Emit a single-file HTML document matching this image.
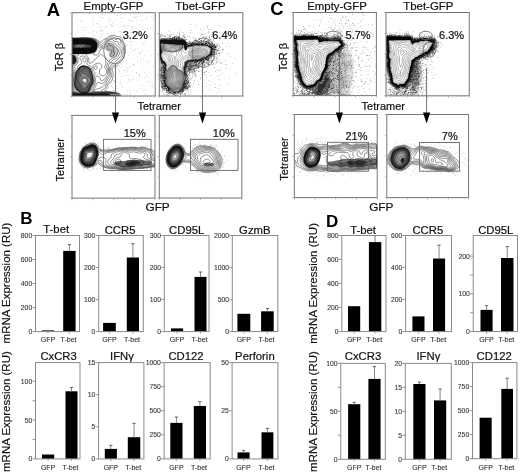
<!DOCTYPE html>
<html><head><meta charset="utf-8"><style>
html,body{margin:0;padding:0;background:#fff;width:520px;height:474px;overflow:hidden}
svg{display:block;will-change:transform}
text{font-family:"Liberation Sans", sans-serif}
</style></head><body>
<svg width="520" height="474" viewBox="0 0 520 474">
<rect width="520" height="474" fill="#fff"/>
<line x1="32.50" y1="331.60" x2="35.50" y2="331.60" stroke="#8a8a8a" stroke-width="0.9"/>
<text x="32.20" y="334.00" font-size="6.8" text-anchor="end" font-weight="normal" fill="#3a3a3a" stroke="#3a3a3a" stroke-width="0.12">0</text>
<line x1="32.50" y1="307.58" x2="35.50" y2="307.58" stroke="#8a8a8a" stroke-width="0.9"/>
<text x="32.20" y="309.98" font-size="6.8" text-anchor="end" font-weight="normal" fill="#3a3a3a" stroke="#3a3a3a" stroke-width="0.12">200</text>
<line x1="32.50" y1="283.55" x2="35.50" y2="283.55" stroke="#8a8a8a" stroke-width="0.9"/>
<text x="32.20" y="285.95" font-size="6.8" text-anchor="end" font-weight="normal" fill="#3a3a3a" stroke="#3a3a3a" stroke-width="0.12">400</text>
<line x1="32.50" y1="259.52" x2="35.50" y2="259.52" stroke="#8a8a8a" stroke-width="0.9"/>
<text x="32.20" y="261.92" font-size="6.8" text-anchor="end" font-weight="normal" fill="#3a3a3a" stroke="#3a3a3a" stroke-width="0.12">600</text>
<line x1="32.50" y1="235.50" x2="35.50" y2="235.50" stroke="#8a8a8a" stroke-width="0.9"/>
<text x="32.20" y="237.90" font-size="6.8" text-anchor="end" font-weight="normal" fill="#3a3a3a" stroke="#3a3a3a" stroke-width="0.12">800</text>
<rect x="41.80" y="330.40" width="12.30" height="1.20" fill="#000"/>
<line x1="47.95" y1="331.60" x2="47.95" y2="333.60" stroke="#8a8a8a" stroke-width="0.8"/>
<text x="47.95" y="341.60" font-size="7.0" text-anchor="middle" font-weight="normal" fill="#333" stroke="#333" stroke-width="0.12">GFP</text>
<rect x="63.20" y="250.90" width="12.40" height="80.70" fill="#000"/>
<line x1="69.40" y1="244.60" x2="69.40" y2="250.90" stroke="#777" stroke-width="0.9"/>
<line x1="67.80" y1="244.60" x2="71.00" y2="244.60" stroke="#555" stroke-width="0.9"/>
<line x1="69.40" y1="331.60" x2="69.40" y2="333.60" stroke="#8a8a8a" stroke-width="0.8"/>
<text x="68.50" y="341.60" font-size="7.0" text-anchor="middle" font-weight="normal" fill="#333" stroke="#333" stroke-width="0.12">T-bet</text>
<rect x="35.50" y="235.50" width="44.00" height="96.10" fill="none" stroke="#8a8a8a" stroke-width="1"/>
<text x="56.20" y="233.30" font-size="11.3" text-anchor="middle" font-weight="normal" fill="#111" stroke="#111" stroke-width="0.2">T-bet</text>
<line x1="95.70" y1="331.60" x2="98.70" y2="331.60" stroke="#8a8a8a" stroke-width="0.9"/>
<text x="95.40" y="334.00" font-size="6.8" text-anchor="end" font-weight="normal" fill="#3a3a3a" stroke="#3a3a3a" stroke-width="0.12">0</text>
<line x1="95.70" y1="299.57" x2="98.70" y2="299.57" stroke="#8a8a8a" stroke-width="0.9"/>
<text x="95.40" y="301.97" font-size="6.8" text-anchor="end" font-weight="normal" fill="#3a3a3a" stroke="#3a3a3a" stroke-width="0.12">100</text>
<line x1="95.70" y1="267.53" x2="98.70" y2="267.53" stroke="#8a8a8a" stroke-width="0.9"/>
<text x="95.40" y="269.93" font-size="6.8" text-anchor="end" font-weight="normal" fill="#3a3a3a" stroke="#3a3a3a" stroke-width="0.12">200</text>
<line x1="95.70" y1="235.50" x2="98.70" y2="235.50" stroke="#8a8a8a" stroke-width="0.9"/>
<text x="95.40" y="237.90" font-size="6.8" text-anchor="end" font-weight="normal" fill="#3a3a3a" stroke="#3a3a3a" stroke-width="0.12">300</text>
<rect x="103.10" y="322.90" width="12.70" height="8.70" fill="#000"/>
<line x1="109.45" y1="331.60" x2="109.45" y2="333.60" stroke="#8a8a8a" stroke-width="0.8"/>
<text x="109.45" y="341.60" font-size="7.0" text-anchor="middle" font-weight="normal" fill="#333" stroke="#333" stroke-width="0.12">GFP</text>
<rect x="126.80" y="257.50" width="12.20" height="74.10" fill="#000"/>
<line x1="132.90" y1="243.70" x2="132.90" y2="257.50" stroke="#777" stroke-width="0.9"/>
<line x1="131.30" y1="243.70" x2="134.50" y2="243.70" stroke="#555" stroke-width="0.9"/>
<line x1="132.90" y1="331.60" x2="132.90" y2="333.60" stroke="#8a8a8a" stroke-width="0.8"/>
<text x="132.00" y="341.60" font-size="7.0" text-anchor="middle" font-weight="normal" fill="#333" stroke="#333" stroke-width="0.12">T-bet</text>
<rect x="98.70" y="235.50" width="44.60" height="96.10" fill="none" stroke="#8a8a8a" stroke-width="1"/>
<text x="120.10" y="233.80" font-size="11.3" text-anchor="middle" font-weight="normal" fill="#111" stroke="#111" stroke-width="0.2">CCR5</text>
<line x1="161.30" y1="331.60" x2="164.30" y2="331.60" stroke="#8a8a8a" stroke-width="0.9"/>
<text x="161.00" y="334.00" font-size="6.8" text-anchor="end" font-weight="normal" fill="#3a3a3a" stroke="#3a3a3a" stroke-width="0.12">0</text>
<line x1="161.30" y1="299.57" x2="164.30" y2="299.57" stroke="#8a8a8a" stroke-width="0.9"/>
<text x="161.00" y="301.97" font-size="6.8" text-anchor="end" font-weight="normal" fill="#3a3a3a" stroke="#3a3a3a" stroke-width="0.12">100</text>
<line x1="161.30" y1="267.53" x2="164.30" y2="267.53" stroke="#8a8a8a" stroke-width="0.9"/>
<text x="161.00" y="269.93" font-size="6.8" text-anchor="end" font-weight="normal" fill="#3a3a3a" stroke="#3a3a3a" stroke-width="0.12">200</text>
<line x1="161.30" y1="235.50" x2="164.30" y2="235.50" stroke="#8a8a8a" stroke-width="0.9"/>
<text x="161.00" y="237.90" font-size="6.8" text-anchor="end" font-weight="normal" fill="#3a3a3a" stroke="#3a3a3a" stroke-width="0.12">300</text>
<rect x="171.00" y="328.40" width="12.10" height="3.20" fill="#000"/>
<line x1="177.05" y1="331.60" x2="177.05" y2="333.60" stroke="#8a8a8a" stroke-width="0.8"/>
<text x="177.05" y="341.60" font-size="7.0" text-anchor="middle" font-weight="normal" fill="#333" stroke="#333" stroke-width="0.12">GFP</text>
<rect x="194.50" y="276.90" width="12.00" height="54.70" fill="#000"/>
<line x1="200.50" y1="272.00" x2="200.50" y2="276.90" stroke="#777" stroke-width="0.9"/>
<line x1="198.90" y1="272.00" x2="202.10" y2="272.00" stroke="#555" stroke-width="0.9"/>
<line x1="200.50" y1="331.60" x2="200.50" y2="333.60" stroke="#8a8a8a" stroke-width="0.8"/>
<text x="199.60" y="341.60" font-size="7.0" text-anchor="middle" font-weight="normal" fill="#333" stroke="#333" stroke-width="0.12">T-bet</text>
<rect x="164.30" y="235.50" width="44.70" height="96.10" fill="none" stroke="#8a8a8a" stroke-width="1"/>
<text x="186.70" y="233.80" font-size="11.3" text-anchor="middle" font-weight="normal" fill="#111" stroke="#111" stroke-width="0.2">CD95L</text>
<line x1="229.30" y1="331.60" x2="232.30" y2="331.60" stroke="#8a8a8a" stroke-width="0.9"/>
<text x="229.00" y="334.00" font-size="6.8" text-anchor="end" font-weight="normal" fill="#3a3a3a" stroke="#3a3a3a" stroke-width="0.12">0</text>
<line x1="229.30" y1="299.80" x2="232.30" y2="299.80" stroke="#8a8a8a" stroke-width="0.9"/>
<text x="229.00" y="302.20" font-size="6.8" text-anchor="end" font-weight="normal" fill="#3a3a3a" stroke="#3a3a3a" stroke-width="0.12">500</text>
<line x1="229.30" y1="267.60" x2="232.30" y2="267.60" stroke="#8a8a8a" stroke-width="0.9"/>
<text x="229.00" y="270.00" font-size="6.8" text-anchor="end" font-weight="normal" fill="#3a3a3a" stroke="#3a3a3a" stroke-width="0.12">1000</text>
<line x1="229.30" y1="235.50" x2="232.30" y2="235.50" stroke="#8a8a8a" stroke-width="0.9"/>
<text x="229.00" y="237.90" font-size="6.8" text-anchor="end" font-weight="normal" fill="#3a3a3a" stroke="#3a3a3a" stroke-width="0.12">2000</text>
<rect x="237.40" y="313.80" width="12.90" height="17.80" fill="#000"/>
<line x1="243.85" y1="331.60" x2="243.85" y2="333.60" stroke="#8a8a8a" stroke-width="0.8"/>
<text x="243.85" y="341.60" font-size="7.0" text-anchor="middle" font-weight="normal" fill="#333" stroke="#333" stroke-width="0.12">GFP</text>
<rect x="261.10" y="311.30" width="12.60" height="20.30" fill="#000"/>
<line x1="267.40" y1="308.50" x2="267.40" y2="311.30" stroke="#777" stroke-width="0.9"/>
<line x1="265.80" y1="308.50" x2="269.00" y2="308.50" stroke="#555" stroke-width="0.9"/>
<line x1="267.40" y1="331.60" x2="267.40" y2="333.60" stroke="#8a8a8a" stroke-width="0.8"/>
<text x="266.50" y="341.60" font-size="7.0" text-anchor="middle" font-weight="normal" fill="#333" stroke="#333" stroke-width="0.12">T-bet</text>
<rect x="232.30" y="235.50" width="45.50" height="96.10" fill="none" stroke="#8a8a8a" stroke-width="1"/>
<text x="254.80" y="233.80" font-size="11.3" text-anchor="middle" font-weight="normal" fill="#111" stroke="#111" stroke-width="0.2">GzmB</text>
<line x1="32.50" y1="458.70" x2="35.50" y2="458.70" stroke="#8a8a8a" stroke-width="0.9"/>
<text x="32.20" y="461.10" font-size="6.8" text-anchor="end" font-weight="normal" fill="#3a3a3a" stroke="#3a3a3a" stroke-width="0.12">0</text>
<line x1="32.50" y1="439.40" x2="35.50" y2="439.40" stroke="#8a8a8a" stroke-width="0.9"/>
<line x1="32.50" y1="420.10" x2="35.50" y2="420.10" stroke="#8a8a8a" stroke-width="0.9"/>
<text x="32.20" y="422.50" font-size="6.8" text-anchor="end" font-weight="normal" fill="#3a3a3a" stroke="#3a3a3a" stroke-width="0.12">50</text>
<line x1="32.50" y1="400.80" x2="35.50" y2="400.80" stroke="#8a8a8a" stroke-width="0.9"/>
<line x1="32.50" y1="381.20" x2="35.50" y2="381.20" stroke="#8a8a8a" stroke-width="0.9"/>
<text x="32.20" y="383.60" font-size="6.8" text-anchor="end" font-weight="normal" fill="#3a3a3a" stroke="#3a3a3a" stroke-width="0.12">100</text>
<rect x="42.00" y="454.50" width="12.20" height="4.40" fill="#000"/>
<line x1="48.10" y1="458.90" x2="48.10" y2="460.90" stroke="#8a8a8a" stroke-width="0.8"/>
<text x="48.10" y="469.50" font-size="7.0" text-anchor="middle" font-weight="normal" fill="#333" stroke="#333" stroke-width="0.12">GFP</text>
<rect x="65.50" y="391.30" width="12.00" height="67.60" fill="#000"/>
<line x1="71.50" y1="387.50" x2="71.50" y2="391.30" stroke="#777" stroke-width="0.9"/>
<line x1="69.90" y1="387.50" x2="73.10" y2="387.50" stroke="#555" stroke-width="0.9"/>
<line x1="71.50" y1="458.90" x2="71.50" y2="460.90" stroke="#8a8a8a" stroke-width="0.8"/>
<text x="70.60" y="469.50" font-size="7.0" text-anchor="middle" font-weight="normal" fill="#333" stroke="#333" stroke-width="0.12">T-bet</text>
<rect x="35.50" y="362.60" width="44.50" height="96.30" fill="none" stroke="#8a8a8a" stroke-width="1"/>
<text x="58.60" y="359.70" font-size="11.3" text-anchor="middle" font-weight="normal" fill="#111" stroke="#111" stroke-width="0.2">CxCR3</text>
<line x1="95.60" y1="458.90" x2="98.60" y2="458.90" stroke="#8a8a8a" stroke-width="0.9"/>
<text x="95.30" y="461.30" font-size="6.8" text-anchor="end" font-weight="normal" fill="#3a3a3a" stroke="#3a3a3a" stroke-width="0.12">0</text>
<line x1="95.60" y1="426.80" x2="98.60" y2="426.80" stroke="#8a8a8a" stroke-width="0.9"/>
<text x="95.30" y="429.20" font-size="6.8" text-anchor="end" font-weight="normal" fill="#3a3a3a" stroke="#3a3a3a" stroke-width="0.12">5</text>
<line x1="95.60" y1="394.70" x2="98.60" y2="394.70" stroke="#8a8a8a" stroke-width="0.9"/>
<text x="95.30" y="397.10" font-size="6.8" text-anchor="end" font-weight="normal" fill="#3a3a3a" stroke="#3a3a3a" stroke-width="0.12">10</text>
<line x1="95.60" y1="362.60" x2="98.60" y2="362.60" stroke="#8a8a8a" stroke-width="0.9"/>
<text x="95.30" y="365.00" font-size="6.8" text-anchor="end" font-weight="normal" fill="#3a3a3a" stroke="#3a3a3a" stroke-width="0.12">15</text>
<rect x="104.80" y="448.90" width="12.10" height="10.00" fill="#000"/>
<line x1="110.85" y1="445.30" x2="110.85" y2="448.90" stroke="#777" stroke-width="0.9"/>
<line x1="109.25" y1="445.30" x2="112.45" y2="445.30" stroke="#555" stroke-width="0.9"/>
<line x1="110.85" y1="458.90" x2="110.85" y2="460.90" stroke="#8a8a8a" stroke-width="0.8"/>
<text x="110.85" y="469.50" font-size="7.0" text-anchor="middle" font-weight="normal" fill="#333" stroke="#333" stroke-width="0.12">GFP</text>
<rect x="127.80" y="437.20" width="12.50" height="21.70" fill="#000"/>
<line x1="134.05" y1="423.40" x2="134.05" y2="437.20" stroke="#777" stroke-width="0.9"/>
<line x1="132.45" y1="423.40" x2="135.65" y2="423.40" stroke="#555" stroke-width="0.9"/>
<line x1="134.05" y1="458.90" x2="134.05" y2="460.90" stroke="#8a8a8a" stroke-width="0.8"/>
<text x="133.15" y="469.50" font-size="7.0" text-anchor="middle" font-weight="normal" fill="#333" stroke="#333" stroke-width="0.12">T-bet</text>
<rect x="98.60" y="362.60" width="45.30" height="96.30" fill="none" stroke="#8a8a8a" stroke-width="1"/>
<text x="122.00" y="359.80" font-size="11.3" text-anchor="middle" font-weight="normal" fill="#111" stroke="#111" stroke-width="0.2">IFN&#947;</text>
<line x1="161.10" y1="458.90" x2="164.10" y2="458.90" stroke="#8a8a8a" stroke-width="0.9"/>
<text x="160.80" y="461.30" font-size="6.8" text-anchor="end" font-weight="normal" fill="#3a3a3a" stroke="#3a3a3a" stroke-width="0.12">0</text>
<line x1="161.10" y1="434.82" x2="164.10" y2="434.82" stroke="#8a8a8a" stroke-width="0.9"/>
<text x="160.80" y="437.22" font-size="6.8" text-anchor="end" font-weight="normal" fill="#3a3a3a" stroke="#3a3a3a" stroke-width="0.12">250</text>
<line x1="161.10" y1="410.75" x2="164.10" y2="410.75" stroke="#8a8a8a" stroke-width="0.9"/>
<text x="160.80" y="413.15" font-size="6.8" text-anchor="end" font-weight="normal" fill="#3a3a3a" stroke="#3a3a3a" stroke-width="0.12">500</text>
<line x1="161.10" y1="386.68" x2="164.10" y2="386.68" stroke="#8a8a8a" stroke-width="0.9"/>
<text x="160.80" y="389.07" font-size="6.8" text-anchor="end" font-weight="normal" fill="#3a3a3a" stroke="#3a3a3a" stroke-width="0.12">750</text>
<line x1="161.10" y1="362.60" x2="164.10" y2="362.60" stroke="#8a8a8a" stroke-width="0.9"/>
<text x="160.80" y="365.00" font-size="6.8" text-anchor="end" font-weight="normal" fill="#3a3a3a" stroke="#3a3a3a" stroke-width="0.12">1000</text>
<rect x="170.30" y="422.90" width="12.20" height="36.00" fill="#000"/>
<line x1="176.40" y1="417.00" x2="176.40" y2="422.90" stroke="#777" stroke-width="0.9"/>
<line x1="174.80" y1="417.00" x2="178.00" y2="417.00" stroke="#555" stroke-width="0.9"/>
<line x1="176.40" y1="458.90" x2="176.40" y2="460.90" stroke="#8a8a8a" stroke-width="0.8"/>
<text x="176.40" y="469.50" font-size="7.0" text-anchor="middle" font-weight="normal" fill="#333" stroke="#333" stroke-width="0.12">GFP</text>
<rect x="193.80" y="406.00" width="12.20" height="52.90" fill="#000"/>
<line x1="199.90" y1="401.70" x2="199.90" y2="406.00" stroke="#777" stroke-width="0.9"/>
<line x1="198.30" y1="401.70" x2="201.50" y2="401.70" stroke="#555" stroke-width="0.9"/>
<line x1="199.90" y1="458.90" x2="199.90" y2="460.90" stroke="#8a8a8a" stroke-width="0.8"/>
<text x="199.00" y="469.50" font-size="7.0" text-anchor="middle" font-weight="normal" fill="#333" stroke="#333" stroke-width="0.12">T-bet</text>
<rect x="164.10" y="362.60" width="46.10" height="96.30" fill="none" stroke="#8a8a8a" stroke-width="1"/>
<text x="186.00" y="359.80" font-size="11.3" text-anchor="middle" font-weight="normal" fill="#111" stroke="#111" stroke-width="0.2">CD122</text>
<line x1="229.10" y1="458.90" x2="232.10" y2="458.90" stroke="#8a8a8a" stroke-width="0.9"/>
<text x="228.80" y="461.30" font-size="6.8" text-anchor="end" font-weight="normal" fill="#3a3a3a" stroke="#3a3a3a" stroke-width="0.12">0</text>
<line x1="229.10" y1="410.75" x2="232.10" y2="410.75" stroke="#8a8a8a" stroke-width="0.9"/>
<text x="228.80" y="413.15" font-size="6.8" text-anchor="end" font-weight="normal" fill="#3a3a3a" stroke="#3a3a3a" stroke-width="0.12">25</text>
<line x1="229.10" y1="362.60" x2="232.10" y2="362.60" stroke="#8a8a8a" stroke-width="0.9"/>
<text x="228.80" y="365.00" font-size="6.8" text-anchor="end" font-weight="normal" fill="#3a3a3a" stroke="#3a3a3a" stroke-width="0.12">50</text>
<rect x="237.50" y="452.40" width="12.10" height="6.50" fill="#000"/>
<line x1="243.55" y1="450.40" x2="243.55" y2="452.40" stroke="#777" stroke-width="0.9"/>
<line x1="241.95" y1="450.40" x2="245.15" y2="450.40" stroke="#555" stroke-width="0.9"/>
<line x1="243.55" y1="458.90" x2="243.55" y2="460.90" stroke="#8a8a8a" stroke-width="0.8"/>
<text x="243.55" y="469.50" font-size="7.0" text-anchor="middle" font-weight="normal" fill="#333" stroke="#333" stroke-width="0.12">GFP</text>
<rect x="261.50" y="432.30" width="11.90" height="26.60" fill="#000"/>
<line x1="267.45" y1="428.30" x2="267.45" y2="432.30" stroke="#777" stroke-width="0.9"/>
<line x1="265.85" y1="428.30" x2="269.05" y2="428.30" stroke="#555" stroke-width="0.9"/>
<line x1="267.45" y1="458.90" x2="267.45" y2="460.90" stroke="#8a8a8a" stroke-width="0.8"/>
<text x="266.55" y="469.50" font-size="7.0" text-anchor="middle" font-weight="normal" fill="#333" stroke="#333" stroke-width="0.12">T-bet</text>
<rect x="232.10" y="362.60" width="45.80" height="96.30" fill="none" stroke="#8a8a8a" stroke-width="1"/>
<text x="254.90" y="359.80" font-size="11.3" text-anchor="middle" font-weight="normal" fill="#111" stroke="#111" stroke-width="0.2">Perforin</text>
<line x1="338.80" y1="331.60" x2="341.80" y2="331.60" stroke="#8a8a8a" stroke-width="0.9"/>
<text x="338.50" y="334.00" font-size="6.8" text-anchor="end" font-weight="normal" fill="#3a3a3a" stroke="#3a3a3a" stroke-width="0.12">0</text>
<line x1="338.80" y1="307.58" x2="341.80" y2="307.58" stroke="#8a8a8a" stroke-width="0.9"/>
<text x="338.50" y="309.98" font-size="6.8" text-anchor="end" font-weight="normal" fill="#3a3a3a" stroke="#3a3a3a" stroke-width="0.12">200</text>
<line x1="338.80" y1="283.55" x2="341.80" y2="283.55" stroke="#8a8a8a" stroke-width="0.9"/>
<text x="338.50" y="285.95" font-size="6.8" text-anchor="end" font-weight="normal" fill="#3a3a3a" stroke="#3a3a3a" stroke-width="0.12">400</text>
<line x1="338.80" y1="259.52" x2="341.80" y2="259.52" stroke="#8a8a8a" stroke-width="0.9"/>
<text x="338.50" y="261.92" font-size="6.8" text-anchor="end" font-weight="normal" fill="#3a3a3a" stroke="#3a3a3a" stroke-width="0.12">600</text>
<line x1="338.80" y1="235.50" x2="341.80" y2="235.50" stroke="#8a8a8a" stroke-width="0.9"/>
<text x="338.50" y="237.90" font-size="6.8" text-anchor="end" font-weight="normal" fill="#3a3a3a" stroke="#3a3a3a" stroke-width="0.12">800</text>
<rect x="348.00" y="306.20" width="12.20" height="25.40" fill="#000"/>
<line x1="354.10" y1="331.60" x2="354.10" y2="333.60" stroke="#8a8a8a" stroke-width="0.8"/>
<text x="354.10" y="341.80" font-size="7.0" text-anchor="middle" font-weight="normal" fill="#333" stroke="#333" stroke-width="0.12">GFP</text>
<rect x="368.90" y="242.10" width="12.40" height="89.50" fill="#000"/>
<line x1="375.10" y1="235.70" x2="375.10" y2="242.10" stroke="#777" stroke-width="0.9"/>
<line x1="373.50" y1="235.70" x2="376.70" y2="235.70" stroke="#555" stroke-width="0.9"/>
<line x1="375.10" y1="331.60" x2="375.10" y2="333.60" stroke="#8a8a8a" stroke-width="0.8"/>
<text x="374.20" y="341.80" font-size="7.0" text-anchor="middle" font-weight="normal" fill="#333" stroke="#333" stroke-width="0.12">T-bet</text>
<rect x="341.80" y="235.50" width="44.20" height="96.10" fill="none" stroke="#8a8a8a" stroke-width="1"/>
<text x="363.00" y="233.80" font-size="11.3" text-anchor="middle" font-weight="normal" fill="#111" stroke="#111" stroke-width="0.2">T-bet</text>
<line x1="402.60" y1="331.60" x2="405.60" y2="331.60" stroke="#8a8a8a" stroke-width="0.9"/>
<text x="402.30" y="334.00" font-size="6.8" text-anchor="end" font-weight="normal" fill="#3a3a3a" stroke="#3a3a3a" stroke-width="0.12">0</text>
<line x1="402.60" y1="299.57" x2="405.60" y2="299.57" stroke="#8a8a8a" stroke-width="0.9"/>
<text x="402.30" y="301.97" font-size="6.8" text-anchor="end" font-weight="normal" fill="#3a3a3a" stroke="#3a3a3a" stroke-width="0.12">200</text>
<line x1="402.60" y1="267.53" x2="405.60" y2="267.53" stroke="#8a8a8a" stroke-width="0.9"/>
<text x="402.30" y="269.93" font-size="6.8" text-anchor="end" font-weight="normal" fill="#3a3a3a" stroke="#3a3a3a" stroke-width="0.12">400</text>
<line x1="402.60" y1="235.50" x2="405.60" y2="235.50" stroke="#8a8a8a" stroke-width="0.9"/>
<text x="402.30" y="237.90" font-size="6.8" text-anchor="end" font-weight="normal" fill="#3a3a3a" stroke="#3a3a3a" stroke-width="0.12">600</text>
<rect x="412.40" y="316.40" width="12.10" height="15.20" fill="#000"/>
<line x1="418.45" y1="331.60" x2="418.45" y2="333.60" stroke="#8a8a8a" stroke-width="0.8"/>
<text x="418.45" y="341.80" font-size="7.0" text-anchor="middle" font-weight="normal" fill="#333" stroke="#333" stroke-width="0.12">GFP</text>
<rect x="433.00" y="258.50" width="12.10" height="73.10" fill="#000"/>
<line x1="439.05" y1="245.20" x2="439.05" y2="258.50" stroke="#777" stroke-width="0.9"/>
<line x1="437.45" y1="245.20" x2="440.65" y2="245.20" stroke="#555" stroke-width="0.9"/>
<line x1="439.05" y1="331.60" x2="439.05" y2="333.60" stroke="#8a8a8a" stroke-width="0.8"/>
<text x="438.15" y="341.80" font-size="7.0" text-anchor="middle" font-weight="normal" fill="#333" stroke="#333" stroke-width="0.12">T-bet</text>
<rect x="405.60" y="235.50" width="45.90" height="96.10" fill="none" stroke="#8a8a8a" stroke-width="1"/>
<text x="427.80" y="233.60" font-size="11.3" text-anchor="middle" font-weight="normal" fill="#111" stroke="#111" stroke-width="0.2">CCR5</text>
<line x1="470.20" y1="331.50" x2="473.20" y2="331.50" stroke="#8a8a8a" stroke-width="0.9"/>
<text x="469.90" y="333.90" font-size="6.8" text-anchor="end" font-weight="normal" fill="#3a3a3a" stroke="#3a3a3a" stroke-width="0.12">0</text>
<line x1="470.20" y1="312.65" x2="473.20" y2="312.65" stroke="#8a8a8a" stroke-width="0.9"/>
<line x1="470.20" y1="293.80" x2="473.20" y2="293.80" stroke="#8a8a8a" stroke-width="0.9"/>
<text x="469.90" y="296.20" font-size="6.8" text-anchor="end" font-weight="normal" fill="#3a3a3a" stroke="#3a3a3a" stroke-width="0.12">100</text>
<line x1="470.20" y1="274.95" x2="473.20" y2="274.95" stroke="#8a8a8a" stroke-width="0.9"/>
<line x1="470.20" y1="256.10" x2="473.20" y2="256.10" stroke="#8a8a8a" stroke-width="0.9"/>
<text x="469.90" y="258.50" font-size="6.8" text-anchor="end" font-weight="normal" fill="#3a3a3a" stroke="#3a3a3a" stroke-width="0.12">200</text>
<rect x="480.50" y="309.90" width="12.10" height="21.70" fill="#000"/>
<line x1="486.55" y1="305.70" x2="486.55" y2="309.90" stroke="#777" stroke-width="0.9"/>
<line x1="484.95" y1="305.70" x2="488.15" y2="305.70" stroke="#555" stroke-width="0.9"/>
<line x1="486.55" y1="331.60" x2="486.55" y2="333.60" stroke="#8a8a8a" stroke-width="0.8"/>
<text x="486.55" y="341.80" font-size="7.0" text-anchor="middle" font-weight="normal" fill="#333" stroke="#333" stroke-width="0.12">GFP</text>
<rect x="501.00" y="258.00" width="12.50" height="73.60" fill="#000"/>
<line x1="507.25" y1="246.60" x2="507.25" y2="258.00" stroke="#777" stroke-width="0.9"/>
<line x1="505.65" y1="246.60" x2="508.85" y2="246.60" stroke="#555" stroke-width="0.9"/>
<line x1="507.25" y1="331.60" x2="507.25" y2="333.60" stroke="#8a8a8a" stroke-width="0.8"/>
<text x="506.35" y="341.80" font-size="7.0" text-anchor="middle" font-weight="normal" fill="#333" stroke="#333" stroke-width="0.12">T-bet</text>
<rect x="473.20" y="235.50" width="44.30" height="96.10" fill="none" stroke="#8a8a8a" stroke-width="1"/>
<text x="495.80" y="233.60" font-size="11.3" text-anchor="middle" font-weight="normal" fill="#111" stroke="#111" stroke-width="0.2">CD95L</text>
<line x1="337.80" y1="459.30" x2="340.80" y2="459.30" stroke="#8a8a8a" stroke-width="0.9"/>
<text x="337.50" y="461.70" font-size="6.8" text-anchor="end" font-weight="normal" fill="#3a3a3a" stroke="#3a3a3a" stroke-width="0.12">0</text>
<line x1="337.80" y1="435.32" x2="340.80" y2="435.32" stroke="#8a8a8a" stroke-width="0.9"/>
<line x1="337.80" y1="411.35" x2="340.80" y2="411.35" stroke="#8a8a8a" stroke-width="0.9"/>
<text x="337.50" y="413.75" font-size="6.8" text-anchor="end" font-weight="normal" fill="#3a3a3a" stroke="#3a3a3a" stroke-width="0.12">50</text>
<line x1="337.80" y1="387.38" x2="340.80" y2="387.38" stroke="#8a8a8a" stroke-width="0.9"/>
<line x1="337.80" y1="363.40" x2="340.80" y2="363.40" stroke="#8a8a8a" stroke-width="0.9"/>
<text x="337.50" y="365.80" font-size="6.8" text-anchor="end" font-weight="normal" fill="#3a3a3a" stroke="#3a3a3a" stroke-width="0.12">100</text>
<rect x="348.10" y="404.20" width="12.20" height="55.10" fill="#000"/>
<line x1="354.20" y1="402.30" x2="354.20" y2="404.20" stroke="#777" stroke-width="0.9"/>
<line x1="352.60" y1="402.30" x2="355.80" y2="402.30" stroke="#555" stroke-width="0.9"/>
<line x1="354.20" y1="459.30" x2="354.20" y2="461.30" stroke="#8a8a8a" stroke-width="0.8"/>
<text x="354.20" y="469.60" font-size="7.0" text-anchor="middle" font-weight="normal" fill="#333" stroke="#333" stroke-width="0.12">GFP</text>
<rect x="368.40" y="378.90" width="12.20" height="80.40" fill="#000"/>
<line x1="374.50" y1="366.60" x2="374.50" y2="378.90" stroke="#777" stroke-width="0.9"/>
<line x1="372.90" y1="366.60" x2="376.10" y2="366.60" stroke="#555" stroke-width="0.9"/>
<line x1="374.50" y1="459.30" x2="374.50" y2="461.30" stroke="#8a8a8a" stroke-width="0.8"/>
<text x="373.60" y="469.60" font-size="7.0" text-anchor="middle" font-weight="normal" fill="#333" stroke="#333" stroke-width="0.12">T-bet</text>
<rect x="340.80" y="363.40" width="44.50" height="95.90" fill="none" stroke="#8a8a8a" stroke-width="1"/>
<text x="363.00" y="359.80" font-size="11.3" text-anchor="middle" font-weight="normal" fill="#111" stroke="#111" stroke-width="0.2">CxCR3</text>
<line x1="402.30" y1="459.30" x2="405.30" y2="459.30" stroke="#8a8a8a" stroke-width="0.9"/>
<text x="402.00" y="461.70" font-size="6.8" text-anchor="end" font-weight="normal" fill="#3a3a3a" stroke="#3a3a3a" stroke-width="0.12">0</text>
<line x1="402.30" y1="435.32" x2="405.30" y2="435.32" stroke="#8a8a8a" stroke-width="0.9"/>
<text x="402.00" y="437.72" font-size="6.8" text-anchor="end" font-weight="normal" fill="#3a3a3a" stroke="#3a3a3a" stroke-width="0.12">5</text>
<line x1="402.30" y1="411.35" x2="405.30" y2="411.35" stroke="#8a8a8a" stroke-width="0.9"/>
<text x="402.00" y="413.75" font-size="6.8" text-anchor="end" font-weight="normal" fill="#3a3a3a" stroke="#3a3a3a" stroke-width="0.12">10</text>
<line x1="402.30" y1="387.38" x2="405.30" y2="387.38" stroke="#8a8a8a" stroke-width="0.9"/>
<text x="402.00" y="389.77" font-size="6.8" text-anchor="end" font-weight="normal" fill="#3a3a3a" stroke="#3a3a3a" stroke-width="0.12">15</text>
<line x1="402.30" y1="363.40" x2="405.30" y2="363.40" stroke="#8a8a8a" stroke-width="0.9"/>
<text x="402.00" y="365.80" font-size="6.8" text-anchor="end" font-weight="normal" fill="#3a3a3a" stroke="#3a3a3a" stroke-width="0.12">20</text>
<rect x="413.30" y="384.00" width="12.20" height="75.30" fill="#000"/>
<line x1="419.40" y1="382.10" x2="419.40" y2="384.00" stroke="#777" stroke-width="0.9"/>
<line x1="417.80" y1="382.10" x2="421.00" y2="382.10" stroke="#555" stroke-width="0.9"/>
<line x1="419.40" y1="459.30" x2="419.40" y2="461.30" stroke="#8a8a8a" stroke-width="0.8"/>
<text x="419.40" y="469.60" font-size="7.0" text-anchor="middle" font-weight="normal" fill="#333" stroke="#333" stroke-width="0.12">GFP</text>
<rect x="434.00" y="400.40" width="12.20" height="58.90" fill="#000"/>
<line x1="440.10" y1="389.00" x2="440.10" y2="400.40" stroke="#777" stroke-width="0.9"/>
<line x1="438.50" y1="389.00" x2="441.70" y2="389.00" stroke="#555" stroke-width="0.9"/>
<line x1="440.10" y1="459.30" x2="440.10" y2="461.30" stroke="#8a8a8a" stroke-width="0.8"/>
<text x="439.20" y="469.60" font-size="7.0" text-anchor="middle" font-weight="normal" fill="#333" stroke="#333" stroke-width="0.12">T-bet</text>
<rect x="405.30" y="363.40" width="46.00" height="95.90" fill="none" stroke="#8a8a8a" stroke-width="1"/>
<text x="428.40" y="360.00" font-size="11.3" text-anchor="middle" font-weight="normal" fill="#111" stroke="#111" stroke-width="0.2">IFN&#947;</text>
<line x1="469.50" y1="458.70" x2="472.50" y2="458.70" stroke="#8a8a8a" stroke-width="0.9"/>
<text x="469.20" y="461.10" font-size="6.8" text-anchor="end" font-weight="normal" fill="#3a3a3a" stroke="#3a3a3a" stroke-width="0.12">0</text>
<line x1="469.50" y1="434.67" x2="472.50" y2="434.67" stroke="#8a8a8a" stroke-width="0.9"/>
<text x="469.20" y="437.07" font-size="6.8" text-anchor="end" font-weight="normal" fill="#3a3a3a" stroke="#3a3a3a" stroke-width="0.12">250</text>
<line x1="469.50" y1="410.65" x2="472.50" y2="410.65" stroke="#8a8a8a" stroke-width="0.9"/>
<text x="469.20" y="413.05" font-size="6.8" text-anchor="end" font-weight="normal" fill="#3a3a3a" stroke="#3a3a3a" stroke-width="0.12">500</text>
<line x1="469.50" y1="386.62" x2="472.50" y2="386.62" stroke="#8a8a8a" stroke-width="0.9"/>
<text x="469.20" y="389.02" font-size="6.8" text-anchor="end" font-weight="normal" fill="#3a3a3a" stroke="#3a3a3a" stroke-width="0.12">750</text>
<line x1="469.50" y1="362.60" x2="472.50" y2="362.60" stroke="#8a8a8a" stroke-width="0.9"/>
<text x="469.20" y="365.00" font-size="6.8" text-anchor="end" font-weight="normal" fill="#3a3a3a" stroke="#3a3a3a" stroke-width="0.12">1000</text>
<rect x="479.60" y="417.70" width="12.10" height="41.00" fill="#000"/>
<line x1="485.65" y1="458.70" x2="485.65" y2="460.70" stroke="#8a8a8a" stroke-width="0.8"/>
<text x="485.65" y="469.60" font-size="7.0" text-anchor="middle" font-weight="normal" fill="#333" stroke="#333" stroke-width="0.12">GFP</text>
<rect x="501.30" y="388.90" width="11.70" height="69.80" fill="#000"/>
<line x1="507.15" y1="378.20" x2="507.15" y2="388.90" stroke="#777" stroke-width="0.9"/>
<line x1="505.55" y1="378.20" x2="508.75" y2="378.20" stroke="#555" stroke-width="0.9"/>
<line x1="507.15" y1="458.70" x2="507.15" y2="460.70" stroke="#8a8a8a" stroke-width="0.8"/>
<text x="506.25" y="469.60" font-size="7.0" text-anchor="middle" font-weight="normal" fill="#333" stroke="#333" stroke-width="0.12">T-bet</text>
<rect x="472.50" y="362.60" width="44.40" height="96.10" fill="none" stroke="#8a8a8a" stroke-width="1"/>
<text x="494.20" y="360.40" font-size="11.3" text-anchor="middle" font-weight="normal" fill="#111" stroke="#111" stroke-width="0.2">CD122</text>
<text x="9.60" y="283.00" font-size="11.5" text-anchor="middle" font-weight="normal" fill="#111" stroke="#111" stroke-width="0.15" transform="rotate(-90 9.6 283.0)">mRNA Expression (RU)</text>
<text x="9.60" y="411.60" font-size="11.5" text-anchor="middle" font-weight="normal" fill="#111" stroke="#111" stroke-width="0.15" transform="rotate(-90 9.6 411.6)">mRNA Expression (RU)</text>
<text x="316.90" y="283.40" font-size="11.5" text-anchor="middle" font-weight="normal" fill="#111" stroke="#111" stroke-width="0.15" transform="rotate(-90 316.9 283.4)">mRNA Expression (RU)</text>
<text x="316.90" y="411.50" font-size="11.5" text-anchor="middle" font-weight="normal" fill="#111" stroke="#111" stroke-width="0.15" transform="rotate(-90 316.9 411.5)">mRNA Expression (RU)</text>
<text x="53.40" y="16.20" font-size="18.4" text-anchor="middle" font-weight="bold" fill="#000">A</text>
<text x="26.30" y="224.20" font-size="17" text-anchor="middle" font-weight="bold" fill="#000">B</text>
<text x="276.90" y="15.20" font-size="18.4" text-anchor="middle" font-weight="bold" fill="#000">C</text>
<text x="332.20" y="227.20" font-size="17" text-anchor="middle" font-weight="bold" fill="#000">D</text>
<clipPath id="ca1"><rect x="72" y="12.7" width="83.20" height="83.30"/></clipPath>
<g clip-path="url(#ca1)">
<path d="M78.2 19.8h0.6v0.6h-0.6zM111.9 69.1h0.6v0.6h-0.6zM139.9 53.8h0.6v0.6h-0.6zM121.2 21.3h0.6v0.6h-0.6zM114.0 80.9h0.6v0.6h-0.6zM114.4 75.8h0.6v0.6h-0.6zM121.6 30.8h0.6v0.6h-0.6zM138.0 39.4h0.6v0.6h-0.6zM129.5 91.5h0.6v0.6h-0.6zM141.1 69.2h0.6v0.6h-0.6zM121.8 86.4h0.6v0.6h-0.6zM140.5 16.6h0.6v0.6h-0.6zM120.9 63.2h0.6v0.6h-0.6zM82.4 27.3h0.6v0.6h-0.6zM133.0 21.5h0.6v0.6h-0.6zM122.3 66.1h0.6v0.6h-0.6zM120.8 85.6h0.6v0.6h-0.6zM117.9 69.1h0.6v0.6h-0.6zM122.2 34.3h0.6v0.6h-0.6zM81.4 34.0h0.6v0.6h-0.6zM80.7 37.1h0.6v0.6h-0.6zM144.1 42.7h0.6v0.6h-0.6zM127.0 44.4h0.6v0.6h-0.6zM116.5 68.0h0.6v0.6h-0.6zM113.5 87.7h0.6v0.6h-0.6zM102.9 37.9h0.6v0.6h-0.6zM110.5 20.7h0.6v0.6h-0.6zM128.7 78.4h0.6v0.6h-0.6zM150.3 55.7h0.6v0.6h-0.6zM101.9 40.7h0.6v0.6h-0.6zM111.0 82.0h0.6v0.6h-0.6zM135.5 49.6h0.6v0.6h-0.6zM154.7 35.7h0.6v0.6h-0.6zM92.4 18.7h0.6v0.6h-0.6zM110.2 84.0h0.6v0.6h-0.6zM93.3 22.1h0.6v0.6h-0.6zM112.3 25.1h0.6v0.6h-0.6zM152.8 65.9h0.6v0.6h-0.6zM133.9 17.0h0.6v0.6h-0.6zM111.0 86.0h0.6v0.6h-0.6zM119.8 81.1h0.6v0.6h-0.6zM115.8 91.7h0.6v0.6h-0.6zM118.8 31.5h0.6v0.6h-0.6zM99.6 35.8h0.6v0.6h-0.6zM125.1 48.9h0.6v0.6h-0.6zM150.0 27.6h0.6v0.6h-0.6zM139.5 39.5h0.6v0.6h-0.6zM84.0 29.9h0.6v0.6h-0.6zM96.4 32.7h0.6v0.6h-0.6zM129.0 88.9h0.6v0.6h-0.6zM81.1 32.2h0.6v0.6h-0.6zM106.1 90.1h0.6v0.6h-0.6zM133.7 64.4h0.6v0.6h-0.6zM115.7 88.8h0.6v0.6h-0.6zM132.4 75.0h0.6v0.6h-0.6zM106.7 37.8h0.6v0.6h-0.6zM143.2 60.0h0.6v0.6h-0.6zM138.7 88.4h0.6v0.6h-0.6zM112.8 90.8h0.6v0.6h-0.6zM120.7 13.7h0.6v0.6h-0.6zM124.6 53.1h0.6v0.6h-0.6zM136.4 16.5h0.6v0.6h-0.6zM153.2 20.4h0.6v0.6h-0.6zM155.0 46.5h0.6v0.6h-0.6zM119.6 84.4h0.6v0.6h-0.6zM123.8 25.9h0.6v0.6h-0.6zM109.5 33.9h0.6v0.6h-0.6zM145.5 31.2h0.6v0.6h-0.6zM89.0 37.0h0.6v0.6h-0.6zM120.7 64.0h0.6v0.6h-0.6zM120.9 72.9h0.6v0.6h-0.6zM104.2 14.0h0.6v0.6h-0.6zM109.9 19.5h0.6v0.6h-0.6zM139.2 53.3h0.6v0.6h-0.6zM114.9 19.9h0.6v0.6h-0.6zM125.5 60.3h0.6v0.6h-0.6zM152.0 86.6h0.6v0.6h-0.6zM127.0 52.2h0.6v0.6h-0.6zM109.6 19.0h0.6v0.6h-0.6zM126.2 70.8h0.6v0.6h-0.6zM130.4 13.8h0.6v0.6h-0.6zM92.7 31.5h0.6v0.6h-0.6zM146.6 61.1h0.6v0.6h-0.6zM151.1 16.2h0.6v0.6h-0.6zM127.0 94.8h0.6v0.6h-0.6zM109.8 91.6h0.6v0.6h-0.6zM142.6 37.5h0.6v0.6h-0.6zM144.3 70.7h0.6v0.6h-0.6zM99.1 24.2h0.6v0.6h-0.6zM118.2 82.0h0.6v0.6h-0.6zM113.4 90.5h0.6v0.6h-0.6zM137.1 60.4h0.6v0.6h-0.6zM119.5 65.7h0.6v0.6h-0.6zM145.4 88.8h0.6v0.6h-0.6zM106.7 91.7h0.6v0.6h-0.6zM127.5 68.9h0.6v0.6h-0.6zM80.4 20.9h0.6v0.6h-0.6zM114.5 82.4h0.6v0.6h-0.6zM102.1 33.8h0.6v0.6h-0.6zM129.9 66.1h0.6v0.6h-0.6zM98.1 39.7h0.6v0.6h-0.6zM86.2 26.9h0.6v0.6h-0.6zM151.0 55.2h0.6v0.6h-0.6zM143.4 43.6h0.6v0.6h-0.6zM151.9 43.8h0.6v0.6h-0.6zM151.6 38.4h0.6v0.6h-0.6zM119.8 36.4h0.6v0.6h-0.6zM116.9 14.7h0.6v0.6h-0.6zM112.3 21.9h0.6v0.6h-0.6zM91.2 15.6h0.6v0.6h-0.6zM142.2 43.2h0.6v0.6h-0.6zM102.7 17.7h0.6v0.6h-0.6zM122.8 15.9h0.6v0.6h-0.6zM149.4 60.1h0.6v0.6h-0.6zM104.9 37.1h0.6v0.6h-0.6zM122.0 31.9h0.6v0.6h-0.6zM120.4 35.3h0.6v0.6h-0.6zM152.2 25.3h0.6v0.6h-0.6zM99.1 27.3h0.6v0.6h-0.6zM116.3 36.1h0.6v0.6h-0.6zM124.9 25.3h0.6v0.6h-0.6zM148.1 36.7h0.6v0.6h-0.6zM80.6 30.5h0.6v0.6h-0.6zM120.0 67.3h0.6v0.6h-0.6zM128.9 19.2h0.6v0.6h-0.6zM141.9 90.1h0.6v0.6h-0.6zM131.3 20.0h0.6v0.6h-0.6zM144.2 54.6h0.6v0.6h-0.6zM131.9 59.0h0.6v0.6h-0.6zM146.8 61.9h0.6v0.6h-0.6zM100.3 31.5h0.6v0.6h-0.6zM149.2 83.2h0.6v0.6h-0.6zM89.6 32.3h0.6v0.6h-0.6zM114.8 90.1h0.6v0.6h-0.6zM100.3 30.5h0.6v0.6h-0.6zM108.2 87.4h0.6v0.6h-0.6zM100.0 38.3h0.6v0.6h-0.6zM131.3 79.2h0.6v0.6h-0.6zM128.7 20.5h0.6v0.6h-0.6zM92.0 32.9h0.6v0.6h-0.6zM118.7 26.6h0.6v0.6h-0.6zM131.3 81.2h0.6v0.6h-0.6zM108.1 36.4h0.6v0.6h-0.6zM99.5 41.7h0.6v0.6h-0.6zM122.2 66.0h0.6v0.6h-0.6zM118.1 81.7h0.6v0.6h-0.6zM130.8 32.6h0.6v0.6h-0.6zM124.1 14.0h0.6v0.6h-0.6zM131.5 43.5h0.6v0.6h-0.6zM134.6 35.5h0.6v0.6h-0.6zM105.0 12.6h0.6v0.6h-0.6zM155.0 17.3h0.6v0.6h-0.6zM114.1 91.5h0.6v0.6h-0.6zM128.0 25.8h0.6v0.6h-0.6zM153.7 65.7h0.6v0.6h-0.6zM142.2 26.2h0.6v0.6h-0.6zM93.6 23.8h0.6v0.6h-0.6zM143.2 58.4h0.6v0.6h-0.6zM117.7 66.6h0.6v0.6h-0.6zM73.6 37.6h0.6v0.6h-0.6zM133.0 14.0h0.6v0.6h-0.6zM96.5 23.3h0.6v0.6h-0.6zM107.5 18.0h0.6v0.6h-0.6zM102.0 30.1h0.6v0.6h-0.6zM131.4 41.3h0.6v0.6h-0.6zM144.6 89.7h0.6v0.6h-0.6zM142.4 51.1h0.6v0.6h-0.6zM136.8 43.4h0.6v0.6h-0.6zM137.1 16.0h0.6v0.6h-0.6zM121.2 82.8h0.6v0.6h-0.6zM101.2 31.4h0.6v0.6h-0.6zM115.8 24.2h0.6v0.6h-0.6zM99.8 15.8h0.6v0.6h-0.6zM100.5 41.8h0.6v0.6h-0.6zM106.9 26.5h0.6v0.6h-0.6zM153.8 16.9h0.6v0.6h-0.6zM120.3 14.2h0.6v0.6h-0.6zM131.5 21.3h0.6v0.6h-0.6zM121.5 26.4h0.6v0.6h-0.6zM152.0 82.9h0.6v0.6h-0.6zM137.6 20.2h0.6v0.6h-0.6zM144.9 40.2h0.6v0.6h-0.6zM119.2 93.4h0.6v0.6h-0.6zM110.0 82.5h0.6v0.6h-0.6zM114.1 90.6h0.6v0.6h-0.6zM131.7 53.8h0.6v0.6h-0.6zM130.5 48.1h0.6v0.6h-0.6zM97.2 35.9h0.6v0.6h-0.6zM114.1 68.8h0.6v0.6h-0.6zM88.0 33.2h0.6v0.6h-0.6zM146.4 75.0h0.6v0.6h-0.6zM96.7 23.1h0.6v0.6h-0.6zM101.6 14.3h0.6v0.6h-0.6zM140.5 85.6h0.6v0.6h-0.6zM115.3 35.3h0.6v0.6h-0.6zM108.7 91.5h0.6v0.6h-0.6zM139.1 75.8h0.6v0.6h-0.6zM128.4 55.3h0.6v0.6h-0.6zM125.2 71.9h0.6v0.6h-0.6zM107.8 85.4h0.6v0.6h-0.6zM138.4 14.0h0.6v0.6h-0.6zM132.2 63.8h0.6v0.6h-0.6zM128.1 79.3h0.6v0.6h-0.6zM130.0 94.1h0.6v0.6h-0.6zM144.7 94.3h0.6v0.6h-0.6zM120.2 17.4h0.6v0.6h-0.6zM99.0 20.4h0.6v0.6h-0.6zM108.0 36.0h0.6v0.6h-0.6zM135.3 16.8h0.6v0.6h-0.6zM139.4 74.3h0.6v0.6h-0.6zM116.8 15.3h0.6v0.6h-0.6zM127.9 74.8h0.6v0.6h-0.6zM125.4 36.2h0.6v0.6h-0.6zM99.8 17.4h0.6v0.6h-0.6zM97.0 38.0h0.6v0.6h-0.6zM131.7 50.6h0.6v0.6h-0.6zM132.9 20.0h0.6v0.6h-0.6zM134.5 28.5h0.6v0.6h-0.6zM105.6 38.8h0.6v0.6h-0.6zM146.9 76.1h0.6v0.6h-0.6zM154.9 85.4h0.6v0.6h-0.6zM100.8 40.2h0.6v0.6h-0.6zM129.0 58.6h0.6v0.6h-0.6zM81.3 36.8h0.6v0.6h-0.6zM140.0 59.1h0.6v0.6h-0.6zM152.4 18.1h0.6v0.6h-0.6zM109.4 91.6h0.6v0.6h-0.6zM93.6 31.6h0.6v0.6h-0.6zM128.2 80.3h0.6v0.6h-0.6zM139.1 24.2h0.6v0.6h-0.6zM142.3 88.2h0.6v0.6h-0.6zM135.6 18.4h0.6v0.6h-0.6zM133.5 65.3h0.6v0.6h-0.6zM136.1 19.4h0.6v0.6h-0.6zM105.0 27.1h0.6v0.6h-0.6zM101.4 29.4h0.6v0.6h-0.6zM143.6 15.2h0.6v0.6h-0.6zM146.7 51.6h0.6v0.6h-0.6zM144.1 77.6h0.6v0.6h-0.6zM132.5 71.2h0.6v0.6h-0.6zM138.6 74.6h0.6v0.6h-0.6zM74.0 13.4h0.6v0.6h-0.6zM84.2 34.7h0.6v0.6h-0.6zM97.0 31.8h0.6v0.6h-0.6zM129.2 65.9h0.6v0.6h-0.6zM130.2 92.7h0.6v0.6h-0.6zM135.2 29.5h0.6v0.6h-0.6zM150.7 81.6h0.6v0.6h-0.6zM119.8 31.1h0.6v0.6h-0.6zM101.9 36.0h0.6v0.6h-0.6zM127.5 82.6h0.6v0.6h-0.6zM139.9 52.9h0.6v0.6h-0.6zM154.1 15.5h0.6v0.6h-0.6zM140.8 27.4h0.6v0.6h-0.6zM110.7 24.3h0.6v0.6h-0.6zM131.4 45.4h0.6v0.6h-0.6zM132.4 27.4h0.6v0.6h-0.6zM135.1 34.7h0.6v0.6h-0.6zM124.0 39.1h0.6v0.6h-0.6zM71.8 23.6h0.6v0.6h-0.6zM133.7 63.9h0.6v0.6h-0.6zM125.8 67.1h0.6v0.6h-0.6zM125.3 46.3h0.6v0.6h-0.6zM106.0 25.9h0.6v0.6h-0.6zM133.0 49.9h0.6v0.6h-0.6zM93.8 30.4h0.6v0.6h-0.6zM108.4 35.8h0.6v0.6h-0.6zM96.7 30.7h0.6v0.6h-0.6zM127.3 70.4h0.6v0.6h-0.6zM122.2 17.6h0.6v0.6h-0.6zM135.2 49.2h0.6v0.6h-0.6zM91.8 26.4h0.6v0.6h-0.6zM131.4 36.7h0.6v0.6h-0.6zM114.0 80.5h0.6v0.6h-0.6zM124.5 70.6h0.6v0.6h-0.6zM116.2 35.7h0.6v0.6h-0.6zM140.8 42.3h0.6v0.6h-0.6zM136.3 72.1h0.6v0.6h-0.6zM100.9 35.5h0.6v0.6h-0.6zM115.9 76.9h0.6v0.6h-0.6zM148.3 82.3h0.6v0.6h-0.6zM115.6 78.2h0.6v0.6h-0.6zM138.3 80.2h0.6v0.6h-0.6zM127.5 25.2h0.6v0.6h-0.6zM119.0 71.6h0.6v0.6h-0.6zM76.4 36.0h0.6v0.6h-0.6zM81.2 20.5h0.6v0.6h-0.6zM111.1 32.7h0.6v0.6h-0.6zM124.9 49.0h0.6v0.6h-0.6zM94.1 36.5h0.6v0.6h-0.6zM136.4 72.7h0.6v0.6h-0.6zM132.6 28.6h0.6v0.6h-0.6zM99.3 33.4h0.6v0.6h-0.6zM102.1 17.9h0.6v0.6h-0.6zM137.6 48.6h0.6v0.6h-0.6zM130.9 44.7h0.6v0.6h-0.6zM138.7 88.7h0.6v0.6h-0.6zM144.4 72.4h0.6v0.6h-0.6zM142.0 68.2h0.6v0.6h-0.6zM133.5 18.2h0.6v0.6h-0.6zM129.5 20.3h0.6v0.6h-0.6zM152.7 30.0h0.6v0.6h-0.6zM133.3 16.2h0.6v0.6h-0.6zM106.6 33.6h0.6v0.6h-0.6zM153.2 95.6h0.6v0.6h-0.6zM152.8 26.7h0.6v0.6h-0.6zM123.1 24.7h0.6v0.6h-0.6zM115.3 86.3h0.6v0.6h-0.6zM130.8 40.9h0.6v0.6h-0.6zM117.5 88.2h0.6v0.6h-0.6zM128.0 68.6h0.6v0.6h-0.6zM137.6 61.6h0.6v0.6h-0.6zM123.2 69.8h0.6v0.6h-0.6zM140.1 38.5h0.6v0.6h-0.6zM112.7 23.5h0.6v0.6h-0.6zM125.2 52.8h0.6v0.6h-0.6zM149.0 72.6h0.6v0.6h-0.6zM94.3 36.2h0.6v0.6h-0.6zM112.1 68.5h0.6v0.6h-0.6zM112.0 87.1h0.6v0.6h-0.6zM143.4 86.0h0.6v0.6h-0.6zM112.8 79.7h0.6v0.6h-0.6zM115.4 83.1h0.6v0.6h-0.6zM133.3 79.3h0.6v0.6h-0.6zM133.0 48.9h0.6v0.6h-0.6zM106.1 38.7h0.6v0.6h-0.6zM116.9 75.0h0.6v0.6h-0.6zM129.1 52.6h0.6v0.6h-0.6zM139.2 30.2h0.6v0.6h-0.6zM121.8 76.3h0.6v0.6h-0.6zM111.6 82.9h0.6v0.6h-0.6zM154.1 33.6h0.6v0.6h-0.6zM111.9 84.0h0.6v0.6h-0.6zM120.2 35.5h0.6v0.6h-0.6zM123.1 94.2h0.6v0.6h-0.6zM133.9 52.5h0.6v0.6h-0.6zM123.7 40.7h0.6v0.6h-0.6zM99.9 42.3h0.6v0.6h-0.6zM89.0 12.8h0.6v0.6h-0.6zM112.8 26.4h0.6v0.6h-0.6zM123.2 41.8h0.6v0.6h-0.6zM131.1 30.3h0.6v0.6h-0.6zM91.9 35.4h0.6v0.6h-0.6zM155.0 19.5h0.6v0.6h-0.6zM114.2 13.7h0.6v0.6h-0.6zM106.7 38.3h0.6v0.6h-0.6zM89.9 13.3h0.6v0.6h-0.6zM127.3 68.3h0.6v0.6h-0.6zM133.6 90.4h0.6v0.6h-0.6zM148.3 80.7h0.6v0.6h-0.6zM115.8 92.0h0.6v0.6h-0.6zM137.2 56.6h0.6v0.6h-0.6zM136.8 90.6h0.6v0.6h-0.6zM122.7 61.8h0.6v0.6h-0.6zM111.1 25.8h0.6v0.6h-0.6zM142.1 20.3h0.6v0.6h-0.6zM106.7 33.9h0.6v0.6h-0.6zM116.2 81.1h0.6v0.6h-0.6zM136.3 91.0h0.6v0.6h-0.6zM112.7 82.5h0.6v0.6h-0.6zM122.3 36.7h0.6v0.6h-0.6zM114.0 80.0h0.6v0.6h-0.6zM141.1 20.7h0.6v0.6h-0.6zM125.2 31.3h0.6v0.6h-0.6zM116.3 85.6h0.6v0.6h-0.6zM135.7 13.8h0.6v0.6h-0.6zM129.4 41.2h0.6v0.6h-0.6zM131.6 26.6h0.6v0.6h-0.6zM102.2 14.0h0.6v0.6h-0.6zM127.4 90.6h0.6v0.6h-0.6zM142.6 34.3h0.6v0.6h-0.6zM120.4 63.6h0.6v0.6h-0.6zM145.8 18.4h0.6v0.6h-0.6zM105.0 37.9h0.6v0.6h-0.6zM100.3 30.1h0.6v0.6h-0.6zM147.3 17.2h0.6v0.6h-0.6zM140.7 51.6h0.6v0.6h-0.6zM127.5 44.7h0.6v0.6h-0.6zM108.8 23.4h0.6v0.6h-0.6zM77.3 30.1h0.6v0.6h-0.6zM110.9 85.3h0.6v0.6h-0.6zM120.9 63.0h0.6v0.6h-0.6zM124.5 26.7h0.6v0.6h-0.6zM94.0 17.5h0.6v0.6h-0.6zM150.8 85.4h0.6v0.6h-0.6zM140.3 62.1h0.6v0.6h-0.6zM135.6 26.4h0.6v0.6h-0.6zM125.9 37.2h0.6v0.6h-0.6zM119.0 65.3h0.6v0.6h-0.6zM77.0 24.2h0.6v0.6h-0.6zM131.2 28.3h0.6v0.6h-0.6zM113.1 80.7h0.6v0.6h-0.6zM108.8 20.6h0.6v0.6h-0.6zM83.6 34.8h0.6v0.6h-0.6zM151.9 87.2h0.6v0.6h-0.6zM121.5 31.7h0.6v0.6h-0.6zM118.9 70.6h0.6v0.6h-0.6zM115.0 76.0h0.6v0.6h-0.6zM83.9 28.5h0.6v0.6h-0.6zM100.8 38.5h0.6v0.6h-0.6zM147.3 28.8h0.6v0.6h-0.6zM125.1 75.5h0.6v0.6h-0.6zM122.4 87.2h0.6v0.6h-0.6zM143.0 29.8h0.6v0.6h-0.6zM133.1 77.5h0.6v0.6h-0.6zM101.4 26.1h0.6v0.6h-0.6zM127.1 75.0h0.6v0.6h-0.6zM155.2 70.2h0.6v0.6h-0.6zM94.5 35.4h0.6v0.6h-0.6zM137.1 56.7h0.6v0.6h-0.6zM115.2 67.3h0.6v0.6h-0.6zM109.7 83.5h0.6v0.6h-0.6zM114.3 31.9h0.6v0.6h-0.6zM114.4 71.0h0.6v0.6h-0.6zM110.2 24.2h0.6v0.6h-0.6zM125.0 52.2h0.6v0.6h-0.6zM80.8 20.7h0.6v0.6h-0.6zM114.6 19.9h0.6v0.6h-0.6zM148.3 62.4h0.6v0.6h-0.6zM155.2 47.6h0.6v0.6h-0.6z" fill="#aaa"/>
<path d="M89.0 53.8 85.0 54.1 75.0 53.9 72.0 54.1 71.7 53.2 71.6 52.2 71.5 45.7 71.6 39.7 72.0 38.4 74.5 38.6 83.0 38.4 88.5 38.6 91.0 38.9 93.0 39.4 94.5 40.2 95.9 41.2 96.9 42.7 97.4 44.7 97.2 47.7 96.4 50.2 95.3 51.7 94.0 52.6 92.0 53.3 89.0 53.8Z" fill="#0a0a0a" fill-rule="evenodd"/>
<path d="M89.5 47.7 85.5 47.7 81.0 48.1 76.5 47.9 72.0 47.5 71.8 45.2 72.0 44.4 75.0 44.5 79.5 44.0 82.0 44.1 89.0 44.8 90.5 45.2 91.3 45.7 91.6 46.2 91.4 46.7 90.9 47.2 89.5 47.7Z" fill="#4a4a4a" fill-rule="evenodd"/>
<path d="M82.0 47.2 80.0 47.2 76.5 46.8 74.9 46.2 78.2 45.2 80.5 45.0 83.0 45.3 84.4 45.7 84.9 46.2 84.2 46.7 82.0 47.2ZM88.0 46.3 87.8 46.2 88.3 46.2 88.0 46.3Z" fill="#888" fill-rule="evenodd"/>
<path d="M73.5 64.3 72.5 64.2 72.0 63.9 71.8 61.7 71.8 57.7 72.0 55.4 73.0 54.9 74.0 55.1 75.0 56.0 75.8 57.7 76.2 59.7 76.1 61.2 75.5 62.7 74.5 63.8 73.5 64.3Z" fill="#222" fill-rule="evenodd"/>
<path d="M85.0 94.8 84.0 94.8 82.0 94.1 77.0 90.6 76.0 89.5 75.0 87.7 74.4 86.2 74.1 84.7 74.5 78.2 75.3 73.2 75.6 72.2 77.5 69.6 78.6 67.7 79.5 66.8 81.5 65.8 83.5 65.2 85.0 65.4 88.0 66.4 89.4 67.2 90.3 68.2 91.3 70.2 92.7 74.2 93.5 80.7 93.4 82.2 93.0 83.7 90.8 88.2 90.0 90.8 89.3 91.7 85.0 94.8Z" fill="#333" fill-rule="evenodd"/>
<path d="M84.5 92.3 83.0 92.2 82.0 91.8 79.3 89.7 77.0 87.2 76.0 85.7 75.7 84.7 75.5 81.7 75.6 78.2 76.5 75.2 76.8 73.2 77.2 72.2 80.1 68.7 81.0 67.9 82.5 67.4 85.0 67.2 86.5 67.3 88.0 67.8 89.0 68.5 89.8 69.7 91.8 75.2 92.7 81.2 92.0 83.5 89.5 87.3 88.3 90.2 87.0 91.3 84.5 92.3Z" fill="#666" fill-rule="evenodd"/>
<path d="M85.5 88.3 85.0 88.5 84.0 88.5 82.5 87.6 81.7 86.2 80.9 83.7 79.0 81.5 78.4 80.2 78.3 79.2 78.5 78.5 80.1 76.2 80.2 73.7 80.5 73.1 81.5 72.6 84.0 72.8 86.0 72.5 87.0 75.2 89.5 77.3 90.5 79.4 90.6 80.7 90.3 81.7 85.5 88.3Z" fill="#888" fill-rule="evenodd"/>
<path d="M86.0 83.5 85.5 83.6 85.0 83.4 82.0 81.1 81.4 80.2 81.4 79.7 81.8 79.2 83.0 78.4 84.5 78.0 85.5 78.2 86.5 78.9 87.1 79.7 87.2 81.2 86.7 82.7 86.0 83.5Z" fill="#aaa" fill-rule="evenodd"/>
<path d="M85.5 81.8 84.5 81.7 83.5 81.0 83.0 80.2 83.1 79.7 83.7 79.2 84.5 79.0 85.5 79.3 86.0 79.9 86.1 80.7 86.0 81.3 85.5 81.8Z" fill="#eee" fill-rule="evenodd"/>
<path d="M113.0 57.8 111.0 58.0 110.0 57.6 109.5 56.9 109.2 56.2 108.7 52.2 108.0 51.4 106.0 50.6 105.2 49.7 105.2 48.7 106.5 45.2 107.5 43.7 108.5 43.3 111.0 43.2 112.0 43.4 113.0 43.9 116.0 46.2 118.4 48.7 118.8 49.7 119.0 50.7 118.7 52.2 117.0 55.7 116.5 56.3 115.5 57.0 113.0 57.8Z" fill="#c8c8c8" fill-rule="evenodd"/>
<path d="M113.5 55.9 112.5 56.1 111.4 55.7 111.1 55.2 110.9 54.2 111.4 52.2 111.2 51.2 110.1 50.2 108.0 49.1 107.2 48.2 107.1 47.2 107.4 46.2 108.0 45.3 108.5 45.0 109.5 44.8 110.5 44.9 112.5 45.8 113.9 47.2 115.6 50.7 115.8 51.7 115.2 54.2 114.6 55.2 113.5 55.9Z" fill="#b0b0b0" fill-rule="evenodd"/>
<path d="M111.5 95.7 106.5 96.0 85.5 96.1 72.0 96.1 71.6 95.7 71.7 94.2 72.0 93.4 83.5 93.2 92.0 93.3 96.5 93.7 100.5 93.5 107.0 93.8 109.3 94.2 111.0 94.7 111.6 95.2 111.6 95.7 111.5 95.7Z" fill="#111" fill-rule="evenodd"/>
<path d="M120.5 95.8 118.5 96.1 115.5 96.2 72.0 96.2 71.5 95.7 71.6 92.7 71.9 91.2 71.7 87.2 71.8 71.7 71.5 63.7 71.5 40.7 71.6 38.7 72.0 37.8 74.5 38.0 84.0 37.7 92.0 38.0 94.0 38.4 96.5 39.5 98.3 40.7 100.0 42.4 100.5 42.6 101.0 42.5 101.5 42.2 102.5 40.7 103.5 39.8 106.5 38.6 107.5 38.0 109.5 36.3 112.0 35.3 113.5 35.1 114.5 35.3 117.0 36.6 120.0 37.0 121.1 37.7 121.8 38.7 123.2 42.2 124.7 44.2 125.0 45.2 125.0 48.2 124.5 51.2 124.4 54.7 123.9 58.2 123.3 59.2 120.3 61.7 116.0 66.7 115.5 66.9 113.5 67.1 112.5 67.7 112.2 68.2 111.9 68.7 111.9 69.7 112.9 72.2 113.2 74.2 113.1 75.7 112.4 79.7 111.9 80.7 109.5 82.7 108.0 84.5 107.2 86.2 106.8 88.7 106.1 89.7 104.9 90.7 104.7 91.2 106.5 91.7 112.0 92.0 118.0 93.0 119.5 93.6 120.3 94.2 120.9 95.2 121.0 95.7 120.5 95.8Z" fill="none" stroke="#111" stroke-width="0.45" stroke-opacity="1.0"/>
<path d="M120.0 95.7 118.0 96.0 115.5 96.1 72.5 96.2 72.0 96.2 71.5 95.7 71.6 92.7 72.0 91.6 72.5 91.2 72.0 90.0 71.9 88.2 71.9 71.7 71.5 63.7 71.5 40.2 71.7 38.7 72.0 38.0 74.5 38.3 83.0 37.9 86.5 37.9 92.5 38.5 95.0 39.4 97.2 40.7 98.1 41.7 99.5 44.1 100.5 44.8 101.5 44.7 102.0 44.4 103.0 43.5 105.0 40.9 108.0 39.4 110.5 37.4 111.5 36.9 112.5 36.7 113.5 36.9 114.0 37.4 115.0 39.2 115.5 39.5 116.5 39.4 118.0 38.7 119.0 38.5 119.8 38.7 120.4 39.2 120.9 40.7 120.7 42.7 120.9 43.7 123.0 45.9 123.6 47.7 123.6 49.2 123.1 51.7 123.1 54.7 122.7 56.2 121.6 58.2 118.4 61.2 116.3 63.7 115.5 64.4 112.5 65.9 111.1 67.2 110.7 68.2 110.5 69.7 110.7 71.2 111.7 74.7 111.6 75.7 111.2 77.2 109.2 80.7 106.1 85.2 105.0 88.2 104.0 89.1 102.0 89.9 101.2 90.7 101.5 91.2 103.3 91.7 112.5 92.3 117.5 93.2 118.5 93.6 119.4 94.2 119.8 94.7 120.0 95.7Z" fill="none" stroke="#111" stroke-width="0.45" stroke-opacity="1.0"/>
<path d="M119.0 95.8 116.5 96.1 108.5 96.2 72.0 96.2 71.5 95.7 71.6 93.2 71.8 92.2 72.0 91.9 73.0 91.7 73.5 91.2 72.2 88.7 72.0 86.7 72.0 83.8 72.3 80.7 72.0 77.1 72.3 73.7 71.6 64.7 71.5 45.2 71.6 39.7 72.0 38.2 74.5 38.5 83.0 38.2 87.0 38.2 90.0 38.5 92.5 38.9 95.0 39.9 96.8 41.2 97.9 42.7 99.2 45.7 99.7 46.2 100.5 46.5 102.0 46.2 103.0 45.6 104.0 44.6 105.6 42.2 106.5 41.5 111.0 39.4 112.0 39.2 112.5 39.5 114.0 40.9 115.0 41.6 116.0 41.8 117.5 41.7 118.0 42.0 118.7 44.2 119.5 45.2 121.5 46.9 122.2 48.2 122.2 49.2 121.7 51.7 121.5 54.2 121.2 55.2 120.6 56.2 117.9 59.2 114.0 62.7 111.0 64.9 110.0 66.2 109.6 67.7 109.5 69.7 109.6 71.2 110.4 74.7 110.3 75.7 109.7 76.7 108.0 78.7 106.3 82.2 105.1 84.2 103.5 86.0 102.0 87.2 99.0 88.6 96.0 89.1 95.0 90.0 94.4 91.2 95.0 91.7 96.0 91.8 100.5 91.8 104.8 92.2 111.5 92.5 116.5 93.3 117.8 93.7 118.7 94.2 119.3 95.2 119.4 95.7 119.0 95.8Z" fill="none" stroke="#111" stroke-width="0.45" stroke-opacity="1.0"/>
<path d="M118.5 95.8 116.0 96.0 107.5 96.2 72.0 96.2 71.5 95.7 71.6 93.2 72.0 92.2 74.2 91.7 74.4 91.2 73.1 88.7 72.5 85.7 72.9 80.7 72.7 77.7 73.0 75.1 73.1 71.2 72.8 69.7 72.0 68.6 71.6 64.7 71.5 41.2 71.7 39.2 72.0 38.4 74.5 38.7 83.0 38.4 87.0 38.5 91.0 38.9 93.0 39.4 95.3 40.7 96.9 42.2 97.8 44.2 98.5 47.3 99.0 48.0 99.5 48.1 102.0 47.6 103.8 46.7 104.8 45.7 106.3 43.2 107.5 42.3 108.5 42.0 111.5 41.6 112.5 42.0 116.0 44.6 120.0 48.2 120.3 49.7 119.8 52.7 119.3 54.2 117.9 56.7 116.5 58.2 113.6 59.7 111.5 61.2 109.5 63.3 108.5 64.8 108.2 66.2 109.1 74.2 108.8 75.7 107.0 77.7 104.5 82.0 103.5 83.2 103.0 83.5 102.0 83.6 99.7 82.7 98.5 82.5 97.5 82.7 97.0 83.0 96.3 84.2 95.6 86.7 94.0 89.2 93.2 91.2 93.5 91.7 95.5 92.2 100.5 92.2 113.0 92.9 117.5 94.0 118.4 94.7 118.7 95.7 118.5 95.8Z" fill="none" stroke="#111" stroke-width="0.45" stroke-opacity="1.0"/>
<path d="M118.0 95.7 116.0 96.0 108.0 96.1 85.0 96.2 72.0 96.2 71.5 95.7 71.7 93.2 72.0 92.4 73.8 92.2 75.5 91.7 75.6 91.2 74.5 89.7 73.8 88.2 73.1 85.2 73.5 80.7 73.5 77.7 74.1 69.7 73.5 68.7 72.0 67.6 71.7 65.2 71.5 42.2 71.6 39.7 72.0 38.7 74.5 39.0 83.5 38.7 88.0 38.8 92.0 39.5 94.4 40.7 95.6 41.7 96.4 42.7 97.0 44.2 97.3 45.7 97.2 48.2 96.6 50.2 95.0 52.5 93.1 54.2 93.9 54.7 95.5 55.2 96.5 55.3 97.7 54.7 98.8 53.2 99.7 50.7 100.4 49.7 101.2 49.2 103.5 48.4 104.5 47.9 105.5 46.8 107.0 44.3 108.0 43.6 109.0 43.5 110.5 43.6 111.5 43.9 112.5 44.4 114.7 46.2 117.5 49.2 118.1 50.2 118.1 51.7 116.4 55.7 115.5 56.7 111.8 58.7 109.7 60.2 108.5 61.5 107.5 63.3 106.7 66.2 106.8 67.2 107.5 69.2 107.8 70.7 107.8 73.7 107.5 75.2 103.5 80.0 103.0 80.4 102.0 80.7 101.5 80.7 100.6 80.2 100.0 77.7 99.0 76.6 97.5 76.0 96.5 76.1 96.0 76.4 95.4 77.2 95.2 78.2 95.7 80.7 95.6 81.7 94.1 86.2 92.9 88.7 92.0 91.2 92.1 91.7 93.0 92.0 95.5 92.4 101.0 92.4 112.0 93.1 116.7 94.2 117.5 94.7 118.0 95.7ZM96.5 69.2 97.2 67.7 97.2 66.7 96.9 66.2 96.5 66.0 96.0 65.8 95.0 66.0 94.5 66.4 94.1 67.2 94.1 67.7 94.5 68.7 95.5 69.5 96.0 69.6 96.5 69.2Z" fill="none" stroke="#111" stroke-width="0.45" stroke-opacity="1.0"/>
<path d="M117.0 95.7 107.5 96.1 85.0 96.2 72.0 96.1 71.6 95.7 71.6 93.7 72.0 92.6 76.2 92.2 77.5 91.7 77.3 91.2 75.8 89.7 75.0 88.4 74.3 86.7 73.9 84.7 74.2 78.2 74.7 75.2 74.7 72.7 75.7 69.7 75.8 68.7 75.6 68.2 75.2 67.7 73.0 67.1 72.0 66.7 71.8 65.2 71.6 61.2 71.8 54.2 71.6 50.7 71.5 42.7 71.6 40.2 72.0 38.9 74.5 39.3 77.5 39.0 84.5 38.9 89.5 39.4 91.5 39.8 93.0 40.5 94.6 41.7 95.6 42.7 96.3 44.2 96.5 46.2 95.8 49.2 94.8 51.2 93.8 52.2 92.5 52.9 88.5 53.7 86.8 54.2 85.9 54.7 86.1 55.2 87.9 57.2 88.5 58.2 88.8 59.2 88.9 62.2 89.0 62.7 89.5 63.1 90.0 63.2 91.0 63.0 93.2 61.7 94.2 60.7 95.5 58.8 97.5 57.6 99.5 55.2 100.5 54.3 101.5 54.3 102.5 54.9 103.7 56.2 105.4 58.7 105.6 59.7 105.9 63.2 105.6 64.7 104.6 67.2 104.8 67.7 106.4 69.7 106.7 70.7 106.7 71.7 106.5 72.9 106.0 74.1 105.5 74.7 104.5 75.4 103.0 75.9 102.0 75.7 100.1 74.7 99.3 73.7 99.5 69.7 100.0 69.0 101.8 67.7 102.0 67.2 101.9 66.2 101.5 65.2 100.5 63.7 100.0 63.3 99.0 63.0 95.5 63.9 94.0 64.6 93.0 65.7 92.7 67.2 92.9 68.7 95.2 73.7 94.1 77.2 94.1 78.2 94.5 80.7 94.4 82.2 93.3 85.2 91.5 88.7 90.6 91.2 90.7 91.7 91.7 92.2 95.0 92.7 101.5 92.7 112.0 93.4 116.3 94.7 117.0 95.2 117.2 95.7 117.0 95.7ZM112.5 56.3 111.0 56.5 110.5 56.2 110.2 55.2 110.4 54.2 112.0 51.7 112.0 51.2 110.5 50.2 107.4 49.2 106.8 48.7 106.8 47.7 107.1 46.7 107.7 45.7 108.5 45.1 110.0 45.1 111.5 45.7 112.7 46.7 113.3 47.7 113.6 49.2 113.3 51.2 114.4 52.7 114.6 54.2 114.0 55.3 112.5 56.3ZM78.6 55.2 78.9 54.7 78.0 54.6 77.5 54.7 78.0 55.3 78.6 55.2Z" fill="none" stroke="#111" stroke-width="0.45" stroke-opacity="1.0"/>
<path d="M75.0 65.8 73.5 66.1 72.5 66.0 72.0 65.7 71.8 64.7 71.6 59.2 71.9 54.2 71.6 51.2 71.6 44.2 71.6 40.7 72.0 39.2 74.5 39.6 78.0 39.3 87.0 39.3 90.5 40.0 92.5 40.8 94.5 42.7 95.2 43.7 95.6 44.7 95.6 46.2 95.3 47.7 94.8 49.2 94.1 50.7 93.1 51.7 92.0 52.2 86.5 53.5 84.5 53.7 75.7 53.7 75.3 54.2 77.8 58.2 78.2 59.2 78.3 60.2 77.9 62.2 77.3 63.7 76.6 64.7 75.0 65.8ZM115.5 95.7 107.0 96.1 85.0 96.2 72.0 96.1 71.6 95.7 71.7 93.7 72.0 92.9 78.0 92.4 79.2 92.2 79.9 91.7 79.6 91.2 77.3 89.2 75.8 87.2 75.0 85.2 74.8 83.2 75.1 78.2 75.7 75.2 75.8 72.7 76.2 71.7 77.6 69.2 77.8 66.2 78.5 65.3 80.6 64.2 81.1 63.7 81.6 62.7 81.7 61.7 81.5 61.0 79.9 58.7 79.8 58.2 80.0 57.2 80.3 56.7 81.0 56.2 82.0 55.9 84.0 56.0 85.3 56.7 86.8 58.2 87.4 59.2 87.6 60.2 87.0 63.2 87.0 64.2 87.3 64.7 88.0 65.2 90.0 65.7 90.8 66.2 93.2 73.7 93.3 74.7 93.2 77.7 93.7 80.7 93.5 82.2 92.5 84.6 90.3 87.7 89.5 90.2 88.5 91.7 89.3 92.2 95.5 93.0 101.0 93.0 111.5 93.7 114.4 94.7 116.0 95.7 115.5 95.7Z" fill="none" stroke="#111" stroke-width="0.45" stroke-opacity="1.0"/>
<path d="M73.5 53.2 72.0 53.4 71.7 51.7 71.6 42.2 71.7 40.7 72.0 39.6 74.5 40.0 77.5 39.6 83.5 39.5 88.5 39.9 90.5 40.5 91.9 41.2 93.4 42.7 94.3 44.2 94.6 45.2 94.7 46.2 94.1 48.7 93.0 50.7 91.5 51.6 88.0 52.6 85.5 53.0 79.0 53.1 75.5 52.9 73.5 53.2ZM74.5 64.8 73.0 65.1 72.0 64.7 71.9 64.2 71.7 60.2 71.8 56.2 72.0 55.0 73.0 54.5 74.5 55.0 75.3 55.7 76.2 57.2 77.0 59.7 77.0 61.2 76.5 62.7 75.5 64.1 74.5 64.8ZM85.0 61.9 84.5 61.9 84.0 61.6 83.1 60.2 82.6 58.7 82.7 58.2 83.0 57.9 83.5 57.8 84.5 58.0 85.5 58.8 86.0 59.6 86.1 60.2 86.0 60.9 85.5 61.6 85.0 61.9ZM85.5 91.4 84.5 91.6 83.5 91.3 81.5 90.1 80.0 88.7 77.0 84.5 76.4 83.2 76.1 81.7 76.1 78.2 77.0 75.2 77.3 72.7 79.3 69.7 80.0 67.7 80.3 67.2 81.5 66.5 83.0 66.1 84.0 66.1 88.0 67.0 89.0 67.4 89.8 68.2 90.5 69.7 92.0 74.7 92.8 80.2 92.8 81.7 92.0 83.5 89.1 87.2 87.6 90.2 86.5 91.0 85.5 91.4ZM113.0 95.7 107.0 96.0 85.0 96.1 72.0 96.1 71.6 95.7 71.7 94.2 72.0 93.2 79.0 92.8 84.5 91.8 85.5 92.2 88.5 92.7 95.5 93.3 100.5 93.2 108.5 93.8 111.0 94.1 112.0 94.5 113.0 95.2 113.2 95.7 113.0 95.7Z" fill="none" stroke="#111" stroke-width="0.45" stroke-opacity="1.0"/>
<path d="M86.5 52.3 84.5 52.5 79.0 52.6 74.5 52.3 72.0 52.7 71.7 50.7 71.6 45.7 71.7 41.7 72.0 39.9 74.5 40.4 78.0 40.0 86.0 40.0 89.0 40.6 90.5 41.2 91.3 41.7 92.5 43.2 93.5 45.2 93.7 46.7 93.2 48.7 92.5 50.0 91.5 50.8 90.0 51.4 86.5 52.3ZM74.5 63.8 73.5 64.2 73.0 64.1 72.0 63.5 71.8 59.7 72.0 56.2 73.0 55.6 74.0 55.8 75.0 56.7 75.8 58.2 76.2 59.7 76.2 61.2 75.9 62.2 75.2 63.2 74.5 63.8ZM85.5 89.7 84.5 89.8 83.5 89.5 82.3 88.7 81.3 87.7 80.6 86.7 79.7 84.2 77.5 81.2 77.2 79.2 77.5 77.8 78.5 75.7 78.7 73.2 79.2 72.2 80.5 71.0 83.0 69.2 85.0 68.3 86.5 68.1 87.5 68.3 88.2 68.7 88.7 69.2 89.2 70.2 89.9 73.2 91.1 76.2 92.0 80.7 91.8 81.7 91.3 82.7 88.0 86.6 86.5 89.0 85.5 89.7ZM110.5 95.7 106.5 96.0 85.5 96.1 72.0 96.0 71.7 95.7 72.0 93.5 74.5 93.3 78.5 93.3 83.5 92.8 92.0 93.3 96.0 93.8 100.5 93.6 107.0 94.0 109.9 94.7 110.6 95.2 110.7 95.7 110.5 95.7Z" fill="none" stroke="#111" stroke-width="0.45" stroke-opacity="1.0"/>
<path d="M85.5 51.8 78.5 52.0 74.5 51.6 72.0 52.1 71.7 50.2 71.6 45.7 71.7 42.2 72.0 40.4 74.5 41.0 78.0 40.4 85.5 40.5 88.5 41.1 90.5 42.2 91.6 43.7 92.5 45.7 92.7 47.2 92.3 48.7 91.6 49.7 90.5 50.5 85.5 51.8ZM74.0 62.9 73.0 62.9 72.5 62.5 72.0 61.6 72.0 58.0 72.5 57.1 73.0 56.8 73.5 56.8 74.0 57.0 74.5 57.5 75.4 59.7 75.5 60.7 75.2 61.7 74.5 62.6 74.0 62.9ZM86.5 71.3 86.5 71.1 86.5 71.3ZM85.5 87.8 85.0 88.1 84.0 88.1 82.7 87.2 82.2 86.2 82.0 84.7 81.6 83.7 79.5 81.5 78.8 80.2 78.9 78.7 80.7 76.7 80.9 76.2 80.6 74.2 80.6 73.7 81.0 73.2 81.5 73.0 82.5 73.0 85.5 73.7 86.8 75.7 89.5 77.3 90.5 79.2 90.7 80.2 90.5 81.3 85.5 87.8ZM108.5 95.8 85.0 96.1 72.0 96.0 71.7 95.7 72.0 93.9 74.5 93.7 78.5 93.8 82.0 93.3 84.0 93.2 92.0 93.7 96.0 94.3 100.0 93.9 103.5 94.3 106.5 94.4 107.9 94.7 108.5 95.0 109.0 95.7 108.5 95.8Z" fill="none" stroke="#111" stroke-width="0.45" stroke-opacity="1.0"/>
<path d="M80.0 51.2 77.5 51.3 74.5 50.7 72.0 51.3 71.7 45.7 72.0 41.0 73.5 41.6 74.5 41.8 78.0 41.0 83.5 41.0 85.7 41.2 87.3 41.7 89.2 42.7 90.0 43.5 91.1 45.2 91.7 46.7 91.7 47.7 91.3 48.7 90.2 49.7 89.0 50.2 84.5 51.1 80.0 51.2ZM74.0 61.3 73.5 61.4 73.2 61.2 72.8 60.2 73.0 59.0 73.5 58.7 74.0 59.0 74.5 60.2 74.4 60.7 74.0 61.3ZM86.0 84.0 85.5 84.2 85.0 84.0 83.7 82.7 81.7 81.2 81.0 80.2 81.0 79.7 81.4 79.2 83.0 78.1 84.5 77.7 85.5 77.8 86.9 78.7 87.5 79.7 87.7 81.2 87.0 82.9 86.0 84.0ZM107.0 95.7 85.0 96.0 78.5 95.8 72.0 95.9 71.8 95.7 72.0 94.5 72.5 94.4 74.5 94.2 78.0 94.5 82.0 93.8 84.0 93.7 92.0 94.3 95.5 95.1 99.0 94.5 100.5 94.5 103.5 95.5 105.5 95.1 106.5 95.1 107.5 95.7 107.0 95.7Z" fill="none" stroke="#111" stroke-width="0.45" stroke-opacity="1.0"/>
<path d="M80.0 50.2 77.5 50.3 74.0 49.6 72.0 50.1 71.8 45.7 72.0 42.0 74.0 43.1 75.0 43.3 77.1 42.2 78.0 42.0 84.0 42.1 85.0 42.7 86.0 43.9 86.7 44.2 88.5 44.5 89.5 45.0 90.1 45.7 90.6 46.7 90.7 47.7 90.5 48.2 90.0 48.8 89.0 49.3 86.0 49.4 83.0 50.2 80.0 50.2ZM90.5 95.7 85.5 95.9 80.6 95.7 80.8 95.2 81.6 94.7 83.0 94.4 84.5 94.2 87.0 94.5 90.9 95.7 90.5 95.7ZM75.0 95.7 72.0 95.7 72.0 95.5 74.0 95.2 75.2 95.7 75.0 95.7ZM100.5 95.7 98.2 95.7 99.5 95.4 100.6 95.7 100.5 95.7Z" fill="none" stroke="#111" stroke-width="0.45" stroke-opacity="1.0"/>
<path d="M72.0 47.8 72.0 43.8 73.1 45.2 73.8 46.7 73.4 47.2 72.0 47.8ZM82.5 48.3 81.0 48.5 79.4 48.2 78.6 47.7 78.8 47.2 80.0 46.0 80.5 45.7 81.5 45.7 82.5 46.1 83.1 46.7 83.3 47.2 83.2 47.7 82.5 48.3ZM88.5 47.8 87.8 47.7 87.5 47.3 87.5 47.1 88.0 46.7 88.5 46.7 89.0 47.2 88.8 47.7 88.5 47.8ZM86.5 95.7 83.7 95.7 84.5 95.2 85.0 95.2 86.0 95.3 86.9 95.7 86.5 95.7Z" fill="none" stroke="#111" stroke-width="0.45" stroke-opacity="1.0"/>
</g>
<ellipse cx="114.5" cy="50.8" rx="10.8" ry="12.9" transform="rotate(0 114.5 50.8)" fill="none" stroke="#666" stroke-width="0.8"/>
<clipPath id="ca2"><rect x="159.3" y="12.7" width="83.50" height="83.30"/></clipPath>
<g clip-path="url(#ca2)">
<path d="M190.8 71.7 188.8 71.4 187.3 71.0 185.3 70.0 184.3 69.3 183.3 68.2 182.4 66.7 182.0 65.7 182.0 64.7 182.4 63.7 183.3 62.2 184.3 61.1 185.3 60.4 187.3 59.6 190.3 59.0 192.3 58.2 193.8 58.1 194.8 58.5 196.9 60.2 199.8 61.9 200.5 63.2 200.5 64.2 199.8 66.2 198.8 67.7 197.8 68.3 195.3 69.1 192.8 71.2 191.8 71.6 190.8 71.7Z" fill="#aaa" fill-rule="evenodd"/>
<path d="M190.3 69.4 189.3 69.4 188.3 69.1 186.3 68.0 185.2 67.2 184.5 66.2 184.2 65.2 184.3 64.2 184.8 63.2 185.8 62.1 187.3 61.5 188.3 61.5 190.8 62.3 193.3 61.3 193.8 61.3 194.8 61.7 195.9 62.7 196.7 63.7 197.0 64.7 196.9 65.2 196.3 65.9 195.3 66.3 192.8 66.5 192.0 66.7 191.6 67.2 191.1 68.7 190.3 69.4Z" fill="#707070" fill-rule="evenodd"/>
<path d="M163.8 89.7 163.3 90.1 162.8 89.9 161.8 88.8 161.2 87.7 160.8 86.2 160.6 82.2 159.8 78.2 160.0 73.7 159.5 69.7 159.7 67.7 160.0 66.7 160.6 65.7 161.3 65.1 162.3 64.9 163.3 65.2 164.7 67.2 165.8 70.0 166.3 72.7 166.0 76.7 166.4 80.7 166.3 83.2 165.8 85.2 163.8 89.7Z" fill="#aaa" fill-rule="evenodd"/>
<path d="M175.3 94.3 174.3 94.6 173.3 94.5 171.3 93.5 167.8 93.0 166.8 92.6 166.1 91.7 165.5 89.2 164.8 88.3 162.8 86.3 162.0 84.7 161.6 82.2 161.8 80.2 161.4 77.2 161.8 73.7 161.5 70.7 161.0 68.7 161.4 65.7 159.3 61.0 159.3 39.2 160.8 38.3 162.3 37.8 163.3 37.8 166.3 38.2 169.8 38.2 172.8 37.5 174.8 36.5 176.3 36.4 177.8 36.6 182.3 38.0 183.8 38.6 184.8 39.5 186.1 41.7 187.3 43.1 187.8 43.4 190.8 42.6 192.3 41.7 194.8 40.9 195.8 40.9 199.3 41.6 202.8 41.6 204.8 41.4 206.8 40.7 207.8 41.1 210.3 43.2 212.8 43.9 214.8 45.2 215.8 46.3 216.3 47.2 216.5 48.2 216.3 49.4 215.1 51.2 215.1 52.2 214.9 53.2 214.0 55.2 213.3 56.1 211.3 57.7 210.3 58.2 208.3 60.4 207.3 60.7 205.8 60.8 204.3 61.8 201.8 62.1 197.3 63.7 195.8 64.5 194.8 64.6 192.3 64.4 191.3 64.7 189.3 64.3 188.5 64.7 188.6 66.7 188.2 71.2 187.3 74.2 187.4 75.2 188.0 77.7 187.8 80.2 188.2 85.2 187.8 87.2 187.3 88.0 185.3 89.3 183.6 91.7 182.3 92.6 180.8 93.0 178.3 93.3 175.3 94.3Z" fill="#b4b4b4" fill-rule="evenodd"/>
<path d="M175.3 92.8 173.8 92.8 172.3 91.7 169.3 90.8 168.3 90.9 167.8 90.6 165.8 87.7 163.7 85.7 163.2 84.7 163.2 81.7 163.4 79.7 162.9 76.7 163.0 74.2 162.6 69.7 162.9 65.2 161.2 62.7 159.3 57.7 159.3 40.6 160.8 39.7 162.8 39.3 164.3 39.3 167.8 40.1 169.3 40.1 171.8 39.7 174.8 39.4 175.6 39.2 176.8 38.4 177.8 38.3 181.3 39.0 183.3 39.8 184.6 41.2 185.1 42.2 186.4 43.7 187.3 44.4 190.8 43.6 192.8 42.8 195.3 42.5 198.8 43.3 201.3 42.8 203.3 43.0 205.8 43.7 207.8 43.9 209.3 44.6 211.3 44.8 212.8 45.4 214.0 46.7 214.5 48.2 214.0 49.7 213.5 50.7 213.6 52.7 213.0 54.2 212.3 55.2 210.3 56.6 209.3 57.1 207.3 59.2 206.3 59.5 205.3 59.5 203.3 59.9 202.3 60.6 201.3 60.8 200.3 61.5 198.3 62.1 196.8 62.3 195.3 63.0 194.3 63.0 191.8 62.5 190.8 62.8 188.8 62.7 187.8 63.3 187.3 63.9 187.1 64.2 187.1 66.2 186.7 69.2 186.6 71.7 186.1 74.2 186.7 77.7 186.0 80.2 186.0 82.2 186.4 83.7 186.3 85.2 185.6 86.2 185.3 87.2 183.0 90.2 181.8 91.3 179.3 92.2 175.3 92.8Z" fill="#606060" fill-rule="evenodd"/>
<path d="M178.3 91.2 174.3 91.1 173.8 91.0 173.3 90.6 170.8 89.9 169.8 89.3 168.8 89.3 168.0 88.7 167.7 88.2 165.7 86.2 165.0 85.2 164.5 84.2 164.4 83.7 164.6 79.2 164.1 76.2 163.8 72.2 164.4 68.7 164.0 67.7 164.0 66.7 164.5 65.2 163.7 63.7 162.3 62.4 161.8 61.7 161.2 60.2 161.0 59.2 159.8 56.2 159.6 54.2 160.0 51.7 159.4 50.7 160.0 49.2 159.4 46.7 159.4 43.2 159.5 42.2 160.0 41.2 160.8 40.7 163.3 40.3 164.3 40.4 167.2 41.2 168.8 41.4 170.3 41.4 173.3 40.9 175.8 41.1 176.8 40.9 178.8 39.9 180.3 39.9 182.3 40.4 183.3 41.1 184.3 42.8 186.0 44.7 186.3 45.8 187.3 45.4 188.3 45.4 189.8 44.8 191.3 44.7 192.8 44.2 194.3 44.1 195.3 43.9 197.8 44.6 198.8 44.6 201.3 44.0 203.3 44.1 205.5 44.7 207.8 45.0 208.8 45.7 211.8 47.1 212.6 48.2 212.7 48.7 212.5 49.7 212.1 50.2 212.3 52.2 211.8 53.7 209.6 55.7 208.8 56.1 206.3 58.4 205.8 58.5 204.8 58.3 202.8 58.5 200.3 60.2 198.3 60.9 196.3 60.9 194.8 61.4 191.8 60.9 191.3 60.9 190.3 61.4 188.3 61.5 187.3 62.2 186.2 63.2 185.9 63.7 186.1 65.7 185.0 69.2 185.3 71.7 184.9 74.2 185.4 77.2 184.9 79.7 184.6 81.7 184.7 82.7 184.5 83.2 184.4 84.7 183.9 85.2 183.6 86.7 182.3 88.8 180.8 90.2 178.3 91.2Z" fill="#111" fill-rule="evenodd"/>
<path d="M186.7 68.0h0.6v0.6h-0.6zM159.6 41.4h0.6v0.6h-0.6zM186.9 71.7h0.6v0.6h-0.6zM207.1 44.8h0.6v0.6h-0.6zM186.9 82.1h0.6v0.6h-0.6zM159.4 47.2h0.6v0.6h-0.6zM186.5 80.5h0.6v0.6h-0.6zM162.2 38.7h0.6v0.6h-0.6zM213.9 52.4h0.6v0.6h-0.6zM178.7 37.7h0.6v0.6h-0.6zM194.0 62.0h0.6v0.6h-0.6zM185.3 79.7h0.6v0.6h-0.6zM187.3 62.7h0.6v0.6h-0.6zM195.2 39.7h0.6v0.6h-0.6zM163.7 88.3h0.6v0.6h-0.6zM159.4 52.5h0.6v0.6h-0.6zM193.7 62.7h0.6v0.6h-0.6zM187.3 44.8h0.6v0.6h-0.6zM163.8 38.3h0.6v0.6h-0.6zM163.6 73.5h0.6v0.6h-0.6zM198.1 44.2h0.6v0.6h-0.6zM159.3 57.4h0.6v0.6h-0.6zM184.6 86.6h0.6v0.6h-0.6zM194.3 70.0h0.6v0.6h-0.6zM202.4 59.0h0.6v0.6h-0.6zM187.6 68.1h0.6v0.6h-0.6zM198.4 62.9h0.6v0.6h-0.6zM185.6 71.0h0.6v0.6h-0.6zM201.9 60.2h0.6v0.6h-0.6zM209.6 57.9h0.6v0.6h-0.6zM162.7 72.8h0.6v0.6h-0.6zM163.8 64.8h0.6v0.6h-0.6zM185.4 75.9h0.6v0.6h-0.6zM161.3 74.0h0.6v0.6h-0.6zM185.5 69.1h0.6v0.6h-0.6zM204.2 60.6h0.6v0.6h-0.6zM161.1 76.8h0.6v0.6h-0.6zM165.2 40.0h0.6v0.6h-0.6zM184.6 86.0h0.6v0.6h-0.6zM196.5 43.3h0.6v0.6h-0.6zM186.4 67.0h0.6v0.6h-0.6zM187.5 70.7h0.6v0.6h-0.6zM195.4 41.9h0.6v0.6h-0.6zM199.7 42.0h0.6v0.6h-0.6zM172.5 93.8h0.6v0.6h-0.6zM163.6 74.3h0.6v0.6h-0.6zM193.6 43.2h0.6v0.6h-0.6zM177.4 92.4h0.6v0.6h-0.6zM179.2 91.0h0.6v0.6h-0.6zM186.0 84.8h0.6v0.6h-0.6zM185.3 85.9h0.6v0.6h-0.6zM208.5 44.6h0.6v0.6h-0.6zM183.9 87.0h0.6v0.6h-0.6zM177.1 39.1h0.6v0.6h-0.6zM196.6 68.6h0.6v0.6h-0.6zM164.7 90.0h0.6v0.6h-0.6zM193.2 65.1h0.6v0.6h-0.6zM188.5 66.6h0.6v0.6h-0.6zM190.7 70.5h0.6v0.6h-0.6zM202.1 62.1h0.6v0.6h-0.6zM211.1 56.4h0.6v0.6h-0.6zM172.7 93.3h0.6v0.6h-0.6zM190.2 42.5h0.6v0.6h-0.6zM169.3 93.1h0.6v0.6h-0.6zM162.4 38.5h0.6v0.6h-0.6zM185.2 88.3h0.6v0.6h-0.6zM185.5 78.6h0.6v0.6h-0.6zM163.5 88.1h0.6v0.6h-0.6zM212.6 45.0h0.6v0.6h-0.6zM171.9 40.2h0.6v0.6h-0.6zM173.4 92.8h0.6v0.6h-0.6zM178.6 39.8h0.6v0.6h-0.6zM212.3 53.5h0.6v0.6h-0.6zM205.5 43.0h0.6v0.6h-0.6zM159.2 51.1h0.6v0.6h-0.6zM205.3 41.6h0.6v0.6h-0.6zM201.6 41.4h0.6v0.6h-0.6zM188.9 61.5h0.6v0.6h-0.6zM188.4 85.6h0.6v0.6h-0.6zM201.2 40.3h0.6v0.6h-0.6zM211.9 60.5h0.6v0.6h-0.6zM201.0 63.3h0.6v0.6h-0.6zM207.9 44.6h0.6v0.6h-0.6zM162.7 72.5h0.6v0.6h-0.6zM175.8 36.7h0.6v0.6h-0.6zM161.7 73.8h0.6v0.6h-0.6zM173.1 38.2h0.6v0.6h-0.6zM198.1 64.2h0.6v0.6h-0.6zM186.3 64.1h0.6v0.6h-0.6zM164.1 86.3h0.6v0.6h-0.6zM189.2 86.0h0.6v0.6h-0.6zM186.9 83.0h0.6v0.6h-0.6zM170.8 39.7h0.6v0.6h-0.6zM186.7 45.3h0.6v0.6h-0.6zM183.1 89.1h0.6v0.6h-0.6zM203.8 65.1h0.6v0.6h-0.6zM178.1 92.4h0.6v0.6h-0.6zM214.4 53.4h0.6v0.6h-0.6zM201.7 61.5h0.6v0.6h-0.6zM191.4 67.4h0.6v0.6h-0.6zM209.8 58.7h0.6v0.6h-0.6zM179.1 37.6h0.6v0.6h-0.6zM208.5 60.2h0.6v0.6h-0.6zM197.2 61.2h0.6v0.6h-0.6zM162.9 85.8h0.6v0.6h-0.6zM207.7 43.1h0.6v0.6h-0.6zM207.8 41.9h0.6v0.6h-0.6zM164.3 80.2h0.6v0.6h-0.6zM204.4 44.0h0.6v0.6h-0.6zM165.8 39.9h0.6v0.6h-0.6zM216.2 53.2h0.6v0.6h-0.6zM166.0 86.5h0.6v0.6h-0.6zM163.0 80.2h0.6v0.6h-0.6zM188.7 44.7h0.6v0.6h-0.6zM178.6 36.0h0.6v0.6h-0.6zM188.5 68.6h0.6v0.6h-0.6zM211.3 41.0h0.6v0.6h-0.6zM206.4 59.6h0.6v0.6h-0.6zM201.1 59.9h0.6v0.6h-0.6zM184.9 88.5h0.6v0.6h-0.6zM162.7 75.3h0.6v0.6h-0.6zM185.2 40.0h0.6v0.6h-0.6zM204.3 43.2h0.6v0.6h-0.6zM175.9 39.8h0.6v0.6h-0.6zM199.2 44.4h0.6v0.6h-0.6zM212.5 46.5h0.6v0.6h-0.6zM164.0 40.3h0.6v0.6h-0.6zM214.7 46.5h0.6v0.6h-0.6zM202.6 59.9h0.6v0.6h-0.6zM177.6 40.3h0.6v0.6h-0.6zM183.5 88.1h0.6v0.6h-0.6zM199.1 43.7h0.6v0.6h-0.6zM208.6 41.7h0.6v0.6h-0.6zM173.4 39.6h0.6v0.6h-0.6zM200.4 42.4h0.6v0.6h-0.6zM214.6 52.1h0.6v0.6h-0.6zM159.4 46.9h0.6v0.6h-0.6zM203.3 61.3h0.6v0.6h-0.6zM183.2 91.5h0.6v0.6h-0.6zM175.9 95.4h0.6v0.6h-0.6zM163.6 66.5h0.6v0.6h-0.6zM180.4 93.3h0.6v0.6h-0.6zM189.3 65.8h0.6v0.6h-0.6zM182.6 89.8h0.6v0.6h-0.6zM208.5 62.0h0.6v0.6h-0.6zM205.1 38.8h0.6v0.6h-0.6zM206.2 58.8h0.6v0.6h-0.6zM209.5 60.8h0.6v0.6h-0.6zM208.6 57.9h0.6v0.6h-0.6zM206.5 41.3h0.6v0.6h-0.6zM167.7 39.6h0.6v0.6h-0.6zM171.0 38.6h0.6v0.6h-0.6zM171.3 91.5h0.6v0.6h-0.6zM159.5 53.4h0.6v0.6h-0.6zM212.0 54.2h0.6v0.6h-0.6zM183.1 91.1h0.6v0.6h-0.6zM160.0 40.7h0.6v0.6h-0.6zM209.2 42.8h0.6v0.6h-0.6zM215.6 46.4h0.6v0.6h-0.6zM208.1 60.4h0.6v0.6h-0.6zM212.8 47.1h0.6v0.6h-0.6zM207.3 58.2h0.6v0.6h-0.6zM187.2 62.6h0.6v0.6h-0.6zM194.2 70.8h0.6v0.6h-0.6zM163.9 39.0h0.6v0.6h-0.6zM186.4 69.2h0.6v0.6h-0.6zM206.4 58.9h0.6v0.6h-0.6zM200.3 42.4h0.6v0.6h-0.6zM167.8 90.2h0.6v0.6h-0.6zM183.3 39.7h0.6v0.6h-0.6zM181.9 90.9h0.6v0.6h-0.6zM194.4 62.3h0.6v0.6h-0.6zM213.0 51.4h0.6v0.6h-0.6zM203.4 42.9h0.6v0.6h-0.6zM198.1 44.4h0.6v0.6h-0.6zM174.3 93.8h0.6v0.6h-0.6zM210.0 60.7h0.6v0.6h-0.6zM161.3 71.4h0.6v0.6h-0.6zM198.7 41.8h0.6v0.6h-0.6zM177.7 39.9h0.6v0.6h-0.6zM179.8 38.0h0.6v0.6h-0.6zM186.5 81.7h0.6v0.6h-0.6zM177.6 39.4h0.6v0.6h-0.6zM161.7 74.4h0.6v0.6h-0.6zM190.3 44.9h0.6v0.6h-0.6zM186.5 63.9h0.6v0.6h-0.6zM192.4 42.1h0.6v0.6h-0.6zM180.3 94.1h0.6v0.6h-0.6zM200.0 60.9h0.6v0.6h-0.6zM183.0 89.1h0.6v0.6h-0.6zM163.8 65.6h0.6v0.6h-0.6zM216.8 49.9h0.6v0.6h-0.6zM167.0 90.5h0.6v0.6h-0.6zM182.8 90.1h0.6v0.6h-0.6zM203.5 62.0h0.6v0.6h-0.6zM208.8 61.7h0.6v0.6h-0.6zM172.7 90.9h0.6v0.6h-0.6zM159.4 46.1h0.6v0.6h-0.6zM167.7 89.2h0.6v0.6h-0.6zM192.4 42.8h0.6v0.6h-0.6zM196.6 42.3h0.6v0.6h-0.6zM211.4 61.6h0.6v0.6h-0.6zM174.1 38.5h0.6v0.6h-0.6zM179.2 92.7h0.6v0.6h-0.6zM203.9 43.2h0.6v0.6h-0.6zM187.7 86.5h0.6v0.6h-0.6zM166.3 38.7h0.6v0.6h-0.6zM173.0 91.2h0.6v0.6h-0.6zM168.1 38.5h0.6v0.6h-0.6zM171.7 90.3h0.6v0.6h-0.6zM184.5 42.9h0.6v0.6h-0.6zM187.4 62.8h0.6v0.6h-0.6zM185.9 68.9h0.6v0.6h-0.6zM193.2 61.9h0.6v0.6h-0.6zM159.1 51.9h0.6v0.6h-0.6zM189.6 44.3h0.6v0.6h-0.6zM162.6 65.9h0.6v0.6h-0.6zM209.3 39.6h0.6v0.6h-0.6zM172.2 91.6h0.6v0.6h-0.6zM188.6 78.7h0.6v0.6h-0.6zM161.9 40.2h0.6v0.6h-0.6zM174.5 92.1h0.6v0.6h-0.6zM180.2 38.7h0.6v0.6h-0.6zM206.8 41.8h0.6v0.6h-0.6zM178.7 36.7h0.6v0.6h-0.6zM163.8 84.3h0.6v0.6h-0.6zM160.7 80.6h0.6v0.6h-0.6zM165.9 89.8h0.6v0.6h-0.6zM164.9 85.6h0.6v0.6h-0.6zM209.2 44.1h0.6v0.6h-0.6zM188.9 82.8h0.6v0.6h-0.6zM198.5 61.6h0.6v0.6h-0.6zM187.3 86.9h0.6v0.6h-0.6zM173.9 93.2h0.6v0.6h-0.6zM179.2 37.0h0.6v0.6h-0.6zM177.2 91.0h0.6v0.6h-0.6zM186.3 68.8h0.6v0.6h-0.6zM159.3 47.8h0.6v0.6h-0.6zM168.9 90.8h0.6v0.6h-0.6zM177.6 91.1h0.6v0.6h-0.6zM162.9 86.4h0.6v0.6h-0.6zM193.0 42.7h0.6v0.6h-0.6zM200.4 43.7h0.6v0.6h-0.6zM168.5 90.7h0.6v0.6h-0.6zM189.2 70.8h0.6v0.6h-0.6zM198.1 44.3h0.6v0.6h-0.6zM211.0 45.7h0.6v0.6h-0.6zM209.0 61.6h0.6v0.6h-0.6zM191.3 61.8h0.6v0.6h-0.6zM207.5 58.8h0.6v0.6h-0.6zM215.3 46.3h0.6v0.6h-0.6zM178.4 39.7h0.6v0.6h-0.6zM185.9 76.0h0.6v0.6h-0.6zM160.2 40.1h0.6v0.6h-0.6zM183.8 88.3h0.6v0.6h-0.6zM203.0 61.3h0.6v0.6h-0.6zM175.3 91.2h0.6v0.6h-0.6zM178.8 91.3h0.6v0.6h-0.6zM161.7 39.2h0.6v0.6h-0.6zM164.4 81.5h0.6v0.6h-0.6zM188.8 83.8h0.6v0.6h-0.6zM166.2 90.6h0.6v0.6h-0.6zM159.9 51.5h0.6v0.6h-0.6zM178.5 91.7h0.6v0.6h-0.6zM175.2 93.1h0.6v0.6h-0.6zM188.9 86.4h0.6v0.6h-0.6zM183.3 90.2h0.6v0.6h-0.6zM181.3 90.1h0.6v0.6h-0.6zM187.8 77.2h0.6v0.6h-0.6zM216.4 51.9h0.6v0.6h-0.6zM192.5 42.8h0.6v0.6h-0.6zM170.5 92.8h0.6v0.6h-0.6zM170.5 41.3h0.6v0.6h-0.6zM172.1 38.9h0.6v0.6h-0.6zM213.6 52.6h0.6v0.6h-0.6zM208.1 63.2h0.6v0.6h-0.6zM161.1 61.8h0.6v0.6h-0.6zM189.2 44.7h0.6v0.6h-0.6zM164.0 39.6h0.6v0.6h-0.6zM203.7 60.3h0.6v0.6h-0.6zM203.6 60.0h0.6v0.6h-0.6zM214.4 46.3h0.6v0.6h-0.6zM166.8 93.8h0.6v0.6h-0.6zM213.8 58.4h0.6v0.6h-0.6zM162.0 78.5h0.6v0.6h-0.6zM207.9 40.7h0.6v0.6h-0.6zM175.4 40.1h0.6v0.6h-0.6zM214.4 47.2h0.6v0.6h-0.6zM183.5 87.6h0.6v0.6h-0.6zM162.9 72.1h0.6v0.6h-0.6zM215.5 49.1h0.6v0.6h-0.6zM174.0 93.0h0.6v0.6h-0.6zM163.7 82.7h0.6v0.6h-0.6zM201.9 60.2h0.6v0.6h-0.6zM184.5 41.0h0.6v0.6h-0.6zM193.6 40.9h0.6v0.6h-0.6zM177.3 38.1h0.6v0.6h-0.6zM183.8 41.5h0.6v0.6h-0.6zM208.7 41.4h0.6v0.6h-0.6zM161.1 81.8h0.6v0.6h-0.6zM188.5 71.6h0.6v0.6h-0.6zM199.9 40.4h0.6v0.6h-0.6zM165.4 85.9h0.6v0.6h-0.6zM161.8 77.7h0.6v0.6h-0.6zM159.4 46.2h0.6v0.6h-0.6zM179.2 38.1h0.6v0.6h-0.6zM159.5 44.1h0.6v0.6h-0.6zM187.3 75.1h0.6v0.6h-0.6zM186.4 65.6h0.6v0.6h-0.6zM215.2 46.9h0.6v0.6h-0.6zM190.5 62.9h0.6v0.6h-0.6zM162.3 63.1h0.6v0.6h-0.6zM174.0 36.5h0.6v0.6h-0.6zM182.5 38.8h0.6v0.6h-0.6zM163.2 73.0h0.6v0.6h-0.6zM209.5 44.4h0.6v0.6h-0.6zM166.7 88.6h0.6v0.6h-0.6zM165.1 40.4h0.6v0.6h-0.6zM185.3 41.4h0.6v0.6h-0.6zM184.0 88.3h0.6v0.6h-0.6zM169.3 38.6h0.6v0.6h-0.6zM184.7 37.6h0.6v0.6h-0.6zM191.6 69.2h0.6v0.6h-0.6zM186.3 44.8h0.6v0.6h-0.6zM203.6 40.3h0.6v0.6h-0.6zM170.2 92.3h0.6v0.6h-0.6zM162.5 69.8h0.6v0.6h-0.6zM166.0 92.2h0.6v0.6h-0.6zM197.1 66.2h0.6v0.6h-0.6zM160.7 76.1h0.6v0.6h-0.6zM207.8 62.0h0.6v0.6h-0.6zM188.0 81.4h0.6v0.6h-0.6zM186.1 43.3h0.6v0.6h-0.6zM165.6 91.9h0.6v0.6h-0.6zM159.3 49.7h0.6v0.6h-0.6zM173.4 90.6h0.6v0.6h-0.6zM163.7 65.3h0.6v0.6h-0.6zM166.3 38.2h0.6v0.6h-0.6zM174.2 40.5h0.6v0.6h-0.6zM168.6 91.8h0.6v0.6h-0.6zM192.8 43.7h0.6v0.6h-0.6zM170.2 40.1h0.6v0.6h-0.6zM178.0 39.2h0.6v0.6h-0.6zM204.6 62.7h0.6v0.6h-0.6zM184.6 36.6h0.6v0.6h-0.6zM186.3 84.9h0.6v0.6h-0.6zM178.7 36.8h0.6v0.6h-0.6zM213.7 52.9h0.6v0.6h-0.6zM211.5 57.7h0.6v0.6h-0.6zM159.4 56.9h0.6v0.6h-0.6zM213.8 46.5h0.6v0.6h-0.6zM180.7 90.7h0.6v0.6h-0.6zM159.5 46.0h0.6v0.6h-0.6zM205.3 44.2h0.6v0.6h-0.6zM169.7 41.3h0.6v0.6h-0.6zM188.7 78.4h0.6v0.6h-0.6zM184.3 42.6h0.6v0.6h-0.6zM190.3 44.9h0.6v0.6h-0.6zM159.2 39.0h0.6v0.6h-0.6zM164.9 86.6h0.6v0.6h-0.6zM183.1 91.2h0.6v0.6h-0.6zM200.7 60.5h0.6v0.6h-0.6zM160.6 61.3h0.6v0.6h-0.6zM209.7 43.1h0.6v0.6h-0.6zM172.3 36.8h0.6v0.6h-0.6zM163.0 69.8h0.6v0.6h-0.6zM207.4 41.9h0.6v0.6h-0.6zM187.4 63.1h0.6v0.6h-0.6zM212.7 44.5h0.6v0.6h-0.6zM163.0 74.6h0.6v0.6h-0.6zM188.2 76.8h0.6v0.6h-0.6zM164.4 40.3h0.6v0.6h-0.6zM213.7 50.8h0.6v0.6h-0.6zM163.5 38.3h0.6v0.6h-0.6zM173.5 92.5h0.6v0.6h-0.6zM205.6 40.7h0.6v0.6h-0.6zM207.6 60.7h0.6v0.6h-0.6zM163.2 68.7h0.6v0.6h-0.6zM186.2 73.1h0.6v0.6h-0.6zM215.1 54.5h0.6v0.6h-0.6zM176.7 94.2h0.6v0.6h-0.6zM165.3 88.1h0.6v0.6h-0.6zM187.0 75.7h0.6v0.6h-0.6zM163.6 88.5h0.6v0.6h-0.6zM200.6 66.0h0.6v0.6h-0.6zM168.8 92.0h0.6v0.6h-0.6zM163.4 83.2h0.6v0.6h-0.6zM171.7 38.8h0.6v0.6h-0.6zM195.6 68.5h0.6v0.6h-0.6zM206.7 42.9h0.6v0.6h-0.6zM162.4 77.7h0.6v0.6h-0.6zM168.1 39.8h0.6v0.6h-0.6zM214.5 49.9h0.6v0.6h-0.6zM189.4 43.3h0.6v0.6h-0.6zM193.5 63.3h0.6v0.6h-0.6zM183.8 39.6h0.6v0.6h-0.6zM183.7 41.8h0.6v0.6h-0.6zM169.3 94.2h0.6v0.6h-0.6zM163.1 73.0h0.6v0.6h-0.6zM162.0 75.8h0.6v0.6h-0.6zM189.6 68.9h0.6v0.6h-0.6zM202.1 59.1h0.6v0.6h-0.6zM207.2 58.7h0.6v0.6h-0.6zM159.7 48.9h0.6v0.6h-0.6zM173.8 37.2h0.6v0.6h-0.6zM205.6 40.8h0.6v0.6h-0.6zM207.7 64.2h0.6v0.6h-0.6zM159.5 45.0h0.6v0.6h-0.6zM164.5 80.7h0.6v0.6h-0.6zM204.8 62.1h0.6v0.6h-0.6zM164.2 83.6h0.6v0.6h-0.6zM159.5 39.1h0.6v0.6h-0.6zM188.1 83.4h0.6v0.6h-0.6zM205.2 43.1h0.6v0.6h-0.6zM162.8 68.9h0.6v0.6h-0.6zM174.2 92.2h0.6v0.6h-0.6zM186.0 83.8h0.6v0.6h-0.6zM204.9 43.7h0.6v0.6h-0.6zM211.4 55.7h0.6v0.6h-0.6zM192.2 61.4h0.6v0.6h-0.6zM184.4 86.2h0.6v0.6h-0.6zM163.5 40.0h0.6v0.6h-0.6zM181.9 91.7h0.6v0.6h-0.6zM171.5 40.8h0.6v0.6h-0.6zM183.9 39.6h0.6v0.6h-0.6zM173.0 37.7h0.6v0.6h-0.6zM205.8 44.0h0.6v0.6h-0.6zM194.1 62.3h0.6v0.6h-0.6zM187.4 66.1h0.6v0.6h-0.6zM174.5 40.3h0.6v0.6h-0.6zM211.0 57.6h0.6v0.6h-0.6zM201.4 65.0h0.6v0.6h-0.6zM200.4 43.5h0.6v0.6h-0.6zM194.6 43.5h0.6v0.6h-0.6zM201.7 62.9h0.6v0.6h-0.6zM177.0 36.9h0.6v0.6h-0.6zM189.9 69.0h0.6v0.6h-0.6zM185.5 74.2h0.6v0.6h-0.6zM161.7 67.5h0.6v0.6h-0.6zM159.9 49.2h0.6v0.6h-0.6zM188.9 62.6h0.6v0.6h-0.6zM187.0 64.0h0.6v0.6h-0.6zM184.1 42.0h0.6v0.6h-0.6zM194.0 43.5h0.6v0.6h-0.6zM198.7 42.7h0.6v0.6h-0.6zM212.0 41.8h0.6v0.6h-0.6zM167.5 40.6h0.6v0.6h-0.6zM185.8 74.6h0.6v0.6h-0.6zM169.5 40.6h0.6v0.6h-0.6zM163.4 73.2h0.6v0.6h-0.6zM191.3 66.2h0.6v0.6h-0.6zM174.7 36.3h0.6v0.6h-0.6zM213.1 50.8h0.6v0.6h-0.6zM171.2 90.4h0.6v0.6h-0.6zM187.7 87.3h0.6v0.6h-0.6zM212.2 54.6h0.6v0.6h-0.6zM182.4 40.0h0.6v0.6h-0.6zM163.4 74.6h0.6v0.6h-0.6zM214.4 46.3h0.6v0.6h-0.6zM167.3 37.4h0.6v0.6h-0.6zM184.7 87.1h0.6v0.6h-0.6zM185.9 80.2h0.6v0.6h-0.6zM163.1 71.5h0.6v0.6h-0.6zM180.0 91.8h0.6v0.6h-0.6zM201.7 43.9h0.6v0.6h-0.6zM187.2 71.0h0.6v0.6h-0.6zM163.4 39.1h0.6v0.6h-0.6zM185.9 81.3h0.6v0.6h-0.6zM196.4 62.8h0.6v0.6h-0.6zM176.9 40.1h0.6v0.6h-0.6zM160.9 81.0h0.6v0.6h-0.6zM162.7 81.5h0.6v0.6h-0.6zM185.7 86.3h0.6v0.6h-0.6zM212.1 54.1h0.6v0.6h-0.6zM196.8 43.0h0.6v0.6h-0.6zM171.3 40.7h0.6v0.6h-0.6zM188.4 68.0h0.6v0.6h-0.6zM159.4 44.4h0.6v0.6h-0.6zM175.0 40.1h0.6v0.6h-0.6zM210.1 55.6h0.6v0.6h-0.6zM184.5 85.8h0.6v0.6h-0.6zM191.1 61.8h0.6v0.6h-0.6zM212.6 45.8h0.6v0.6h-0.6zM213.2 49.2h0.6v0.6h-0.6zM159.2 52.9h0.6v0.6h-0.6zM183.4 90.8h0.6v0.6h-0.6zM185.2 39.5h0.6v0.6h-0.6zM193.8 40.9h0.6v0.6h-0.6zM171.1 90.2h0.6v0.6h-0.6zM185.9 88.6h0.6v0.6h-0.6zM181.3 91.1h0.6v0.6h-0.6zM202.0 62.8h0.6v0.6h-0.6zM187.9 62.0h0.6v0.6h-0.6zM189.6 42.2h0.6v0.6h-0.6zM184.7 88.2h0.6v0.6h-0.6zM164.6 87.0h0.6v0.6h-0.6zM174.1 37.7h0.6v0.6h-0.6zM160.7 39.9h0.6v0.6h-0.6zM187.2 78.1h0.6v0.6h-0.6zM159.3 52.3h0.6v0.6h-0.6zM162.9 68.6h0.6v0.6h-0.6zM190.4 62.6h0.6v0.6h-0.6zM210.1 43.5h0.6v0.6h-0.6zM187.6 67.3h0.6v0.6h-0.6zM175.5 95.3h0.6v0.6h-0.6zM211.5 59.8h0.6v0.6h-0.6zM185.4 84.7h0.6v0.6h-0.6zM209.7 45.9h0.6v0.6h-0.6zM162.8 72.6h0.6v0.6h-0.6zM164.3 82.8h0.6v0.6h-0.6zM168.5 40.3h0.6v0.6h-0.6zM189.6 62.6h0.6v0.6h-0.6zM214.7 44.5h0.6v0.6h-0.6zM217.9 49.7h0.6v0.6h-0.6zM206.5 59.2h0.6v0.6h-0.6zM163.3 75.2h0.6v0.6h-0.6zM186.8 73.7h0.6v0.6h-0.6zM203.3 42.9h0.6v0.6h-0.6zM210.4 45.4h0.6v0.6h-0.6zM186.9 88.0h0.6v0.6h-0.6zM186.3 42.7h0.6v0.6h-0.6zM176.5 37.5h0.6v0.6h-0.6zM189.9 42.7h0.6v0.6h-0.6zM199.6 62.6h0.6v0.6h-0.6zM213.1 50.1h0.6v0.6h-0.6zM163.7 84.7h0.6v0.6h-0.6zM172.8 39.1h0.6v0.6h-0.6zM167.3 40.0h0.6v0.6h-0.6zM190.3 72.2h0.6v0.6h-0.6zM159.3 48.2h0.6v0.6h-0.6zM188.0 81.9h0.6v0.6h-0.6zM198.9 62.8h0.6v0.6h-0.6zM160.9 62.6h0.6v0.6h-0.6zM189.2 43.6h0.6v0.6h-0.6zM160.9 63.2h0.6v0.6h-0.6zM163.8 80.5h0.6v0.6h-0.6zM173.9 38.3h0.6v0.6h-0.6zM193.2 63.7h0.6v0.6h-0.6zM185.7 85.0h0.6v0.6h-0.6zM211.4 43.2h0.6v0.6h-0.6zM186.8 88.3h0.6v0.6h-0.6zM216.3 46.5h0.6v0.6h-0.6zM186.8 68.9h0.6v0.6h-0.6zM195.6 65.2h0.6v0.6h-0.6zM210.5 55.9h0.6v0.6h-0.6zM175.5 39.6h0.6v0.6h-0.6zM163.0 83.3h0.6v0.6h-0.6zM184.1 85.1h0.6v0.6h-0.6zM187.5 77.9h0.6v0.6h-0.6zM188.5 67.4h0.6v0.6h-0.6zM163.3 79.1h0.6v0.6h-0.6zM213.9 49.5h0.6v0.6h-0.6zM176.2 39.0h0.6v0.6h-0.6zM209.3 57.4h0.6v0.6h-0.6zM186.2 74.5h0.6v0.6h-0.6zM213.3 56.4h0.6v0.6h-0.6zM214.6 50.9h0.6v0.6h-0.6zM183.1 39.7h0.6v0.6h-0.6zM160.9 59.7h0.6v0.6h-0.6zM208.1 59.7h0.6v0.6h-0.6zM188.4 68.9h0.6v0.6h-0.6zM164.5 83.0h0.6v0.6h-0.6zM206.4 59.3h0.6v0.6h-0.6zM207.8 43.4h0.6v0.6h-0.6zM187.7 77.3h0.6v0.6h-0.6zM161.0 75.4h0.6v0.6h-0.6zM186.2 43.6h0.6v0.6h-0.6zM200.2 60.7h0.6v0.6h-0.6zM161.5 82.6h0.6v0.6h-0.6zM205.2 43.6h0.6v0.6h-0.6zM170.6 90.6h0.6v0.6h-0.6zM186.4 65.6h0.6v0.6h-0.6zM175.0 93.3h0.6v0.6h-0.6zM175.1 93.0h0.6v0.6h-0.6zM215.2 47.6h0.6v0.6h-0.6zM177.9 40.1h0.6v0.6h-0.6zM183.9 41.6h0.6v0.6h-0.6zM212.8 54.1h0.6v0.6h-0.6zM196.2 43.0h0.6v0.6h-0.6zM199.8 65.8h0.6v0.6h-0.6zM159.2 46.0h0.6v0.6h-0.6zM187.8 85.1h0.6v0.6h-0.6zM187.0 81.6h0.6v0.6h-0.6zM208.2 58.3h0.6v0.6h-0.6zM167.0 89.3h0.6v0.6h-0.6zM177.1 37.6h0.6v0.6h-0.6zM189.3 63.1h0.6v0.6h-0.6zM185.1 89.1h0.6v0.6h-0.6zM161.0 61.1h0.6v0.6h-0.6zM163.9 69.9h0.6v0.6h-0.6zM186.5 68.0h0.6v0.6h-0.6zM186.4 66.0h0.6v0.6h-0.6zM200.4 64.5h0.6v0.6h-0.6zM212.6 43.5h0.6v0.6h-0.6zM171.7 90.3h0.6v0.6h-0.6zM177.8 92.2h0.6v0.6h-0.6zM209.5 57.3h0.6v0.6h-0.6zM168.7 89.5h0.6v0.6h-0.6zM183.7 39.6h0.6v0.6h-0.6zM216.4 46.6h0.6v0.6h-0.6zM193.3 43.3h0.6v0.6h-0.6zM182.0 90.9h0.6v0.6h-0.6zM178.7 39.1h0.6v0.6h-0.6zM178.2 39.2h0.6v0.6h-0.6zM168.1 39.9h0.6v0.6h-0.6zM181.1 91.0h0.6v0.6h-0.6zM202.5 61.9h0.6v0.6h-0.6zM173.3 39.3h0.6v0.6h-0.6zM197.1 43.5h0.6v0.6h-0.6zM159.4 45.6h0.6v0.6h-0.6zM198.5 42.2h0.6v0.6h-0.6zM176.9 37.9h0.6v0.6h-0.6zM184.8 40.1h0.6v0.6h-0.6zM179.2 91.1h0.6v0.6h-0.6zM161.5 69.2h0.6v0.6h-0.6zM174.9 95.2h0.6v0.6h-0.6zM162.2 86.9h0.6v0.6h-0.6zM206.0 40.8h0.6v0.6h-0.6zM160.7 60.8h0.6v0.6h-0.6zM164.1 83.3h0.6v0.6h-0.6zM201.2 60.9h0.6v0.6h-0.6zM205.8 43.6h0.6v0.6h-0.6zM207.6 57.9h0.6v0.6h-0.6zM178.0 40.0h0.6v0.6h-0.6zM161.5 69.0h0.6v0.6h-0.6zM192.3 62.8h0.6v0.6h-0.6zM186.9 45.2h0.6v0.6h-0.6zM192.8 71.7h0.6v0.6h-0.6zM204.1 62.7h0.6v0.6h-0.6zM207.4 39.8h0.6v0.6h-0.6zM197.7 66.7h0.6v0.6h-0.6zM188.9 43.9h0.6v0.6h-0.6zM202.1 59.4h0.6v0.6h-0.6zM188.9 61.9h0.6v0.6h-0.6zM192.1 72.8h0.6v0.6h-0.6zM172.3 38.6h0.6v0.6h-0.6zM213.0 46.7h0.6v0.6h-0.6zM185.9 75.4h0.6v0.6h-0.6zM207.2 58.5h0.6v0.6h-0.6zM177.3 38.0h0.6v0.6h-0.6zM159.4 61.8h0.6v0.6h-0.6zM172.5 92.8h0.6v0.6h-0.6zM192.8 62.0h0.6v0.6h-0.6zM202.2 43.0h0.6v0.6h-0.6zM167.3 38.6h0.6v0.6h-0.6zM210.4 56.6h0.6v0.6h-0.6zM172.2 39.8h0.6v0.6h-0.6zM200.7 41.7h0.6v0.6h-0.6zM167.8 89.3h0.6v0.6h-0.6zM186.8 44.6h0.6v0.6h-0.6zM207.2 44.4h0.6v0.6h-0.6zM204.6 58.7h0.6v0.6h-0.6zM213.9 46.8h0.6v0.6h-0.6zM164.0 72.4h0.6v0.6h-0.6zM176.2 35.5h0.6v0.6h-0.6zM185.7 71.1h0.6v0.6h-0.6zM191.1 62.0h0.6v0.6h-0.6zM159.3 60.6h0.6v0.6h-0.6zM186.9 83.5h0.6v0.6h-0.6zM186.2 69.4h0.6v0.6h-0.6zM188.2 82.0h0.6v0.6h-0.6zM162.9 83.8h0.6v0.6h-0.6zM164.4 86.0h0.6v0.6h-0.6zM163.5 77.1h0.6v0.6h-0.6zM208.3 41.9h0.6v0.6h-0.6zM206.7 61.8h0.6v0.6h-0.6zM165.1 87.8h0.6v0.6h-0.6zM159.3 67.9h0.6v0.6h-0.6zM203.3 59.1h0.6v0.6h-0.6zM211.1 55.2h0.6v0.6h-0.6zM212.8 45.6h0.6v0.6h-0.6zM185.5 75.6h0.6v0.6h-0.6zM196.2 40.8h0.6v0.6h-0.6zM199.3 42.8h0.6v0.6h-0.6zM161.9 85.7h0.6v0.6h-0.6zM201.1 41.1h0.6v0.6h-0.6zM198.4 67.9h0.6v0.6h-0.6zM203.1 63.5h0.6v0.6h-0.6zM212.4 43.8h0.6v0.6h-0.6zM202.5 63.1h0.6v0.6h-0.6zM184.8 87.3h0.6v0.6h-0.6zM215.5 46.2h0.6v0.6h-0.6zM211.2 54.5h0.6v0.6h-0.6zM207.3 60.3h0.6v0.6h-0.6zM177.1 92.2h0.6v0.6h-0.6zM201.5 42.4h0.6v0.6h-0.6zM186.6 72.2h0.6v0.6h-0.6zM163.6 81.2h0.6v0.6h-0.6zM164.3 86.4h0.6v0.6h-0.6zM175.6 38.3h0.6v0.6h-0.6zM183.7 41.2h0.6v0.6h-0.6zM164.1 81.0h0.6v0.6h-0.6zM188.5 43.1h0.6v0.6h-0.6zM187.0 75.9h0.6v0.6h-0.6zM210.7 44.8h0.6v0.6h-0.6zM186.9 63.5h0.6v0.6h-0.6zM194.8 42.7h0.6v0.6h-0.6zM162.0 76.9h0.6v0.6h-0.6zM208.3 40.2h0.6v0.6h-0.6zM205.7 42.4h0.6v0.6h-0.6zM186.0 75.3h0.6v0.6h-0.6zM178.4 38.0h0.6v0.6h-0.6zM163.8 69.8h0.6v0.6h-0.6zM207.6 58.0h0.6v0.6h-0.6zM185.3 81.1h0.6v0.6h-0.6zM183.3 36.4h0.6v0.6h-0.6zM172.4 38.7h0.6v0.6h-0.6zM187.4 44.5h0.6v0.6h-0.6zM204.5 64.8h0.6v0.6h-0.6zM195.8 64.8h0.6v0.6h-0.6zM163.8 75.7h0.6v0.6h-0.6zM162.2 84.1h0.6v0.6h-0.6zM186.7 64.5h0.6v0.6h-0.6zM186.3 63.5h0.6v0.6h-0.6zM198.0 63.5h0.6v0.6h-0.6zM159.3 50.8h0.6v0.6h-0.6zM188.8 68.0h0.6v0.6h-0.6zM161.0 60.5h0.6v0.6h-0.6zM215.4 47.3h0.6v0.6h-0.6zM187.4 69.5h0.6v0.6h-0.6zM159.8 49.9h0.6v0.6h-0.6zM164.0 80.8h0.6v0.6h-0.6zM196.9 40.7h0.6v0.6h-0.6zM163.9 71.1h0.6v0.6h-0.6zM186.8 82.3h0.6v0.6h-0.6zM159.3 44.3h0.6v0.6h-0.6zM196.9 62.5h0.6v0.6h-0.6zM201.9 43.2h0.6v0.6h-0.6zM159.8 49.3h0.6v0.6h-0.6zM190.4 44.2h0.6v0.6h-0.6zM209.3 45.8h0.6v0.6h-0.6zM215.5 52.7h0.6v0.6h-0.6zM164.2 85.4h0.6v0.6h-0.6zM191.4 62.1h0.6v0.6h-0.6zM187.4 42.5h0.6v0.6h-0.6zM190.6 44.2h0.6v0.6h-0.6zM204.8 59.0h0.6v0.6h-0.6zM188.2 64.3h0.6v0.6h-0.6zM173.4 94.1h0.6v0.6h-0.6zM215.9 50.9h0.6v0.6h-0.6zM189.1 75.0h0.6v0.6h-0.6zM187.6 45.4h0.6v0.6h-0.6zM211.8 43.8h0.6v0.6h-0.6zM186.0 39.1h0.6v0.6h-0.6zM173.3 90.7h0.6v0.6h-0.6zM183.9 40.7h0.6v0.6h-0.6zM175.8 38.8h0.6v0.6h-0.6zM186.7 64.5h0.6v0.6h-0.6zM196.6 44.4h0.6v0.6h-0.6zM193.6 69.3h0.6v0.6h-0.6zM204.1 38.8h0.6v0.6h-0.6zM181.9 38.8h0.6v0.6h-0.6zM185.9 67.9h0.6v0.6h-0.6zM162.2 64.4h0.6v0.6h-0.6zM185.0 85.1h0.6v0.6h-0.6zM197.4 44.4h0.6v0.6h-0.6zM205.2 58.6h0.6v0.6h-0.6zM192.8 65.8h0.6v0.6h-0.6zM195.6 39.2h0.6v0.6h-0.6zM160.7 75.3h0.6v0.6h-0.6zM202.0 63.1h0.6v0.6h-0.6zM208.3 60.5h0.6v0.6h-0.6zM191.8 71.6h0.6v0.6h-0.6zM187.0 65.2h0.6v0.6h-0.6zM185.5 89.9h0.6v0.6h-0.6zM213.1 49.0h0.6v0.6h-0.6zM174.7 91.9h0.6v0.6h-0.6zM187.5 42.1h0.6v0.6h-0.6zM166.1 87.3h0.6v0.6h-0.6zM214.1 43.8h0.6v0.6h-0.6zM186.6 44.1h0.6v0.6h-0.6zM172.0 39.3h0.6v0.6h-0.6zM162.3 84.4h0.6v0.6h-0.6zM188.7 70.2h0.6v0.6h-0.6zM160.7 36.6h0.6v0.6h-0.6zM211.6 56.6h0.6v0.6h-0.6zM202.9 59.6h0.6v0.6h-0.6zM164.8 36.5h0.6v0.6h-0.6zM166.5 87.3h0.6v0.6h-0.6zM165.8 92.0h0.6v0.6h-0.6zM194.3 68.5h0.6v0.6h-0.6zM188.0 79.7h0.6v0.6h-0.6zM212.2 43.0h0.6v0.6h-0.6zM190.4 44.2h0.6v0.6h-0.6zM176.5 93.3h0.6v0.6h-0.6zM161.1 60.8h0.6v0.6h-0.6zM184.5 36.8h0.6v0.6h-0.6zM166.0 87.7h0.6v0.6h-0.6zM192.5 61.4h0.6v0.6h-0.6zM160.2 66.7h0.6v0.6h-0.6zM214.6 49.1h0.6v0.6h-0.6zM176.3 91.3h0.6v0.6h-0.6zM208.4 41.4h0.6v0.6h-0.6zM202.1 64.0h0.6v0.6h-0.6zM189.5 69.6h0.6v0.6h-0.6zM161.4 40.3h0.6v0.6h-0.6zM177.3 91.4h0.6v0.6h-0.6zM188.5 80.5h0.6v0.6h-0.6zM162.4 86.1h0.6v0.6h-0.6zM185.1 41.8h0.6v0.6h-0.6zM194.2 40.1h0.6v0.6h-0.6zM162.9 72.6h0.6v0.6h-0.6zM214.0 45.5h0.6v0.6h-0.6zM161.2 68.5h0.6v0.6h-0.6zM186.6 66.1h0.6v0.6h-0.6zM188.6 66.3h0.6v0.6h-0.6zM217.7 50.1h0.6v0.6h-0.6zM195.7 64.3h0.6v0.6h-0.6zM204.5 59.2h0.6v0.6h-0.6zM185.7 68.2h0.6v0.6h-0.6zM168.0 41.0h0.6v0.6h-0.6zM201.9 40.8h0.6v0.6h-0.6zM210.0 44.2h0.6v0.6h-0.6zM161.0 62.7h0.6v0.6h-0.6zM174.2 39.3h0.6v0.6h-0.6zM207.9 58.5h0.6v0.6h-0.6zM199.9 61.0h0.6v0.6h-0.6zM169.5 41.4h0.6v0.6h-0.6zM171.8 37.8h0.6v0.6h-0.6zM214.2 53.0h0.6v0.6h-0.6zM196.4 66.0h0.6v0.6h-0.6zM188.5 42.7h0.6v0.6h-0.6zM188.7 69.3h0.6v0.6h-0.6zM186.7 76.1h0.6v0.6h-0.6zM164.2 36.5h0.6v0.6h-0.6zM200.5 60.6h0.6v0.6h-0.6zM162.6 75.2h0.6v0.6h-0.6zM213.0 47.7h0.6v0.6h-0.6zM213.8 48.3h0.6v0.6h-0.6zM208.1 44.7h0.6v0.6h-0.6zM212.7 50.8h0.6v0.6h-0.6zM211.3 55.0h0.6v0.6h-0.6zM163.1 66.2h0.6v0.6h-0.6zM160.5 60.5h0.6v0.6h-0.6zM192.5 61.2h0.6v0.6h-0.6zM176.7 40.2h0.6v0.6h-0.6zM183.6 41.7h0.6v0.6h-0.6zM205.4 59.8h0.6v0.6h-0.6zM210.0 44.5h0.6v0.6h-0.6zM162.6 87.5h0.6v0.6h-0.6zM186.5 74.9h0.6v0.6h-0.6zM167.8 90.7h0.6v0.6h-0.6zM189.0 72.3h0.6v0.6h-0.6zM179.2 92.3h0.6v0.6h-0.6zM186.2 63.8h0.6v0.6h-0.6zM163.2 73.7h0.6v0.6h-0.6zM195.9 62.2h0.6v0.6h-0.6zM167.4 92.2h0.6v0.6h-0.6zM194.7 42.9h0.6v0.6h-0.6zM184.5 41.3h0.6v0.6h-0.6zM207.0 60.2h0.6v0.6h-0.6zM204.9 43.1h0.6v0.6h-0.6zM163.3 69.2h0.6v0.6h-0.6zM186.7 80.7h0.6v0.6h-0.6zM175.1 91.5h0.6v0.6h-0.6zM192.4 43.2h0.6v0.6h-0.6zM185.1 39.9h0.6v0.6h-0.6zM212.8 48.0h0.6v0.6h-0.6zM212.4 54.8h0.6v0.6h-0.6zM173.6 40.2h0.6v0.6h-0.6zM216.8 50.5h0.6v0.6h-0.6zM201.6 60.7h0.6v0.6h-0.6zM170.2 38.7h0.6v0.6h-0.6zM180.9 37.9h0.6v0.6h-0.6zM163.0 73.4h0.6v0.6h-0.6zM161.7 72.3h0.6v0.6h-0.6zM213.4 49.4h0.6v0.6h-0.6zM186.6 45.0h0.6v0.6h-0.6zM185.8 74.0h0.6v0.6h-0.6zM182.5 89.3h0.6v0.6h-0.6zM199.6 61.6h0.6v0.6h-0.6zM188.2 87.5h0.6v0.6h-0.6zM194.7 64.0h0.6v0.6h-0.6zM168.4 89.0h0.6v0.6h-0.6zM171.4 39.4h0.6v0.6h-0.6zM209.8 43.0h0.6v0.6h-0.6zM192.7 43.4h0.6v0.6h-0.6zM211.6 46.8h0.6v0.6h-0.6zM181.6 93.6h0.6v0.6h-0.6zM212.2 46.0h0.6v0.6h-0.6zM187.8 84.9h0.6v0.6h-0.6zM163.3 66.1h0.6v0.6h-0.6zM159.1 46.4h0.6v0.6h-0.6zM172.9 38.1h0.6v0.6h-0.6zM185.1 72.8h0.6v0.6h-0.6zM170.4 39.5h0.6v0.6h-0.6zM201.9 42.8h0.6v0.6h-0.6zM188.7 62.9h0.6v0.6h-0.6zM182.0 92.6h0.6v0.6h-0.6zM179.6 93.5h0.6v0.6h-0.6zM169.6 92.0h0.6v0.6h-0.6zM206.8 62.6h0.6v0.6h-0.6zM198.2 66.7h0.6v0.6h-0.6zM188.7 80.8h0.6v0.6h-0.6zM171.1 91.3h0.6v0.6h-0.6zM212.4 42.9h0.6v0.6h-0.6zM174.2 37.9h0.6v0.6h-0.6zM188.6 64.5h0.6v0.6h-0.6zM213.9 44.5h0.6v0.6h-0.6zM204.0 61.2h0.6v0.6h-0.6zM174.6 39.4h0.6v0.6h-0.6zM159.9 70.2h0.6v0.6h-0.6zM204.8 64.6h0.6v0.6h-0.6zM203.2 41.1h0.6v0.6h-0.6zM159.5 45.5h0.6v0.6h-0.6zM159.7 56.9h0.6v0.6h-0.6zM169.2 90.1h0.6v0.6h-0.6zM199.5 43.6h0.6v0.6h-0.6zM167.8 39.5h0.6v0.6h-0.6zM163.4 85.5h0.6v0.6h-0.6zM175.5 39.4h0.6v0.6h-0.6zM182.6 40.1h0.6v0.6h-0.6zM168.9 41.2h0.6v0.6h-0.6zM203.8 60.7h0.6v0.6h-0.6zM165.9 89.6h0.6v0.6h-0.6zM163.2 66.1h0.6v0.6h-0.6zM195.3 40.3h0.6v0.6h-0.6zM188.6 66.8h0.6v0.6h-0.6zM186.6 45.3h0.6v0.6h-0.6zM163.3 39.0h0.6v0.6h-0.6zM175.0 40.5h0.6v0.6h-0.6zM164.8 86.7h0.6v0.6h-0.6zM170.4 92.6h0.6v0.6h-0.6zM163.2 85.7h0.6v0.6h-0.6zM172.9 94.2h0.6v0.6h-0.6zM184.4 87.2h0.6v0.6h-0.6zM193.9 62.3h0.6v0.6h-0.6zM185.9 86.8h0.6v0.6h-0.6zM194.0 64.7h0.6v0.6h-0.6zM203.4 43.6h0.6v0.6h-0.6zM191.4 44.7h0.6v0.6h-0.6zM181.9 38.7h0.6v0.6h-0.6zM202.1 61.7h0.6v0.6h-0.6zM213.9 48.9h0.6v0.6h-0.6zM212.1 50.6h0.6v0.6h-0.6zM164.0 85.8h0.6v0.6h-0.6zM183.9 93.0h0.6v0.6h-0.6zM204.6 44.4h0.6v0.6h-0.6zM175.6 39.2h0.6v0.6h-0.6zM186.1 84.8h0.6v0.6h-0.6zM203.6 42.9h0.6v0.6h-0.6zM183.5 90.5h0.6v0.6h-0.6zM210.5 56.3h0.6v0.6h-0.6zM214.2 48.3h0.6v0.6h-0.6zM195.0 62.3h0.6v0.6h-0.6zM188.3 63.1h0.6v0.6h-0.6zM211.7 46.5h0.6v0.6h-0.6zM170.9 38.6h0.6v0.6h-0.6zM205.7 43.2h0.6v0.6h-0.6zM189.4 62.7h0.6v0.6h-0.6zM203.8 64.7h0.6v0.6h-0.6zM171.1 91.6h0.6v0.6h-0.6zM205.1 58.9h0.6v0.6h-0.6zM186.2 86.0h0.6v0.6h-0.6zM179.0 39.6h0.6v0.6h-0.6zM197.7 66.9h0.6v0.6h-0.6zM194.0 42.2h0.6v0.6h-0.6zM211.5 46.1h0.6v0.6h-0.6zM201.3 62.4h0.6v0.6h-0.6zM202.7 58.9h0.6v0.6h-0.6zM160.1 36.6h0.6v0.6h-0.6zM177.8 91.8h0.6v0.6h-0.6zM212.8 43.8h0.6v0.6h-0.6zM164.1 88.1h0.6v0.6h-0.6zM201.2 60.1h0.6v0.6h-0.6zM191.2 72.5h0.6v0.6h-0.6zM209.6 56.6h0.6v0.6h-0.6zM216.0 54.5h0.6v0.6h-0.6zM211.6 46.0h0.6v0.6h-0.6zM187.5 70.1h0.6v0.6h-0.6zM161.2 73.0h0.6v0.6h-0.6zM189.0 72.8h0.6v0.6h-0.6zM212.6 49.6h0.6v0.6h-0.6zM181.3 39.7h0.6v0.6h-0.6zM200.6 43.6h0.6v0.6h-0.6zM213.2 49.9h0.6v0.6h-0.6zM212.9 52.9h0.6v0.6h-0.6zM171.5 91.6h0.6v0.6h-0.6zM185.0 87.3h0.6v0.6h-0.6zM208.3 42.8h0.6v0.6h-0.6zM187.5 70.6h0.6v0.6h-0.6zM186.5 42.5h0.6v0.6h-0.6zM198.4 61.0h0.6v0.6h-0.6zM198.7 66.8h0.6v0.6h-0.6zM208.3 57.6h0.6v0.6h-0.6zM170.8 91.2h0.6v0.6h-0.6zM192.9 43.7h0.6v0.6h-0.6zM191.8 42.7h0.6v0.6h-0.6zM178.6 37.5h0.6v0.6h-0.6zM187.0 43.6h0.6v0.6h-0.6zM177.9 38.1h0.6v0.6h-0.6zM186.8 86.9h0.6v0.6h-0.6zM160.8 74.4h0.6v0.6h-0.6zM164.9 85.1h0.6v0.6h-0.6zM214.5 57.1h0.6v0.6h-0.6zM207.9 62.9h0.6v0.6h-0.6zM161.0 67.8h0.6v0.6h-0.6zM159.7 59.3h0.6v0.6h-0.6zM165.9 86.8h0.6v0.6h-0.6zM211.7 54.0h0.6v0.6h-0.6zM191.5 66.6h0.6v0.6h-0.6zM215.0 47.8h0.6v0.6h-0.6zM172.8 91.5h0.6v0.6h-0.6zM209.1 58.5h0.6v0.6h-0.6zM201.0 43.0h0.6v0.6h-0.6zM160.6 77.2h0.6v0.6h-0.6zM162.2 68.3h0.6v0.6h-0.6zM163.6 78.4h0.6v0.6h-0.6zM161.7 68.7h0.6v0.6h-0.6zM188.0 74.1h0.6v0.6h-0.6zM207.3 63.7h0.6v0.6h-0.6zM189.6 42.4h0.6v0.6h-0.6zM208.5 42.4h0.6v0.6h-0.6zM175.2 92.4h0.6v0.6h-0.6zM161.9 74.5h0.6v0.6h-0.6zM167.0 39.6h0.6v0.6h-0.6zM200.5 61.1h0.6v0.6h-0.6zM195.7 43.8h0.6v0.6h-0.6zM163.0 66.5h0.6v0.6h-0.6zM186.7 84.5h0.6v0.6h-0.6zM162.4 81.6h0.6v0.6h-0.6zM169.5 39.9h0.6v0.6h-0.6zM162.6 80.3h0.6v0.6h-0.6zM179.5 91.4h0.6v0.6h-0.6zM185.9 80.3h0.6v0.6h-0.6zM195.9 61.7h0.6v0.6h-0.6zM170.6 92.6h0.6v0.6h-0.6zM198.2 44.4h0.6v0.6h-0.6zM207.8 57.8h0.6v0.6h-0.6zM161.8 82.9h0.6v0.6h-0.6zM205.8 44.2h0.6v0.6h-0.6zM163.1 72.2h0.6v0.6h-0.6zM188.7 68.8h0.6v0.6h-0.6zM166.5 88.6h0.6v0.6h-0.6zM168.6 90.1h0.6v0.6h-0.6zM168.2 40.9h0.6v0.6h-0.6zM209.5 44.6h0.6v0.6h-0.6zM212.4 54.7h0.6v0.6h-0.6zM203.4 61.1h0.6v0.6h-0.6zM193.9 62.4h0.6v0.6h-0.6zM189.0 69.2h0.6v0.6h-0.6zM210.6 57.2h0.6v0.6h-0.6zM208.3 58.8h0.6v0.6h-0.6zM177.3 40.0h0.6v0.6h-0.6zM164.7 86.4h0.6v0.6h-0.6zM201.5 62.2h0.6v0.6h-0.6zM195.7 63.8h0.6v0.6h-0.6zM163.1 75.9h0.6v0.6h-0.6zM164.2 77.5h0.6v0.6h-0.6zM208.0 43.8h0.6v0.6h-0.6zM173.6 39.2h0.6v0.6h-0.6zM161.6 74.6h0.6v0.6h-0.6zM166.3 87.3h0.6v0.6h-0.6zM172.6 93.3h0.6v0.6h-0.6zM203.5 61.3h0.6v0.6h-0.6zM165.6 39.2h0.6v0.6h-0.6zM162.4 67.9h0.6v0.6h-0.6zM208.3 43.9h0.6v0.6h-0.6zM162.0 62.1h0.6v0.6h-0.6zM175.9 92.1h0.6v0.6h-0.6zM176.0 39.0h0.6v0.6h-0.6zM161.0 62.2h0.6v0.6h-0.6zM164.7 87.0h0.6v0.6h-0.6zM176.8 93.9h0.6v0.6h-0.6zM196.7 40.4h0.6v0.6h-0.6zM164.7 39.9h0.6v0.6h-0.6zM169.0 37.8h0.6v0.6h-0.6zM189.3 85.0h0.6v0.6h-0.6zM213.5 48.7h0.6v0.6h-0.6zM165.6 40.5h0.6v0.6h-0.6zM176.0 38.1h0.6v0.6h-0.6zM198.4 67.3h0.6v0.6h-0.6zM214.0 51.2h0.6v0.6h-0.6zM162.5 76.9h0.6v0.6h-0.6zM161.4 68.6h0.6v0.6h-0.6zM163.7 66.9h0.6v0.6h-0.6zM163.4 81.2h0.6v0.6h-0.6zM214.1 48.5h0.6v0.6h-0.6zM211.5 55.4h0.6v0.6h-0.6zM190.7 69.2h0.6v0.6h-0.6zM210.3 44.6h0.6v0.6h-0.6zM212.3 47.4h0.6v0.6h-0.6zM162.5 85.6h0.6v0.6h-0.6zM170.2 40.5h0.6v0.6h-0.6zM208.9 41.8h0.6v0.6h-0.6zM184.8 84.1h0.6v0.6h-0.6zM160.7 65.3h0.6v0.6h-0.6zM163.9 71.6h0.6v0.6h-0.6zM178.0 38.5h0.6v0.6h-0.6zM199.1 43.1h0.6v0.6h-0.6zM170.0 36.6h0.6v0.6h-0.6zM200.7 41.8h0.6v0.6h-0.6zM188.0 68.0h0.6v0.6h-0.6zM166.6 88.0h0.6v0.6h-0.6zM185.3 73.1h0.6v0.6h-0.6zM164.5 78.7h0.6v0.6h-0.6zM197.0 61.8h0.6v0.6h-0.6zM167.5 89.0h0.6v0.6h-0.6zM197.4 61.4h0.6v0.6h-0.6zM171.6 90.3h0.6v0.6h-0.6zM192.1 66.8h0.6v0.6h-0.6zM193.7 71.0h0.6v0.6h-0.6zM188.6 86.6h0.6v0.6h-0.6zM184.7 83.0h0.6v0.6h-0.6zM211.7 45.7h0.6v0.6h-0.6zM188.6 68.6h0.6v0.6h-0.6zM170.1 37.9h0.6v0.6h-0.6zM198.5 41.4h0.6v0.6h-0.6zM168.3 90.6h0.6v0.6h-0.6zM217.1 45.6h0.6v0.6h-0.6zM198.6 41.0h0.6v0.6h-0.6zM164.6 39.5h0.6v0.6h-0.6zM167.1 89.2h0.6v0.6h-0.6zM170.5 90.5h0.6v0.6h-0.6zM174.3 37.2h0.6v0.6h-0.6zM162.4 76.2h0.6v0.6h-0.6zM206.9 59.0h0.6v0.6h-0.6zM213.4 45.8h0.6v0.6h-0.6zM215.4 45.9h0.6v0.6h-0.6zM216.3 49.6h0.6v0.6h-0.6zM163.4 84.7h0.6v0.6h-0.6zM166.3 87.4h0.6v0.6h-0.6zM160.9 80.2h0.6v0.6h-0.6zM179.0 35.6h0.6v0.6h-0.6zM188.1 81.0h0.6v0.6h-0.6zM162.6 71.7h0.6v0.6h-0.6zM187.3 68.5h0.6v0.6h-0.6zM214.8 54.2h0.6v0.6h-0.6zM177.8 36.6h0.6v0.6h-0.6zM202.8 58.5h0.6v0.6h-0.6zM213.7 59.7h0.6v0.6h-0.6zM163.6 79.9h0.6v0.6h-0.6zM184.4 90.2h0.6v0.6h-0.6zM193.3 69.1h0.6v0.6h-0.6zM182.0 90.3h0.6v0.6h-0.6zM188.4 82.7h0.6v0.6h-0.6zM182.1 37.2h0.6v0.6h-0.6zM192.5 41.9h0.6v0.6h-0.6zM173.9 91.8h0.6v0.6h-0.6zM164.3 82.6h0.6v0.6h-0.6zM182.8 89.3h0.6v0.6h-0.6zM203.1 63.4h0.6v0.6h-0.6zM200.4 42.5h0.6v0.6h-0.6zM180.0 94.0h0.6v0.6h-0.6zM189.7 69.5h0.6v0.6h-0.6zM160.1 77.8h0.6v0.6h-0.6zM190.0 64.6h0.6v0.6h-0.6zM159.3 52.1h0.6v0.6h-0.6zM203.2 39.7h0.6v0.6h-0.6zM178.0 93.3h0.6v0.6h-0.6zM212.3 45.7h0.6v0.6h-0.6zM186.9 68.1h0.6v0.6h-0.6zM198.8 61.1h0.6v0.6h-0.6zM159.7 40.0h0.6v0.6h-0.6zM164.4 83.6h0.6v0.6h-0.6zM163.4 79.8h0.6v0.6h-0.6zM212.5 54.3h0.6v0.6h-0.6zM199.2 61.9h0.6v0.6h-0.6zM191.1 63.0h0.6v0.6h-0.6zM208.9 45.1h0.6v0.6h-0.6zM165.4 38.1h0.6v0.6h-0.6zM169.1 39.7h0.6v0.6h-0.6zM163.5 83.1h0.6v0.6h-0.6zM167.1 41.4h0.6v0.6h-0.6zM206.3 43.1h0.6v0.6h-0.6zM163.3 75.1h0.6v0.6h-0.6zM162.5 66.7h0.6v0.6h-0.6zM204.8 58.6h0.6v0.6h-0.6zM186.2 73.2h0.6v0.6h-0.6zM186.3 82.5h0.6v0.6h-0.6zM194.8 63.5h0.6v0.6h-0.6zM160.9 59.1h0.6v0.6h-0.6zM187.1 72.0h0.6v0.6h-0.6zM187.7 80.7h0.6v0.6h-0.6zM213.3 55.1h0.6v0.6h-0.6zM214.0 49.4h0.6v0.6h-0.6zM164.1 89.8h0.6v0.6h-0.6zM180.7 93.0h0.6v0.6h-0.6zM216.1 52.9h0.6v0.6h-0.6zM163.6 71.5h0.6v0.6h-0.6zM206.2 62.7h0.6v0.6h-0.6zM190.4 63.2h0.6v0.6h-0.6zM191.2 43.1h0.6v0.6h-0.6zM177.1 40.1h0.6v0.6h-0.6zM214.2 48.2h0.6v0.6h-0.6zM161.9 76.1h0.6v0.6h-0.6zM159.8 48.4h0.6v0.6h-0.6zM187.8 65.8h0.6v0.6h-0.6zM206.8 42.9h0.6v0.6h-0.6zM163.6 78.1h0.6v0.6h-0.6zM162.3 78.9h0.6v0.6h-0.6zM201.9 41.6h0.6v0.6h-0.6zM164.0 86.1h0.6v0.6h-0.6zM171.5 40.4h0.6v0.6h-0.6zM161.9 63.3h0.6v0.6h-0.6zM203.7 41.7h0.6v0.6h-0.6zM159.6 57.3h0.6v0.6h-0.6zM208.2 64.3h0.6v0.6h-0.6zM163.9 69.3h0.6v0.6h-0.6zM159.4 40.2h0.6v0.6h-0.6zM205.3 59.0h0.6v0.6h-0.6zM174.2 94.6h0.6v0.6h-0.6zM215.2 49.7h0.6v0.6h-0.6zM159.1 49.5h0.6v0.6h-0.6zM185.4 78.3h0.6v0.6h-0.6zM189.7 67.6h0.6v0.6h-0.6zM173.9 91.7h0.6v0.6h-0.6zM189.2 86.3h0.6v0.6h-0.6zM159.4 43.1h0.6v0.6h-0.6zM174.5 40.0h0.6v0.6h-0.6zM163.3 72.4h0.6v0.6h-0.6zM200.6 40.0h0.6v0.6h-0.6zM194.2 61.7h0.6v0.6h-0.6zM196.0 39.9h0.6v0.6h-0.6zM182.4 89.0h0.6v0.6h-0.6zM168.2 92.8h0.6v0.6h-0.6zM212.2 61.2h0.6v0.6h-0.6zM159.2 45.0h0.6v0.6h-0.6zM168.8 40.7h0.6v0.6h-0.6zM161.2 70.3h0.6v0.6h-0.6zM175.2 93.4h0.6v0.6h-0.6zM167.0 87.3h0.6v0.6h-0.6zM212.7 47.0h0.6v0.6h-0.6zM162.4 67.8h0.6v0.6h-0.6zM210.7 55.3h0.6v0.6h-0.6zM181.9 91.5h0.6v0.6h-0.6zM194.5 43.1h0.6v0.6h-0.6zM186.4 82.2h0.6v0.6h-0.6zM211.4 41.9h0.6v0.6h-0.6zM160.5 69.7h0.6v0.6h-0.6zM176.6 36.9h0.6v0.6h-0.6zM201.4 59.8h0.6v0.6h-0.6zM176.6 36.7h0.6v0.6h-0.6zM212.7 47.2h0.6v0.6h-0.6zM186.3 71.9h0.6v0.6h-0.6zM162.6 79.4h0.6v0.6h-0.6zM184.6 82.9h0.6v0.6h-0.6zM206.4 63.0h0.6v0.6h-0.6zM160.3 63.8h0.6v0.6h-0.6zM185.3 86.3h0.6v0.6h-0.6zM202.9 62.3h0.6v0.6h-0.6zM162.9 79.7h0.6v0.6h-0.6zM180.8 38.3h0.6v0.6h-0.6zM201.4 60.7h0.6v0.6h-0.6zM206.0 44.0h0.6v0.6h-0.6zM186.4 77.3h0.6v0.6h-0.6zM200.0 61.0h0.6v0.6h-0.6zM159.5 51.6h0.6v0.6h-0.6zM160.5 61.7h0.6v0.6h-0.6zM171.1 39.5h0.6v0.6h-0.6zM187.4 89.0h0.6v0.6h-0.6zM187.4 88.4h0.6v0.6h-0.6zM216.2 44.3h0.6v0.6h-0.6zM195.5 62.0h0.6v0.6h-0.6zM202.7 42.7h0.6v0.6h-0.6zM206.3 42.0h0.6v0.6h-0.6zM163.3 74.4h0.6v0.6h-0.6zM197.5 41.9h0.6v0.6h-0.6zM180.0 91.9h0.6v0.6h-0.6zM202.8 64.1h0.6v0.6h-0.6zM185.4 82.5h0.6v0.6h-0.6zM212.7 46.3h0.6v0.6h-0.6zM201.1 42.2h0.6v0.6h-0.6zM191.2 44.3h0.6v0.6h-0.6zM194.3 64.6h0.6v0.6h-0.6zM186.2 83.4h0.6v0.6h-0.6zM172.5 40.1h0.6v0.6h-0.6zM161.1 39.6h0.6v0.6h-0.6zM212.1 55.8h0.6v0.6h-0.6zM170.7 91.7h0.6v0.6h-0.6zM188.7 64.0h0.6v0.6h-0.6zM159.8 58.4h0.6v0.6h-0.6zM207.4 59.0h0.6v0.6h-0.6zM190.1 43.0h0.6v0.6h-0.6zM176.1 38.7h0.6v0.6h-0.6zM201.1 43.4h0.6v0.6h-0.6zM188.7 69.3h0.6v0.6h-0.6zM211.5 45.4h0.6v0.6h-0.6zM186.8 68.2h0.6v0.6h-0.6zM187.1 84.2h0.6v0.6h-0.6zM187.4 78.8h0.6v0.6h-0.6zM186.8 65.8h0.6v0.6h-0.6zM163.5 69.2h0.6v0.6h-0.6zM161.7 75.3h0.6v0.6h-0.6zM214.0 50.7h0.6v0.6h-0.6zM164.5 85.0h0.6v0.6h-0.6zM199.5 41.0h0.6v0.6h-0.6zM210.1 56.3h0.6v0.6h-0.6zM169.4 37.9h0.6v0.6h-0.6zM172.1 40.7h0.6v0.6h-0.6zM171.4 93.3h0.6v0.6h-0.6zM213.3 53.9h0.6v0.6h-0.6zM173.5 91.6h0.6v0.6h-0.6zM162.5 39.7h0.6v0.6h-0.6zM186.9 77.6h0.6v0.6h-0.6zM173.8 40.5h0.6v0.6h-0.6zM169.1 92.3h0.6v0.6h-0.6zM162.6 83.3h0.6v0.6h-0.6zM164.0 68.7h0.6v0.6h-0.6zM163.7 79.9h0.6v0.6h-0.6zM164.0 82.0h0.6v0.6h-0.6zM160.5 57.9h0.6v0.6h-0.6zM195.8 65.4h0.6v0.6h-0.6zM160.4 40.5h0.6v0.6h-0.6zM171.0 39.6h0.6v0.6h-0.6zM187.6 44.8h0.6v0.6h-0.6zM212.5 47.0h0.6v0.6h-0.6zM212.3 45.1h0.6v0.6h-0.6zM196.7 61.8h0.6v0.6h-0.6zM198.4 61.1h0.6v0.6h-0.6zM168.8 37.6h0.6v0.6h-0.6zM185.7 81.1h0.6v0.6h-0.6zM185.9 88.1h0.6v0.6h-0.6zM177.1 92.9h0.6v0.6h-0.6zM180.4 38.1h0.6v0.6h-0.6zM211.5 45.7h0.6v0.6h-0.6zM199.2 61.4h0.6v0.6h-0.6zM185.3 81.9h0.6v0.6h-0.6zM188.4 43.6h0.6v0.6h-0.6zM182.2 90.8h0.6v0.6h-0.6zM195.9 63.0h0.6v0.6h-0.6zM185.7 41.8h0.6v0.6h-0.6zM204.9 41.9h0.6v0.6h-0.6zM206.7 58.6h0.6v0.6h-0.6zM200.9 63.9h0.6v0.6h-0.6zM204.0 40.2h0.6v0.6h-0.6zM174.1 36.8h0.6v0.6h-0.6zM184.5 40.9h0.6v0.6h-0.6zM217.5 50.7h0.6v0.6h-0.6zM167.3 41.1h0.6v0.6h-0.6zM163.9 70.6h0.6v0.6h-0.6zM181.8 39.8h0.6v0.6h-0.6zM176.2 38.2h0.6v0.6h-0.6zM209.4 59.4h0.6v0.6h-0.6zM184.4 88.4h0.6v0.6h-0.6zM163.8 70.8h0.6v0.6h-0.6zM180.0 39.9h0.6v0.6h-0.6zM209.4 43.9h0.6v0.6h-0.6zM213.1 52.3h0.6v0.6h-0.6zM188.3 67.1h0.6v0.6h-0.6zM210.7 55.9h0.6v0.6h-0.6zM185.1 82.1h0.6v0.6h-0.6zM186.6 86.7h0.6v0.6h-0.6zM190.8 64.2h0.6v0.6h-0.6zM188.7 64.5h0.6v0.6h-0.6zM217.2 45.2h0.6v0.6h-0.6zM173.5 94.2h0.6v0.6h-0.6zM161.3 38.6h0.6v0.6h-0.6zM205.6 59.0h0.6v0.6h-0.6zM203.5 40.8h0.6v0.6h-0.6zM214.9 45.2h0.6v0.6h-0.6zM210.3 56.3h0.6v0.6h-0.6zM173.0 37.0h0.6v0.6h-0.6zM203.7 59.9h0.6v0.6h-0.6zM214.7 56.5h0.6v0.6h-0.6zM194.5 43.7h0.6v0.6h-0.6zM193.4 61.7h0.6v0.6h-0.6zM186.0 68.9h0.6v0.6h-0.6zM190.0 44.3h0.6v0.6h-0.6zM168.5 41.2h0.6v0.6h-0.6zM191.9 72.9h0.6v0.6h-0.6zM174.3 91.5h0.6v0.6h-0.6zM164.4 79.1h0.6v0.6h-0.6zM214.2 47.3h0.6v0.6h-0.6zM198.0 41.9h0.6v0.6h-0.6zM211.7 42.7h0.6v0.6h-0.6zM201.4 42.7h0.6v0.6h-0.6zM184.6 37.8h0.6v0.6h-0.6zM215.0 47.7h0.6v0.6h-0.6zM199.6 65.6h0.6v0.6h-0.6zM176.3 40.1h0.6v0.6h-0.6zM187.0 44.2h0.6v0.6h-0.6zM208.2 43.9h0.6v0.6h-0.6zM213.2 46.0h0.6v0.6h-0.6zM164.8 40.0h0.6v0.6h-0.6zM197.3 44.1h0.6v0.6h-0.6zM206.5 43.2h0.6v0.6h-0.6zM180.1 91.2h0.6v0.6h-0.6zM174.2 91.4h0.6v0.6h-0.6zM209.0 44.6h0.6v0.6h-0.6zM162.7 63.4h0.6v0.6h-0.6zM194.0 71.4h0.6v0.6h-0.6zM169.0 41.2h0.6v0.6h-0.6zM170.5 38.5h0.6v0.6h-0.6zM163.7 38.5h0.6v0.6h-0.6zM213.6 54.5h0.6v0.6h-0.6zM163.7 81.4h0.6v0.6h-0.6zM204.6 59.5h0.6v0.6h-0.6zM162.3 63.2h0.6v0.6h-0.6zM184.0 41.8h0.6v0.6h-0.6zM199.6 42.8h0.6v0.6h-0.6zM188.7 74.0h0.6v0.6h-0.6zM210.1 55.6h0.6v0.6h-0.6zM213.7 45.3h0.6v0.6h-0.6zM184.9 83.3h0.6v0.6h-0.6zM187.0 78.8h0.6v0.6h-0.6zM194.2 43.8h0.6v0.6h-0.6zM186.4 71.7h0.6v0.6h-0.6zM216.3 46.8h0.6v0.6h-0.6zM207.5 59.7h0.6v0.6h-0.6z" fill="#111"/>
<path d="M192.3 76.6h0.6v0.6h-0.6zM201.8 72.3h0.6v0.6h-0.6zM172.0 33.7h0.6v0.6h-0.6zM191.0 30.5h0.6v0.6h-0.6zM216.4 63.0h0.6v0.6h-0.6zM187.2 89.9h0.6v0.6h-0.6zM216.1 58.0h0.6v0.6h-0.6zM205.5 71.4h0.6v0.6h-0.6zM226.3 46.3h0.6v0.6h-0.6zM219.4 53.1h0.6v0.6h-0.6zM206.3 36.8h0.6v0.6h-0.6zM193.2 84.1h0.6v0.6h-0.6zM179.0 34.3h0.6v0.6h-0.6zM165.3 35.8h0.6v0.6h-0.6zM220.1 63.3h0.6v0.6h-0.6zM197.9 70.6h0.6v0.6h-0.6zM217.6 61.6h0.6v0.6h-0.6zM208.4 31.6h0.6v0.6h-0.6zM160.3 90.4h0.6v0.6h-0.6zM201.9 69.2h0.6v0.6h-0.6zM212.9 63.8h0.6v0.6h-0.6zM214.1 37.9h0.6v0.6h-0.6zM225.8 68.0h0.6v0.6h-0.6zM195.4 77.0h0.6v0.6h-0.6zM208.8 35.8h0.6v0.6h-0.6zM159.3 76.5h0.6v0.6h-0.6zM194.2 74.8h0.6v0.6h-0.6zM223.8 38.1h0.6v0.6h-0.6zM167.1 34.0h0.6v0.6h-0.6zM200.1 77.6h0.6v0.6h-0.6zM184.0 33.9h0.6v0.6h-0.6zM225.1 64.4h0.6v0.6h-0.6zM229.8 56.0h0.6v0.6h-0.6zM204.3 71.8h0.6v0.6h-0.6zM219.8 91.6h0.6v0.6h-0.6zM195.5 71.6h0.6v0.6h-0.6zM208.8 80.6h0.6v0.6h-0.6zM221.0 68.0h0.6v0.6h-0.6zM210.6 39.6h0.6v0.6h-0.6zM212.7 39.3h0.6v0.6h-0.6zM222.3 43.1h0.6v0.6h-0.6zM161.7 33.9h0.6v0.6h-0.6zM187.9 94.5h0.6v0.6h-0.6zM159.1 84.5h0.6v0.6h-0.6zM204.2 72.4h0.6v0.6h-0.6zM208.2 29.1h0.6v0.6h-0.6zM204.2 33.7h0.6v0.6h-0.6zM163.9 89.1h0.6v0.6h-0.6zM217.0 54.7h0.6v0.6h-0.6zM201.9 36.8h0.6v0.6h-0.6zM184.6 94.1h0.6v0.6h-0.6zM190.0 32.1h0.6v0.6h-0.6zM209.6 64.7h0.6v0.6h-0.6zM163.8 35.1h0.6v0.6h-0.6zM178.2 95.2h0.6v0.6h-0.6zM189.9 87.1h0.6v0.6h-0.6zM159.3 75.1h0.6v0.6h-0.6zM167.6 34.7h0.6v0.6h-0.6zM207.9 37.4h0.6v0.6h-0.6zM190.1 82.1h0.6v0.6h-0.6zM186.1 92.4h0.6v0.6h-0.6zM205.5 86.6h0.6v0.6h-0.6zM218.8 52.4h0.6v0.6h-0.6zM177.1 95.6h0.6v0.6h-0.6zM217.1 60.5h0.6v0.6h-0.6zM198.6 38.1h0.6v0.6h-0.6zM202.3 71.7h0.6v0.6h-0.6zM217.6 53.6h0.6v0.6h-0.6zM185.6 95.3h0.6v0.6h-0.6zM159.3 86.4h0.6v0.6h-0.6zM194.6 72.0h0.6v0.6h-0.6zM162.7 90.2h0.6v0.6h-0.6zM161.4 91.7h0.6v0.6h-0.6zM203.4 37.7h0.6v0.6h-0.6zM201.4 67.4h0.6v0.6h-0.6zM169.8 35.6h0.6v0.6h-0.6zM199.1 38.0h0.6v0.6h-0.6zM179.5 34.4h0.6v0.6h-0.6zM194.1 80.3h0.6v0.6h-0.6zM218.1 52.7h0.6v0.6h-0.6zM205.6 36.5h0.6v0.6h-0.6zM201.0 67.3h0.6v0.6h-0.6zM190.2 75.4h0.6v0.6h-0.6zM227.2 53.6h0.6v0.6h-0.6zM200.0 78.5h0.6v0.6h-0.6zM210.8 63.8h0.6v0.6h-0.6zM201.1 33.6h0.6v0.6h-0.6zM219.0 70.4h0.6v0.6h-0.6zM211.1 36.1h0.6v0.6h-0.6zM187.7 36.3h0.6v0.6h-0.6zM219.7 66.4h0.6v0.6h-0.6zM192.7 38.4h0.6v0.6h-0.6zM184.9 93.3h0.6v0.6h-0.6zM159.4 64.4h0.6v0.6h-0.6zM203.2 68.6h0.6v0.6h-0.6zM190.3 86.7h0.6v0.6h-0.6zM217.7 75.4h0.6v0.6h-0.6zM166.8 94.6h0.6v0.6h-0.6zM221.4 62.6h0.6v0.6h-0.6zM200.1 35.0h0.6v0.6h-0.6zM169.0 35.9h0.6v0.6h-0.6zM168.0 95.1h0.6v0.6h-0.6zM210.3 39.1h0.6v0.6h-0.6zM194.8 38.7h0.6v0.6h-0.6zM206.3 71.5h0.6v0.6h-0.6zM195.4 74.8h0.6v0.6h-0.6zM159.1 76.8h0.6v0.6h-0.6zM222.2 51.8h0.6v0.6h-0.6zM199.9 70.0h0.6v0.6h-0.6zM216.2 61.3h0.6v0.6h-0.6zM205.5 74.8h0.6v0.6h-0.6zM198.7 81.0h0.6v0.6h-0.6zM219.2 45.2h0.6v0.6h-0.6zM195.5 70.5h0.6v0.6h-0.6zM195.5 73.0h0.6v0.6h-0.6zM160.1 33.9h0.6v0.6h-0.6zM162.1 89.9h0.6v0.6h-0.6zM170.3 95.9h0.6v0.6h-0.6zM223.4 49.2h0.6v0.6h-0.6zM207.4 26.3h0.6v0.6h-0.6zM221.4 37.4h0.6v0.6h-0.6zM204.9 37.6h0.6v0.6h-0.6zM164.7 33.5h0.6v0.6h-0.6zM201.6 70.9h0.6v0.6h-0.6zM217.3 44.8h0.6v0.6h-0.6zM219.8 61.6h0.6v0.6h-0.6zM162.8 35.5h0.6v0.6h-0.6zM192.0 74.9h0.6v0.6h-0.6zM214.6 59.5h0.6v0.6h-0.6zM160.4 35.4h0.6v0.6h-0.6zM211.7 36.4h0.6v0.6h-0.6zM169.4 34.8h0.6v0.6h-0.6zM217.6 55.8h0.6v0.6h-0.6zM198.1 71.1h0.6v0.6h-0.6zM198.1 84.1h0.6v0.6h-0.6zM199.4 39.3h0.6v0.6h-0.6zM159.4 82.0h0.6v0.6h-0.6zM222.2 49.2h0.6v0.6h-0.6zM188.3 91.2h0.6v0.6h-0.6zM200.8 74.4h0.6v0.6h-0.6zM214.9 71.1h0.6v0.6h-0.6zM164.0 94.4h0.6v0.6h-0.6zM182.9 32.3h0.6v0.6h-0.6zM209.4 37.8h0.6v0.6h-0.6zM211.7 32.6h0.6v0.6h-0.6zM209.9 84.9h0.6v0.6h-0.6zM191.9 86.7h0.6v0.6h-0.6zM219.6 47.1h0.6v0.6h-0.6zM188.3 89.1h0.6v0.6h-0.6zM212.4 64.5h0.6v0.6h-0.6zM216.7 58.6h0.6v0.6h-0.6zM219.5 54.8h0.6v0.6h-0.6zM161.9 34.4h0.6v0.6h-0.6zM163.5 93.6h0.6v0.6h-0.6zM234.9 58.5h0.6v0.6h-0.6zM168.3 36.0h0.6v0.6h-0.6zM210.3 68.4h0.6v0.6h-0.6zM203.5 65.7h0.6v0.6h-0.6zM214.7 83.2h0.6v0.6h-0.6zM193.4 82.5h0.6v0.6h-0.6zM210.7 75.1h0.6v0.6h-0.6zM208.5 72.4h0.6v0.6h-0.6zM189.7 93.0h0.6v0.6h-0.6zM195.3 76.7h0.6v0.6h-0.6zM173.8 33.8h0.6v0.6h-0.6zM159.1 88.0h0.6v0.6h-0.6zM212.5 64.0h0.6v0.6h-0.6zM218.9 79.0h0.6v0.6h-0.6zM204.3 28.5h0.6v0.6h-0.6zM206.2 76.9h0.6v0.6h-0.6zM193.6 37.3h0.6v0.6h-0.6zM209.5 84.2h0.6v0.6h-0.6zM218.5 48.3h0.6v0.6h-0.6zM216.3 56.8h0.6v0.6h-0.6zM183.6 35.6h0.6v0.6h-0.6zM203.5 66.8h0.6v0.6h-0.6zM203.1 36.8h0.6v0.6h-0.6zM189.2 41.2h0.6v0.6h-0.6zM229.5 46.2h0.6v0.6h-0.6zM219.6 70.2h0.6v0.6h-0.6zM194.9 75.2h0.6v0.6h-0.6zM218.3 43.0h0.6v0.6h-0.6zM213.0 63.1h0.6v0.6h-0.6zM219.6 52.3h0.6v0.6h-0.6zM235.0 72.7h0.6v0.6h-0.6zM162.2 91.5h0.6v0.6h-0.6zM189.5 40.0h0.6v0.6h-0.6zM211.4 63.4h0.6v0.6h-0.6zM190.0 89.0h0.6v0.6h-0.6zM167.8 95.2h0.6v0.6h-0.6zM185.5 94.7h0.6v0.6h-0.6zM206.3 71.1h0.6v0.6h-0.6zM171.2 34.1h0.6v0.6h-0.6zM225.2 60.3h0.6v0.6h-0.6zM195.8 38.2h0.6v0.6h-0.6zM222.3 49.1h0.6v0.6h-0.6zM190.2 85.0h0.6v0.6h-0.6zM201.6 69.8h0.6v0.6h-0.6zM207.2 26.0h0.6v0.6h-0.6zM189.7 24.4h0.6v0.6h-0.6zM207.0 28.4h0.6v0.6h-0.6zM198.9 39.3h0.6v0.6h-0.6zM218.3 88.4h0.6v0.6h-0.6zM183.7 93.9h0.6v0.6h-0.6zM188.6 41.1h0.6v0.6h-0.6zM212.2 32.6h0.6v0.6h-0.6zM208.0 32.0h0.6v0.6h-0.6zM173.7 32.0h0.6v0.6h-0.6zM229.2 78.2h0.6v0.6h-0.6zM214.0 67.2h0.6v0.6h-0.6zM182.8 35.4h0.6v0.6h-0.6zM203.1 36.4h0.6v0.6h-0.6zM217.6 45.8h0.6v0.6h-0.6zM218.4 58.9h0.6v0.6h-0.6zM215.9 62.0h0.6v0.6h-0.6zM196.6 75.6h0.6v0.6h-0.6zM228.4 43.5h0.6v0.6h-0.6zM207.1 68.0h0.6v0.6h-0.6zM219.4 50.3h0.6v0.6h-0.6zM190.3 79.1h0.6v0.6h-0.6zM210.5 29.1h0.6v0.6h-0.6zM226.5 64.4h0.6v0.6h-0.6zM218.8 53.4h0.6v0.6h-0.6zM219.1 75.2h0.6v0.6h-0.6zM177.5 32.7h0.6v0.6h-0.6zM189.9 80.5h0.6v0.6h-0.6zM217.0 69.6h0.6v0.6h-0.6zM219.6 45.8h0.6v0.6h-0.6zM220.2 84.8h0.6v0.6h-0.6zM204.1 66.9h0.6v0.6h-0.6zM170.0 34.7h0.6v0.6h-0.6zM194.2 72.6h0.6v0.6h-0.6zM209.6 36.8h0.6v0.6h-0.6zM221.8 32.7h0.6v0.6h-0.6zM189.0 41.8h0.6v0.6h-0.6zM202.3 76.4h0.6v0.6h-0.6zM222.7 49.8h0.6v0.6h-0.6zM209.2 37.3h0.6v0.6h-0.6zM216.2 58.7h0.6v0.6h-0.6zM168.7 31.5h0.6v0.6h-0.6zM162.1 35.3h0.6v0.6h-0.6zM202.4 34.3h0.6v0.6h-0.6zM211.8 40.5h0.6v0.6h-0.6zM179.3 32.6h0.6v0.6h-0.6zM200.8 33.4h0.6v0.6h-0.6zM205.9 83.0h0.6v0.6h-0.6zM165.6 95.5h0.6v0.6h-0.6zM190.9 23.7h0.6v0.6h-0.6zM190.1 41.4h0.6v0.6h-0.6zM203.9 80.2h0.6v0.6h-0.6zM193.8 73.9h0.6v0.6h-0.6zM219.6 32.8h0.6v0.6h-0.6zM199.7 38.2h0.6v0.6h-0.6zM195.2 24.9h0.6v0.6h-0.6zM206.1 37.0h0.6v0.6h-0.6zM213.4 40.5h0.6v0.6h-0.6zM213.9 41.0h0.6v0.6h-0.6zM203.8 73.8h0.6v0.6h-0.6zM161.7 87.4h0.6v0.6h-0.6zM180.0 30.0h0.6v0.6h-0.6zM190.0 41.5h0.6v0.6h-0.6zM161.1 34.8h0.6v0.6h-0.6zM183.5 34.6h0.6v0.6h-0.6zM232.3 63.4h0.6v0.6h-0.6zM221.7 73.5h0.6v0.6h-0.6zM191.3 91.7h0.6v0.6h-0.6zM191.0 78.4h0.6v0.6h-0.6zM206.3 71.6h0.6v0.6h-0.6zM202.8 72.0h0.6v0.6h-0.6zM161.0 87.4h0.6v0.6h-0.6zM161.0 86.1h0.6v0.6h-0.6zM213.5 36.9h0.6v0.6h-0.6zM162.8 89.3h0.6v0.6h-0.6zM217.1 92.7h0.6v0.6h-0.6zM200.1 28.8h0.6v0.6h-0.6zM196.0 70.2h0.6v0.6h-0.6zM214.5 60.0h0.6v0.6h-0.6zM219.0 53.4h0.6v0.6h-0.6zM159.5 33.8h0.6v0.6h-0.6zM214.4 66.8h0.6v0.6h-0.6zM189.5 36.1h0.6v0.6h-0.6zM218.9 26.6h0.6v0.6h-0.6zM169.2 35.7h0.6v0.6h-0.6zM224.0 38.5h0.6v0.6h-0.6zM190.0 79.0h0.6v0.6h-0.6zM214.9 87.3h0.6v0.6h-0.6zM229.9 68.7h0.6v0.6h-0.6zM202.0 30.2h0.6v0.6h-0.6zM198.7 70.8h0.6v0.6h-0.6zM202.0 34.2h0.6v0.6h-0.6zM192.8 73.3h0.6v0.6h-0.6zM191.7 78.2h0.6v0.6h-0.6zM211.0 81.2h0.6v0.6h-0.6zM227.3 83.5h0.6v0.6h-0.6zM208.5 66.2h0.6v0.6h-0.6zM212.2 62.1h0.6v0.6h-0.6zM215.2 63.7h0.6v0.6h-0.6zM209.1 88.9h0.6v0.6h-0.6zM209.9 64.1h0.6v0.6h-0.6zM161.5 87.8h0.6v0.6h-0.6z" fill="#666"/>
<path d="M186.7 77.6h0.6v0.6h-0.6zM171.6 92.1h0.6v0.6h-0.6zM195.0 42.1h0.6v0.6h-0.6zM163.7 65.7h0.6v0.6h-0.6zM197.3 63.9h0.6v0.6h-0.6zM168.3 40.5h0.6v0.6h-0.6zM186.8 68.3h0.6v0.6h-0.6zM168.8 40.2h0.6v0.6h-0.6zM198.8 61.5h0.6v0.6h-0.6zM188.9 66.9h0.6v0.6h-0.6zM178.8 92.0h0.6v0.6h-0.6zM212.4 45.5h0.6v0.6h-0.6zM212.7 50.8h0.6v0.6h-0.6zM187.1 85.6h0.6v0.6h-0.6zM207.2 43.5h0.6v0.6h-0.6zM168.0 40.6h0.6v0.6h-0.6zM209.1 57.6h0.6v0.6h-0.6zM173.6 93.9h0.6v0.6h-0.6zM201.5 42.2h0.6v0.6h-0.6zM166.9 88.9h0.6v0.6h-0.6zM210.0 56.3h0.6v0.6h-0.6zM192.9 63.0h0.6v0.6h-0.6zM180.0 38.1h0.6v0.6h-0.6zM162.8 84.5h0.6v0.6h-0.6zM187.4 77.4h0.6v0.6h-0.6zM163.8 83.6h0.6v0.6h-0.6zM182.1 39.0h0.6v0.6h-0.6zM184.9 41.7h0.6v0.6h-0.6zM170.5 40.8h0.6v0.6h-0.6zM162.5 39.8h0.6v0.6h-0.6zM168.5 40.3h0.6v0.6h-0.6zM196.4 42.2h0.6v0.6h-0.6zM207.6 43.2h0.6v0.6h-0.6zM185.8 77.8h0.6v0.6h-0.6zM193.1 62.5h0.6v0.6h-0.6zM185.9 75.7h0.6v0.6h-0.6zM172.1 90.9h0.6v0.6h-0.6zM211.9 56.3h0.6v0.6h-0.6zM205.4 42.0h0.6v0.6h-0.6zM162.7 63.5h0.6v0.6h-0.6zM187.7 62.8h0.6v0.6h-0.6zM185.9 70.7h0.6v0.6h-0.6zM167.1 39.8h0.6v0.6h-0.6zM171.8 40.6h0.6v0.6h-0.6zM170.6 39.1h0.6v0.6h-0.6zM187.4 69.3h0.6v0.6h-0.6zM179.8 39.4h0.6v0.6h-0.6zM160.4 61.3h0.6v0.6h-0.6zM163.8 78.9h0.6v0.6h-0.6zM210.7 45.1h0.6v0.6h-0.6zM187.2 70.7h0.6v0.6h-0.6zM214.0 48.1h0.6v0.6h-0.6zM183.2 40.1h0.6v0.6h-0.6zM179.5 92.4h0.6v0.6h-0.6zM203.9 59.1h0.6v0.6h-0.6zM195.4 63.1h0.6v0.6h-0.6zM197.2 62.8h0.6v0.6h-0.6zM203.8 43.8h0.6v0.6h-0.6zM163.7 85.7h0.6v0.6h-0.6zM177.1 39.4h0.6v0.6h-0.6zM207.2 58.4h0.6v0.6h-0.6zM189.5 62.1h0.6v0.6h-0.6zM161.9 39.5h0.6v0.6h-0.6zM162.4 77.7h0.6v0.6h-0.6zM159.3 56.8h0.6v0.6h-0.6zM179.3 39.0h0.6v0.6h-0.6zM176.3 92.8h0.6v0.6h-0.6zM177.4 37.5h0.6v0.6h-0.6zM159.4 58.5h0.6v0.6h-0.6zM169.2 39.1h0.6v0.6h-0.6zM189.2 63.4h0.6v0.6h-0.6zM171.8 91.7h0.6v0.6h-0.6zM163.5 72.8h0.6v0.6h-0.6zM202.2 41.6h0.6v0.6h-0.6zM198.2 61.8h0.6v0.6h-0.6zM163.9 76.5h0.6v0.6h-0.6zM171.6 90.8h0.6v0.6h-0.6zM175.4 40.5h0.6v0.6h-0.6zM193.0 63.9h0.6v0.6h-0.6zM210.1 57.4h0.6v0.6h-0.6zM184.5 88.4h0.6v0.6h-0.6zM213.0 50.0h0.6v0.6h-0.6zM185.7 69.3h0.6v0.6h-0.6zM202.5 61.2h0.6v0.6h-0.6zM186.0 71.7h0.6v0.6h-0.6zM212.6 47.1h0.6v0.6h-0.6zM180.0 92.9h0.6v0.6h-0.6zM208.0 44.1h0.6v0.6h-0.6zM196.3 42.6h0.6v0.6h-0.6zM174.6 93.8h0.6v0.6h-0.6zM186.0 68.5h0.6v0.6h-0.6zM163.4 39.4h0.6v0.6h-0.6zM187.8 72.1h0.6v0.6h-0.6zM199.7 42.1h0.6v0.6h-0.6zM182.5 39.5h0.6v0.6h-0.6zM191.0 62.2h0.6v0.6h-0.6zM198.9 61.2h0.6v0.6h-0.6zM187.3 65.7h0.6v0.6h-0.6zM159.2 58.3h0.6v0.6h-0.6zM164.0 69.3h0.6v0.6h-0.6zM208.9 59.0h0.6v0.6h-0.6zM177.5 39.3h0.6v0.6h-0.6zM170.6 90.5h0.6v0.6h-0.6zM182.2 39.8h0.6v0.6h-0.6zM195.9 42.6h0.6v0.6h-0.6zM185.4 81.0h0.6v0.6h-0.6zM207.0 58.5h0.6v0.6h-0.6zM186.7 45.1h0.6v0.6h-0.6zM181.7 89.9h0.6v0.6h-0.6zM183.0 40.2h0.6v0.6h-0.6zM180.7 39.9h0.6v0.6h-0.6zM193.9 42.0h0.6v0.6h-0.6zM212.9 53.7h0.6v0.6h-0.6zM186.7 84.5h0.6v0.6h-0.6zM208.7 44.2h0.6v0.6h-0.6zM177.3 92.9h0.6v0.6h-0.6zM179.8 38.7h0.6v0.6h-0.6zM172.7 93.3h0.6v0.6h-0.6zM185.5 42.7h0.6v0.6h-0.6zM164.0 66.2h0.6v0.6h-0.6zM192.4 61.9h0.6v0.6h-0.6zM162.9 71.2h0.6v0.6h-0.6zM176.4 37.2h0.6v0.6h-0.6zM185.5 85.1h0.6v0.6h-0.6zM162.4 68.5h0.6v0.6h-0.6zM202.5 61.5h0.6v0.6h-0.6zM189.3 43.8h0.6v0.6h-0.6zM163.4 64.0h0.6v0.6h-0.6zM213.5 47.2h0.6v0.6h-0.6zM213.5 50.6h0.6v0.6h-0.6zM193.2 43.7h0.6v0.6h-0.6zM162.1 39.6h0.6v0.6h-0.6zM162.7 69.1h0.6v0.6h-0.6zM206.0 44.3h0.6v0.6h-0.6zM212.9 55.8h0.6v0.6h-0.6zM204.4 59.4h0.6v0.6h-0.6zM170.4 90.2h0.6v0.6h-0.6zM159.5 40.9h0.6v0.6h-0.6zM185.8 81.7h0.6v0.6h-0.6zM170.6 39.0h0.6v0.6h-0.6zM188.8 44.1h0.6v0.6h-0.6zM177.1 38.2h0.6v0.6h-0.6zM163.6 85.3h0.6v0.6h-0.6zM187.8 64.2h0.6v0.6h-0.6zM185.5 42.3h0.6v0.6h-0.6zM193.2 62.0h0.6v0.6h-0.6zM166.5 87.2h0.6v0.6h-0.6zM202.3 42.5h0.6v0.6h-0.6zM176.5 92.4h0.6v0.6h-0.6zM177.8 38.6h0.6v0.6h-0.6zM186.8 69.3h0.6v0.6h-0.6zM206.0 44.0h0.6v0.6h-0.6zM163.2 79.0h0.6v0.6h-0.6zM199.7 43.6h0.6v0.6h-0.6zM187.8 66.9h0.6v0.6h-0.6zM194.3 64.1h0.6v0.6h-0.6zM187.5 78.4h0.6v0.6h-0.6zM173.4 38.6h0.6v0.6h-0.6zM166.6 40.1h0.6v0.6h-0.6zM165.7 87.5h0.6v0.6h-0.6zM162.3 73.7h0.6v0.6h-0.6zM172.1 90.8h0.6v0.6h-0.6zM184.5 41.5h0.6v0.6h-0.6zM202.2 41.9h0.6v0.6h-0.6zM163.4 74.5h0.6v0.6h-0.6zM205.0 60.2h0.6v0.6h-0.6zM200.6 43.2h0.6v0.6h-0.6zM184.9 88.8h0.6v0.6h-0.6zM208.6 45.3h0.6v0.6h-0.6zM167.3 88.2h0.6v0.6h-0.6zM166.2 40.8h0.6v0.6h-0.6zM208.5 57.7h0.6v0.6h-0.6zM195.9 63.0h0.6v0.6h-0.6zM212.6 52.8h0.6v0.6h-0.6zM162.6 80.8h0.6v0.6h-0.6zM211.5 55.4h0.6v0.6h-0.6zM188.1 67.8h0.6v0.6h-0.6zM165.9 86.8h0.6v0.6h-0.6zM163.0 81.9h0.6v0.6h-0.6zM167.5 88.7h0.6v0.6h-0.6zM212.0 55.2h0.6v0.6h-0.6zM208.9 59.2h0.6v0.6h-0.6zM211.4 57.0h0.6v0.6h-0.6zM203.8 43.1h0.6v0.6h-0.6zM188.1 64.3h0.6v0.6h-0.6zM212.8 53.4h0.6v0.6h-0.6zM197.0 62.0h0.6v0.6h-0.6zM215.1 48.0h0.6v0.6h-0.6zM206.7 60.4h0.6v0.6h-0.6zM183.3 90.8h0.6v0.6h-0.6zM185.9 71.8h0.6v0.6h-0.6zM185.1 82.5h0.6v0.6h-0.6zM184.2 42.1h0.6v0.6h-0.6zM163.8 84.1h0.6v0.6h-0.6zM163.6 74.2h0.6v0.6h-0.6zM162.6 73.6h0.6v0.6h-0.6zM167.5 91.9h0.6v0.6h-0.6zM185.9 43.1h0.6v0.6h-0.6zM168.9 92.0h0.6v0.6h-0.6zM211.0 56.8h0.6v0.6h-0.6z" fill="#fff"/>
<path d="M175.8 89.3 174.3 89.5 173.8 89.2 172.8 89.2 171.3 88.6 170.8 88.0 169.8 87.8 169.3 87.0 167.2 85.2 167.2 84.7 166.7 84.2 166.7 83.7 166.2 83.2 166.2 80.2 166.3 78.7 165.6 75.2 165.4 73.2 165.8 71.2 166.6 70.2 166.6 69.7 166.1 68.2 165.9 66.7 166.5 66.2 166.6 64.7 166.1 64.2 166.2 63.7 165.7 63.2 165.8 62.7 165.2 62.2 165.1 61.7 163.2 60.7 162.4 59.2 162.3 58.6 161.2 56.2 161.8 53.3 162.4 52.2 162.5 51.2 162.3 50.2 161.9 49.7 161.5 47.2 161.0 42.2 161.3 41.9 162.8 42.0 169.8 42.4 173.3 42.2 176.3 42.5 179.8 41.8 182.3 42.0 183.0 42.7 183.0 43.2 184.0 44.2 184.0 44.7 184.6 45.2 184.5 47.7 185.0 48.2 184.9 49.2 185.3 49.5 187.8 47.0 189.3 47.1 189.8 46.6 192.3 46.6 192.8 46.0 195.3 45.8 195.8 45.5 198.3 45.7 200.8 45.4 201.3 45.8 203.3 45.7 207.3 46.0 208.3 47.1 208.8 47.1 209.3 47.7 209.8 47.9 210.8 48.7 210.4 51.2 210.1 51.7 210.0 52.7 209.7 53.2 208.8 54.5 208.2 54.7 207.3 55.8 206.8 55.7 205.3 57.2 204.3 56.9 203.8 57.0 202.3 57.5 201.4 58.2 200.3 58.4 199.8 58.9 198.3 58.9 197.8 59.4 195.3 59.0 194.3 59.4 192.8 59.3 191.3 59.5 189.8 60.2 187.8 60.0 186.7 60.7 185.8 61.8 185.3 61.9 184.6 62.7 184.6 65.2 184.1 65.7 183.8 67.1 183.3 68.2 183.8 71.2 183.3 74.7 183.8 77.0 183.7 80.7 183.4 81.2 183.4 82.2 182.8 82.7 182.6 83.7 182.1 84.2 181.9 84.7 182.1 86.2 181.8 86.5 181.7 87.2 181.3 87.7 180.8 87.7 180.3 88.3 179.3 88.2 178.8 88.8 177.8 88.5 177.3 88.7 176.8 88.6 176.3 88.7 175.8 89.3Z" fill="#fff" fill-rule="evenodd"/>
<path d="M173.8 52.2 171.3 52.2 166.3 51.6 164.8 51.2 163.3 50.4 162.4 49.2 162.1 48.2 162.3 45.7 162.9 44.2 163.8 43.4 164.8 42.8 165.8 42.5 167.3 42.4 176.3 43.7 180.3 43.4 181.8 43.8 183.0 44.7 183.5 45.7 183.4 46.7 182.7 48.2 181.3 49.8 180.3 50.5 178.8 51.1 175.8 52.0 173.8 52.2Z" fill="#444" fill-rule="evenodd"/>
<path d="M174.3 51.7 171.8 51.7 167.3 51.2 165.8 50.9 164.3 50.2 163.4 49.2 163.2 48.2 163.1 45.7 163.4 44.7 164.8 43.4 165.8 43.0 166.8 42.9 168.3 43.0 176.3 44.4 180.3 44.1 181.6 44.7 182.2 45.7 182.1 46.7 181.2 48.7 180.3 49.7 179.3 50.3 177.8 50.9 175.8 51.5 174.3 51.7Z" fill="#999" fill-rule="evenodd"/>
<path d="M174.3 50.7 172.8 50.8 170.8 50.5 167.8 49.7 166.6 49.2 165.8 48.5 165.3 47.6 164.8 46.2 164.9 45.2 165.8 44.3 167.3 44.0 174.8 45.8 177.8 46.2 178.9 46.7 179.2 47.2 179.2 48.2 178.4 49.2 176.5 50.2 174.3 50.7Z" fill="#bbb" fill-rule="evenodd"/>
<path d="M177.8 91.9 176.3 92.1 173.8 91.9 172.8 91.7 171.9 91.2 171.0 90.2 169.3 87.7 166.3 85.0 165.4 83.2 165.3 80.7 165.9 77.2 165.7 73.7 166.1 72.2 169.2 67.2 170.3 66.1 171.8 65.2 173.3 65.1 175.3 65.7 176.4 66.7 178.3 69.2 179.3 69.8 181.3 70.6 182.3 71.1 183.6 72.7 185.2 76.2 185.4 77.7 185.2 79.2 183.3 83.2 182.7 86.7 182.1 87.7 179.6 90.7 178.8 91.4 177.8 91.9Z" fill="#555" fill-rule="evenodd"/>
<path d="M177.3 91.3 176.3 91.3 174.3 90.9 172.3 90.0 169.4 86.7 166.9 84.7 166.3 83.7 166.0 82.7 165.8 80.7 166.5 76.7 166.4 74.2 166.6 72.7 168.3 70.5 169.2 68.2 169.9 67.2 171.1 66.2 172.3 65.8 173.8 65.8 174.8 66.2 176.0 67.2 177.3 69.2 178.2 70.2 181.8 71.9 182.6 72.7 184.3 75.5 184.9 77.2 184.9 78.2 184.5 79.7 182.5 83.2 182.3 85.7 182.0 86.7 179.3 90.2 178.3 91.0 177.3 91.3Z" fill="#9a9a9a" fill-rule="evenodd"/>
<path d="M177.8 87.5 176.8 87.5 169.8 84.1 168.3 82.7 167.7 81.2 167.7 80.2 167.9 79.2 169.6 76.7 170.1 74.7 171.2 72.2 171.8 68.7 172.2 68.2 172.8 67.9 173.8 68.0 174.3 68.3 177.3 72.4 179.7 74.2 182.3 76.8 182.8 77.7 182.7 78.7 182.3 79.3 179.3 81.2 178.3 82.2 178.0 82.7 177.9 83.7 178.6 86.2 178.3 87.1 177.8 87.5Z" fill="#aaa" fill-rule="evenodd"/>
<path d="M174.8 83.5 172.8 83.5 170.8 82.8 169.6 81.7 169.3 80.7 169.4 80.2 169.8 79.5 172.7 76.7 172.6 74.2 173.3 72.4 173.8 71.7 174.3 71.7 174.8 72.2 175.3 73.7 175.0 74.7 173.9 76.2 173.8 76.7 174.3 77.2 175.3 77.5 177.8 77.3 178.3 77.4 178.7 77.7 178.9 78.2 178.7 78.7 176.8 80.9 175.3 83.2 174.8 83.5Z" fill="#bbb" fill-rule="evenodd"/>
<path d="M201.8 57.8 194.3 58.1 192.3 57.7 190.3 56.5 188.6 54.7 188.2 53.7 188.5 52.2 189.3 51.2 190.3 50.6 197.8 48.0 199.8 47.9 202.3 48.5 204.8 48.7 206.3 49.2 207.5 50.2 208.1 51.2 208.2 52.7 207.8 54.2 207.1 55.2 205.8 56.1 203.3 57.3 201.8 57.8Z" fill="#ccc" fill-rule="evenodd"/>
<path d="M174.8 89.7 174.3 89.8 173.8 89.4 172.8 89.4 171.3 88.9 170.7 88.2 169.8 88.0 168.3 86.4 167.7 86.2 167.6 85.7 167.0 85.2 167.0 84.7 166.5 84.2 166.5 83.7 166.0 83.2 165.9 80.2 166.1 78.7 165.7 78.2 165.8 77.2 165.4 75.2 165.3 73.2 165.5 71.7 165.8 70.7 166.3 70.2 166.4 69.7 166.0 68.2 165.9 66.7 166.4 66.2 166.6 64.7 166.1 64.2 166.2 63.7 165.7 63.2 165.8 62.6 165.3 62.2 165.2 61.7 164.4 61.2 164.3 60.7 163.7 60.7 162.8 59.4 162.5 58.2 161.9 57.2 161.9 56.7 161.4 56.2 161.6 54.2 162.3 52.2 162.3 51.2 162.3 50.7 161.6 49.7 161.3 47.2 161.0 42.2 161.3 41.9 164.3 41.9 169.8 42.3 173.3 42.0 176.3 42.4 179.3 41.8 182.3 41.9 183.1 42.7 183.1 43.2 184.1 44.2 184.2 44.7 184.7 45.2 184.7 47.7 185.1 48.2 185.1 49.2 185.3 49.4 187.8 47.0 189.3 47.1 189.8 46.6 192.3 46.6 192.8 46.1 195.3 45.9 195.8 45.5 198.3 45.7 200.8 45.4 201.3 45.8 203.3 45.7 207.3 46.0 208.3 47.0 208.8 47.1 209.3 47.6 209.8 47.7 210.2 48.2 210.8 48.4 211.0 48.7 211.0 49.2 210.7 49.7 210.6 51.2 210.1 52.2 210.2 53.2 208.8 54.8 208.3 54.8 207.3 55.9 206.8 55.9 205.3 57.4 204.3 57.1 203.9 57.2 203.3 57.5 202.3 57.7 201.8 58.2 200.3 58.5 199.8 59.0 198.3 59.0 197.8 59.5 195.3 59.1 194.3 59.5 192.3 59.4 190.8 59.6 189.8 60.1 187.8 60.0 186.5 60.7 185.8 61.8 185.3 61.9 184.6 62.7 184.7 65.2 184.1 65.7 184.0 66.7 183.5 68.2 184.0 71.2 183.6 74.7 184.1 77.2 184.0 80.7 183.6 81.2 183.6 82.2 183.0 82.7 182.7 84.2 182.3 84.4 182.2 84.7 182.4 86.2 181.9 86.7 182.0 87.2 181.3 87.9 180.8 87.9 180.3 88.5 179.3 88.5 178.8 89.0 178.3 88.9 177.8 89.4 176.8 89.0 176.3 89.1 175.8 89.6 174.8 89.7Z" fill="none" stroke="#666" stroke-width="0.45" stroke-opacity="1.0"/>
<path d="M175.8 89.3 174.3 89.5 173.8 89.2 172.8 89.1 171.3 88.6 170.8 88.0 169.8 87.7 169.6 87.2 168.6 86.2 167.2 85.2 167.2 84.7 166.6 84.2 166.6 83.7 166.2 83.2 166.1 80.2 166.3 78.7 165.6 75.2 165.4 73.2 165.8 71.4 166.7 70.2 166.7 69.7 166.2 68.2 166.1 67.2 166.2 66.7 166.7 66.2 167.1 64.7 166.9 63.7 167.1 61.7 166.7 60.7 166.3 60.4 165.8 60.0 164.9 59.7 164.6 59.2 163.8 58.7 163.6 57.7 162.9 56.7 162.8 55.7 163.0 54.2 162.9 52.7 162.6 50.7 162.0 49.7 161.6 47.2 161.4 42.7 161.8 42.2 164.3 42.1 169.8 42.4 173.3 42.3 176.3 42.7 179.8 41.9 182.3 42.1 182.8 42.7 182.9 43.2 184.0 44.2 184.0 44.7 184.6 45.2 184.5 47.7 184.9 48.2 184.8 49.2 185.3 49.6 187.3 47.7 187.8 47.4 189.3 47.6 190.3 47.4 191.8 47.3 192.8 47.1 193.4 46.7 196.3 46.1 198.8 46.1 200.8 45.8 201.3 46.1 203.8 46.0 206.8 46.4 207.3 46.6 207.8 47.2 210.0 48.7 210.3 49.2 210.1 51.2 209.7 51.7 209.7 52.7 209.4 53.2 208.6 54.2 207.8 54.7 207.3 55.3 206.5 55.7 205.5 56.7 204.8 56.9 204.3 56.8 202.3 57.5 201.3 58.1 200.3 58.3 199.8 58.8 198.3 58.8 197.8 59.1 195.3 58.7 194.3 59.0 191.3 59.0 189.3 59.3 187.3 58.9 186.8 58.9 185.8 59.4 184.2 62.2 184.4 65.2 183.8 65.7 183.1 68.2 183.7 71.2 183.3 74.7 183.9 77.2 183.7 80.7 183.4 81.2 183.3 82.2 182.8 82.7 182.5 83.7 182.1 84.2 181.9 84.7 182.1 85.7 181.6 87.2 181.3 87.6 180.8 87.7 180.3 88.3 179.3 88.3 178.8 88.8 178.3 88.6 177.3 88.8 176.8 88.6 176.3 88.8 175.8 89.3Z" fill="none" stroke="#666" stroke-width="0.45" stroke-opacity="1.0"/>
<path d="M174.8 89.2 172.3 88.7 171.3 88.2 170.8 87.6 170.3 87.5 167.0 84.2 166.8 83.5 166.5 83.2 166.3 80.7 166.5 78.2 166.3 76.7 165.7 74.7 165.6 72.7 165.8 72.1 167.1 70.2 166.7 68.7 166.7 67.7 168.5 64.7 168.8 63.7 168.9 62.2 168.7 61.2 167.3 57.8 165.0 55.7 164.4 53.7 163.3 52.0 162.8 50.2 162.3 49.4 161.9 46.7 162.2 43.2 162.9 42.7 164.8 42.3 170.3 42.6 172.8 42.5 176.3 43.0 177.3 43.0 179.7 42.2 181.3 42.3 182.3 42.7 184.4 45.2 184.3 47.7 184.5 48.7 184.4 49.7 184.8 50.2 185.3 50.3 185.8 50.1 187.3 48.7 188.3 48.6 189.8 48.7 192.3 48.4 193.8 47.8 196.3 47.1 199.8 46.7 204.3 47.0 206.3 47.3 209.0 49.2 209.4 49.7 209.4 50.7 208.9 52.7 208.4 53.7 207.8 54.1 206.8 55.1 206.3 55.2 205.3 56.2 204.8 56.5 203.8 56.6 201.3 57.9 199.3 58.4 195.3 58.3 193.8 58.5 189.3 58.2 186.8 57.2 185.3 57.6 184.5 58.2 182.3 61.7 182.1 62.2 182.7 64.2 182.5 68.2 183.4 71.2 183.1 74.7 183.7 77.7 183.5 80.2 183.1 81.7 182.4 82.7 182.1 83.7 181.7 84.2 181.8 85.7 181.1 87.2 179.8 88.1 176.8 88.4 176.3 88.5 175.8 89.0 174.8 89.2Z" fill="none" stroke="#666" stroke-width="0.45" stroke-opacity="1.0"/>
<path d="M175.3 88.8 173.3 88.6 172.0 88.2 167.8 84.6 166.7 82.7 166.5 80.2 166.9 78.2 166.6 76.2 166.0 74.2 166.0 73.2 166.3 72.2 167.7 70.2 168.1 67.7 169.8 65.2 170.2 64.2 170.3 63.2 170.1 61.7 168.5 56.7 167.5 55.7 166.2 54.7 165.4 53.2 163.5 50.7 162.8 49.4 162.5 47.7 162.5 46.2 162.9 44.2 163.3 43.7 164.7 42.7 166.3 42.5 172.8 42.9 176.3 43.7 177.3 43.7 179.8 43.1 181.3 43.2 182.8 44.3 183.8 45.7 183.8 46.9 182.9 49.7 183.0 51.2 183.8 52.3 184.8 53.0 185.3 53.1 186.3 52.5 187.8 51.0 188.9 50.2 192.3 49.6 194.3 48.7 197.3 47.9 199.8 47.6 202.3 48.2 204.8 48.3 205.8 48.6 207.4 49.7 208.0 50.2 207.9 51.7 207.5 52.7 206.6 54.2 204.8 55.7 201.3 57.3 193.8 57.8 189.8 56.9 188.8 56.6 187.3 55.8 186.3 55.7 184.8 56.1 183.8 56.7 182.3 59.2 180.4 61.2 180.1 62.2 180.5 63.7 180.8 67.7 182.4 70.7 182.8 72.0 182.7 74.7 183.4 77.7 183.3 80.2 182.8 81.7 182.0 82.7 181.3 84.2 181.4 85.7 180.8 86.9 179.8 87.7 178.8 87.7 176.3 88.2 175.3 88.8Z" fill="none" stroke="#666" stroke-width="0.45" stroke-opacity="1.0"/>
<path d="M178.3 87.2 176.8 87.6 175.3 87.6 172.8 87.1 168.8 84.1 168.0 83.2 167.4 82.2 167.1 80.2 167.8 76.2 167.5 73.7 167.6 73.2 169.2 71.2 169.4 68.2 171.4 65.2 171.8 63.7 171.5 62.2 169.6 56.2 168.8 55.1 167.3 53.8 165.1 51.2 163.8 48.7 163.5 46.7 163.7 44.7 164.7 43.7 165.8 43.1 167.8 42.9 176.3 44.6 177.8 44.6 179.8 44.1 180.8 44.2 181.8 45.0 182.2 45.7 182.3 46.2 181.6 48.7 181.2 51.7 181.7 54.2 182.7 55.7 181.2 58.2 179.3 60.0 178.8 60.8 178.5 62.2 178.5 66.7 179.0 68.2 180.8 70.6 181.3 71.7 181.8 74.7 182.8 76.7 182.9 78.7 182.7 79.7 180.9 81.7 180.3 82.7 180.0 83.7 180.0 85.2 179.8 85.9 179.3 86.5 178.3 87.2ZM196.8 56.7 193.3 56.9 190.3 55.9 187.8 54.7 188.2 53.2 188.8 52.2 189.8 51.5 192.8 50.7 194.3 49.9 197.3 48.9 198.3 48.7 199.3 48.7 199.8 48.9 201.9 50.2 202.8 50.3 204.3 50.0 205.3 50.0 206.4 50.7 206.5 51.2 205.8 52.8 204.3 54.4 202.6 55.7 200.8 56.5 196.8 56.7Z" fill="none" stroke="#666" stroke-width="0.45" stroke-opacity="1.0"/>
<path d="M175.8 85.8 175.3 85.8 174.3 85.6 172.3 85.0 169.3 82.7 168.6 81.7 168.3 80.7 168.3 79.7 169.4 77.2 169.7 74.7 170.6 71.7 170.7 68.7 171.2 67.7 172.7 65.7 173.0 64.7 173.1 63.2 172.1 57.7 169.8 54.2 166.7 51.2 165.0 48.7 164.6 47.2 164.5 45.7 165.0 44.7 166.3 43.9 167.3 43.7 168.3 43.8 175.8 45.6 179.8 45.6 180.3 45.8 180.5 46.2 180.5 47.2 180.0 49.7 178.4 53.2 178.5 53.7 178.9 54.2 180.8 55.7 178.3 57.9 177.8 58.8 177.2 61.7 177.1 66.7 177.2 67.7 177.6 68.7 179.9 72.7 180.4 75.2 181.2 77.2 181.4 78.2 180.9 79.2 179.9 80.2 178.9 81.7 177.8 84.4 176.8 85.5 175.8 85.8ZM196.3 55.8 194.3 55.9 192.8 55.7 189.5 54.2 189.5 53.7 190.3 52.7 192.8 51.9 194.8 51.0 197.8 50.1 198.8 50.2 199.3 50.4 201.9 52.2 202.2 53.7 201.5 54.7 200.9 55.2 200.3 55.4 197.8 55.5 196.3 55.8Z" fill="none" stroke="#666" stroke-width="0.45" stroke-opacity="1.0"/>
<path d="M175.3 56.8 174.3 57.1 173.8 56.8 173.6 56.2 170.6 53.2 167.1 49.2 166.4 48.2 165.8 46.7 166.1 45.7 166.6 45.2 167.3 44.9 168.3 45.0 174.3 46.4 177.8 47.0 178.8 47.4 179.0 47.7 178.9 48.2 178.5 49.7 176.8 52.2 176.3 53.2 176.3 53.7 177.1 55.7 175.3 56.8ZM195.8 54.2 194.3 53.9 193.4 53.2 194.8 52.4 197.8 51.7 198.8 51.9 199.2 52.2 198.8 53.2 198.3 53.5 195.8 54.2ZM175.8 83.7 174.8 83.9 172.8 83.6 170.8 82.2 170.3 81.7 169.9 80.7 169.9 79.7 171.3 77.2 172.1 69.2 172.3 68.6 173.8 66.8 174.1 65.7 174.7 62.2 174.2 59.7 174.3 57.8 175.8 57.9 175.9 58.2 175.9 61.7 176.1 64.7 176.0 67.7 176.3 68.8 178.4 74.2 179.2 77.2 179.1 78.2 178.7 79.2 176.8 82.8 175.8 83.7Z" fill="none" stroke="#666" stroke-width="0.45" stroke-opacity="1.0"/>
<path d="M173.8 52.3 172.8 52.5 171.8 52.5 170.3 50.7 169.7 48.2 169.8 47.7 170.3 47.2 171.8 47.2 173.6 47.7 175.3 48.3 176.1 48.7 176.3 49.0 176.4 49.7 176.1 50.2 173.8 52.3ZM174.3 82.3 173.8 82.3 172.8 81.7 172.2 81.2 172.1 80.7 172.1 80.2 173.0 78.7 173.3 77.7 173.0 74.2 173.1 72.2 173.8 70.5 174.8 69.5 175.3 70.0 175.9 71.7 176.8 78.2 176.4 79.7 175.7 81.7 175.3 82.1 174.3 82.3Z" fill="none" stroke="#666" stroke-width="0.45" stroke-opacity="1.0"/>
</g>
<path d="M159.3 39.6 L183.5 39.4 L186.5 42 L187 49.5 L185.2 50.5 L183.6 45 L160 43.6 Z" fill="#111"/>
<ellipse cx="203.5" cy="52.6" rx="11.2" ry="14.7" transform="rotate(0 203.5 52.6)" fill="none" stroke="#666" stroke-width="0.8"/>
<clipPath id="cc1"><rect x="293.2" y="12.5" width="83.20" height="83.10"/></clipPath>
<g clip-path="url(#cc1)">
<path d="M349.2 95.5 340.7 95.8 333.2 95.6 327.7 95.7 324.3 95.5 323.4 90.5 322.2 87.9 321.6 83.0 320.8 79.5 320.7 78.5 320.8 77.5 322.1 73.5 322.7 69.5 322.6 68.5 321.9 66.0 321.8 63.5 321.5 61.0 322.0 53.5 323.0 51.0 323.6 48.5 324.2 47.3 326.5 44.0 329.5 42.0 330.2 41.3 331.0 40.0 332.1 36.5 332.6 35.5 333.7 34.5 334.7 34.1 336.7 34.0 337.9 34.5 340.4 36.5 341.2 37.5 341.4 38.5 341.2 40.0 341.4 40.5 342.3 41.0 345.7 41.8 346.7 42.4 347.2 43.0 347.6 44.0 347.6 47.0 348.0 48.5 348.7 50.0 351.2 53.0 351.9 55.0 352.0 56.5 351.6 59.0 351.9 60.0 353.3 62.0 353.9 64.0 353.7 65.5 352.6 67.5 352.4 68.5 352.7 69.5 353.8 71.5 353.8 75.0 353.6 76.5 352.5 79.5 352.0 85.0 350.7 89.0 349.5 95.0 349.2 95.5Z" fill="#dcdcdc" fill-rule="evenodd"/>
<path d="M343.7 95.5 337.8 95.5 335.2 92.3 334.2 91.6 332.7 91.2 331.7 91.3 329.7 91.8 329.2 91.8 328.8 91.5 328.6 91.0 327.3 86.0 326.5 81.5 325.2 78.0 325.3 76.5 326.1 73.0 328.0 69.5 328.4 68.5 328.5 67.5 327.7 64.0 328.0 63.0 328.9 61.0 329.6 57.0 333.2 51.0 334.2 50.1 336.5 48.5 337.7 46.4 338.2 45.9 338.7 45.8 339.3 46.0 339.8 46.5 339.6 49.0 340.3 51.0 341.2 52.2 344.2 54.4 344.8 55.5 344.9 56.5 344.4 60.0 344.6 61.0 345.0 62.0 346.2 63.3 348.2 64.1 348.7 64.5 348.8 65.0 347.3 69.0 346.6 72.0 347.2 75.5 346.6 77.5 346.5 78.5 346.7 79.3 347.8 81.5 347.6 83.0 346.6 86.5 346.1 87.5 345.2 88.4 342.7 89.4 342.5 90.0 342.7 92.7 343.7 95.5Z" fill="#c4c4c4" fill-rule="evenodd"/>
<path d="M321.7 95.5 315.7 95.5 312.9 92.0 310.7 88.3 310.1 86.5 309.9 80.5 310.8 77.0 311.3 74.0 312.2 72.5 314.7 69.7 315.4 69.0 316.2 68.6 317.7 68.7 321.2 70.3 324.7 71.1 327.1 72.5 328.4 74.0 330.3 79.5 330.4 82.0 329.8 86.5 329.2 88.0 327.7 91.0 326.7 92.5 325.7 93.5 323.2 95.1 321.7 95.5Z" fill="#777" fill-rule="evenodd"/>
<path d="M320.2 92.6 318.7 92.6 317.9 92.0 317.7 91.0 318.1 88.0 318.0 86.5 317.3 85.5 315.7 84.3 314.9 83.5 313.2 79.5 313.1 77.0 313.6 75.0 314.4 74.0 315.7 73.3 317.2 73.3 320.7 74.8 324.2 75.2 325.1 75.5 326.2 76.6 327.2 79.0 327.3 80.0 327.2 81.0 325.5 82.5 325.3 83.0 325.2 85.0 324.8 86.5 321.7 91.5 321.2 92.0 320.2 92.6Z" fill="#333" fill-rule="evenodd"/>
<path d="M311.2 90.1 308.7 89.9 306.2 89.4 304.2 88.7 300.9 86.5 299.0 84.0 298.3 82.5 298.0 81.0 297.2 79.2 295.5 77.0 295.2 76.0 295.7 74.0 294.3 72.0 293.8 70.5 294.2 68.0 293.7 66.0 293.6 62.5 294.1 60.0 293.8 57.5 293.2 55.6 293.2 48.5 293.5 47.5 293.6 46.5 293.2 45.5 293.2 34.9 293.9 34.5 294.7 34.4 298.2 35.1 302.7 34.3 305.2 34.2 307.7 34.6 310.2 34.0 311.2 33.9 312.2 34.2 313.7 35.2 314.2 35.3 321.2 35.0 323.2 35.4 325.7 36.4 327.2 36.3 330.7 37.0 331.7 37.0 333.7 36.6 336.2 36.7 338.7 36.3 340.2 36.7 341.1 37.5 342.2 38.9 344.2 42.6 344.7 45.0 344.6 46.0 344.2 47.3 343.7 48.0 342.5 49.0 340.3 52.0 339.3 53.0 337.2 54.4 335.7 54.4 335.2 54.7 334.2 55.4 331.7 57.7 331.2 60.0 329.6 63.0 329.3 67.0 327.9 70.0 327.4 71.5 326.2 73.0 325.5 75.0 325.0 77.0 325.0 79.5 324.3 81.0 322.7 82.9 321.7 83.7 321.2 83.9 319.6 84.0 318.2 85.9 317.2 86.5 315.2 88.4 314.2 89.0 311.2 90.1Z" fill="#aaa" fill-rule="evenodd"/>
<path d="M311.2 88.1 309.7 88.0 308.2 88.3 307.2 88.3 304.7 87.5 303.7 86.8 302.2 85.4 297.4 77.0 297.3 76.5 297.9 73.5 297.2 72.5 296.2 70.0 295.7 67.5 294.9 65.5 295.2 63.5 295.2 62.0 295.7 59.5 295.0 55.0 295.4 53.0 294.7 52.0 294.4 50.5 294.9 46.0 294.1 43.0 293.2 41.4 293.2 38.2 294.1 36.5 294.6 36.0 295.2 35.8 297.2 36.4 298.2 36.4 301.2 36.0 302.7 35.5 304.2 35.5 305.7 35.6 307.2 36.3 308.2 36.4 311.2 35.6 312.2 35.8 313.7 36.5 316.7 36.6 318.7 36.9 320.7 37.5 321.2 38.0 322.2 37.1 322.7 37.1 324.7 38.0 326.2 38.2 327.7 38.1 331.2 38.4 334.2 37.8 338.2 37.8 339.3 38.0 341.2 39.9 343.1 43.0 343.5 45.0 343.2 46.5 339.9 49.5 338.2 51.5 336.7 51.7 334.7 52.8 332.7 55.0 330.7 56.5 329.7 57.7 328.9 59.5 328.8 60.5 328.1 62.5 328.4 66.0 328.3 67.0 326.0 71.0 324.7 72.5 323.9 75.0 323.3 78.5 321.8 81.5 321.2 82.0 320.7 82.1 319.2 81.8 318.3 82.0 317.7 82.8 316.9 84.5 314.7 86.7 313.7 87.3 312.2 87.7 311.2 88.1Z" fill="#333" fill-rule="evenodd"/>
<path d="M307.7 87.5 305.2 86.9 303.2 85.2 302.7 84.5 301.3 81.5 299.9 79.5 299.7 78.5 299.1 77.5 298.9 76.0 299.1 75.0 298.8 73.0 298.2 72.2 297.7 70.5 297.1 69.5 296.6 67.0 296.0 66.0 295.9 65.0 296.3 63.0 296.1 62.0 296.5 59.5 296.2 58.0 296.2 56.5 296.7 54.0 296.8 52.5 296.1 51.5 295.6 49.0 295.5 47.5 295.8 45.5 295.6 45.0 295.5 43.5 294.3 41.0 294.0 40.0 294.1 39.0 294.7 37.8 295.2 37.3 295.7 37.2 297.7 37.4 301.7 36.9 302.7 36.4 304.7 36.3 308.2 37.4 311.7 37.0 313.2 37.4 315.2 37.2 317.7 37.4 318.7 37.7 319.7 38.4 320.4 39.5 320.7 39.6 322.7 38.5 324.6 39.0 326.7 39.2 327.7 39.1 332.2 39.3 335.2 38.7 338.2 38.9 339.2 39.2 341.2 41.3 342.5 43.5 342.8 45.0 342.6 46.0 342.2 46.5 340.7 47.5 337.7 50.1 337.2 50.4 336.2 50.6 334.2 52.1 331.2 55.0 329.4 56.0 329.2 56.5 328.2 57.5 327.7 59.0 327.7 60.0 327.2 62.5 327.5 64.0 327.7 66.5 326.7 68.5 323.8 72.5 323.1 74.5 322.4 78.0 321.2 80.0 320.2 81.0 318.7 81.0 317.8 81.5 317.2 82.1 316.2 84.0 314.0 86.0 313.2 86.3 312.2 86.3 311.2 86.7 309.2 86.9 307.7 87.5Z" fill="#000" fill-rule="evenodd"/>
<path d="M329.4 67.8h0.6v0.6h-0.6zM295.3 75.2h0.6v0.6h-0.6zM325.0 79.6h0.6v0.6h-0.6zM316.8 83.3h0.6v0.6h-0.6zM306.1 90.3h0.6v0.6h-0.6zM325.8 37.7h0.6v0.6h-0.6zM329.9 75.2h0.6v0.6h-0.6zM308.4 88.6h0.6v0.6h-0.6zM333.9 82.5h0.6v0.6h-0.6zM329.8 84.4h0.6v0.6h-0.6zM330.4 78.7h0.6v0.6h-0.6zM321.9 90.2h0.6v0.6h-0.6zM330.0 70.9h0.6v0.6h-0.6zM294.6 38.1h0.6v0.6h-0.6zM321.4 39.6h0.6v0.6h-0.6zM302.6 94.1h0.6v0.6h-0.6zM301.3 90.8h0.6v0.6h-0.6zM320.0 85.7h0.6v0.6h-0.6zM294.1 65.2h0.6v0.6h-0.6zM301.8 85.2h0.6v0.6h-0.6zM326.6 91.6h0.6v0.6h-0.6zM338.9 81.0h0.6v0.6h-0.6zM328.6 61.1h0.6v0.6h-0.6zM327.4 89.1h0.6v0.6h-0.6zM323.1 90.9h0.6v0.6h-0.6zM333.2 62.3h0.6v0.6h-0.6zM327.4 69.7h0.6v0.6h-0.6zM328.9 61.3h0.6v0.6h-0.6zM334.4 84.0h0.6v0.6h-0.6zM339.8 78.0h0.6v0.6h-0.6zM301.3 82.7h0.6v0.6h-0.6zM299.4 95.2h0.6v0.6h-0.6zM338.9 90.7h0.6v0.6h-0.6zM294.9 73.7h0.6v0.6h-0.6zM329.6 82.3h0.6v0.6h-0.6zM329.2 76.1h0.6v0.6h-0.6zM329.9 57.8h0.6v0.6h-0.6zM326.1 37.4h0.6v0.6h-0.6zM300.6 80.5h0.6v0.6h-0.6zM294.2 64.0h0.6v0.6h-0.6zM338.7 52.8h0.6v0.6h-0.6zM299.3 75.5h0.6v0.6h-0.6zM337.8 62.9h0.6v0.6h-0.6zM294.0 41.1h0.6v0.6h-0.6zM326.8 68.8h0.6v0.6h-0.6zM316.9 86.1h0.6v0.6h-0.6zM330.4 64.5h0.6v0.6h-0.6zM336.4 69.1h0.6v0.6h-0.6zM343.6 43.8h0.6v0.6h-0.6zM329.2 83.2h0.6v0.6h-0.6zM342.8 81.8h0.6v0.6h-0.6zM322.3 87.2h0.6v0.6h-0.6zM298.6 81.6h0.6v0.6h-0.6zM303.7 92.6h0.6v0.6h-0.6zM341.3 80.3h0.6v0.6h-0.6zM339.9 49.0h0.6v0.6h-0.6zM309.2 90.4h0.6v0.6h-0.6zM296.5 53.1h0.6v0.6h-0.6zM293.3 54.9h0.6v0.6h-0.6zM325.7 38.9h0.6v0.6h-0.6zM322.2 89.5h0.6v0.6h-0.6zM307.0 88.0h0.6v0.6h-0.6zM335.1 64.7h0.6v0.6h-0.6zM303.1 85.1h0.6v0.6h-0.6zM318.0 85.0h0.6v0.6h-0.6zM323.8 78.7h0.6v0.6h-0.6zM324.7 38.6h0.6v0.6h-0.6zM330.1 60.1h0.6v0.6h-0.6zM327.0 39.1h0.6v0.6h-0.6zM333.6 76.8h0.6v0.6h-0.6zM295.2 66.2h0.6v0.6h-0.6zM301.7 91.2h0.6v0.6h-0.6zM313.5 34.4h0.6v0.6h-0.6zM340.7 71.2h0.6v0.6h-0.6zM294.8 59.2h0.6v0.6h-0.6zM324.7 78.4h0.6v0.6h-0.6zM295.1 60.1h0.6v0.6h-0.6zM337.8 76.5h0.6v0.6h-0.6zM327.0 74.9h0.6v0.6h-0.6zM296.5 54.6h0.6v0.6h-0.6zM318.8 91.3h0.6v0.6h-0.6zM305.5 36.0h0.6v0.6h-0.6zM323.5 80.7h0.6v0.6h-0.6zM299.4 94.8h0.6v0.6h-0.6zM333.4 63.3h0.6v0.6h-0.6zM301.7 82.4h0.6v0.6h-0.6zM323.4 81.2h0.6v0.6h-0.6zM341.5 78.2h0.6v0.6h-0.6zM339.1 56.4h0.6v0.6h-0.6zM295.8 66.4h0.6v0.6h-0.6zM329.7 66.1h0.6v0.6h-0.6zM329.9 57.9h0.6v0.6h-0.6zM333.2 61.2h0.6v0.6h-0.6zM340.3 67.0h0.6v0.6h-0.6zM332.6 57.5h0.6v0.6h-0.6zM313.0 37.0h0.6v0.6h-0.6zM296.8 34.4h0.6v0.6h-0.6zM319.4 37.3h0.6v0.6h-0.6zM343.0 79.7h0.6v0.6h-0.6zM336.4 81.9h0.6v0.6h-0.6zM297.5 78.0h0.6v0.6h-0.6zM310.8 86.9h0.6v0.6h-0.6zM342.2 95.1h0.6v0.6h-0.6zM325.4 35.4h0.6v0.6h-0.6zM342.9 43.1h0.6v0.6h-0.6zM313.8 86.7h0.6v0.6h-0.6zM308.9 36.4h0.6v0.6h-0.6zM341.3 52.4h0.6v0.6h-0.6zM340.0 39.8h0.6v0.6h-0.6zM304.8 35.9h0.6v0.6h-0.6zM317.9 94.0h0.6v0.6h-0.6zM294.1 41.1h0.6v0.6h-0.6zM314.0 92.2h0.6v0.6h-0.6zM331.6 67.8h0.6v0.6h-0.6zM312.3 35.8h0.6v0.6h-0.6zM321.6 94.7h0.6v0.6h-0.6zM341.5 95.0h0.6v0.6h-0.6zM296.2 71.7h0.6v0.6h-0.6zM320.0 84.6h0.6v0.6h-0.6zM295.3 61.0h0.6v0.6h-0.6zM296.1 66.8h0.6v0.6h-0.6zM294.4 50.4h0.6v0.6h-0.6zM320.8 91.4h0.6v0.6h-0.6zM329.6 60.2h0.6v0.6h-0.6zM329.5 85.1h0.6v0.6h-0.6zM321.6 94.9h0.6v0.6h-0.6zM340.8 50.8h0.6v0.6h-0.6zM324.6 72.7h0.6v0.6h-0.6zM326.1 77.2h0.6v0.6h-0.6zM308.1 88.1h0.6v0.6h-0.6zM303.0 85.7h0.6v0.6h-0.6zM325.8 88.0h0.6v0.6h-0.6zM317.5 94.6h0.6v0.6h-0.6zM299.1 84.6h0.6v0.6h-0.6zM332.0 86.0h0.6v0.6h-0.6zM315.6 92.8h0.6v0.6h-0.6zM328.4 93.5h0.6v0.6h-0.6zM335.9 53.0h0.6v0.6h-0.6zM339.2 38.0h0.6v0.6h-0.6zM342.0 42.8h0.6v0.6h-0.6zM306.1 94.1h0.6v0.6h-0.6zM297.6 37.6h0.6v0.6h-0.6zM313.6 91.9h0.6v0.6h-0.6zM339.8 49.4h0.6v0.6h-0.6zM310.8 87.0h0.6v0.6h-0.6zM309.3 88.8h0.6v0.6h-0.6zM339.9 72.7h0.6v0.6h-0.6zM333.9 74.0h0.6v0.6h-0.6zM329.3 61.5h0.6v0.6h-0.6zM328.9 85.4h0.6v0.6h-0.6zM307.3 92.9h0.6v0.6h-0.6zM316.0 85.1h0.6v0.6h-0.6zM331.2 61.5h0.6v0.6h-0.6zM330.6 59.5h0.6v0.6h-0.6zM331.4 93.9h0.6v0.6h-0.6zM328.9 94.4h0.6v0.6h-0.6zM312.1 36.3h0.6v0.6h-0.6zM336.0 63.2h0.6v0.6h-0.6zM320.1 84.6h0.6v0.6h-0.6zM323.8 87.9h0.6v0.6h-0.6zM293.4 65.7h0.6v0.6h-0.6zM294.6 57.2h0.6v0.6h-0.6zM295.9 64.5h0.6v0.6h-0.6zM295.5 45.7h0.6v0.6h-0.6zM329.2 72.1h0.6v0.6h-0.6zM296.5 55.0h0.6v0.6h-0.6zM308.3 94.6h0.6v0.6h-0.6zM303.8 85.8h0.6v0.6h-0.6zM309.3 90.9h0.6v0.6h-0.6zM340.6 71.9h0.6v0.6h-0.6zM301.5 35.7h0.6v0.6h-0.6zM303.1 35.8h0.6v0.6h-0.6zM327.9 59.1h0.6v0.6h-0.6zM299.3 77.2h0.6v0.6h-0.6zM303.6 85.7h0.6v0.6h-0.6zM332.3 85.5h0.6v0.6h-0.6zM295.6 45.6h0.6v0.6h-0.6zM319.3 91.5h0.6v0.6h-0.6zM297.2 37.2h0.6v0.6h-0.6zM325.7 75.6h0.6v0.6h-0.6zM320.0 90.9h0.6v0.6h-0.6zM293.6 50.3h0.6v0.6h-0.6zM296.8 72.4h0.6v0.6h-0.6zM328.6 59.5h0.6v0.6h-0.6zM323.7 74.7h0.6v0.6h-0.6zM327.7 70.0h0.6v0.6h-0.6zM324.2 77.9h0.6v0.6h-0.6zM301.5 84.3h0.6v0.6h-0.6zM297.6 74.7h0.6v0.6h-0.6zM327.4 86.3h0.6v0.6h-0.6zM336.0 51.7h0.6v0.6h-0.6zM328.7 81.5h0.6v0.6h-0.6zM338.5 71.5h0.6v0.6h-0.6zM326.0 81.8h0.6v0.6h-0.6zM332.3 36.4h0.6v0.6h-0.6zM328.6 84.8h0.6v0.6h-0.6zM333.2 86.6h0.6v0.6h-0.6zM294.7 54.2h0.6v0.6h-0.6zM321.7 82.0h0.6v0.6h-0.6zM342.4 42.4h0.6v0.6h-0.6zM340.4 48.2h0.6v0.6h-0.6zM311.3 87.7h0.6v0.6h-0.6zM341.4 50.4h0.6v0.6h-0.6zM300.0 91.5h0.6v0.6h-0.6zM331.7 57.9h0.6v0.6h-0.6zM298.5 81.3h0.6v0.6h-0.6zM326.3 86.3h0.6v0.6h-0.6zM320.4 39.6h0.6v0.6h-0.6zM298.4 74.9h0.6v0.6h-0.6zM328.3 65.1h0.6v0.6h-0.6zM296.9 68.0h0.6v0.6h-0.6zM294.5 36.3h0.6v0.6h-0.6zM338.3 89.5h0.6v0.6h-0.6zM295.7 53.0h0.6v0.6h-0.6zM318.0 86.5h0.6v0.6h-0.6zM334.1 52.9h0.6v0.6h-0.6zM338.0 63.6h0.6v0.6h-0.6zM299.8 79.2h0.6v0.6h-0.6zM305.8 87.0h0.6v0.6h-0.6zM327.6 61.8h0.6v0.6h-0.6zM309.8 87.5h0.6v0.6h-0.6zM298.1 78.0h0.6v0.6h-0.6zM307.9 35.8h0.6v0.6h-0.6zM315.4 90.6h0.6v0.6h-0.6zM294.5 44.6h0.6v0.6h-0.6zM326.1 79.5h0.6v0.6h-0.6zM327.4 80.4h0.6v0.6h-0.6zM330.7 92.0h0.6v0.6h-0.6zM319.1 37.5h0.6v0.6h-0.6zM330.5 74.2h0.6v0.6h-0.6zM303.8 93.0h0.6v0.6h-0.6zM341.0 48.5h0.6v0.6h-0.6zM339.9 38.6h0.6v0.6h-0.6zM308.9 92.5h0.6v0.6h-0.6zM334.8 91.6h0.6v0.6h-0.6zM334.2 86.9h0.6v0.6h-0.6zM312.0 87.9h0.6v0.6h-0.6zM296.1 36.9h0.6v0.6h-0.6zM317.9 95.1h0.6v0.6h-0.6zM324.2 82.3h0.6v0.6h-0.6zM309.9 94.7h0.6v0.6h-0.6zM325.0 72.8h0.6v0.6h-0.6zM330.3 79.2h0.6v0.6h-0.6zM319.7 38.5h0.6v0.6h-0.6zM336.7 54.5h0.6v0.6h-0.6zM331.9 79.6h0.6v0.6h-0.6zM335.5 78.1h0.6v0.6h-0.6zM296.7 35.8h0.6v0.6h-0.6zM295.0 43.8h0.6v0.6h-0.6zM310.1 37.4h0.6v0.6h-0.6zM333.0 64.4h0.6v0.6h-0.6zM308.4 93.4h0.6v0.6h-0.6zM296.7 70.0h0.6v0.6h-0.6zM293.6 36.1h0.6v0.6h-0.6zM321.6 39.1h0.6v0.6h-0.6zM302.4 91.4h0.6v0.6h-0.6zM333.7 72.9h0.6v0.6h-0.6zM305.1 36.5h0.6v0.6h-0.6zM325.0 38.6h0.6v0.6h-0.6zM295.0 64.7h0.6v0.6h-0.6zM298.3 95.4h0.6v0.6h-0.6zM313.8 37.1h0.6v0.6h-0.6zM332.8 65.3h0.6v0.6h-0.6zM325.3 72.0h0.6v0.6h-0.6zM319.4 90.4h0.6v0.6h-0.6zM324.6 77.8h0.6v0.6h-0.6zM315.6 88.6h0.6v0.6h-0.6zM293.9 53.5h0.6v0.6h-0.6zM307.0 95.5h0.6v0.6h-0.6zM319.5 36.4h0.6v0.6h-0.6zM330.7 92.0h0.6v0.6h-0.6zM326.7 70.2h0.6v0.6h-0.6zM327.9 68.2h0.6v0.6h-0.6zM334.2 91.6h0.6v0.6h-0.6zM327.8 86.8h0.6v0.6h-0.6zM335.7 51.7h0.6v0.6h-0.6zM319.2 94.3h0.6v0.6h-0.6zM327.1 92.2h0.6v0.6h-0.6zM304.6 90.1h0.6v0.6h-0.6zM318.0 93.7h0.6v0.6h-0.6zM296.2 62.8h0.6v0.6h-0.6zM298.0 79.4h0.6v0.6h-0.6zM332.1 70.2h0.6v0.6h-0.6zM333.8 38.4h0.6v0.6h-0.6zM320.1 84.7h0.6v0.6h-0.6zM312.8 37.7h0.6v0.6h-0.6zM296.4 63.8h0.6v0.6h-0.6zM319.2 37.9h0.6v0.6h-0.6zM307.1 91.5h0.6v0.6h-0.6zM325.9 78.1h0.6v0.6h-0.6zM309.2 87.1h0.6v0.6h-0.6zM314.5 86.3h0.6v0.6h-0.6zM333.6 55.2h0.6v0.6h-0.6zM341.3 48.8h0.6v0.6h-0.6zM336.9 52.3h0.6v0.6h-0.6zM320.6 90.4h0.6v0.6h-0.6zM337.9 53.9h0.6v0.6h-0.6zM312.5 36.3h0.6v0.6h-0.6zM315.2 89.8h0.6v0.6h-0.6zM296.0 57.9h0.6v0.6h-0.6zM307.5 36.4h0.6v0.6h-0.6zM334.1 80.6h0.6v0.6h-0.6zM337.7 67.7h0.6v0.6h-0.6zM327.6 37.1h0.6v0.6h-0.6zM308.8 87.5h0.6v0.6h-0.6zM328.7 62.0h0.6v0.6h-0.6zM308.0 87.7h0.6v0.6h-0.6zM327.5 93.9h0.6v0.6h-0.6zM333.4 78.6h0.6v0.6h-0.6zM331.6 79.0h0.6v0.6h-0.6zM293.6 53.7h0.6v0.6h-0.6zM328.2 71.9h0.6v0.6h-0.6zM339.6 52.6h0.6v0.6h-0.6zM319.0 85.3h0.6v0.6h-0.6zM319.6 82.5h0.6v0.6h-0.6zM323.0 79.2h0.6v0.6h-0.6zM295.4 42.5h0.6v0.6h-0.6zM324.8 72.4h0.6v0.6h-0.6zM321.4 35.8h0.6v0.6h-0.6zM333.9 88.8h0.6v0.6h-0.6zM322.5 95.5h0.6v0.6h-0.6zM315.8 90.6h0.6v0.6h-0.6zM322.5 80.9h0.6v0.6h-0.6zM309.5 88.8h0.6v0.6h-0.6zM296.9 92.4h0.6v0.6h-0.6zM295.3 58.9h0.6v0.6h-0.6zM326.0 78.4h0.6v0.6h-0.6zM317.3 92.2h0.6v0.6h-0.6zM340.9 77.6h0.6v0.6h-0.6zM327.5 60.5h0.6v0.6h-0.6zM326.9 89.1h0.6v0.6h-0.6zM296.6 76.7h0.6v0.6h-0.6zM316.5 91.3h0.6v0.6h-0.6zM329.7 92.8h0.6v0.6h-0.6zM308.4 94.0h0.6v0.6h-0.6zM327.7 63.7h0.6v0.6h-0.6zM301.2 37.1h0.6v0.6h-0.6zM342.4 77.8h0.6v0.6h-0.6zM307.7 36.8h0.6v0.6h-0.6zM327.5 62.3h0.6v0.6h-0.6zM330.6 59.0h0.6v0.6h-0.6zM339.1 76.0h0.6v0.6h-0.6zM294.7 66.5h0.6v0.6h-0.6zM335.1 53.0h0.6v0.6h-0.6zM322.6 80.9h0.6v0.6h-0.6zM295.0 58.0h0.6v0.6h-0.6zM325.7 88.2h0.6v0.6h-0.6zM321.1 38.9h0.6v0.6h-0.6zM334.2 61.9h0.6v0.6h-0.6zM300.1 82.1h0.6v0.6h-0.6zM309.4 93.0h0.6v0.6h-0.6zM319.9 37.0h0.6v0.6h-0.6zM327.6 86.8h0.6v0.6h-0.6zM305.1 34.2h0.6v0.6h-0.6zM325.2 85.7h0.6v0.6h-0.6zM343.0 47.7h0.6v0.6h-0.6zM331.5 58.1h0.6v0.6h-0.6zM303.7 86.2h0.6v0.6h-0.6zM332.9 39.2h0.6v0.6h-0.6zM332.0 58.2h0.6v0.6h-0.6zM332.2 83.0h0.6v0.6h-0.6zM327.5 59.1h0.6v0.6h-0.6zM339.1 39.0h0.6v0.6h-0.6zM329.2 57.0h0.6v0.6h-0.6zM295.3 61.3h0.6v0.6h-0.6zM326.0 75.2h0.6v0.6h-0.6zM333.0 79.8h0.6v0.6h-0.6zM332.7 79.5h0.6v0.6h-0.6zM327.6 74.0h0.6v0.6h-0.6zM327.8 95.2h0.6v0.6h-0.6zM293.5 95.2h0.6v0.6h-0.6zM339.3 50.6h0.6v0.6h-0.6zM327.6 90.2h0.6v0.6h-0.6zM327.9 81.9h0.6v0.6h-0.6zM313.5 92.3h0.6v0.6h-0.6zM312.2 91.8h0.6v0.6h-0.6zM333.0 68.0h0.6v0.6h-0.6zM324.9 72.8h0.6v0.6h-0.6zM328.6 66.5h0.6v0.6h-0.6zM321.9 34.6h0.6v0.6h-0.6zM325.2 71.1h0.6v0.6h-0.6zM317.9 37.0h0.6v0.6h-0.6zM329.1 56.4h0.6v0.6h-0.6zM298.5 75.7h0.6v0.6h-0.6zM320.1 94.4h0.6v0.6h-0.6zM323.7 94.7h0.6v0.6h-0.6zM308.0 91.7h0.6v0.6h-0.6zM326.6 69.4h0.6v0.6h-0.6zM340.2 49.9h0.6v0.6h-0.6zM295.9 94.9h0.6v0.6h-0.6zM327.9 77.9h0.6v0.6h-0.6zM327.4 95.3h0.6v0.6h-0.6zM339.1 71.9h0.6v0.6h-0.6zM307.2 35.5h0.6v0.6h-0.6zM329.1 58.1h0.6v0.6h-0.6zM308.4 91.2h0.6v0.6h-0.6zM313.3 35.2h0.6v0.6h-0.6zM320.9 88.8h0.6v0.6h-0.6zM335.7 57.4h0.6v0.6h-0.6zM340.9 78.9h0.6v0.6h-0.6zM343.5 46.2h0.6v0.6h-0.6zM318.3 91.6h0.6v0.6h-0.6zM306.5 88.7h0.6v0.6h-0.6zM304.0 94.6h0.6v0.6h-0.6zM332.0 57.3h0.6v0.6h-0.6zM331.9 81.5h0.6v0.6h-0.6zM313.9 37.2h0.6v0.6h-0.6zM331.0 58.7h0.6v0.6h-0.6zM330.7 38.9h0.6v0.6h-0.6zM302.4 93.3h0.6v0.6h-0.6zM341.2 40.5h0.6v0.6h-0.6zM312.2 87.4h0.6v0.6h-0.6zM332.5 54.6h0.6v0.6h-0.6zM323.5 78.7h0.6v0.6h-0.6zM340.2 92.5h0.6v0.6h-0.6zM337.9 81.8h0.6v0.6h-0.6zM326.5 38.4h0.6v0.6h-0.6zM332.8 68.2h0.6v0.6h-0.6zM299.4 79.9h0.6v0.6h-0.6zM298.1 72.0h0.6v0.6h-0.6zM312.0 37.0h0.6v0.6h-0.6zM327.3 37.3h0.6v0.6h-0.6zM328.5 60.8h0.6v0.6h-0.6zM337.2 51.7h0.6v0.6h-0.6zM293.5 51.9h0.6v0.6h-0.6zM304.1 92.9h0.6v0.6h-0.6zM296.0 64.2h0.6v0.6h-0.6zM329.9 63.6h0.6v0.6h-0.6zM311.3 36.3h0.6v0.6h-0.6zM326.6 37.8h0.6v0.6h-0.6zM305.5 36.3h0.6v0.6h-0.6zM324.4 35.2h0.6v0.6h-0.6zM326.9 38.0h0.6v0.6h-0.6zM320.1 84.1h0.6v0.6h-0.6zM308.6 92.4h0.6v0.6h-0.6zM336.9 75.5h0.6v0.6h-0.6zM328.2 77.7h0.6v0.6h-0.6zM329.2 73.1h0.6v0.6h-0.6zM341.2 52.7h0.6v0.6h-0.6zM327.3 83.3h0.6v0.6h-0.6zM293.0 40.8h0.6v0.6h-0.6zM333.6 92.4h0.6v0.6h-0.6zM322.0 86.4h0.6v0.6h-0.6zM296.4 56.0h0.6v0.6h-0.6zM327.0 67.9h0.6v0.6h-0.6zM332.7 90.2h0.6v0.6h-0.6zM298.6 75.4h0.6v0.6h-0.6zM301.5 82.3h0.6v0.6h-0.6zM319.0 37.3h0.6v0.6h-0.6zM304.0 91.3h0.6v0.6h-0.6zM332.5 38.6h0.6v0.6h-0.6zM311.5 86.4h0.6v0.6h-0.6zM329.4 70.9h0.6v0.6h-0.6zM294.9 66.6h0.6v0.6h-0.6zM293.2 38.3h0.6v0.6h-0.6zM307.9 87.7h0.6v0.6h-0.6zM340.7 38.3h0.6v0.6h-0.6zM327.5 62.1h0.6v0.6h-0.6zM328.6 80.4h0.6v0.6h-0.6zM329.7 84.4h0.6v0.6h-0.6zM294.8 49.9h0.6v0.6h-0.6zM327.4 92.6h0.6v0.6h-0.6zM338.0 65.2h0.6v0.6h-0.6zM320.9 85.2h0.6v0.6h-0.6zM326.9 88.8h0.6v0.6h-0.6zM307.4 36.6h0.6v0.6h-0.6zM333.0 78.2h0.6v0.6h-0.6zM311.8 35.6h0.6v0.6h-0.6zM338.0 53.6h0.6v0.6h-0.6zM338.6 77.5h0.6v0.6h-0.6zM300.5 82.6h0.6v0.6h-0.6zM318.0 93.1h0.6v0.6h-0.6zM316.2 84.8h0.6v0.6h-0.6zM296.8 72.3h0.6v0.6h-0.6zM343.7 44.2h0.6v0.6h-0.6zM299.2 76.1h0.6v0.6h-0.6zM312.3 35.9h0.6v0.6h-0.6zM335.1 56.1h0.6v0.6h-0.6zM341.2 71.6h0.6v0.6h-0.6zM295.9 53.7h0.6v0.6h-0.6zM321.2 38.3h0.6v0.6h-0.6zM299.5 78.1h0.6v0.6h-0.6zM315.9 36.8h0.6v0.6h-0.6zM338.9 62.4h0.6v0.6h-0.6zM313.1 92.2h0.6v0.6h-0.6zM298.3 75.9h0.6v0.6h-0.6zM337.9 74.4h0.6v0.6h-0.6zM338.1 92.8h0.6v0.6h-0.6zM302.3 36.6h0.6v0.6h-0.6zM327.5 81.3h0.6v0.6h-0.6zM339.2 35.7h0.6v0.6h-0.6zM326.0 69.5h0.6v0.6h-0.6zM331.7 83.7h0.6v0.6h-0.6zM330.0 56.2h0.6v0.6h-0.6zM309.0 36.7h0.6v0.6h-0.6zM304.1 87.5h0.6v0.6h-0.6zM324.3 76.4h0.6v0.6h-0.6zM331.5 79.6h0.6v0.6h-0.6zM333.4 53.9h0.6v0.6h-0.6zM303.8 85.3h0.6v0.6h-0.6zM309.0 37.0h0.6v0.6h-0.6zM332.5 54.9h0.6v0.6h-0.6zM321.9 86.0h0.6v0.6h-0.6zM317.8 84.3h0.6v0.6h-0.6zM344.1 43.7h0.6v0.6h-0.6zM318.7 82.5h0.6v0.6h-0.6zM334.1 53.2h0.6v0.6h-0.6zM338.5 84.9h0.6v0.6h-0.6zM337.2 75.1h0.6v0.6h-0.6zM302.7 35.0h0.6v0.6h-0.6zM323.0 37.5h0.6v0.6h-0.6zM342.3 77.1h0.6v0.6h-0.6zM326.2 77.9h0.6v0.6h-0.6zM324.0 94.4h0.6v0.6h-0.6zM296.2 62.0h0.6v0.6h-0.6zM298.3 91.2h0.6v0.6h-0.6zM294.3 54.5h0.6v0.6h-0.6zM337.9 70.7h0.6v0.6h-0.6zM301.3 91.6h0.6v0.6h-0.6zM333.6 38.4h0.6v0.6h-0.6zM311.2 93.7h0.6v0.6h-0.6zM321.9 87.4h0.6v0.6h-0.6zM294.8 49.2h0.6v0.6h-0.6zM306.9 89.2h0.6v0.6h-0.6zM298.4 75.5h0.6v0.6h-0.6zM328.5 94.7h0.6v0.6h-0.6zM332.6 75.1h0.6v0.6h-0.6zM298.3 76.4h0.6v0.6h-0.6zM324.7 79.1h0.6v0.6h-0.6zM297.0 70.7h0.6v0.6h-0.6zM301.9 93.8h0.6v0.6h-0.6zM293.0 40.3h0.6v0.6h-0.6zM333.4 66.9h0.6v0.6h-0.6zM301.1 83.2h0.6v0.6h-0.6zM295.1 66.4h0.6v0.6h-0.6zM301.0 81.4h0.6v0.6h-0.6zM339.8 54.5h0.6v0.6h-0.6zM319.1 92.4h0.6v0.6h-0.6zM329.0 71.5h0.6v0.6h-0.6zM309.5 94.7h0.6v0.6h-0.6zM295.8 64.3h0.6v0.6h-0.6zM335.9 88.8h0.6v0.6h-0.6zM296.3 92.0h0.6v0.6h-0.6zM342.6 48.1h0.6v0.6h-0.6zM342.7 46.5h0.6v0.6h-0.6zM317.1 82.9h0.6v0.6h-0.6zM323.6 78.8h0.6v0.6h-0.6zM343.2 81.1h0.6v0.6h-0.6zM331.5 39.0h0.6v0.6h-0.6zM315.4 94.9h0.6v0.6h-0.6zM296.1 52.6h0.6v0.6h-0.6zM328.2 87.7h0.6v0.6h-0.6zM302.1 84.8h0.6v0.6h-0.6zM301.9 36.3h0.6v0.6h-0.6zM296.1 59.5h0.6v0.6h-0.6zM303.9 34.8h0.6v0.6h-0.6zM323.4 78.9h0.6v0.6h-0.6zM342.5 40.5h0.6v0.6h-0.6zM322.9 81.4h0.6v0.6h-0.6zM336.3 70.0h0.6v0.6h-0.6zM302.4 88.0h0.6v0.6h-0.6zM331.0 57.3h0.6v0.6h-0.6zM309.1 95.1h0.6v0.6h-0.6zM337.9 61.9h0.6v0.6h-0.6zM316.5 85.5h0.6v0.6h-0.6zM307.1 94.0h0.6v0.6h-0.6zM302.5 36.5h0.6v0.6h-0.6zM343.2 44.0h0.6v0.6h-0.6zM309.8 89.7h0.6v0.6h-0.6zM327.6 81.6h0.6v0.6h-0.6zM297.2 70.4h0.6v0.6h-0.6zM298.0 74.9h0.6v0.6h-0.6zM300.8 90.1h0.6v0.6h-0.6zM328.0 78.6h0.6v0.6h-0.6zM295.8 60.2h0.6v0.6h-0.6zM338.7 84.6h0.6v0.6h-0.6zM295.7 64.4h0.6v0.6h-0.6zM333.6 66.9h0.6v0.6h-0.6zM323.1 38.0h0.6v0.6h-0.6zM312.5 94.2h0.6v0.6h-0.6zM326.5 69.3h0.6v0.6h-0.6zM342.9 48.4h0.6v0.6h-0.6zM299.2 78.3h0.6v0.6h-0.6zM325.3 89.0h0.6v0.6h-0.6zM329.6 87.0h0.6v0.6h-0.6zM328.1 86.8h0.6v0.6h-0.6zM295.6 93.5h0.6v0.6h-0.6zM333.5 38.3h0.6v0.6h-0.6zM324.2 90.4h0.6v0.6h-0.6zM324.9 81.2h0.6v0.6h-0.6zM333.5 69.3h0.6v0.6h-0.6zM329.3 62.1h0.6v0.6h-0.6zM297.8 95.4h0.6v0.6h-0.6zM324.8 38.2h0.6v0.6h-0.6zM303.5 86.3h0.6v0.6h-0.6zM318.1 95.5h0.6v0.6h-0.6zM342.9 43.3h0.6v0.6h-0.6zM325.7 71.8h0.6v0.6h-0.6zM298.7 76.7h0.6v0.6h-0.6zM322.3 85.0h0.6v0.6h-0.6zM339.9 49.9h0.6v0.6h-0.6zM323.5 74.6h0.6v0.6h-0.6zM295.9 64.4h0.6v0.6h-0.6zM320.4 93.3h0.6v0.6h-0.6zM293.8 61.6h0.6v0.6h-0.6zM297.2 76.1h0.6v0.6h-0.6zM342.6 41.8h0.6v0.6h-0.6zM296.1 36.4h0.6v0.6h-0.6zM335.4 59.5h0.6v0.6h-0.6zM342.6 77.9h0.6v0.6h-0.6zM330.4 93.7h0.6v0.6h-0.6zM339.7 37.1h0.6v0.6h-0.6zM328.3 73.2h0.6v0.6h-0.6zM293.4 41.4h0.6v0.6h-0.6zM337.2 37.0h0.6v0.6h-0.6zM328.9 94.2h0.6v0.6h-0.6zM310.9 37.0h0.6v0.6h-0.6zM319.6 85.7h0.6v0.6h-0.6zM330.4 72.2h0.6v0.6h-0.6zM329.5 60.7h0.6v0.6h-0.6zM323.0 79.5h0.6v0.6h-0.6zM334.7 64.0h0.6v0.6h-0.6zM343.7 45.3h0.6v0.6h-0.6zM307.8 93.5h0.6v0.6h-0.6zM323.2 36.9h0.6v0.6h-0.6zM308.6 36.2h0.6v0.6h-0.6zM330.4 88.2h0.6v0.6h-0.6zM316.2 87.9h0.6v0.6h-0.6zM305.4 34.6h0.6v0.6h-0.6zM335.8 67.1h0.6v0.6h-0.6zM337.8 50.5h0.6v0.6h-0.6zM333.3 72.6h0.6v0.6h-0.6zM341.0 49.0h0.6v0.6h-0.6zM324.4 87.4h0.6v0.6h-0.6zM322.2 95.1h0.6v0.6h-0.6zM312.5 89.0h0.6v0.6h-0.6zM317.1 82.8h0.6v0.6h-0.6zM327.5 64.0h0.6v0.6h-0.6zM340.4 51.9h0.6v0.6h-0.6zM344.2 47.1h0.6v0.6h-0.6zM321.8 83.5h0.6v0.6h-0.6zM327.7 91.1h0.6v0.6h-0.6zM336.3 70.7h0.6v0.6h-0.6zM297.5 89.6h0.6v0.6h-0.6zM311.0 90.6h0.6v0.6h-0.6zM321.3 81.9h0.6v0.6h-0.6zM332.0 67.8h0.6v0.6h-0.6zM343.5 43.5h0.6v0.6h-0.6zM334.4 60.2h0.6v0.6h-0.6zM304.5 86.9h0.6v0.6h-0.6zM337.6 38.5h0.6v0.6h-0.6zM318.2 83.1h0.6v0.6h-0.6zM330.9 95.4h0.6v0.6h-0.6zM308.8 93.8h0.6v0.6h-0.6zM327.6 79.3h0.6v0.6h-0.6zM325.1 82.1h0.6v0.6h-0.6zM319.4 95.6h0.6v0.6h-0.6zM306.5 89.9h0.6v0.6h-0.6zM325.2 80.6h0.6v0.6h-0.6zM331.1 80.6h0.6v0.6h-0.6zM338.1 72.6h0.6v0.6h-0.6zM328.5 89.9h0.6v0.6h-0.6zM331.8 76.2h0.6v0.6h-0.6zM301.7 93.8h0.6v0.6h-0.6zM297.9 71.3h0.6v0.6h-0.6zM295.7 55.0h0.6v0.6h-0.6zM293.5 56.2h0.6v0.6h-0.6zM327.7 60.7h0.6v0.6h-0.6zM337.1 65.6h0.6v0.6h-0.6zM330.3 56.2h0.6v0.6h-0.6zM336.1 90.5h0.6v0.6h-0.6zM294.1 41.3h0.6v0.6h-0.6zM307.3 87.7h0.6v0.6h-0.6zM302.2 89.2h0.6v0.6h-0.6zM319.2 35.9h0.6v0.6h-0.6zM338.8 38.5h0.6v0.6h-0.6zM302.0 92.5h0.6v0.6h-0.6zM294.4 62.3h0.6v0.6h-0.6zM324.5 73.0h0.6v0.6h-0.6zM324.9 71.5h0.6v0.6h-0.6zM341.6 40.9h0.6v0.6h-0.6zM296.8 69.9h0.6v0.6h-0.6zM317.5 93.3h0.6v0.6h-0.6zM316.8 87.8h0.6v0.6h-0.6zM311.2 87.5h0.6v0.6h-0.6zM334.5 93.3h0.6v0.6h-0.6zM331.5 88.5h0.6v0.6h-0.6zM301.2 35.8h0.6v0.6h-0.6zM296.5 71.2h0.6v0.6h-0.6zM294.4 41.7h0.6v0.6h-0.6zM298.1 76.1h0.6v0.6h-0.6zM300.2 93.3h0.6v0.6h-0.6zM332.6 69.6h0.6v0.6h-0.6zM303.2 89.0h0.6v0.6h-0.6zM293.9 42.5h0.6v0.6h-0.6zM317.9 93.2h0.6v0.6h-0.6zM329.7 59.5h0.6v0.6h-0.6zM330.3 58.5h0.6v0.6h-0.6zM334.7 38.1h0.6v0.6h-0.6zM326.4 85.2h0.6v0.6h-0.6zM326.7 93.8h0.6v0.6h-0.6zM312.2 35.9h0.6v0.6h-0.6zM300.2 81.3h0.6v0.6h-0.6zM340.0 55.8h0.6v0.6h-0.6zM309.9 88.6h0.6v0.6h-0.6zM296.9 69.1h0.6v0.6h-0.6zM312.4 37.1h0.6v0.6h-0.6zM330.9 60.9h0.6v0.6h-0.6zM324.3 78.7h0.6v0.6h-0.6zM331.7 58.2h0.6v0.6h-0.6zM294.4 52.0h0.6v0.6h-0.6zM319.3 90.7h0.6v0.6h-0.6zM320.4 37.4h0.6v0.6h-0.6zM313.7 87.6h0.6v0.6h-0.6zM319.3 82.9h0.6v0.6h-0.6zM319.7 82.9h0.6v0.6h-0.6zM320.6 39.1h0.6v0.6h-0.6zM303.4 36.6h0.6v0.6h-0.6zM318.0 85.9h0.6v0.6h-0.6zM335.9 90.7h0.6v0.6h-0.6zM343.0 45.0h0.6v0.6h-0.6zM329.9 56.4h0.6v0.6h-0.6zM294.5 66.4h0.6v0.6h-0.6zM332.7 91.1h0.6v0.6h-0.6zM311.5 88.0h0.6v0.6h-0.6zM324.1 80.6h0.6v0.6h-0.6zM298.4 76.2h0.6v0.6h-0.6zM334.7 36.1h0.6v0.6h-0.6zM337.1 88.9h0.6v0.6h-0.6zM294.3 47.3h0.6v0.6h-0.6zM338.4 52.6h0.6v0.6h-0.6zM318.1 82.5h0.6v0.6h-0.6zM331.3 39.2h0.6v0.6h-0.6zM303.2 87.1h0.6v0.6h-0.6zM326.9 71.4h0.6v0.6h-0.6zM314.8 37.0h0.6v0.6h-0.6zM331.8 65.0h0.6v0.6h-0.6zM340.8 71.8h0.6v0.6h-0.6zM307.1 36.0h0.6v0.6h-0.6zM331.8 37.7h0.6v0.6h-0.6zM298.2 37.2h0.6v0.6h-0.6zM335.0 38.5h0.6v0.6h-0.6zM337.5 36.3h0.6v0.6h-0.6zM326.3 94.6h0.6v0.6h-0.6zM301.4 84.7h0.6v0.6h-0.6zM296.1 66.5h0.6v0.6h-0.6zM319.8 83.7h0.6v0.6h-0.6zM337.4 75.6h0.6v0.6h-0.6zM318.6 93.2h0.6v0.6h-0.6zM327.7 77.2h0.6v0.6h-0.6zM294.9 33.9h0.6v0.6h-0.6zM321.9 93.1h0.6v0.6h-0.6zM342.4 47.7h0.6v0.6h-0.6zM294.7 53.3h0.6v0.6h-0.6zM335.9 50.8h0.6v0.6h-0.6zM327.5 80.7h0.6v0.6h-0.6zM300.8 37.2h0.6v0.6h-0.6zM313.7 87.3h0.6v0.6h-0.6zM333.9 92.5h0.6v0.6h-0.6zM338.8 72.6h0.6v0.6h-0.6zM295.5 37.1h0.6v0.6h-0.6zM325.0 77.6h0.6v0.6h-0.6zM338.4 91.9h0.6v0.6h-0.6zM293.8 64.2h0.6v0.6h-0.6zM309.8 87.0h0.6v0.6h-0.6zM332.0 73.2h0.6v0.6h-0.6zM328.1 63.4h0.6v0.6h-0.6zM306.6 36.9h0.6v0.6h-0.6zM325.1 94.5h0.6v0.6h-0.6zM337.6 74.8h0.6v0.6h-0.6zM334.2 52.8h0.6v0.6h-0.6zM332.4 55.4h0.6v0.6h-0.6zM315.1 95.1h0.6v0.6h-0.6zM339.5 65.3h0.6v0.6h-0.6zM326.9 78.1h0.6v0.6h-0.6zM326.0 81.6h0.6v0.6h-0.6zM322.1 86.2h0.6v0.6h-0.6zM315.0 85.4h0.6v0.6h-0.6zM319.7 37.2h0.6v0.6h-0.6zM318.7 94.2h0.6v0.6h-0.6zM302.2 90.5h0.6v0.6h-0.6zM324.2 79.4h0.6v0.6h-0.6zM331.6 92.1h0.6v0.6h-0.6zM294.3 66.9h0.6v0.6h-0.6zM295.1 49.5h0.6v0.6h-0.6zM326.7 85.9h0.6v0.6h-0.6zM305.6 87.2h0.6v0.6h-0.6zM340.1 78.9h0.6v0.6h-0.6zM316.2 93.2h0.6v0.6h-0.6zM308.8 88.5h0.6v0.6h-0.6zM341.4 49.3h0.6v0.6h-0.6zM303.3 35.9h0.6v0.6h-0.6zM322.2 89.1h0.6v0.6h-0.6zM330.6 90.0h0.6v0.6h-0.6zM296.7 71.7h0.6v0.6h-0.6zM317.7 91.2h0.6v0.6h-0.6zM342.1 42.0h0.6v0.6h-0.6zM333.0 65.0h0.6v0.6h-0.6zM314.4 92.6h0.6v0.6h-0.6zM338.3 54.8h0.6v0.6h-0.6zM325.6 85.1h0.6v0.6h-0.6zM325.2 73.3h0.6v0.6h-0.6zM305.9 87.3h0.6v0.6h-0.6zM338.4 76.9h0.6v0.6h-0.6zM305.1 92.7h0.6v0.6h-0.6zM321.2 36.4h0.6v0.6h-0.6zM327.8 93.3h0.6v0.6h-0.6zM330.6 62.7h0.6v0.6h-0.6zM304.0 87.7h0.6v0.6h-0.6zM316.6 35.8h0.6v0.6h-0.6zM318.3 84.9h0.6v0.6h-0.6zM293.7 48.6h0.6v0.6h-0.6zM336.6 38.0h0.6v0.6h-0.6zM333.0 38.5h0.6v0.6h-0.6zM311.1 36.6h0.6v0.6h-0.6zM324.9 91.7h0.6v0.6h-0.6zM300.5 81.2h0.6v0.6h-0.6zM315.4 86.6h0.6v0.6h-0.6zM321.1 35.4h0.6v0.6h-0.6zM325.2 79.8h0.6v0.6h-0.6zM294.3 56.3h0.6v0.6h-0.6zM340.0 39.4h0.6v0.6h-0.6zM295.0 67.5h0.6v0.6h-0.6zM339.9 39.3h0.6v0.6h-0.6zM306.1 89.2h0.6v0.6h-0.6zM296.5 37.3h0.6v0.6h-0.6zM296.5 54.0h0.6v0.6h-0.6zM295.8 45.8h0.6v0.6h-0.6zM302.9 35.8h0.6v0.6h-0.6zM296.8 54.8h0.6v0.6h-0.6zM314.7 94.9h0.6v0.6h-0.6zM320.9 94.1h0.6v0.6h-0.6zM305.7 95.4h0.6v0.6h-0.6zM310.5 88.1h0.6v0.6h-0.6zM294.9 69.2h0.6v0.6h-0.6zM329.0 95.1h0.6v0.6h-0.6zM329.4 86.3h0.6v0.6h-0.6zM294.3 57.6h0.6v0.6h-0.6zM295.8 71.9h0.6v0.6h-0.6zM293.6 44.4h0.6v0.6h-0.6zM333.0 36.6h0.6v0.6h-0.6zM318.6 93.5h0.6v0.6h-0.6zM339.0 38.2h0.6v0.6h-0.6zM338.0 55.4h0.6v0.6h-0.6zM329.9 55.9h0.6v0.6h-0.6zM320.3 36.8h0.6v0.6h-0.6zM326.2 82.3h0.6v0.6h-0.6zM305.1 93.2h0.6v0.6h-0.6zM318.0 83.5h0.6v0.6h-0.6zM340.1 74.0h0.6v0.6h-0.6zM336.1 38.3h0.6v0.6h-0.6zM329.9 64.6h0.6v0.6h-0.6zM318.4 83.6h0.6v0.6h-0.6zM337.4 90.7h0.6v0.6h-0.6zM296.5 53.5h0.6v0.6h-0.6zM296.8 76.3h0.6v0.6h-0.6zM311.8 93.4h0.6v0.6h-0.6zM331.4 72.8h0.6v0.6h-0.6zM332.4 74.7h0.6v0.6h-0.6zM295.1 43.6h0.6v0.6h-0.6zM325.5 87.5h0.6v0.6h-0.6zM329.7 58.2h0.6v0.6h-0.6zM295.5 34.9h0.6v0.6h-0.6zM342.0 53.1h0.6v0.6h-0.6zM340.1 51.1h0.6v0.6h-0.6zM300.0 84.4h0.6v0.6h-0.6zM340.7 40.6h0.6v0.6h-0.6zM315.6 90.6h0.6v0.6h-0.6zM320.4 82.0h0.6v0.6h-0.6zM303.3 35.4h0.6v0.6h-0.6zM296.3 56.2h0.6v0.6h-0.6zM323.7 75.5h0.6v0.6h-0.6zM294.8 52.2h0.6v0.6h-0.6zM339.4 37.5h0.6v0.6h-0.6zM317.4 89.6h0.6v0.6h-0.6zM319.2 86.9h0.6v0.6h-0.6zM335.3 38.3h0.6v0.6h-0.6zM334.8 77.8h0.6v0.6h-0.6zM305.0 94.7h0.6v0.6h-0.6zM324.7 71.8h0.6v0.6h-0.6zM332.9 80.0h0.6v0.6h-0.6zM296.6 77.7h0.6v0.6h-0.6zM296.5 76.0h0.6v0.6h-0.6zM310.2 92.1h0.6v0.6h-0.6zM298.1 79.3h0.6v0.6h-0.6zM319.7 85.8h0.6v0.6h-0.6zM339.2 91.3h0.6v0.6h-0.6zM323.1 81.2h0.6v0.6h-0.6zM297.2 70.5h0.6v0.6h-0.6zM316.6 88.4h0.6v0.6h-0.6zM326.3 37.3h0.6v0.6h-0.6zM344.2 44.3h0.6v0.6h-0.6zM340.0 69.1h0.6v0.6h-0.6zM326.3 72.4h0.6v0.6h-0.6zM303.2 92.7h0.6v0.6h-0.6zM326.1 37.5h0.6v0.6h-0.6zM324.4 90.8h0.6v0.6h-0.6zM324.8 93.5h0.6v0.6h-0.6zM317.8 92.1h0.6v0.6h-0.6zM303.5 94.5h0.6v0.6h-0.6zM296.0 90.8h0.6v0.6h-0.6zM319.9 90.9h0.6v0.6h-0.6zM342.5 48.4h0.6v0.6h-0.6zM298.3 73.2h0.6v0.6h-0.6zM338.2 59.5h0.6v0.6h-0.6zM295.9 63.7h0.6v0.6h-0.6zM313.4 93.6h0.6v0.6h-0.6zM326.5 95.0h0.6v0.6h-0.6zM325.2 75.2h0.6v0.6h-0.6zM321.5 83.5h0.6v0.6h-0.6zM327.1 79.0h0.6v0.6h-0.6zM334.2 54.4h0.6v0.6h-0.6zM308.7 88.1h0.6v0.6h-0.6zM317.1 94.0h0.6v0.6h-0.6zM315.9 94.2h0.6v0.6h-0.6zM330.7 71.5h0.6v0.6h-0.6zM341.6 63.5h0.6v0.6h-0.6zM325.2 78.0h0.6v0.6h-0.6zM312.5 93.0h0.6v0.6h-0.6zM302.2 92.6h0.6v0.6h-0.6zM297.3 75.9h0.6v0.6h-0.6zM328.8 84.6h0.6v0.6h-0.6zM293.9 41.4h0.6v0.6h-0.6zM339.0 50.2h0.6v0.6h-0.6zM330.5 61.6h0.6v0.6h-0.6zM327.8 72.4h0.6v0.6h-0.6zM294.9 35.3h0.6v0.6h-0.6zM331.0 38.1h0.6v0.6h-0.6zM328.4 83.0h0.6v0.6h-0.6zM295.2 90.5h0.6v0.6h-0.6zM309.2 95.6h0.6v0.6h-0.6zM293.3 72.2h0.6v0.6h-0.6zM340.8 40.4h0.6v0.6h-0.6zM335.6 74.5h0.6v0.6h-0.6zM332.3 73.6h0.6v0.6h-0.6zM326.4 79.7h0.6v0.6h-0.6zM319.2 89.3h0.6v0.6h-0.6zM310.2 90.2h0.6v0.6h-0.6zM296.9 90.1h0.6v0.6h-0.6zM307.5 94.7h0.6v0.6h-0.6zM338.1 37.0h0.6v0.6h-0.6zM340.8 38.0h0.6v0.6h-0.6zM316.3 91.9h0.6v0.6h-0.6zM342.1 40.7h0.6v0.6h-0.6zM304.2 93.1h0.6v0.6h-0.6zM331.7 54.7h0.6v0.6h-0.6zM324.7 37.8h0.6v0.6h-0.6zM299.2 78.5h0.6v0.6h-0.6zM328.3 79.2h0.6v0.6h-0.6zM330.5 82.9h0.6v0.6h-0.6zM294.8 37.9h0.6v0.6h-0.6zM311.8 87.5h0.6v0.6h-0.6zM295.0 53.1h0.6v0.6h-0.6zM339.6 68.4h0.6v0.6h-0.6zM329.6 88.9h0.6v0.6h-0.6zM293.5 62.0h0.6v0.6h-0.6zM328.4 74.5h0.6v0.6h-0.6zM313.3 93.7h0.6v0.6h-0.6zM338.2 65.5h0.6v0.6h-0.6zM302.4 84.3h0.6v0.6h-0.6zM327.3 75.8h0.6v0.6h-0.6zM315.5 84.3h0.6v0.6h-0.6zM308.6 35.8h0.6v0.6h-0.6zM309.3 87.2h0.6v0.6h-0.6zM320.8 36.8h0.6v0.6h-0.6zM301.9 84.5h0.6v0.6h-0.6zM338.7 74.6h0.6v0.6h-0.6zM336.2 86.6h0.6v0.6h-0.6zM324.5 90.7h0.6v0.6h-0.6zM321.0 92.7h0.6v0.6h-0.6zM325.7 76.0h0.6v0.6h-0.6zM307.0 87.3h0.6v0.6h-0.6zM306.0 88.9h0.6v0.6h-0.6zM338.9 56.0h0.6v0.6h-0.6zM307.7 92.9h0.6v0.6h-0.6zM334.6 70.5h0.6v0.6h-0.6zM336.7 59.0h0.6v0.6h-0.6zM311.4 87.0h0.6v0.6h-0.6zM339.4 69.7h0.6v0.6h-0.6zM302.7 91.7h0.6v0.6h-0.6zM338.9 59.1h0.6v0.6h-0.6zM293.9 43.3h0.6v0.6h-0.6zM309.9 37.7h0.6v0.6h-0.6zM302.2 84.0h0.6v0.6h-0.6zM329.2 87.6h0.6v0.6h-0.6zM293.6 39.1h0.6v0.6h-0.6zM328.3 79.7h0.6v0.6h-0.6zM338.7 52.0h0.6v0.6h-0.6zM331.2 81.6h0.6v0.6h-0.6zM335.6 51.1h0.6v0.6h-0.6zM322.6 88.9h0.6v0.6h-0.6zM324.0 77.5h0.6v0.6h-0.6zM342.6 69.2h0.6v0.6h-0.6zM332.1 90.7h0.6v0.6h-0.6zM316.8 35.6h0.6v0.6h-0.6zM322.3 80.9h0.6v0.6h-0.6zM317.9 91.6h0.6v0.6h-0.6zM294.6 38.1h0.6v0.6h-0.6zM326.6 94.4h0.6v0.6h-0.6zM334.9 54.8h0.6v0.6h-0.6zM325.8 82.7h0.6v0.6h-0.6zM317.8 84.6h0.6v0.6h-0.6zM337.1 75.2h0.6v0.6h-0.6zM340.1 49.2h0.6v0.6h-0.6zM300.3 93.4h0.6v0.6h-0.6zM334.0 54.5h0.6v0.6h-0.6zM329.1 85.6h0.6v0.6h-0.6zM294.1 92.8h0.6v0.6h-0.6zM293.3 36.0h0.6v0.6h-0.6zM320.3 35.6h0.6v0.6h-0.6zM295.6 55.0h0.6v0.6h-0.6zM296.9 53.3h0.6v0.6h-0.6zM297.2 36.7h0.6v0.6h-0.6zM301.1 86.3h0.6v0.6h-0.6zM338.4 72.6h0.6v0.6h-0.6zM296.7 69.3h0.6v0.6h-0.6zM332.6 55.1h0.6v0.6h-0.6zM294.3 49.6h0.6v0.6h-0.6zM326.0 94.3h0.6v0.6h-0.6zM299.1 95.0h0.6v0.6h-0.6zM344.2 43.3h0.6v0.6h-0.6zM330.9 36.7h0.6v0.6h-0.6zM331.7 87.6h0.6v0.6h-0.6zM328.3 90.7h0.6v0.6h-0.6zM339.1 49.4h0.6v0.6h-0.6zM293.6 41.0h0.6v0.6h-0.6zM311.4 36.5h0.6v0.6h-0.6zM318.5 89.5h0.6v0.6h-0.6zM341.2 64.6h0.6v0.6h-0.6zM337.7 62.0h0.6v0.6h-0.6zM329.1 65.1h0.6v0.6h-0.6zM324.3 87.3h0.6v0.6h-0.6zM337.7 79.5h0.6v0.6h-0.6zM308.8 37.6h0.6v0.6h-0.6zM325.3 38.7h0.6v0.6h-0.6zM324.2 86.3h0.6v0.6h-0.6zM340.3 55.8h0.6v0.6h-0.6zM320.0 91.8h0.6v0.6h-0.6zM322.9 86.7h0.6v0.6h-0.6zM330.6 89.2h0.6v0.6h-0.6zM328.9 74.0h0.6v0.6h-0.6zM301.8 84.1h0.6v0.6h-0.6zM331.0 85.8h0.6v0.6h-0.6zM325.1 78.7h0.6v0.6h-0.6zM332.5 90.5h0.6v0.6h-0.6zM323.4 83.7h0.6v0.6h-0.6zM316.7 83.4h0.6v0.6h-0.6zM337.7 58.5h0.6v0.6h-0.6zM310.3 89.7h0.6v0.6h-0.6zM321.2 85.7h0.6v0.6h-0.6zM322.3 35.3h0.6v0.6h-0.6zM321.0 39.7h0.6v0.6h-0.6zM343.5 45.3h0.6v0.6h-0.6zM329.9 83.5h0.6v0.6h-0.6zM321.4 92.7h0.6v0.6h-0.6zM326.0 92.7h0.6v0.6h-0.6zM303.3 86.7h0.6v0.6h-0.6zM295.8 46.1h0.6v0.6h-0.6zM312.6 91.7h0.6v0.6h-0.6zM327.9 65.4h0.6v0.6h-0.6zM328.7 78.9h0.6v0.6h-0.6zM338.4 51.3h0.6v0.6h-0.6zM295.7 64.5h0.6v0.6h-0.6zM324.3 72.7h0.6v0.6h-0.6zM327.0 79.4h0.6v0.6h-0.6zM318.1 83.3h0.6v0.6h-0.6zM327.6 37.7h0.6v0.6h-0.6zM296.3 64.1h0.6v0.6h-0.6zM306.1 95.7h0.6v0.6h-0.6zM294.6 46.7h0.6v0.6h-0.6zM330.9 88.1h0.6v0.6h-0.6zM313.0 36.4h0.6v0.6h-0.6zM295.8 45.7h0.6v0.6h-0.6zM294.3 40.1h0.6v0.6h-0.6zM310.5 35.2h0.6v0.6h-0.6zM321.2 95.5h0.6v0.6h-0.6zM327.4 72.3h0.6v0.6h-0.6zM337.4 59.8h0.6v0.6h-0.6zM333.5 85.1h0.6v0.6h-0.6zM296.5 74.2h0.6v0.6h-0.6zM327.7 85.5h0.6v0.6h-0.6zM332.5 53.6h0.6v0.6h-0.6zM295.3 54.7h0.6v0.6h-0.6zM341.1 75.1h0.6v0.6h-0.6zM335.0 38.0h0.6v0.6h-0.6zM316.8 94.4h0.6v0.6h-0.6zM306.5 89.9h0.6v0.6h-0.6zM333.7 59.5h0.6v0.6h-0.6zM295.2 60.6h0.6v0.6h-0.6zM332.3 88.1h0.6v0.6h-0.6zM334.0 68.0h0.6v0.6h-0.6zM321.8 92.6h0.6v0.6h-0.6zM307.1 92.5h0.6v0.6h-0.6zM332.9 61.9h0.6v0.6h-0.6zM309.8 92.2h0.6v0.6h-0.6zM333.4 65.5h0.6v0.6h-0.6zM299.7 94.2h0.6v0.6h-0.6zM334.6 73.5h0.6v0.6h-0.6zM311.9 86.3h0.6v0.6h-0.6zM342.6 41.8h0.6v0.6h-0.6zM318.7 35.2h0.6v0.6h-0.6zM299.6 94.9h0.6v0.6h-0.6zM329.5 55.9h0.6v0.6h-0.6zM327.6 74.3h0.6v0.6h-0.6zM334.7 54.5h0.6v0.6h-0.6zM318.9 84.1h0.6v0.6h-0.6zM312.5 35.8h0.6v0.6h-0.6zM296.2 63.4h0.6v0.6h-0.6zM337.0 52.3h0.6v0.6h-0.6zM331.3 81.8h0.6v0.6h-0.6zM339.6 62.2h0.6v0.6h-0.6zM330.7 62.4h0.6v0.6h-0.6zM322.9 84.1h0.6v0.6h-0.6zM309.6 91.3h0.6v0.6h-0.6zM296.0 66.8h0.6v0.6h-0.6zM326.1 82.5h0.6v0.6h-0.6zM332.6 84.5h0.6v0.6h-0.6zM317.9 91.2h0.6v0.6h-0.6zM326.6 86.7h0.6v0.6h-0.6zM311.9 90.6h0.6v0.6h-0.6zM310.2 37.5h0.6v0.6h-0.6zM296.2 56.5h0.6v0.6h-0.6zM338.3 69.8h0.6v0.6h-0.6zM319.2 38.0h0.6v0.6h-0.6zM329.8 86.0h0.6v0.6h-0.6zM332.4 56.1h0.6v0.6h-0.6zM327.1 90.6h0.6v0.6h-0.6zM345.2 44.0h0.6v0.6h-0.6zM324.8 92.4h0.6v0.6h-0.6zM333.2 92.8h0.6v0.6h-0.6zM295.2 43.6h0.6v0.6h-0.6zM339.3 71.0h0.6v0.6h-0.6zM309.1 35.6h0.6v0.6h-0.6zM324.1 81.7h0.6v0.6h-0.6zM297.2 91.5h0.6v0.6h-0.6zM329.7 78.3h0.6v0.6h-0.6zM324.9 76.0h0.6v0.6h-0.6zM308.3 37.3h0.6v0.6h-0.6zM340.1 52.5h0.6v0.6h-0.6zM296.3 36.3h0.6v0.6h-0.6zM332.9 87.8h0.6v0.6h-0.6zM301.9 83.0h0.6v0.6h-0.6zM315.9 36.3h0.6v0.6h-0.6zM322.2 81.0h0.6v0.6h-0.6zM333.4 61.3h0.6v0.6h-0.6zM301.2 35.8h0.6v0.6h-0.6zM328.8 90.5h0.6v0.6h-0.6zM319.8 83.6h0.6v0.6h-0.6zM325.3 38.5h0.6v0.6h-0.6zM319.2 82.0h0.6v0.6h-0.6zM325.4 72.2h0.6v0.6h-0.6zM335.8 85.1h0.6v0.6h-0.6zM309.1 93.6h0.6v0.6h-0.6zM326.3 38.9h0.6v0.6h-0.6zM334.6 91.6h0.6v0.6h-0.6zM315.3 86.8h0.6v0.6h-0.6zM299.8 83.6h0.6v0.6h-0.6zM339.4 64.5h0.6v0.6h-0.6zM304.1 87.5h0.6v0.6h-0.6zM331.3 80.0h0.6v0.6h-0.6zM296.5 36.5h0.6v0.6h-0.6zM318.9 91.4h0.6v0.6h-0.6zM338.6 37.9h0.6v0.6h-0.6zM299.3 76.0h0.6v0.6h-0.6zM319.0 86.8h0.6v0.6h-0.6zM339.0 93.4h0.6v0.6h-0.6zM331.5 54.4h0.6v0.6h-0.6zM321.1 93.6h0.6v0.6h-0.6zM315.2 85.2h0.6v0.6h-0.6zM332.6 54.6h0.6v0.6h-0.6zM332.4 74.8h0.6v0.6h-0.6zM335.6 60.8h0.6v0.6h-0.6zM309.3 88.4h0.6v0.6h-0.6zM298.3 72.2h0.6v0.6h-0.6zM299.6 95.4h0.6v0.6h-0.6zM340.0 49.6h0.6v0.6h-0.6zM323.8 73.9h0.6v0.6h-0.6zM298.4 94.7h0.6v0.6h-0.6zM316.5 92.3h0.6v0.6h-0.6zM303.6 92.5h0.6v0.6h-0.6zM300.0 36.9h0.6v0.6h-0.6zM293.3 50.6h0.6v0.6h-0.6zM312.6 94.9h0.6v0.6h-0.6zM338.3 74.4h0.6v0.6h-0.6zM345.8 44.2h0.6v0.6h-0.6zM338.3 51.2h0.6v0.6h-0.6zM337.8 51.1h0.6v0.6h-0.6zM328.8 64.8h0.6v0.6h-0.6zM326.4 89.1h0.6v0.6h-0.6zM327.6 80.7h0.6v0.6h-0.6zM328.3 60.6h0.6v0.6h-0.6zM329.0 59.7h0.6v0.6h-0.6zM310.7 93.7h0.6v0.6h-0.6zM300.5 95.3h0.6v0.6h-0.6zM294.7 49.1h0.6v0.6h-0.6zM313.2 87.3h0.6v0.6h-0.6zM330.3 72.5h0.6v0.6h-0.6zM300.4 83.8h0.6v0.6h-0.6zM316.4 86.0h0.6v0.6h-0.6zM322.9 38.6h0.6v0.6h-0.6zM306.1 89.2h0.6v0.6h-0.6zM312.2 87.7h0.6v0.6h-0.6zM299.4 77.6h0.6v0.6h-0.6zM321.5 93.3h0.6v0.6h-0.6zM303.7 85.9h0.6v0.6h-0.6zM326.2 71.2h0.6v0.6h-0.6zM341.8 47.8h0.6v0.6h-0.6zM341.0 48.8h0.6v0.6h-0.6zM327.5 79.0h0.6v0.6h-0.6zM331.5 73.3h0.6v0.6h-0.6zM305.3 88.5h0.6v0.6h-0.6zM293.5 49.9h0.6v0.6h-0.6zM305.9 88.1h0.6v0.6h-0.6zM333.3 53.5h0.6v0.6h-0.6zM318.1 86.6h0.6v0.6h-0.6zM296.5 67.0h0.6v0.6h-0.6zM337.6 92.3h0.6v0.6h-0.6zM310.6 88.6h0.6v0.6h-0.6zM328.4 95.0h0.6v0.6h-0.6zM326.3 93.1h0.6v0.6h-0.6zM321.0 38.4h0.6v0.6h-0.6zM293.9 37.6h0.6v0.6h-0.6zM320.7 39.4h0.6v0.6h-0.6zM298.9 74.4h0.6v0.6h-0.6zM330.2 84.7h0.6v0.6h-0.6zM309.9 88.9h0.6v0.6h-0.6zM297.2 74.6h0.6v0.6h-0.6zM320.6 36.2h0.6v0.6h-0.6zM335.3 71.5h0.6v0.6h-0.6zM294.6 47.7h0.6v0.6h-0.6zM307.8 35.8h0.6v0.6h-0.6zM322.2 81.8h0.6v0.6h-0.6zM310.9 90.4h0.6v0.6h-0.6zM295.9 74.7h0.6v0.6h-0.6zM296.7 37.2h0.6v0.6h-0.6zM323.3 92.2h0.6v0.6h-0.6zM331.2 71.3h0.6v0.6h-0.6zM295.5 61.6h0.6v0.6h-0.6zM323.5 74.6h0.6v0.6h-0.6zM316.9 37.1h0.6v0.6h-0.6zM341.2 73.3h0.6v0.6h-0.6zM321.8 37.5h0.6v0.6h-0.6zM298.9 37.0h0.6v0.6h-0.6zM327.6 80.0h0.6v0.6h-0.6zM313.5 87.8h0.6v0.6h-0.6zM295.4 43.1h0.6v0.6h-0.6zM311.5 86.9h0.6v0.6h-0.6zM313.1 37.0h0.6v0.6h-0.6zM300.1 82.4h0.6v0.6h-0.6zM324.7 36.3h0.6v0.6h-0.6zM312.6 88.6h0.6v0.6h-0.6zM304.5 87.1h0.6v0.6h-0.6zM317.2 90.9h0.6v0.6h-0.6zM323.4 91.1h0.6v0.6h-0.6zM323.7 88.1h0.6v0.6h-0.6zM324.3 87.5h0.6v0.6h-0.6zM331.6 60.2h0.6v0.6h-0.6zM309.9 95.6h0.6v0.6h-0.6zM297.3 36.3h0.6v0.6h-0.6zM309.1 36.3h0.6v0.6h-0.6zM301.0 34.0h0.6v0.6h-0.6zM344.7 44.9h0.6v0.6h-0.6zM312.6 34.5h0.6v0.6h-0.6zM316.8 84.6h0.6v0.6h-0.6zM339.5 50.6h0.6v0.6h-0.6zM324.2 93.1h0.6v0.6h-0.6zM322.4 93.5h0.6v0.6h-0.6zM340.8 90.5h0.6v0.6h-0.6zM336.2 51.3h0.6v0.6h-0.6zM336.0 66.3h0.6v0.6h-0.6zM339.9 93.2h0.6v0.6h-0.6zM330.9 60.6h0.6v0.6h-0.6zM296.0 53.4h0.6v0.6h-0.6zM295.4 67.3h0.6v0.6h-0.6zM340.1 68.2h0.6v0.6h-0.6zM306.4 87.9h0.6v0.6h-0.6zM337.2 59.5h0.6v0.6h-0.6zM320.8 82.7h0.6v0.6h-0.6zM317.1 82.6h0.6v0.6h-0.6zM295.7 62.1h0.6v0.6h-0.6zM313.6 90.8h0.6v0.6h-0.6zM308.0 37.2h0.6v0.6h-0.6zM330.1 61.0h0.6v0.6h-0.6zM298.4 91.0h0.6v0.6h-0.6zM332.6 36.3h0.6v0.6h-0.6zM314.3 36.7h0.6v0.6h-0.6zM309.6 87.7h0.6v0.6h-0.6zM294.2 94.1h0.6v0.6h-0.6zM339.7 49.6h0.6v0.6h-0.6zM312.9 35.7h0.6v0.6h-0.6zM296.2 61.3h0.6v0.6h-0.6zM306.8 90.7h0.6v0.6h-0.6zM320.6 93.9h0.6v0.6h-0.6zM320.1 85.0h0.6v0.6h-0.6zM325.4 77.7h0.6v0.6h-0.6zM333.1 87.6h0.6v0.6h-0.6zM296.1 58.2h0.6v0.6h-0.6zM301.8 83.9h0.6v0.6h-0.6zM314.7 85.4h0.6v0.6h-0.6zM306.8 88.6h0.6v0.6h-0.6zM298.2 36.8h0.6v0.6h-0.6zM339.1 75.1h0.6v0.6h-0.6zM323.5 81.6h0.6v0.6h-0.6zM298.7 75.6h0.6v0.6h-0.6zM294.0 49.2h0.6v0.6h-0.6zM334.6 52.2h0.6v0.6h-0.6zM342.2 42.5h0.6v0.6h-0.6zM325.3 84.3h0.6v0.6h-0.6zM323.6 74.3h0.6v0.6h-0.6zM340.5 47.3h0.6v0.6h-0.6zM298.8 75.2h0.6v0.6h-0.6zM302.1 92.4h0.6v0.6h-0.6zM295.4 43.4h0.6v0.6h-0.6zM328.2 58.8h0.6v0.6h-0.6zM316.5 91.8h0.6v0.6h-0.6zM297.4 36.1h0.6v0.6h-0.6zM332.9 58.5h0.6v0.6h-0.6zM328.5 86.2h0.6v0.6h-0.6zM323.3 81.3h0.6v0.6h-0.6zM319.4 83.0h0.6v0.6h-0.6zM318.4 84.4h0.6v0.6h-0.6zM320.5 38.4h0.6v0.6h-0.6zM331.8 60.7h0.6v0.6h-0.6zM295.2 43.5h0.6v0.6h-0.6zM333.2 84.1h0.6v0.6h-0.6zM294.9 47.1h0.6v0.6h-0.6zM295.0 57.5h0.6v0.6h-0.6zM298.5 80.3h0.6v0.6h-0.6zM295.5 45.6h0.6v0.6h-0.6zM296.6 68.1h0.6v0.6h-0.6zM302.5 35.9h0.6v0.6h-0.6zM296.9 66.9h0.6v0.6h-0.6zM315.5 86.1h0.6v0.6h-0.6zM341.7 41.7h0.6v0.6h-0.6zM333.6 54.2h0.6v0.6h-0.6zM313.3 89.0h0.6v0.6h-0.6zM328.0 62.4h0.6v0.6h-0.6zM317.7 86.8h0.6v0.6h-0.6zM326.1 94.3h0.6v0.6h-0.6zM294.9 37.8h0.6v0.6h-0.6zM298.7 37.1h0.6v0.6h-0.6zM338.3 36.3h0.6v0.6h-0.6zM314.9 87.1h0.6v0.6h-0.6zM320.0 90.9h0.6v0.6h-0.6zM325.6 84.0h0.6v0.6h-0.6zM321.4 92.7h0.6v0.6h-0.6zM309.9 89.3h0.6v0.6h-0.6zM338.1 56.0h0.6v0.6h-0.6zM303.7 87.9h0.6v0.6h-0.6zM326.1 79.5h0.6v0.6h-0.6zM336.2 70.0h0.6v0.6h-0.6zM341.5 94.1h0.6v0.6h-0.6zM313.5 37.4h0.6v0.6h-0.6zM317.8 83.3h0.6v0.6h-0.6zM321.8 38.6h0.6v0.6h-0.6zM329.7 63.8h0.6v0.6h-0.6zM296.5 37.3h0.6v0.6h-0.6zM342.4 43.0h0.6v0.6h-0.6zM342.2 41.1h0.6v0.6h-0.6zM319.4 94.6h0.6v0.6h-0.6zM326.8 78.0h0.6v0.6h-0.6zM328.3 57.8h0.6v0.6h-0.6zM296.2 54.1h0.6v0.6h-0.6zM311.1 34.7h0.6v0.6h-0.6zM327.5 78.4h0.6v0.6h-0.6zM303.6 94.5h0.6v0.6h-0.6zM339.1 84.6h0.6v0.6h-0.6zM294.0 39.1h0.6v0.6h-0.6zM317.6 93.5h0.6v0.6h-0.6zM294.4 47.2h0.6v0.6h-0.6zM297.4 78.1h0.6v0.6h-0.6zM333.7 55.0h0.6v0.6h-0.6zM301.1 93.4h0.6v0.6h-0.6zM294.7 37.9h0.6v0.6h-0.6zM322.9 87.4h0.6v0.6h-0.6zM299.2 36.8h0.6v0.6h-0.6zM311.9 89.5h0.6v0.6h-0.6zM310.6 35.7h0.6v0.6h-0.6zM319.3 89.2h0.6v0.6h-0.6zM310.1 95.5h0.6v0.6h-0.6zM317.3 37.2h0.6v0.6h-0.6zM338.0 78.9h0.6v0.6h-0.6zM325.1 91.3h0.6v0.6h-0.6zM303.1 35.0h0.6v0.6h-0.6zM327.6 68.2h0.6v0.6h-0.6zM325.7 75.0h0.6v0.6h-0.6zM313.5 88.1h0.6v0.6h-0.6zM326.9 92.4h0.6v0.6h-0.6zM329.2 70.9h0.6v0.6h-0.6zM332.8 58.3h0.6v0.6h-0.6zM296.2 54.2h0.6v0.6h-0.6zM309.7 36.7h0.6v0.6h-0.6zM330.9 81.1h0.6v0.6h-0.6zM318.4 37.2h0.6v0.6h-0.6zM311.7 92.5h0.6v0.6h-0.6zM326.4 85.7h0.6v0.6h-0.6zM293.1 40.8h0.6v0.6h-0.6zM315.4 93.6h0.6v0.6h-0.6zM311.0 93.5h0.6v0.6h-0.6zM300.6 94.7h0.6v0.6h-0.6zM328.3 77.7h0.6v0.6h-0.6zM330.3 81.4h0.6v0.6h-0.6zM306.3 36.6h0.6v0.6h-0.6zM307.1 88.1h0.6v0.6h-0.6zM293.1 39.2h0.6v0.6h-0.6zM314.7 91.9h0.6v0.6h-0.6zM295.1 53.2h0.6v0.6h-0.6zM325.3 94.8h0.6v0.6h-0.6zM320.5 37.0h0.6v0.6h-0.6zM329.8 63.9h0.6v0.6h-0.6zM314.4 36.5h0.6v0.6h-0.6zM309.5 37.7h0.6v0.6h-0.6zM315.0 90.1h0.6v0.6h-0.6zM322.8 38.3h0.6v0.6h-0.6zM316.3 85.2h0.6v0.6h-0.6zM325.2 78.5h0.6v0.6h-0.6zM333.5 56.4h0.6v0.6h-0.6zM311.9 93.0h0.6v0.6h-0.6zM319.3 95.1h0.6v0.6h-0.6zM314.6 36.9h0.6v0.6h-0.6zM307.9 35.4h0.6v0.6h-0.6zM294.5 65.6h0.6v0.6h-0.6zM340.6 72.9h0.6v0.6h-0.6zM298.1 80.9h0.6v0.6h-0.6zM311.8 94.2h0.6v0.6h-0.6zM304.5 94.3h0.6v0.6h-0.6zM320.8 91.6h0.6v0.6h-0.6zM299.4 92.4h0.6v0.6h-0.6zM329.3 57.9h0.6v0.6h-0.6zM302.9 84.5h0.6v0.6h-0.6zM311.8 89.5h0.6v0.6h-0.6zM327.9 84.3h0.6v0.6h-0.6zM327.6 59.7h0.6v0.6h-0.6zM296.4 37.1h0.6v0.6h-0.6zM325.7 75.3h0.6v0.6h-0.6zM294.2 50.8h0.6v0.6h-0.6zM322.0 90.1h0.6v0.6h-0.6zM319.1 36.5h0.6v0.6h-0.6zM331.0 90.7h0.6v0.6h-0.6zM302.2 87.5h0.6v0.6h-0.6zM330.5 75.7h0.6v0.6h-0.6zM341.2 48.7h0.6v0.6h-0.6zM329.6 68.9h0.6v0.6h-0.6zM323.8 86.6h0.6v0.6h-0.6zM333.1 39.2h0.6v0.6h-0.6zM295.5 71.4h0.6v0.6h-0.6zM320.9 91.0h0.6v0.6h-0.6zM312.9 37.3h0.6v0.6h-0.6zM311.0 90.7h0.6v0.6h-0.6zM311.7 35.7h0.6v0.6h-0.6zM334.6 37.1h0.6v0.6h-0.6zM319.5 92.1h0.6v0.6h-0.6zM326.5 79.4h0.6v0.6h-0.6zM326.3 83.3h0.6v0.6h-0.6zM328.9 94.7h0.6v0.6h-0.6zM323.0 81.2h0.6v0.6h-0.6zM327.5 80.9h0.6v0.6h-0.6zM293.6 58.4h0.6v0.6h-0.6zM323.6 90.1h0.6v0.6h-0.6zM310.9 92.3h0.6v0.6h-0.6zM334.9 58.7h0.6v0.6h-0.6zM324.7 80.7h0.6v0.6h-0.6zM337.0 78.6h0.6v0.6h-0.6zM336.7 76.5h0.6v0.6h-0.6zM317.2 87.8h0.6v0.6h-0.6zM311.1 33.5h0.6v0.6h-0.6zM327.0 74.0h0.6v0.6h-0.6zM342.2 75.2h0.6v0.6h-0.6zM318.3 81.9h0.6v0.6h-0.6zM312.9 37.7h0.6v0.6h-0.6zM311.8 86.7h0.6v0.6h-0.6zM314.5 94.4h0.6v0.6h-0.6zM322.0 83.4h0.6v0.6h-0.6zM320.4 39.1h0.6v0.6h-0.6zM321.8 95.1h0.6v0.6h-0.6zM308.8 91.1h0.6v0.6h-0.6zM319.1 89.2h0.6v0.6h-0.6zM337.9 91.2h0.6v0.6h-0.6zM331.9 38.9h0.6v0.6h-0.6zM317.3 93.6h0.6v0.6h-0.6zM298.3 73.2h0.6v0.6h-0.6zM318.4 37.2h0.6v0.6h-0.6zM339.3 38.9h0.6v0.6h-0.6zM340.5 76.5h0.6v0.6h-0.6zM297.3 77.1h0.6v0.6h-0.6zM311.5 35.3h0.6v0.6h-0.6zM340.9 79.2h0.6v0.6h-0.6zM302.9 34.8h0.6v0.6h-0.6zM313.8 91.3h0.6v0.6h-0.6zM329.8 58.0h0.6v0.6h-0.6zM331.3 88.0h0.6v0.6h-0.6zM296.7 36.3h0.6v0.6h-0.6zM324.5 75.6h0.6v0.6h-0.6zM319.7 84.2h0.6v0.6h-0.6zM324.6 71.9h0.6v0.6h-0.6zM326.8 69.4h0.6v0.6h-0.6zM336.7 78.4h0.6v0.6h-0.6zM329.1 74.7h0.6v0.6h-0.6zM329.3 86.4h0.6v0.6h-0.6zM323.4 84.8h0.6v0.6h-0.6zM311.3 36.4h0.6v0.6h-0.6zM326.4 71.9h0.6v0.6h-0.6zM320.6 85.2h0.6v0.6h-0.6zM324.8 73.7h0.6v0.6h-0.6zM342.9 40.1h0.6v0.6h-0.6zM307.0 91.4h0.6v0.6h-0.6zM338.5 54.8h0.6v0.6h-0.6zM340.1 39.0h0.6v0.6h-0.6zM293.3 47.2h0.6v0.6h-0.6zM339.2 82.0h0.6v0.6h-0.6zM329.8 78.7h0.6v0.6h-0.6zM343.4 83.0h0.6v0.6h-0.6zM326.0 75.3h0.6v0.6h-0.6zM324.4 37.3h0.6v0.6h-0.6zM323.7 38.3h0.6v0.6h-0.6zM326.7 81.1h0.6v0.6h-0.6zM311.6 35.5h0.6v0.6h-0.6zM325.1 92.3h0.6v0.6h-0.6zM340.8 55.2h0.6v0.6h-0.6zM327.9 81.3h0.6v0.6h-0.6zM330.0 58.5h0.6v0.6h-0.6zM320.0 95.6h0.6v0.6h-0.6zM333.8 37.7h0.6v0.6h-0.6zM333.4 78.2h0.6v0.6h-0.6zM318.8 81.3h0.6v0.6h-0.6zM324.8 85.6h0.6v0.6h-0.6zM329.8 57.5h0.6v0.6h-0.6zM325.7 78.5h0.6v0.6h-0.6zM334.7 57.4h0.6v0.6h-0.6zM319.8 95.1h0.6v0.6h-0.6zM324.2 38.3h0.6v0.6h-0.6zM294.1 38.4h0.6v0.6h-0.6zM314.9 92.6h0.6v0.6h-0.6zM338.4 80.4h0.6v0.6h-0.6zM330.2 86.9h0.6v0.6h-0.6zM333.4 60.9h0.6v0.6h-0.6zM309.7 93.7h0.6v0.6h-0.6zM337.8 78.8h0.6v0.6h-0.6zM330.5 80.2h0.6v0.6h-0.6zM303.8 94.2h0.6v0.6h-0.6zM326.3 90.1h0.6v0.6h-0.6zM317.9 37.1h0.6v0.6h-0.6zM318.1 88.4h0.6v0.6h-0.6zM307.1 88.4h0.6v0.6h-0.6zM320.3 92.3h0.6v0.6h-0.6zM329.7 92.1h0.6v0.6h-0.6zM317.3 91.6h0.6v0.6h-0.6zM299.0 34.8h0.6v0.6h-0.6zM341.6 41.3h0.6v0.6h-0.6zM301.5 37.0h0.6v0.6h-0.6zM341.0 68.5h0.6v0.6h-0.6zM298.5 73.0h0.6v0.6h-0.6zM343.2 46.0h0.6v0.6h-0.6zM336.7 64.1h0.6v0.6h-0.6zM340.6 54.4h0.6v0.6h-0.6zM300.1 87.3h0.6v0.6h-0.6zM299.8 78.7h0.6v0.6h-0.6zM323.8 92.0h0.6v0.6h-0.6zM329.2 56.4h0.6v0.6h-0.6zM331.7 72.4h0.6v0.6h-0.6zM343.3 76.7h0.6v0.6h-0.6zM337.3 51.9h0.6v0.6h-0.6zM295.7 44.7h0.6v0.6h-0.6zM294.8 41.8h0.6v0.6h-0.6zM317.4 93.6h0.6v0.6h-0.6zM328.2 69.3h0.6v0.6h-0.6zM335.4 37.4h0.6v0.6h-0.6zM301.9 88.8h0.6v0.6h-0.6zM327.3 68.2h0.6v0.6h-0.6zM323.6 95.7h0.6v0.6h-0.6zM337.6 37.8h0.6v0.6h-0.6zM341.3 39.9h0.6v0.6h-0.6zM325.2 95.7h0.6v0.6h-0.6zM328.4 70.8h0.6v0.6h-0.6zM315.9 85.7h0.6v0.6h-0.6zM330.8 79.9h0.6v0.6h-0.6zM337.7 87.1h0.6v0.6h-0.6zM334.8 63.4h0.6v0.6h-0.6zM310.5 35.9h0.6v0.6h-0.6zM295.2 76.0h0.6v0.6h-0.6zM301.6 84.3h0.6v0.6h-0.6zM325.2 83.1h0.6v0.6h-0.6zM337.8 39.1h0.6v0.6h-0.6zM294.9 44.5h0.6v0.6h-0.6zM294.5 49.9h0.6v0.6h-0.6zM329.0 37.6h0.6v0.6h-0.6zM329.1 56.8h0.6v0.6h-0.6zM325.0 76.7h0.6v0.6h-0.6zM334.2 60.7h0.6v0.6h-0.6zM324.3 39.0h0.6v0.6h-0.6zM299.0 82.7h0.6v0.6h-0.6zM336.8 38.7h0.6v0.6h-0.6zM320.0 38.3h0.6v0.6h-0.6zM314.2 36.6h0.6v0.6h-0.6zM338.0 37.7h0.6v0.6h-0.6zM331.0 66.9h0.6v0.6h-0.6zM324.3 39.1h0.6v0.6h-0.6zM326.2 88.6h0.6v0.6h-0.6zM340.0 95.6h0.6v0.6h-0.6zM335.1 38.3h0.6v0.6h-0.6zM300.5 84.0h0.6v0.6h-0.6zM298.2 75.5h0.6v0.6h-0.6zM331.6 92.5h0.6v0.6h-0.6zM318.7 94.7h0.6v0.6h-0.6zM306.3 95.7h0.6v0.6h-0.6zM328.5 58.5h0.6v0.6h-0.6zM326.7 91.3h0.6v0.6h-0.6zM319.8 37.7h0.6v0.6h-0.6zM306.5 34.5h0.6v0.6h-0.6zM299.8 78.7h0.6v0.6h-0.6zM326.6 69.3h0.6v0.6h-0.6zM338.1 51.2h0.6v0.6h-0.6zM340.4 50.2h0.6v0.6h-0.6zM325.2 83.7h0.6v0.6h-0.6zM336.3 79.0h0.6v0.6h-0.6zM333.9 79.7h0.6v0.6h-0.6zM332.2 72.4h0.6v0.6h-0.6zM342.4 40.7h0.6v0.6h-0.6zM301.9 82.6h0.6v0.6h-0.6zM295.6 65.0h0.6v0.6h-0.6zM322.4 92.2h0.6v0.6h-0.6zM306.5 94.5h0.6v0.6h-0.6zM334.4 73.5h0.6v0.6h-0.6zM295.3 69.9h0.6v0.6h-0.6zM337.9 91.8h0.6v0.6h-0.6zM306.0 92.7h0.6v0.6h-0.6zM303.3 86.2h0.6v0.6h-0.6zM328.7 72.0h0.6v0.6h-0.6zM328.9 80.6h0.6v0.6h-0.6zM329.6 89.2h0.6v0.6h-0.6zM318.4 92.9h0.6v0.6h-0.6zM296.6 53.4h0.6v0.6h-0.6zM317.3 36.7h0.6v0.6h-0.6zM309.9 37.7h0.6v0.6h-0.6zM324.3 75.2h0.6v0.6h-0.6zM319.3 83.7h0.6v0.6h-0.6zM296.3 69.4h0.6v0.6h-0.6zM293.3 38.7h0.6v0.6h-0.6zM312.3 92.4h0.6v0.6h-0.6zM296.1 55.5h0.6v0.6h-0.6zM329.9 39.1h0.6v0.6h-0.6zM326.3 80.0h0.6v0.6h-0.6zM328.9 95.2h0.6v0.6h-0.6zM330.9 59.3h0.6v0.6h-0.6zM313.3 89.5h0.6v0.6h-0.6zM297.4 37.3h0.6v0.6h-0.6zM310.8 89.4h0.6v0.6h-0.6zM319.3 91.1h0.6v0.6h-0.6zM317.3 91.5h0.6v0.6h-0.6zM321.7 39.2h0.6v0.6h-0.6zM294.2 37.5h0.6v0.6h-0.6zM340.4 66.0h0.6v0.6h-0.6zM323.5 77.0h0.6v0.6h-0.6zM335.2 68.8h0.6v0.6h-0.6zM338.7 39.2h0.6v0.6h-0.6zM328.7 93.7h0.6v0.6h-0.6zM339.9 80.7h0.6v0.6h-0.6zM295.9 43.4h0.6v0.6h-0.6zM293.5 45.3h0.6v0.6h-0.6zM326.7 78.8h0.6v0.6h-0.6zM322.5 37.1h0.6v0.6h-0.6zM334.8 61.1h0.6v0.6h-0.6zM334.0 38.5h0.6v0.6h-0.6zM303.7 94.2h0.6v0.6h-0.6zM295.6 50.3h0.6v0.6h-0.6zM335.7 36.8h0.6v0.6h-0.6zM307.8 34.3h0.6v0.6h-0.6zM339.7 37.8h0.6v0.6h-0.6zM328.5 67.8h0.6v0.6h-0.6zM330.6 82.6h0.6v0.6h-0.6zM321.3 88.7h0.6v0.6h-0.6zM339.0 73.6h0.6v0.6h-0.6zM338.6 79.5h0.6v0.6h-0.6zM318.6 87.2h0.6v0.6h-0.6zM295.0 58.5h0.6v0.6h-0.6zM326.9 76.5h0.6v0.6h-0.6zM317.6 92.9h0.6v0.6h-0.6zM327.2 72.6h0.6v0.6h-0.6zM341.4 47.7h0.6v0.6h-0.6zM322.2 84.1h0.6v0.6h-0.6zM334.1 54.6h0.6v0.6h-0.6zM325.3 76.2h0.6v0.6h-0.6zM326.3 79.3h0.6v0.6h-0.6zM326.3 73.7h0.6v0.6h-0.6zM328.8 72.7h0.6v0.6h-0.6zM320.2 38.9h0.6v0.6h-0.6zM294.4 44.4h0.6v0.6h-0.6zM294.9 76.4h0.6v0.6h-0.6zM328.2 76.9h0.6v0.6h-0.6zM334.6 77.9h0.6v0.6h-0.6zM309.4 92.5h0.6v0.6h-0.6zM328.2 80.0h0.6v0.6h-0.6zM326.2 95.6h0.6v0.6h-0.6zM329.8 76.2h0.6v0.6h-0.6zM337.1 77.1h0.6v0.6h-0.6zM328.3 87.3h0.6v0.6h-0.6zM337.0 71.1h0.6v0.6h-0.6zM330.3 70.1h0.6v0.6h-0.6zM338.8 90.6h0.6v0.6h-0.6zM328.2 57.5h0.6v0.6h-0.6z" fill="#222"/>
<path d="M344.2 70.4h0.6v0.6h-0.6zM343.4 86.3h0.6v0.6h-0.6zM346.2 60.2h0.6v0.6h-0.6zM362.5 70.5h0.6v0.6h-0.6zM344.0 66.5h0.6v0.6h-0.6zM339.3 86.8h0.6v0.6h-0.6zM343.9 95.6h0.6v0.6h-0.6zM357.9 58.8h0.6v0.6h-0.6zM324.4 33.3h0.6v0.6h-0.6zM360.9 74.7h0.6v0.6h-0.6zM374.7 54.4h0.6v0.6h-0.6zM351.9 38.7h0.6v0.6h-0.6zM331.7 30.4h0.6v0.6h-0.6zM333.5 21.8h0.6v0.6h-0.6zM327.3 35.1h0.6v0.6h-0.6zM349.1 81.9h0.6v0.6h-0.6zM344.8 81.9h0.6v0.6h-0.6zM344.2 77.5h0.6v0.6h-0.6zM349.4 68.2h0.6v0.6h-0.6zM355.6 71.7h0.6v0.6h-0.6zM348.0 78.5h0.6v0.6h-0.6zM355.6 72.2h0.6v0.6h-0.6zM344.6 85.1h0.6v0.6h-0.6zM358.2 58.0h0.6v0.6h-0.6zM303.8 33.3h0.6v0.6h-0.6zM344.8 54.6h0.6v0.6h-0.6zM345.8 65.6h0.6v0.6h-0.6zM340.2 84.9h0.6v0.6h-0.6zM341.4 82.6h0.6v0.6h-0.6zM369.0 55.3h0.6v0.6h-0.6zM355.8 30.3h0.6v0.6h-0.6zM326.1 33.5h0.6v0.6h-0.6zM342.6 53.6h0.6v0.6h-0.6zM345.5 72.1h0.6v0.6h-0.6zM303.4 29.3h0.6v0.6h-0.6zM330.7 32.9h0.6v0.6h-0.6zM345.3 94.0h0.6v0.6h-0.6zM343.0 63.2h0.6v0.6h-0.6zM346.3 81.4h0.6v0.6h-0.6zM300.1 32.3h0.6v0.6h-0.6zM295.9 88.2h0.6v0.6h-0.6zM372.6 58.2h0.6v0.6h-0.6zM336.3 30.4h0.6v0.6h-0.6zM330.7 28.4h0.6v0.6h-0.6zM352.5 76.7h0.6v0.6h-0.6zM342.2 61.3h0.6v0.6h-0.6zM344.2 65.0h0.6v0.6h-0.6zM303.0 31.7h0.6v0.6h-0.6zM348.8 75.4h0.6v0.6h-0.6zM355.1 30.9h0.6v0.6h-0.6zM352.5 37.8h0.6v0.6h-0.6zM360.2 52.9h0.6v0.6h-0.6zM362.2 19.5h0.6v0.6h-0.6zM344.9 70.0h0.6v0.6h-0.6zM348.6 45.4h0.6v0.6h-0.6zM345.9 32.1h0.6v0.6h-0.6zM298.7 33.3h0.6v0.6h-0.6zM357.8 27.2h0.6v0.6h-0.6zM338.6 33.5h0.6v0.6h-0.6zM344.3 89.2h0.6v0.6h-0.6zM351.0 50.7h0.6v0.6h-0.6zM354.0 42.8h0.6v0.6h-0.6zM351.5 47.6h0.6v0.6h-0.6zM359.2 57.4h0.6v0.6h-0.6zM366.8 41.3h0.6v0.6h-0.6zM366.2 62.5h0.6v0.6h-0.6zM351.5 78.1h0.6v0.6h-0.6zM344.1 40.0h0.6v0.6h-0.6zM347.3 36.7h0.6v0.6h-0.6zM359.1 65.6h0.6v0.6h-0.6zM350.5 70.1h0.6v0.6h-0.6zM355.0 76.1h0.6v0.6h-0.6zM345.0 68.5h0.6v0.6h-0.6zM346.1 85.6h0.6v0.6h-0.6zM298.2 34.2h0.6v0.6h-0.6zM345.5 85.5h0.6v0.6h-0.6zM348.8 61.5h0.6v0.6h-0.6zM343.0 94.1h0.6v0.6h-0.6zM341.7 36.5h0.6v0.6h-0.6zM341.6 82.9h0.6v0.6h-0.6zM363.5 84.1h0.6v0.6h-0.6zM341.4 31.3h0.6v0.6h-0.6zM312.1 31.2h0.6v0.6h-0.6zM344.6 63.7h0.6v0.6h-0.6zM345.5 65.8h0.6v0.6h-0.6zM347.1 45.2h0.6v0.6h-0.6zM347.6 91.9h0.6v0.6h-0.6zM318.0 20.2h0.6v0.6h-0.6zM336.7 35.7h0.6v0.6h-0.6zM365.2 65.4h0.6v0.6h-0.6zM349.1 64.6h0.6v0.6h-0.6zM344.9 77.4h0.6v0.6h-0.6zM346.0 55.1h0.6v0.6h-0.6zM346.0 86.5h0.6v0.6h-0.6zM345.7 62.5h0.6v0.6h-0.6zM351.9 65.7h0.6v0.6h-0.6zM347.9 75.6h0.6v0.6h-0.6zM353.2 80.1h0.6v0.6h-0.6zM340.6 33.5h0.6v0.6h-0.6zM351.7 48.1h0.6v0.6h-0.6zM364.7 65.9h0.6v0.6h-0.6zM346.0 65.1h0.6v0.6h-0.6zM358.1 91.9h0.6v0.6h-0.6zM347.9 39.9h0.6v0.6h-0.6zM370.5 57.5h0.6v0.6h-0.6zM346.3 86.0h0.6v0.6h-0.6zM353.9 61.5h0.6v0.6h-0.6zM340.6 34.2h0.6v0.6h-0.6zM344.8 73.6h0.6v0.6h-0.6zM334.9 34.4h0.6v0.6h-0.6zM342.7 51.9h0.6v0.6h-0.6zM338.0 33.8h0.6v0.6h-0.6zM320.1 22.4h0.6v0.6h-0.6zM353.6 86.4h0.6v0.6h-0.6zM344.6 71.1h0.6v0.6h-0.6zM293.2 59.8h0.6v0.6h-0.6zM339.7 31.6h0.6v0.6h-0.6zM347.3 45.7h0.6v0.6h-0.6zM296.6 32.1h0.6v0.6h-0.6zM334.1 34.0h0.6v0.6h-0.6zM342.5 94.2h0.6v0.6h-0.6zM348.6 86.1h0.6v0.6h-0.6zM344.9 81.0h0.6v0.6h-0.6zM363.6 15.3h0.6v0.6h-0.6zM352.1 80.3h0.6v0.6h-0.6zM361.9 81.2h0.6v0.6h-0.6zM361.3 80.7h0.6v0.6h-0.6zM351.4 66.4h0.6v0.6h-0.6zM336.9 34.6h0.6v0.6h-0.6zM353.4 23.6h0.6v0.6h-0.6zM327.2 33.6h0.6v0.6h-0.6zM300.9 33.0h0.6v0.6h-0.6zM344.9 37.2h0.6v0.6h-0.6zM347.2 67.1h0.6v0.6h-0.6zM328.2 35.2h0.6v0.6h-0.6zM296.1 80.4h0.6v0.6h-0.6zM345.3 64.8h0.6v0.6h-0.6zM355.7 72.7h0.6v0.6h-0.6zM319.3 25.1h0.6v0.6h-0.6zM306.0 32.9h0.6v0.6h-0.6zM333.2 35.4h0.6v0.6h-0.6zM329.3 15.5h0.6v0.6h-0.6zM352.9 58.2h0.6v0.6h-0.6zM346.6 80.9h0.6v0.6h-0.6zM345.1 53.1h0.6v0.6h-0.6zM341.5 22.9h0.6v0.6h-0.6zM360.7 26.3h0.6v0.6h-0.6zM353.9 81.3h0.6v0.6h-0.6zM348.7 81.6h0.6v0.6h-0.6zM357.8 22.8h0.6v0.6h-0.6zM351.1 68.4h0.6v0.6h-0.6zM357.3 46.9h0.6v0.6h-0.6zM345.5 93.2h0.6v0.6h-0.6zM354.8 50.2h0.6v0.6h-0.6zM366.1 43.0h0.6v0.6h-0.6zM349.7 31.6h0.6v0.6h-0.6zM349.5 25.1h0.6v0.6h-0.6zM347.3 70.1h0.6v0.6h-0.6zM337.0 35.3h0.6v0.6h-0.6zM345.1 76.2h0.6v0.6h-0.6zM293.9 76.6h0.6v0.6h-0.6zM342.6 62.9h0.6v0.6h-0.6zM350.4 59.8h0.6v0.6h-0.6zM375.4 65.9h0.6v0.6h-0.6zM360.4 20.8h0.6v0.6h-0.6zM340.5 28.9h0.6v0.6h-0.6zM369.7 66.4h0.6v0.6h-0.6zM328.4 27.4h0.6v0.6h-0.6zM353.7 34.7h0.6v0.6h-0.6zM346.9 62.1h0.6v0.6h-0.6zM341.0 84.6h0.6v0.6h-0.6zM354.3 38.9h0.6v0.6h-0.6zM360.1 70.0h0.6v0.6h-0.6zM342.0 84.7h0.6v0.6h-0.6zM343.5 87.2h0.6v0.6h-0.6zM351.6 32.1h0.6v0.6h-0.6zM297.5 86.8h0.6v0.6h-0.6zM345.0 79.7h0.6v0.6h-0.6zM331.9 18.0h0.6v0.6h-0.6zM337.9 30.7h0.6v0.6h-0.6zM374.8 46.4h0.6v0.6h-0.6zM298.6 29.9h0.6v0.6h-0.6zM339.0 23.1h0.6v0.6h-0.6zM360.5 67.6h0.6v0.6h-0.6zM349.7 49.9h0.6v0.6h-0.6zM355.2 55.5h0.6v0.6h-0.6zM320.3 32.0h0.6v0.6h-0.6zM360.0 74.7h0.6v0.6h-0.6zM297.3 83.5h0.6v0.6h-0.6zM368.2 70.7h0.6v0.6h-0.6zM347.3 84.3h0.6v0.6h-0.6zM359.2 89.4h0.6v0.6h-0.6zM346.3 87.3h0.6v0.6h-0.6zM315.2 30.7h0.6v0.6h-0.6zM346.4 31.5h0.6v0.6h-0.6zM356.5 76.8h0.6v0.6h-0.6zM370.3 80.3h0.6v0.6h-0.6zM364.9 91.2h0.6v0.6h-0.6zM341.2 57.8h0.6v0.6h-0.6zM347.1 80.2h0.6v0.6h-0.6zM350.0 68.3h0.6v0.6h-0.6zM296.6 34.2h0.6v0.6h-0.6zM350.5 76.0h0.6v0.6h-0.6zM304.6 29.1h0.6v0.6h-0.6zM349.0 87.0h0.6v0.6h-0.6zM347.9 19.8h0.6v0.6h-0.6zM349.1 55.0h0.6v0.6h-0.6zM368.9 83.9h0.6v0.6h-0.6zM346.9 75.5h0.6v0.6h-0.6zM342.5 37.0h0.6v0.6h-0.6zM353.6 45.7h0.6v0.6h-0.6zM375.0 46.1h0.6v0.6h-0.6zM343.1 94.2h0.6v0.6h-0.6zM347.9 63.3h0.6v0.6h-0.6zM348.6 83.2h0.6v0.6h-0.6zM333.4 33.0h0.6v0.6h-0.6zM343.1 50.8h0.6v0.6h-0.6zM345.9 16.2h0.6v0.6h-0.6zM358.8 66.5h0.6v0.6h-0.6zM373.8 47.4h0.6v0.6h-0.6zM296.5 79.5h0.6v0.6h-0.6zM346.0 20.5h0.6v0.6h-0.6zM298.5 88.2h0.6v0.6h-0.6zM296.5 88.9h0.6v0.6h-0.6zM340.8 88.1h0.6v0.6h-0.6zM341.1 58.1h0.6v0.6h-0.6zM355.4 61.2h0.6v0.6h-0.6zM343.8 80.2h0.6v0.6h-0.6zM344.7 87.9h0.6v0.6h-0.6zM349.5 28.7h0.6v0.6h-0.6zM345.4 70.2h0.6v0.6h-0.6zM366.7 49.4h0.6v0.6h-0.6zM350.1 43.0h0.6v0.6h-0.6zM350.9 34.9h0.6v0.6h-0.6zM298.4 86.6h0.6v0.6h-0.6zM373.3 35.8h0.6v0.6h-0.6zM340.7 84.1h0.6v0.6h-0.6zM330.1 18.3h0.6v0.6h-0.6zM298.6 87.3h0.6v0.6h-0.6zM346.3 57.8h0.6v0.6h-0.6zM342.0 35.3h0.6v0.6h-0.6zM348.0 13.4h0.6v0.6h-0.6zM307.9 32.2h0.6v0.6h-0.6zM349.4 77.9h0.6v0.6h-0.6zM342.3 63.7h0.6v0.6h-0.6zM317.6 33.3h0.6v0.6h-0.6zM358.9 69.0h0.6v0.6h-0.6zM347.4 42.4h0.6v0.6h-0.6zM348.3 54.1h0.6v0.6h-0.6zM334.7 27.2h0.6v0.6h-0.6zM296.2 33.8h0.6v0.6h-0.6zM354.8 34.4h0.6v0.6h-0.6zM343.5 81.5h0.6v0.6h-0.6zM342.5 94.2h0.6v0.6h-0.6zM357.9 57.5h0.6v0.6h-0.6zM345.1 69.8h0.6v0.6h-0.6zM353.9 18.5h0.6v0.6h-0.6zM356.0 50.3h0.6v0.6h-0.6zM339.8 35.5h0.6v0.6h-0.6zM359.5 64.3h0.6v0.6h-0.6zM347.7 37.9h0.6v0.6h-0.6zM362.4 51.1h0.6v0.6h-0.6zM316.0 33.3h0.6v0.6h-0.6zM350.9 65.9h0.6v0.6h-0.6zM345.7 94.5h0.6v0.6h-0.6zM353.0 95.6h0.6v0.6h-0.6zM348.3 39.2h0.6v0.6h-0.6zM346.6 85.1h0.6v0.6h-0.6zM357.0 35.3h0.6v0.6h-0.6zM356.9 95.7h0.6v0.6h-0.6zM345.3 37.7h0.6v0.6h-0.6zM340.4 57.1h0.6v0.6h-0.6zM340.2 32.6h0.6v0.6h-0.6zM348.4 38.3h0.6v0.6h-0.6zM344.9 64.7h0.6v0.6h-0.6zM322.4 32.5h0.6v0.6h-0.6zM350.6 65.5h0.6v0.6h-0.6zM345.1 76.7h0.6v0.6h-0.6zM335.5 22.7h0.6v0.6h-0.6zM358.5 56.2h0.6v0.6h-0.6zM334.4 95.1h0.6v0.6h-0.6zM342.9 62.4h0.6v0.6h-0.6zM342.3 16.2h0.6v0.6h-0.6zM351.1 60.7h0.6v0.6h-0.6zM340.2 33.8h0.6v0.6h-0.6zM335.7 95.3h0.6v0.6h-0.6zM351.2 77.1h0.6v0.6h-0.6zM343.9 94.0h0.6v0.6h-0.6zM370.1 52.0h0.6v0.6h-0.6zM365.2 80.9h0.6v0.6h-0.6zM297.2 84.5h0.6v0.6h-0.6zM324.5 33.3h0.6v0.6h-0.6zM356.9 95.7h0.6v0.6h-0.6zM355.5 47.3h0.6v0.6h-0.6zM365.6 47.3h0.6v0.6h-0.6zM347.0 26.4h0.6v0.6h-0.6zM350.3 94.5h0.6v0.6h-0.6zM355.7 70.5h0.6v0.6h-0.6zM356.6 54.9h0.6v0.6h-0.6zM342.1 60.1h0.6v0.6h-0.6zM354.9 53.9h0.6v0.6h-0.6zM346.6 50.0h0.6v0.6h-0.6zM315.0 33.1h0.6v0.6h-0.6zM350.9 50.4h0.6v0.6h-0.6zM348.7 93.7h0.6v0.6h-0.6zM343.9 53.7h0.6v0.6h-0.6zM341.4 31.7h0.6v0.6h-0.6zM294.6 89.4h0.6v0.6h-0.6zM357.0 68.9h0.6v0.6h-0.6zM345.1 82.4h0.6v0.6h-0.6zM345.3 77.7h0.6v0.6h-0.6zM347.6 65.0h0.6v0.6h-0.6zM296.8 80.7h0.6v0.6h-0.6zM369.9 78.4h0.6v0.6h-0.6zM374.6 51.6h0.6v0.6h-0.6zM348.2 39.9h0.6v0.6h-0.6zM350.7 39.8h0.6v0.6h-0.6zM307.2 33.1h0.6v0.6h-0.6zM372.4 24.6h0.6v0.6h-0.6zM346.3 47.0h0.6v0.6h-0.6zM369.6 65.6h0.6v0.6h-0.6zM348.3 87.5h0.6v0.6h-0.6zM348.7 55.6h0.6v0.6h-0.6zM345.0 76.6h0.6v0.6h-0.6zM343.5 17.2h0.6v0.6h-0.6zM349.4 63.6h0.6v0.6h-0.6zM356.7 64.5h0.6v0.6h-0.6zM343.5 91.0h0.6v0.6h-0.6zM324.6 32.3h0.6v0.6h-0.6zM326.9 34.6h0.6v0.6h-0.6zM356.2 31.6h0.6v0.6h-0.6zM326.1 35.0h0.6v0.6h-0.6zM343.0 93.5h0.6v0.6h-0.6zM362.3 13.6h0.6v0.6h-0.6zM367.7 74.3h0.6v0.6h-0.6zM301.3 30.3h0.6v0.6h-0.6zM318.5 30.9h0.6v0.6h-0.6zM325.3 31.9h0.6v0.6h-0.6zM314.6 19.7h0.6v0.6h-0.6zM347.8 65.6h0.6v0.6h-0.6zM350.3 62.0h0.6v0.6h-0.6zM345.8 39.9h0.6v0.6h-0.6zM365.9 71.5h0.6v0.6h-0.6zM363.6 52.7h0.6v0.6h-0.6zM340.6 56.3h0.6v0.6h-0.6zM301.4 31.1h0.6v0.6h-0.6zM295.3 86.8h0.6v0.6h-0.6zM294.5 88.1h0.6v0.6h-0.6zM347.4 77.1h0.6v0.6h-0.6zM324.0 33.6h0.6v0.6h-0.6zM313.7 34.1h0.6v0.6h-0.6zM332.8 34.6h0.6v0.6h-0.6zM341.7 36.2h0.6v0.6h-0.6zM353.9 64.7h0.6v0.6h-0.6zM348.2 75.2h0.6v0.6h-0.6zM371.9 33.5h0.6v0.6h-0.6zM348.5 44.8h0.6v0.6h-0.6zM334.2 35.3h0.6v0.6h-0.6zM293.5 77.9h0.6v0.6h-0.6zM309.0 26.2h0.6v0.6h-0.6zM350.7 55.2h0.6v0.6h-0.6zM345.8 22.8h0.6v0.6h-0.6zM347.1 47.6h0.6v0.6h-0.6zM313.7 27.2h0.6v0.6h-0.6zM344.2 36.6h0.6v0.6h-0.6zM362.1 53.0h0.6v0.6h-0.6zM367.3 55.4h0.6v0.6h-0.6zM345.7 86.5h0.6v0.6h-0.6zM360.5 79.0h0.6v0.6h-0.6zM365.0 32.8h0.6v0.6h-0.6zM361.0 60.8h0.6v0.6h-0.6zM344.2 89.1h0.6v0.6h-0.6zM342.3 35.6h0.6v0.6h-0.6zM345.9 55.7h0.6v0.6h-0.6zM364.6 83.1h0.6v0.6h-0.6zM344.4 60.7h0.6v0.6h-0.6zM345.9 93.9h0.6v0.6h-0.6zM330.0 33.7h0.6v0.6h-0.6zM372.7 48.2h0.6v0.6h-0.6zM346.8 61.0h0.6v0.6h-0.6zM313.9 32.2h0.6v0.6h-0.6zM344.4 84.5h0.6v0.6h-0.6zM351.9 94.7h0.6v0.6h-0.6zM364.3 81.7h0.6v0.6h-0.6zM348.6 65.9h0.6v0.6h-0.6zM345.4 85.0h0.6v0.6h-0.6zM327.3 32.2h0.6v0.6h-0.6zM341.8 31.2h0.6v0.6h-0.6zM338.9 30.3h0.6v0.6h-0.6zM350.6 64.9h0.6v0.6h-0.6zM348.5 64.1h0.6v0.6h-0.6zM341.2 25.2h0.6v0.6h-0.6zM303.9 31.9h0.6v0.6h-0.6zM344.1 49.5h0.6v0.6h-0.6zM342.7 83.8h0.6v0.6h-0.6zM344.0 54.1h0.6v0.6h-0.6zM300.5 31.7h0.6v0.6h-0.6zM327.9 35.0h0.6v0.6h-0.6zM340.5 56.6h0.6v0.6h-0.6zM344.8 60.0h0.6v0.6h-0.6zM343.1 54.6h0.6v0.6h-0.6zM297.8 83.4h0.6v0.6h-0.6zM352.0 83.7h0.6v0.6h-0.6zM375.7 64.3h0.6v0.6h-0.6zM345.5 23.3h0.6v0.6h-0.6zM296.8 88.8h0.6v0.6h-0.6zM310.4 31.8h0.6v0.6h-0.6zM338.1 35.2h0.6v0.6h-0.6zM349.8 80.3h0.6v0.6h-0.6zM363.1 78.5h0.6v0.6h-0.6zM352.8 86.8h0.6v0.6h-0.6zM304.0 27.8h0.6v0.6h-0.6zM360.9 81.3h0.6v0.6h-0.6zM346.9 91.0h0.6v0.6h-0.6zM297.1 81.7h0.6v0.6h-0.6zM341.0 87.1h0.6v0.6h-0.6zM321.3 32.8h0.6v0.6h-0.6zM373.8 75.2h0.6v0.6h-0.6zM342.0 17.2h0.6v0.6h-0.6zM351.2 65.3h0.6v0.6h-0.6zM326.7 32.9h0.6v0.6h-0.6zM362.9 48.7h0.6v0.6h-0.6zM344.1 64.1h0.6v0.6h-0.6zM345.2 71.5h0.6v0.6h-0.6zM346.5 86.6h0.6v0.6h-0.6zM351.3 92.5h0.6v0.6h-0.6zM336.4 32.7h0.6v0.6h-0.6zM356.3 41.9h0.6v0.6h-0.6zM343.7 67.1h0.6v0.6h-0.6zM352.3 47.6h0.6v0.6h-0.6zM352.2 88.4h0.6v0.6h-0.6zM351.9 59.4h0.6v0.6h-0.6zM360.8 94.2h0.6v0.6h-0.6zM352.0 72.0h0.6v0.6h-0.6zM328.5 20.9h0.6v0.6h-0.6zM343.1 52.2h0.6v0.6h-0.6zM333.7 29.1h0.6v0.6h-0.6zM341.5 82.3h0.6v0.6h-0.6zM363.7 46.6h0.6v0.6h-0.6zM309.7 32.6h0.6v0.6h-0.6zM351.6 67.7h0.6v0.6h-0.6zM346.1 63.2h0.6v0.6h-0.6zM320.7 19.6h0.6v0.6h-0.6zM334.7 27.9h0.6v0.6h-0.6zM349.8 82.2h0.6v0.6h-0.6zM342.9 57.1h0.6v0.6h-0.6zM361.2 86.4h0.6v0.6h-0.6zM333.9 32.0h0.6v0.6h-0.6zM348.1 61.3h0.6v0.6h-0.6zM348.2 20.6h0.6v0.6h-0.6zM331.3 36.2h0.6v0.6h-0.6zM344.9 55.7h0.6v0.6h-0.6zM340.6 84.6h0.6v0.6h-0.6zM329.1 31.0h0.6v0.6h-0.6zM345.2 77.7h0.6v0.6h-0.6zM315.9 33.0h0.6v0.6h-0.6zM341.1 20.3h0.6v0.6h-0.6zM338.5 25.8h0.6v0.6h-0.6zM334.6 19.8h0.6v0.6h-0.6zM343.6 92.9h0.6v0.6h-0.6zM333.4 30.1h0.6v0.6h-0.6zM371.6 81.8h0.6v0.6h-0.6zM362.7 60.3h0.6v0.6h-0.6zM356.5 50.6h0.6v0.6h-0.6zM368.7 50.5h0.6v0.6h-0.6zM354.6 25.0h0.6v0.6h-0.6zM323.5 17.4h0.6v0.6h-0.6zM339.0 87.4h0.6v0.6h-0.6zM342.4 62.9h0.6v0.6h-0.6zM346.2 67.2h0.6v0.6h-0.6zM325.8 28.9h0.6v0.6h-0.6zM329.9 27.3h0.6v0.6h-0.6zM337.0 33.3h0.6v0.6h-0.6zM347.1 47.8h0.6v0.6h-0.6zM342.8 86.7h0.6v0.6h-0.6zM353.4 60.1h0.6v0.6h-0.6zM343.4 85.0h0.6v0.6h-0.6zM341.5 54.9h0.6v0.6h-0.6zM308.6 25.3h0.6v0.6h-0.6zM356.8 86.8h0.6v0.6h-0.6zM337.6 32.9h0.6v0.6h-0.6zM362.8 47.1h0.6v0.6h-0.6zM370.6 32.1h0.6v0.6h-0.6zM298.6 33.9h0.6v0.6h-0.6zM304.7 32.4h0.6v0.6h-0.6zM349.9 43.8h0.6v0.6h-0.6zM303.2 26.1h0.6v0.6h-0.6zM344.5 61.8h0.6v0.6h-0.6zM344.7 63.5h0.6v0.6h-0.6zM326.7 34.0h0.6v0.6h-0.6zM371.6 33.4h0.6v0.6h-0.6zM344.6 52.5h0.6v0.6h-0.6zM361.3 35.3h0.6v0.6h-0.6zM341.3 58.0h0.6v0.6h-0.6zM353.6 68.3h0.6v0.6h-0.6zM296.8 89.7h0.6v0.6h-0.6zM348.4 94.8h0.6v0.6h-0.6zM345.2 69.5h0.6v0.6h-0.6zM345.5 91.1h0.6v0.6h-0.6zM366.6 55.3h0.6v0.6h-0.6zM298.0 29.9h0.6v0.6h-0.6zM352.2 13.8h0.6v0.6h-0.6zM352.0 31.2h0.6v0.6h-0.6zM342.7 83.9h0.6v0.6h-0.6zM342.6 84.5h0.6v0.6h-0.6zM351.7 91.1h0.6v0.6h-0.6zM354.9 72.0h0.6v0.6h-0.6zM348.2 90.5h0.6v0.6h-0.6zM362.3 33.9h0.6v0.6h-0.6zM341.8 87.3h0.6v0.6h-0.6zM331.9 29.3h0.6v0.6h-0.6zM321.9 33.7h0.6v0.6h-0.6zM359.9 70.2h0.6v0.6h-0.6zM345.7 19.5h0.6v0.6h-0.6zM343.8 95.7h0.6v0.6h-0.6zM342.0 62.5h0.6v0.6h-0.6zM362.9 35.0h0.6v0.6h-0.6zM367.2 55.2h0.6v0.6h-0.6zM306.0 31.2h0.6v0.6h-0.6zM342.3 81.9h0.6v0.6h-0.6zM348.9 55.0h0.6v0.6h-0.6zM331.5 25.9h0.6v0.6h-0.6zM345.1 60.1h0.6v0.6h-0.6zM297.9 83.9h0.6v0.6h-0.6zM337.6 28.9h0.6v0.6h-0.6zM345.7 46.9h0.6v0.6h-0.6zM350.0 27.8h0.6v0.6h-0.6zM349.5 84.5h0.6v0.6h-0.6zM348.7 61.0h0.6v0.6h-0.6zM294.6 81.3h0.6v0.6h-0.6zM344.6 49.9h0.6v0.6h-0.6zM343.1 26.4h0.6v0.6h-0.6zM358.5 86.0h0.6v0.6h-0.6zM372.8 33.9h0.6v0.6h-0.6zM342.8 85.6h0.6v0.6h-0.6zM351.6 55.6h0.6v0.6h-0.6zM343.3 28.4h0.6v0.6h-0.6zM349.6 33.9h0.6v0.6h-0.6zM344.6 56.2h0.6v0.6h-0.6zM326.4 33.1h0.6v0.6h-0.6zM342.4 58.1h0.6v0.6h-0.6zM335.5 24.8h0.6v0.6h-0.6zM349.1 39.2h0.6v0.6h-0.6zM349.9 62.5h0.6v0.6h-0.6zM297.5 86.4h0.6v0.6h-0.6zM361.4 67.4h0.6v0.6h-0.6zM344.3 56.8h0.6v0.6h-0.6zM295.7 83.6h0.6v0.6h-0.6zM368.5 59.3h0.6v0.6h-0.6zM366.4 78.7h0.6v0.6h-0.6zM343.7 62.1h0.6v0.6h-0.6zM344.9 58.2h0.6v0.6h-0.6zM351.9 28.9h0.6v0.6h-0.6zM330.3 35.6h0.6v0.6h-0.6zM312.6 33.1h0.6v0.6h-0.6zM339.8 27.7h0.6v0.6h-0.6zM354.4 25.5h0.6v0.6h-0.6zM297.5 87.0h0.6v0.6h-0.6zM336.1 35.6h0.6v0.6h-0.6zM363.2 88.3h0.6v0.6h-0.6zM340.3 84.5h0.6v0.6h-0.6zM361.3 41.0h0.6v0.6h-0.6zM373.5 71.4h0.6v0.6h-0.6zM349.9 44.4h0.6v0.6h-0.6zM353.4 67.6h0.6v0.6h-0.6zM336.9 34.9h0.6v0.6h-0.6zM298.9 33.1h0.6v0.6h-0.6zM345.1 17.5h0.6v0.6h-0.6zM365.7 82.0h0.6v0.6h-0.6zM358.2 64.8h0.6v0.6h-0.6zM345.6 37.3h0.6v0.6h-0.6zM341.8 63.2h0.6v0.6h-0.6zM344.6 94.8h0.6v0.6h-0.6zM352.4 23.1h0.6v0.6h-0.6zM341.2 87.9h0.6v0.6h-0.6zM347.6 87.1h0.6v0.6h-0.6zM368.3 23.9h0.6v0.6h-0.6zM340.4 84.9h0.6v0.6h-0.6zM350.7 47.7h0.6v0.6h-0.6zM304.9 29.1h0.6v0.6h-0.6zM342.0 54.3h0.6v0.6h-0.6zM346.6 91.5h0.6v0.6h-0.6zM347.3 68.5h0.6v0.6h-0.6zM369.1 89.1h0.6v0.6h-0.6zM348.9 85.1h0.6v0.6h-0.6zM343.5 55.1h0.6v0.6h-0.6zM357.2 30.7h0.6v0.6h-0.6zM366.8 66.5h0.6v0.6h-0.6zM297.9 85.7h0.6v0.6h-0.6zM349.9 63.6h0.6v0.6h-0.6zM342.7 34.3h0.6v0.6h-0.6zM342.4 36.6h0.6v0.6h-0.6zM344.2 63.6h0.6v0.6h-0.6zM342.3 56.4h0.6v0.6h-0.6zM375.6 73.6h0.6v0.6h-0.6zM359.2 95.2h0.6v0.6h-0.6zM366.4 94.9h0.6v0.6h-0.6zM353.3 42.6h0.6v0.6h-0.6zM374.8 37.7h0.6v0.6h-0.6zM296.8 86.3h0.6v0.6h-0.6z" fill="#666"/>
<path d="M307.7 85.8 307.2 85.4 306.7 85.4 304.7 83.3 304.2 83.2 302.4 80.0 302.4 79.5 301.9 78.5 302.0 77.5 301.6 76.5 301.6 76.0 301.2 75.0 301.2 74.0 300.8 73.5 300.8 72.5 300.0 71.5 299.8 69.5 299.4 69.0 299.0 66.0 298.4 65.5 298.8 62.0 298.3 61.5 298.4 58.5 297.8 57.5 298.3 54.5 298.3 52.0 297.9 51.0 297.2 48.0 297.2 47.0 297.8 45.0 297.7 44.5 296.7 41.8 296.6 39.5 299.7 39.5 302.7 39.2 303.2 38.7 303.7 38.6 311.2 39.3 312.2 39.6 314.7 39.1 317.2 39.0 318.2 40.0 318.2 41.0 318.7 41.4 318.8 42.0 319.2 42.4 319.7 42.5 320.7 42.1 321.2 42.1 321.7 41.7 322.7 41.7 323.2 41.2 325.7 41.1 327.7 41.3 328.2 40.9 331.2 40.9 333.7 41.3 337.7 41.3 338.7 41.6 338.7 42.0 339.5 42.5 339.6 43.0 340.2 43.4 340.7 44.1 340.9 44.5 340.7 44.9 338.4 46.5 338.4 47.0 337.2 48.0 335.2 49.0 332.7 51.5 332.2 51.6 331.2 52.6 330.7 52.6 330.2 53.1 329.7 53.1 329.2 53.6 328.7 53.6 327.2 55.0 327.1 56.0 326.6 56.5 326.0 58.5 326.1 59.5 325.8 60.0 325.8 61.0 325.4 61.5 325.5 63.5 325.0 64.0 325.1 66.0 324.6 66.5 324.7 67.5 324.1 68.0 324.1 68.5 323.6 69.0 323.5 70.0 322.9 70.5 322.8 71.0 322.3 71.5 322.0 72.5 321.2 73.8 321.2 74.5 320.8 75.0 320.8 75.5 320.4 76.0 320.5 77.0 320.0 77.5 320.0 78.0 319.4 78.5 319.4 79.0 318.7 79.6 317.7 79.9 316.6 80.5 314.7 83.0 313.2 84.6 311.2 84.6 310.7 85.0 308.2 85.3 307.7 85.8Z" fill="#fff" fill-rule="evenodd"/>
<path d="M307.7 85.8 307.2 85.4 306.7 85.4 304.7 83.3 304.2 83.2 302.3 80.0 301.9 78.5 302.0 77.5 301.6 76.5 301.6 76.0 301.2 75.0 301.2 74.0 300.9 73.5 300.7 72.3 300.1 71.5 299.1 66.0 298.5 65.5 298.7 63.8 299.2 62.0 299.1 61.5 298.8 61.0 298.9 58.5 298.1 57.5 298.4 54.0 298.3 52.0 297.8 51.0 297.1 48.0 297.2 46.6 297.7 45.0 296.7 41.5 296.7 39.6 299.7 39.6 302.7 39.2 303.2 38.7 303.7 38.7 311.2 39.4 312.2 39.7 314.7 39.2 317.2 39.2 318.0 40.0 318.1 41.0 318.6 41.5 318.9 42.5 319.7 42.8 320.7 42.2 321.2 42.2 321.7 41.8 322.7 41.8 323.2 41.3 325.7 41.1 327.7 41.3 328.2 40.9 330.2 40.9 337.7 41.4 339.4 42.5 339.5 43.0 340.2 43.5 340.8 44.5 340.5 45.0 338.5 46.5 338.4 47.0 337.2 48.0 335.2 48.9 332.7 51.2 331.2 52.3 328.2 53.5 327.1 54.5 325.7 58.0 325.5 60.5 325.1 61.5 325.3 63.5 324.8 64.0 324.9 66.0 324.4 66.5 324.4 67.5 323.9 68.0 323.9 68.5 323.4 69.0 323.3 70.0 322.0 71.5 321.1 73.5 320.7 75.0 320.8 75.5 320.4 76.0 320.5 77.0 320.0 77.5 320.0 78.0 319.4 78.5 319.3 79.0 318.7 79.6 317.7 79.8 316.2 80.8 314.6 83.0 313.2 84.5 311.2 84.6 310.7 85.1 308.2 85.3 307.7 85.8Z" fill="none" stroke="#5c5c5c" stroke-width="0.45" stroke-opacity="1.0"/>
<path d="M307.7 85.3 307.2 85.0 306.7 85.1 306.1 84.5 304.2 82.3 303.4 81.0 302.9 80.0 302.5 78.5 302.5 77.0 301.3 72.0 300.8 71.0 300.2 67.5 299.4 65.0 300.5 61.5 300.6 59.0 300.2 58.0 299.2 57.0 299.1 56.5 298.7 52.0 298.2 50.5 297.6 48.0 297.7 47.0 298.2 45.0 297.5 42.0 297.5 40.5 300.2 40.2 302.7 39.6 303.7 39.1 304.7 39.1 311.7 40.3 314.2 40.0 316.7 40.2 317.0 40.5 317.3 41.5 318.2 42.6 319.2 43.4 319.7 43.4 320.2 43.1 321.7 42.9 323.2 42.3 323.7 41.9 325.2 41.6 326.2 41.6 327.7 41.8 328.7 41.5 330.7 41.3 337.2 42.2 339.2 43.4 339.7 43.5 339.8 44.0 340.3 44.5 337.7 46.8 334.7 48.4 330.7 51.4 327.7 52.6 325.9 54.0 324.6 57.5 324.1 60.0 323.3 61.5 323.1 63.5 323.4 65.0 323.1 66.5 321.9 68.5 321.8 69.0 320.7 70.7 319.7 74.0 319.4 76.5 318.9 77.5 317.7 78.8 316.7 79.3 315.7 80.0 314.4 81.5 313.5 83.0 312.7 83.8 311.2 84.1 310.2 84.6 308.2 84.9 307.7 85.3Z" fill="none" stroke="#5c5c5c" stroke-width="0.45" stroke-opacity="1.0"/>
<path d="M309.7 83.6 307.7 83.9 307.2 83.8 304.7 81.6 303.7 80.0 303.2 78.0 303.0 75.5 301.8 71.0 300.9 64.5 302.0 61.5 302.1 59.0 301.7 57.8 300.6 56.5 300.4 56.0 299.4 52.0 298.7 50.2 298.4 48.0 298.9 45.0 298.6 43.5 298.7 42.0 299.2 41.5 302.2 40.5 303.7 40.1 304.7 40.0 311.2 41.4 313.2 41.5 315.2 41.8 316.9 43.5 318.2 44.3 319.2 44.7 320.7 44.6 323.2 43.7 324.2 43.0 325.2 42.6 328.2 42.6 329.2 42.3 330.7 42.1 336.7 43.2 337.3 43.5 338.2 44.5 338.0 45.0 336.7 46.3 334.2 47.4 330.2 50.3 325.7 52.3 324.7 52.5 324.0 53.0 323.3 56.5 321.6 61.0 321.5 63.0 321.9 65.0 321.2 66.5 319.8 68.0 319.3 70.0 319.1 72.0 318.0 76.0 316.9 77.5 314.7 79.4 312.2 82.4 310.7 82.9 309.7 83.6Z" fill="none" stroke="#5c5c5c" stroke-width="0.45" stroke-opacity="1.0"/>
<path d="M309.2 81.7 308.2 81.8 306.7 80.6 305.7 80.1 305.2 79.5 303.4 72.5 303.1 70.5 303.0 67.5 303.2 65.5 303.0 64.0 303.4 61.5 303.4 60.5 302.8 57.5 301.9 56.0 301.2 54.0 300.8 51.0 300.4 50.0 300.7 46.5 300.3 43.0 304.2 41.1 305.2 41.3 307.7 42.2 310.2 42.5 314.2 43.5 315.2 44.4 316.7 45.1 318.7 46.8 320.2 47.2 321.7 46.7 324.7 44.3 325.2 44.1 327.7 44.1 329.7 43.5 330.7 43.5 334.7 44.6 335.0 45.0 334.7 45.3 333.2 46.3 330.7 48.5 329.2 49.3 323.2 51.1 322.2 51.9 322.0 52.5 322.1 54.0 321.8 56.0 320.9 58.0 320.1 60.5 320.1 64.5 318.4 67.5 317.9 69.5 317.6 72.5 316.5 75.5 315.6 77.0 311.7 80.5 309.2 81.7Z" fill="none" stroke="#5c5c5c" stroke-width="0.45" stroke-opacity="1.0"/>
<path d="M309.7 79.1 309.2 79.4 307.2 78.5 306.3 76.0 305.2 74.0 304.6 72.5 304.5 70.5 304.8 68.5 304.9 65.5 304.6 63.5 304.6 61.0 304.3 59.5 304.1 57.0 303.6 56.0 302.8 53.5 303.1 51.5 302.5 49.5 302.8 46.5 302.6 45.0 303.4 44.5 304.7 43.2 307.2 43.6 309.7 43.8 313.2 44.9 317.2 48.5 321.4 50.5 320.8 52.0 320.3 55.5 319.4 58.5 318.5 60.5 318.5 64.0 317.5 66.5 316.1 72.0 315.1 74.0 314.4 76.0 314.0 76.5 312.8 77.5 311.3 78.0 309.7 79.1ZM323.2 49.6 322.6 49.5 323.8 48.0 325.2 47.0 327.7 46.3 329.7 45.3 330.7 45.4 331.6 46.0 330.2 47.3 328.7 48.0 325.2 48.8 323.2 49.6ZM322.2 50.0 322.1 50.0 322.2 49.9 322.2 50.0Z" fill="none" stroke="#5c5c5c" stroke-width="0.45" stroke-opacity="1.0"/>
<path d="M309.7 76.7 306.9 74.0 306.4 73.0 306.2 72.0 306.6 68.5 305.9 63.0 305.8 59.5 306.2 57.0 305.3 55.0 305.4 52.0 304.3 49.5 304.1 48.5 304.3 46.5 305.2 45.6 306.7 45.1 309.7 45.3 312.2 46.4 313.2 47.6 315.2 49.5 318.2 50.7 319.4 51.5 319.6 52.0 318.6 55.0 318.2 58.0 317.2 60.2 316.9 62.0 316.9 64.5 315.3 70.0 312.6 75.0 311.7 75.8 309.7 76.7Z" fill="none" stroke="#5c5c5c" stroke-width="0.45" stroke-opacity="1.0"/>
<path d="M310.7 74.7 310.2 74.8 309.0 74.0 308.3 73.0 308.2 72.5 308.8 70.0 308.8 69.0 307.8 66.5 307.4 63.0 307.9 57.0 307.4 55.0 307.1 52.0 305.4 49.0 305.3 48.0 305.3 47.5 305.7 47.0 306.7 46.7 308.2 47.0 311.2 48.4 313.0 51.0 313.5 51.5 314.7 51.8 316.8 52.0 317.9 52.5 318.0 53.0 317.4 54.5 316.9 57.5 315.5 62.0 314.8 67.0 311.7 73.6 310.7 74.7Z" fill="none" stroke="#5c5c5c" stroke-width="0.45" stroke-opacity="1.0"/>
<path d="M307.2 49.0 307.2 49.0ZM310.7 72.5 310.5 72.0 310.5 69.5 310.2 68.0 309.5 66.0 309.5 64.0 309.1 62.5 309.1 61.0 309.8 58.0 309.8 57.0 309.2 55.0 308.9 52.5 307.5 49.5 307.7 49.1 308.7 49.4 310.2 50.3 311.2 52.0 312.2 53.0 313.2 53.5 315.7 53.7 316.2 54.0 314.4 60.5 313.2 62.0 313.0 62.5 312.8 64.0 313.1 66.0 313.0 67.0 311.1 70.5 310.7 72.5Z" fill="none" stroke="#5c5c5c" stroke-width="0.45" stroke-opacity="1.0"/>
<path d="M311.7 60.7 311.6 57.0 310.9 54.5 311.2 54.2 313.5 55.5 312.5 57.5 312.2 59.1 311.9 59.5 311.7 60.7Z" fill="none" stroke="#5c5c5c" stroke-width="0.45" stroke-opacity="1.0"/>
</g>
<path d="M293.5 36.5 L318 36 L318 39.5 L296 40 Z" fill="#000"/>
<ellipse cx="333.5" cy="35.6" rx="7.7" ry="4.3" transform="rotate(0 333.5 35.6)" fill="none" stroke="#666" stroke-width="0.8"/>
<clipPath id="cc2"><rect x="386.0" y="12.5" width="83.30" height="83.30"/></clipPath>
<g clip-path="url(#cc2)">
<path d="M416.5 95.5 410.2 95.5 409.5 91.5 409.2 88.0 408.8 87.0 407.5 85.1 407.0 84.0 406.4 81.0 406.3 76.5 405.9 72.5 406.3 69.5 406.4 64.5 407.7 60.0 407.3 56.5 407.7 55.0 410.7 49.0 411.4 47.0 412.0 46.3 413.0 46.0 414.0 46.3 415.0 47.1 416.9 50.0 418.6 52.0 419.2 53.0 420.5 58.5 421.0 64.5 421.8 69.0 421.7 74.5 421.2 81.0 419.5 86.0 419.0 90.5 418.5 91.6 417.0 94.0 416.5 95.5Z" fill="#c8c8c8" fill-rule="evenodd"/>
<path d="M415.0 90.1 414.5 90.5 414.0 90.5 413.5 90.3 413.0 89.7 412.5 88.3 411.5 83.8 411.0 83.0 409.5 81.8 409.0 81.0 408.2 78.0 407.8 73.5 408.6 70.0 408.9 65.5 409.3 64.0 409.8 63.0 411.0 61.5 413.5 59.1 415.0 58.2 416.5 57.7 417.5 58.1 418.0 58.6 418.5 59.5 418.8 60.5 418.7 62.0 418.2 64.5 418.4 65.5 419.4 68.5 419.1 72.0 419.3 75.0 419.1 76.5 418.0 79.5 418.0 81.5 417.8 82.5 416.9 85.0 415.8 87.5 415.3 89.5 415.0 90.1Z" fill="#888" fill-rule="evenodd"/>
<path d="M399.0 90.0 397.5 89.9 395.0 88.8 393.5 87.2 389.5 84.0 388.9 83.0 388.1 81.0 388.4 77.0 387.2 73.5 386.5 70.5 386.0 69.6 386.0 35.4 387.5 35.0 391.5 34.6 397.0 35.0 399.5 34.9 404.0 35.5 405.0 35.2 406.1 34.5 407.0 34.3 408.5 34.6 413.5 37.6 416.5 37.4 418.0 37.6 420.0 37.0 421.5 36.7 428.0 37.2 430.5 36.4 431.5 36.6 435.5 38.6 436.3 39.5 436.7 40.5 436.9 44.5 436.5 46.5 435.0 49.8 434.0 51.5 433.1 52.5 432.0 53.3 429.0 55.9 427.0 57.1 422.0 58.6 419.5 59.8 418.0 60.2 417.7 60.5 416.4 62.5 416.1 63.5 415.8 65.0 415.9 66.5 415.4 68.5 414.6 70.5 413.2 73.0 413.7 76.0 413.5 77.0 411.7 80.5 410.0 83.2 409.0 84.2 408.2 85.5 407.7 87.0 407.0 87.7 406.0 88.1 404.0 88.2 401.0 88.8 400.0 89.7 399.0 90.0Z" fill="#aaa" fill-rule="evenodd"/>
<path d="M398.5 88.1 397.5 88.3 396.0 87.9 395.5 87.5 394.5 86.1 393.0 85.3 392.0 84.6 390.8 83.0 389.9 80.5 389.8 76.5 389.2 75.5 388.5 73.1 387.8 68.5 387.0 67.0 386.7 65.5 386.8 63.0 387.6 61.0 387.6 60.0 387.5 59.5 386.5 58.8 386.0 58.1 386.0 56.1 386.8 53.0 386.6 52.0 386.0 51.2 386.0 48.1 386.2 47.5 386.0 46.4 386.0 36.7 387.5 36.2 389.0 36.5 391.0 36.0 392.5 35.9 395.5 36.4 399.5 36.4 405.0 37.2 408.5 36.4 412.0 37.8 412.7 38.5 413.0 39.1 414.5 38.9 416.0 39.3 417.5 39.3 418.5 39.2 419.5 38.5 421.0 38.2 425.5 38.1 429.0 38.8 430.5 38.5 431.3 38.5 432.5 38.8 434.5 39.9 435.2 41.0 435.2 42.5 434.9 44.0 434.2 45.0 434.0 48.5 433.1 50.0 430.5 51.8 429.5 53.3 428.0 54.3 426.5 54.9 425.5 55.7 423.5 56.2 422.5 56.8 421.5 57.0 420.0 57.7 418.5 58.6 417.0 59.2 416.6 59.5 415.1 61.5 413.9 64.5 414.1 66.0 413.8 68.0 412.4 70.5 412.3 71.5 411.8 72.5 411.3 74.5 411.4 75.5 410.9 76.5 410.4 79.5 408.6 82.5 407.4 83.5 406.8 84.5 406.5 85.8 406.0 86.5 405.5 86.8 404.5 87.0 402.5 87.0 400.5 86.6 399.5 87.6 398.5 88.1Z" fill="#333" fill-rule="evenodd"/>
<path d="M398.5 87.0 397.5 87.4 396.5 87.2 395.0 85.2 393.5 84.7 392.5 84.0 391.3 82.0 390.6 78.0 390.7 76.5 389.8 74.0 389.3 73.0 388.9 71.0 388.8 68.0 388.1 67.0 387.7 65.5 388.0 62.5 388.8 60.0 388.5 59.1 387.2 58.0 386.9 57.0 387.7 52.5 387.6 52.0 387.0 51.0 386.8 50.0 387.7 47.5 387.6 46.5 386.8 44.5 386.8 41.5 386.2 39.0 386.5 37.7 387.5 37.2 389.5 37.7 391.0 37.1 392.5 36.9 394.5 37.2 398.5 37.2 402.0 37.5 405.5 38.3 408.5 37.5 409.5 37.9 410.6 38.0 411.6 38.5 412.0 39.0 412.5 41.1 413.0 41.7 413.3 41.5 413.8 40.5 414.5 40.1 416.5 40.5 417.5 40.4 418.5 40.3 419.5 39.5 420.5 39.2 423.5 39.1 425.5 38.8 427.0 39.1 429.5 40.1 432.0 40.0 433.5 40.5 434.0 40.9 434.3 41.5 434.3 42.5 434.0 43.6 433.2 45.0 432.8 46.5 432.9 47.5 432.6 48.5 431.8 49.5 429.9 51.0 428.9 52.5 427.5 53.4 425.5 54.0 425.0 54.5 423.0 55.3 422.1 56.0 420.0 56.9 418.3 58.0 416.5 58.6 416.0 58.9 414.0 61.2 412.7 64.5 412.8 65.5 412.6 66.5 412.7 67.5 411.9 68.5 411.5 70.5 411.4 71.5 410.2 74.5 409.5 79.5 407.6 82.0 406.8 82.5 406.5 83.0 405.9 84.0 405.5 85.6 405.0 86.0 404.5 86.1 402.5 86.0 401.0 85.6 400.0 85.6 398.5 87.0Z" fill="#000" fill-rule="evenodd"/>
<path d="M410.7 78.2h0.6v0.6h-0.6zM422.7 55.8h0.6v0.6h-0.6zM414.8 68.3h0.6v0.6h-0.6zM411.9 89.5h0.6v0.6h-0.6zM408.7 36.3h0.6v0.6h-0.6zM429.7 52.0h0.6v0.6h-0.6zM415.3 40.2h0.6v0.6h-0.6zM416.9 74.9h0.6v0.6h-0.6zM391.4 94.6h0.6v0.6h-0.6zM426.9 56.8h0.6v0.6h-0.6zM417.5 71.0h0.6v0.6h-0.6zM415.0 66.9h0.6v0.6h-0.6zM385.8 37.6h0.6v0.6h-0.6zM427.9 56.2h0.6v0.6h-0.6zM402.2 86.0h0.6v0.6h-0.6zM406.8 35.4h0.6v0.6h-0.6zM388.5 36.1h0.6v0.6h-0.6zM435.7 44.9h0.6v0.6h-0.6zM395.8 88.1h0.6v0.6h-0.6zM404.8 86.2h0.6v0.6h-0.6zM414.4 62.6h0.6v0.6h-0.6zM408.1 82.4h0.6v0.6h-0.6zM414.0 82.0h0.6v0.6h-0.6zM386.3 53.6h0.6v0.6h-0.6zM410.0 94.2h0.6v0.6h-0.6zM413.7 40.9h0.6v0.6h-0.6zM395.5 85.8h0.6v0.6h-0.6zM414.5 83.3h0.6v0.6h-0.6zM385.8 58.9h0.6v0.6h-0.6zM409.7 89.7h0.6v0.6h-0.6zM405.1 37.8h0.6v0.6h-0.6zM433.0 47.9h0.6v0.6h-0.6zM434.6 40.0h0.6v0.6h-0.6zM406.7 34.1h0.6v0.6h-0.6zM408.7 36.1h0.6v0.6h-0.6zM415.9 59.5h0.6v0.6h-0.6zM417.2 79.7h0.6v0.6h-0.6zM389.8 75.8h0.6v0.6h-0.6zM411.5 93.9h0.6v0.6h-0.6zM391.6 35.7h0.6v0.6h-0.6zM387.6 63.1h0.6v0.6h-0.6zM406.7 95.0h0.6v0.6h-0.6zM423.9 37.6h0.6v0.6h-0.6zM425.3 58.4h0.6v0.6h-0.6zM428.8 53.4h0.6v0.6h-0.6zM388.8 36.8h0.6v0.6h-0.6zM404.8 35.4h0.6v0.6h-0.6zM387.7 60.0h0.6v0.6h-0.6zM419.2 73.9h0.6v0.6h-0.6zM417.7 58.6h0.6v0.6h-0.6zM406.7 36.9h0.6v0.6h-0.6zM418.2 76.2h0.6v0.6h-0.6zM422.1 38.5h0.6v0.6h-0.6zM424.4 57.8h0.6v0.6h-0.6zM418.6 39.4h0.6v0.6h-0.6zM394.0 88.2h0.6v0.6h-0.6zM418.1 40.7h0.6v0.6h-0.6zM412.0 72.4h0.6v0.6h-0.6zM416.4 74.3h0.6v0.6h-0.6zM430.8 38.9h0.6v0.6h-0.6zM407.1 37.5h0.6v0.6h-0.6zM386.9 64.2h0.6v0.6h-0.6zM418.3 38.6h0.6v0.6h-0.6zM428.3 52.8h0.6v0.6h-0.6zM404.2 35.7h0.6v0.6h-0.6zM428.5 56.4h0.6v0.6h-0.6zM433.4 51.1h0.6v0.6h-0.6zM389.1 73.4h0.6v0.6h-0.6zM429.5 51.7h0.6v0.6h-0.6zM431.5 50.0h0.6v0.6h-0.6zM417.4 82.9h0.6v0.6h-0.6zM415.5 61.2h0.6v0.6h-0.6zM414.0 68.7h0.6v0.6h-0.6zM390.5 35.3h0.6v0.6h-0.6zM391.9 36.5h0.6v0.6h-0.6zM388.7 73.0h0.6v0.6h-0.6zM413.2 66.4h0.6v0.6h-0.6zM433.0 40.0h0.6v0.6h-0.6zM412.3 69.5h0.6v0.6h-0.6zM434.9 38.9h0.6v0.6h-0.6zM387.5 35.1h0.6v0.6h-0.6zM388.4 76.3h0.6v0.6h-0.6zM387.0 35.9h0.6v0.6h-0.6zM408.8 85.8h0.6v0.6h-0.6zM432.6 40.6h0.6v0.6h-0.6zM425.8 38.7h0.6v0.6h-0.6zM411.7 76.3h0.6v0.6h-0.6zM419.0 61.9h0.6v0.6h-0.6zM402.4 86.0h0.6v0.6h-0.6zM393.7 37.0h0.6v0.6h-0.6zM410.2 37.8h0.6v0.6h-0.6zM421.3 56.4h0.6v0.6h-0.6zM399.1 86.6h0.6v0.6h-0.6zM386.6 46.8h0.6v0.6h-0.6zM395.3 85.4h0.6v0.6h-0.6zM433.5 45.1h0.6v0.6h-0.6zM406.0 84.1h0.6v0.6h-0.6zM402.1 93.4h0.6v0.6h-0.6zM394.2 86.0h0.6v0.6h-0.6zM387.7 69.1h0.6v0.6h-0.6zM413.2 81.4h0.6v0.6h-0.6zM388.1 66.9h0.6v0.6h-0.6zM417.1 67.7h0.6v0.6h-0.6zM422.9 36.7h0.6v0.6h-0.6zM435.4 46.5h0.6v0.6h-0.6zM420.6 69.5h0.6v0.6h-0.6zM388.3 67.8h0.6v0.6h-0.6zM421.2 57.3h0.6v0.6h-0.6zM413.2 89.5h0.6v0.6h-0.6zM402.9 87.4h0.6v0.6h-0.6zM391.1 81.1h0.6v0.6h-0.6zM416.8 64.4h0.6v0.6h-0.6zM422.9 37.3h0.6v0.6h-0.6zM416.1 76.6h0.6v0.6h-0.6zM412.3 77.4h0.6v0.6h-0.6zM387.2 45.1h0.6v0.6h-0.6zM416.5 84.0h0.6v0.6h-0.6zM411.7 81.2h0.6v0.6h-0.6zM416.1 92.3h0.6v0.6h-0.6zM411.6 37.1h0.6v0.6h-0.6zM415.0 69.9h0.6v0.6h-0.6zM415.3 61.4h0.6v0.6h-0.6zM404.9 38.2h0.6v0.6h-0.6zM414.9 67.5h0.6v0.6h-0.6zM391.8 36.3h0.6v0.6h-0.6zM389.0 69.7h0.6v0.6h-0.6zM386.7 57.3h0.6v0.6h-0.6zM394.5 93.2h0.6v0.6h-0.6zM430.8 35.8h0.6v0.6h-0.6zM417.3 61.7h0.6v0.6h-0.6zM401.4 89.4h0.6v0.6h-0.6zM387.1 55.3h0.6v0.6h-0.6zM417.7 58.6h0.6v0.6h-0.6zM429.3 52.1h0.6v0.6h-0.6zM432.8 51.6h0.6v0.6h-0.6zM407.7 94.5h0.6v0.6h-0.6zM402.0 35.5h0.6v0.6h-0.6zM387.0 54.4h0.6v0.6h-0.6zM393.8 85.0h0.6v0.6h-0.6zM385.8 64.7h0.6v0.6h-0.6zM417.7 81.8h0.6v0.6h-0.6zM413.1 65.5h0.6v0.6h-0.6zM410.0 37.9h0.6v0.6h-0.6zM387.1 66.7h0.6v0.6h-0.6zM425.2 38.0h0.6v0.6h-0.6zM409.7 85.7h0.6v0.6h-0.6zM387.2 48.1h0.6v0.6h-0.6zM413.7 39.2h0.6v0.6h-0.6zM427.0 53.3h0.6v0.6h-0.6zM405.6 91.1h0.6v0.6h-0.6zM407.2 86.7h0.6v0.6h-0.6zM409.5 81.5h0.6v0.6h-0.6zM405.6 37.2h0.6v0.6h-0.6zM402.8 93.8h0.6v0.6h-0.6zM425.3 54.9h0.6v0.6h-0.6zM424.2 54.8h0.6v0.6h-0.6zM409.5 87.9h0.6v0.6h-0.6zM426.9 38.8h0.6v0.6h-0.6zM410.7 76.3h0.6v0.6h-0.6zM386.6 48.6h0.6v0.6h-0.6zM388.5 59.5h0.6v0.6h-0.6zM434.4 47.7h0.6v0.6h-0.6zM417.1 65.6h0.6v0.6h-0.6zM387.8 75.4h0.6v0.6h-0.6zM412.6 81.4h0.6v0.6h-0.6zM411.5 75.0h0.6v0.6h-0.6zM404.4 37.6h0.6v0.6h-0.6zM386.2 56.8h0.6v0.6h-0.6zM419.4 76.6h0.6v0.6h-0.6zM389.4 75.8h0.6v0.6h-0.6zM400.0 95.1h0.6v0.6h-0.6zM414.6 82.9h0.6v0.6h-0.6zM416.7 88.0h0.6v0.6h-0.6zM412.8 90.2h0.6v0.6h-0.6zM417.4 38.3h0.6v0.6h-0.6zM412.5 79.8h0.6v0.6h-0.6zM403.2 85.9h0.6v0.6h-0.6zM390.3 83.1h0.6v0.6h-0.6zM388.8 70.0h0.6v0.6h-0.6zM431.4 39.6h0.6v0.6h-0.6zM408.2 36.9h0.6v0.6h-0.6zM412.5 76.4h0.6v0.6h-0.6zM413.7 66.8h0.6v0.6h-0.6zM416.3 39.8h0.6v0.6h-0.6zM420.5 61.4h0.6v0.6h-0.6zM390.1 35.7h0.6v0.6h-0.6zM404.9 93.4h0.6v0.6h-0.6zM422.1 60.3h0.6v0.6h-0.6zM405.7 36.7h0.6v0.6h-0.6zM430.0 40.2h0.6v0.6h-0.6zM425.2 37.9h0.6v0.6h-0.6zM413.2 72.9h0.6v0.6h-0.6zM414.0 38.6h0.6v0.6h-0.6zM418.0 83.6h0.6v0.6h-0.6zM412.2 72.3h0.6v0.6h-0.6zM427.6 53.6h0.6v0.6h-0.6zM419.1 70.5h0.6v0.6h-0.6zM421.4 38.5h0.6v0.6h-0.6zM411.8 93.9h0.6v0.6h-0.6zM410.5 92.6h0.6v0.6h-0.6zM416.7 60.6h0.6v0.6h-0.6zM395.0 35.3h0.6v0.6h-0.6zM419.1 57.6h0.6v0.6h-0.6zM435.1 39.8h0.6v0.6h-0.6zM388.3 60.0h0.6v0.6h-0.6zM394.3 91.8h0.6v0.6h-0.6zM413.6 79.8h0.6v0.6h-0.6zM417.9 58.5h0.6v0.6h-0.6zM418.5 80.8h0.6v0.6h-0.6zM388.4 37.7h0.6v0.6h-0.6zM414.3 69.1h0.6v0.6h-0.6zM412.7 74.4h0.6v0.6h-0.6zM406.2 36.2h0.6v0.6h-0.6zM413.4 64.2h0.6v0.6h-0.6zM412.4 79.0h0.6v0.6h-0.6zM419.9 57.6h0.6v0.6h-0.6zM403.5 37.1h0.6v0.6h-0.6zM402.4 89.8h0.6v0.6h-0.6zM385.8 43.7h0.6v0.6h-0.6zM411.7 38.1h0.6v0.6h-0.6zM425.3 57.2h0.6v0.6h-0.6zM386.2 37.9h0.6v0.6h-0.6zM413.3 88.2h0.6v0.6h-0.6zM407.7 92.8h0.6v0.6h-0.6zM386.5 53.9h0.6v0.6h-0.6zM430.0 39.9h0.6v0.6h-0.6zM387.6 67.0h0.6v0.6h-0.6zM434.5 39.6h0.6v0.6h-0.6zM412.7 71.7h0.6v0.6h-0.6zM395.7 86.1h0.6v0.6h-0.6zM396.6 36.3h0.6v0.6h-0.6zM397.0 88.3h0.6v0.6h-0.6zM387.7 66.2h0.6v0.6h-0.6zM410.0 92.5h0.6v0.6h-0.6zM401.5 91.9h0.6v0.6h-0.6zM399.2 89.7h0.6v0.6h-0.6zM387.6 52.6h0.6v0.6h-0.6zM404.8 93.6h0.6v0.6h-0.6zM412.1 71.4h0.6v0.6h-0.6zM392.7 86.3h0.6v0.6h-0.6zM418.1 84.5h0.6v0.6h-0.6zM388.0 58.8h0.6v0.6h-0.6zM405.0 38.2h0.6v0.6h-0.6zM435.3 45.1h0.6v0.6h-0.6zM394.6 91.0h0.6v0.6h-0.6zM411.2 75.9h0.6v0.6h-0.6zM386.3 57.2h0.6v0.6h-0.6zM412.8 69.3h0.6v0.6h-0.6zM408.3 82.4h0.6v0.6h-0.6zM413.1 92.1h0.6v0.6h-0.6zM437.7 42.1h0.6v0.6h-0.6zM399.2 86.3h0.6v0.6h-0.6zM395.6 36.5h0.6v0.6h-0.6zM435.7 42.8h0.6v0.6h-0.6zM418.0 64.5h0.6v0.6h-0.6zM407.0 84.0h0.6v0.6h-0.6zM425.7 57.5h0.6v0.6h-0.6zM430.8 38.4h0.6v0.6h-0.6zM424.5 57.0h0.6v0.6h-0.6zM431.8 49.3h0.6v0.6h-0.6zM401.4 89.5h0.6v0.6h-0.6zM428.2 52.8h0.6v0.6h-0.6zM411.1 95.0h0.6v0.6h-0.6zM398.4 93.2h0.6v0.6h-0.6zM394.5 85.3h0.6v0.6h-0.6zM414.1 64.4h0.6v0.6h-0.6zM410.4 79.7h0.6v0.6h-0.6zM388.6 59.3h0.6v0.6h-0.6zM398.3 36.4h0.6v0.6h-0.6zM435.4 47.0h0.6v0.6h-0.6zM409.6 80.6h0.6v0.6h-0.6zM413.6 71.3h0.6v0.6h-0.6zM407.8 88.1h0.6v0.6h-0.6zM412.2 39.5h0.6v0.6h-0.6zM430.1 50.9h0.6v0.6h-0.6zM412.2 37.6h0.6v0.6h-0.6zM433.6 37.4h0.6v0.6h-0.6zM387.0 47.5h0.6v0.6h-0.6zM388.9 71.3h0.6v0.6h-0.6zM386.6 37.8h0.6v0.6h-0.6zM433.8 38.1h0.6v0.6h-0.6zM404.6 93.2h0.6v0.6h-0.6zM393.4 36.8h0.6v0.6h-0.6zM416.1 61.5h0.6v0.6h-0.6zM408.3 95.5h0.6v0.6h-0.6zM408.0 82.7h0.6v0.6h-0.6zM410.3 74.8h0.6v0.6h-0.6zM394.0 35.6h0.6v0.6h-0.6zM398.8 86.8h0.6v0.6h-0.6zM414.9 79.1h0.6v0.6h-0.6zM413.4 78.2h0.6v0.6h-0.6zM414.6 39.4h0.6v0.6h-0.6zM410.9 78.3h0.6v0.6h-0.6zM397.2 89.0h0.6v0.6h-0.6zM388.4 68.1h0.6v0.6h-0.6zM405.4 38.0h0.6v0.6h-0.6zM433.0 39.1h0.6v0.6h-0.6zM415.4 61.7h0.6v0.6h-0.6zM398.0 37.0h0.6v0.6h-0.6zM420.9 56.4h0.6v0.6h-0.6zM413.7 40.9h0.6v0.6h-0.6zM410.6 74.8h0.6v0.6h-0.6zM392.2 92.1h0.6v0.6h-0.6zM420.3 38.3h0.6v0.6h-0.6zM428.9 54.9h0.6v0.6h-0.6zM395.1 36.3h0.6v0.6h-0.6zM386.3 56.6h0.6v0.6h-0.6zM433.7 40.0h0.6v0.6h-0.6zM387.2 41.9h0.6v0.6h-0.6zM393.1 84.9h0.6v0.6h-0.6zM429.8 52.4h0.6v0.6h-0.6zM387.6 71.8h0.6v0.6h-0.6zM411.2 76.7h0.6v0.6h-0.6zM429.3 39.7h0.6v0.6h-0.6zM404.5 37.5h0.6v0.6h-0.6zM429.8 51.2h0.6v0.6h-0.6zM399.2 87.2h0.6v0.6h-0.6zM416.9 79.4h0.6v0.6h-0.6zM418.4 73.5h0.6v0.6h-0.6zM399.6 85.8h0.6v0.6h-0.6zM387.3 46.0h0.6v0.6h-0.6zM398.6 92.5h0.6v0.6h-0.6zM407.4 84.1h0.6v0.6h-0.6zM390.7 37.0h0.6v0.6h-0.6zM411.2 77.0h0.6v0.6h-0.6zM427.0 53.8h0.6v0.6h-0.6zM415.6 38.2h0.6v0.6h-0.6zM407.6 85.9h0.6v0.6h-0.6zM407.5 82.5h0.6v0.6h-0.6zM393.5 90.7h0.6v0.6h-0.6zM414.0 76.6h0.6v0.6h-0.6zM429.1 38.6h0.6v0.6h-0.6zM405.6 35.4h0.6v0.6h-0.6zM396.4 36.9h0.6v0.6h-0.6zM393.0 94.4h0.6v0.6h-0.6zM432.6 39.1h0.6v0.6h-0.6zM387.8 67.6h0.6v0.6h-0.6zM412.2 79.7h0.6v0.6h-0.6zM431.0 37.2h0.6v0.6h-0.6zM413.7 93.9h0.6v0.6h-0.6zM394.8 87.5h0.6v0.6h-0.6zM412.5 74.1h0.6v0.6h-0.6zM415.2 75.6h0.6v0.6h-0.6zM425.3 58.7h0.6v0.6h-0.6zM432.0 53.6h0.6v0.6h-0.6zM412.2 36.4h0.6v0.6h-0.6zM396.2 86.3h0.6v0.6h-0.6zM417.3 61.2h0.6v0.6h-0.6zM413.7 66.5h0.6v0.6h-0.6zM387.2 46.1h0.6v0.6h-0.6zM429.1 37.1h0.6v0.6h-0.6zM434.4 48.0h0.6v0.6h-0.6zM428.7 38.0h0.6v0.6h-0.6zM404.7 37.8h0.6v0.6h-0.6zM432.8 40.5h0.6v0.6h-0.6zM429.7 51.7h0.6v0.6h-0.6zM414.1 92.7h0.6v0.6h-0.6zM417.2 59.6h0.6v0.6h-0.6zM388.4 81.7h0.6v0.6h-0.6zM389.5 36.5h0.6v0.6h-0.6zM419.7 63.1h0.6v0.6h-0.6zM410.0 89.1h0.6v0.6h-0.6zM404.2 37.6h0.6v0.6h-0.6zM417.5 71.7h0.6v0.6h-0.6zM406.7 38.0h0.6v0.6h-0.6zM412.6 92.2h0.6v0.6h-0.6zM399.5 36.8h0.6v0.6h-0.6zM409.6 84.7h0.6v0.6h-0.6zM386.9 61.5h0.6v0.6h-0.6zM426.3 53.9h0.6v0.6h-0.6zM388.9 82.0h0.6v0.6h-0.6zM387.7 72.1h0.6v0.6h-0.6zM408.6 34.6h0.6v0.6h-0.6zM396.6 87.7h0.6v0.6h-0.6zM430.1 50.8h0.6v0.6h-0.6zM414.2 83.7h0.6v0.6h-0.6zM432.9 46.2h0.6v0.6h-0.6zM404.0 38.2h0.6v0.6h-0.6zM388.4 59.3h0.6v0.6h-0.6zM420.7 38.3h0.6v0.6h-0.6zM420.1 57.9h0.6v0.6h-0.6zM409.9 78.6h0.6v0.6h-0.6zM429.2 40.0h0.6v0.6h-0.6zM386.8 68.9h0.6v0.6h-0.6zM413.9 63.3h0.6v0.6h-0.6zM416.4 39.4h0.6v0.6h-0.6zM416.5 40.3h0.6v0.6h-0.6zM405.6 37.1h0.6v0.6h-0.6zM417.7 78.1h0.6v0.6h-0.6zM424.2 37.9h0.6v0.6h-0.6zM406.5 35.0h0.6v0.6h-0.6zM400.1 36.7h0.6v0.6h-0.6zM390.2 77.9h0.6v0.6h-0.6zM398.8 91.4h0.6v0.6h-0.6zM393.8 34.3h0.6v0.6h-0.6zM423.0 56.5h0.6v0.6h-0.6zM387.7 65.1h0.6v0.6h-0.6zM387.3 51.8h0.6v0.6h-0.6zM415.4 69.6h0.6v0.6h-0.6zM388.3 68.9h0.6v0.6h-0.6zM436.2 46.3h0.6v0.6h-0.6zM387.7 46.9h0.6v0.6h-0.6zM392.2 36.0h0.6v0.6h-0.6zM393.0 92.4h0.6v0.6h-0.6zM398.4 87.2h0.6v0.6h-0.6zM432.4 39.3h0.6v0.6h-0.6zM410.4 79.8h0.6v0.6h-0.6zM433.1 53.3h0.6v0.6h-0.6zM411.7 36.1h0.6v0.6h-0.6zM407.6 82.4h0.6v0.6h-0.6zM386.3 48.7h0.6v0.6h-0.6zM426.6 56.4h0.6v0.6h-0.6zM414.5 73.5h0.6v0.6h-0.6zM413.1 78.9h0.6v0.6h-0.6zM392.6 36.6h0.6v0.6h-0.6zM418.6 58.0h0.6v0.6h-0.6zM386.4 67.9h0.6v0.6h-0.6zM398.2 36.8h0.6v0.6h-0.6zM417.9 79.8h0.6v0.6h-0.6zM427.6 53.7h0.6v0.6h-0.6zM415.4 82.3h0.6v0.6h-0.6zM409.7 84.2h0.6v0.6h-0.6zM387.4 68.2h0.6v0.6h-0.6zM402.2 88.4h0.6v0.6h-0.6zM390.7 75.8h0.6v0.6h-0.6zM411.1 75.1h0.6v0.6h-0.6zM415.3 37.9h0.6v0.6h-0.6zM413.8 67.3h0.6v0.6h-0.6zM424.2 39.0h0.6v0.6h-0.6zM391.1 36.6h0.6v0.6h-0.6zM418.8 39.5h0.6v0.6h-0.6zM428.0 55.0h0.6v0.6h-0.6zM409.7 80.6h0.6v0.6h-0.6zM432.1 50.2h0.6v0.6h-0.6zM414.5 89.6h0.6v0.6h-0.6zM412.1 85.7h0.6v0.6h-0.6zM427.1 53.6h0.6v0.6h-0.6zM436.5 45.7h0.6v0.6h-0.6zM421.1 38.2h0.6v0.6h-0.6zM422.2 56.6h0.6v0.6h-0.6zM429.1 40.2h0.6v0.6h-0.6zM408.3 92.8h0.6v0.6h-0.6zM394.3 94.4h0.6v0.6h-0.6zM418.8 75.5h0.6v0.6h-0.6zM420.9 58.1h0.6v0.6h-0.6zM418.8 39.9h0.6v0.6h-0.6zM407.3 88.6h0.6v0.6h-0.6zM433.5 40.4h0.6v0.6h-0.6zM387.3 52.4h0.6v0.6h-0.6zM396.7 93.1h0.6v0.6h-0.6zM411.1 76.8h0.6v0.6h-0.6zM409.3 37.6h0.6v0.6h-0.6zM416.1 79.8h0.6v0.6h-0.6zM430.1 54.2h0.6v0.6h-0.6zM419.9 38.8h0.6v0.6h-0.6zM435.6 46.2h0.6v0.6h-0.6zM412.7 40.8h0.6v0.6h-0.6zM394.0 35.8h0.6v0.6h-0.6zM412.4 70.4h0.6v0.6h-0.6zM417.3 84.6h0.6v0.6h-0.6zM434.4 45.6h0.6v0.6h-0.6zM399.9 95.3h0.6v0.6h-0.6zM394.1 95.0h0.6v0.6h-0.6zM404.5 86.6h0.6v0.6h-0.6zM431.5 52.7h0.6v0.6h-0.6zM387.0 58.7h0.6v0.6h-0.6zM400.7 90.5h0.6v0.6h-0.6zM406.1 83.9h0.6v0.6h-0.6zM412.6 41.1h0.6v0.6h-0.6zM386.9 67.0h0.6v0.6h-0.6zM388.7 71.0h0.6v0.6h-0.6zM432.3 48.1h0.6v0.6h-0.6zM394.2 36.6h0.6v0.6h-0.6zM407.6 93.7h0.6v0.6h-0.6zM417.9 77.0h0.6v0.6h-0.6zM410.4 74.9h0.6v0.6h-0.6zM393.7 85.8h0.6v0.6h-0.6zM411.5 77.3h0.6v0.6h-0.6zM386.2 55.6h0.6v0.6h-0.6zM413.3 86.7h0.6v0.6h-0.6zM436.2 46.4h0.6v0.6h-0.6zM387.5 75.7h0.6v0.6h-0.6zM387.7 37.2h0.6v0.6h-0.6zM405.6 91.9h0.6v0.6h-0.6zM405.7 95.6h0.6v0.6h-0.6zM395.3 36.9h0.6v0.6h-0.6zM409.5 81.7h0.6v0.6h-0.6zM413.9 78.3h0.6v0.6h-0.6zM405.2 90.4h0.6v0.6h-0.6zM423.4 56.6h0.6v0.6h-0.6zM387.3 66.8h0.6v0.6h-0.6zM395.2 91.2h0.6v0.6h-0.6zM413.3 68.6h0.6v0.6h-0.6zM406.9 93.8h0.6v0.6h-0.6zM434.4 42.2h0.6v0.6h-0.6zM402.2 37.1h0.6v0.6h-0.6zM386.7 36.8h0.6v0.6h-0.6zM407.3 88.3h0.6v0.6h-0.6zM423.2 57.3h0.6v0.6h-0.6zM417.1 58.7h0.6v0.6h-0.6zM389.1 75.9h0.6v0.6h-0.6zM388.4 73.2h0.6v0.6h-0.6zM392.1 35.0h0.6v0.6h-0.6zM412.8 38.8h0.6v0.6h-0.6zM427.7 54.9h0.6v0.6h-0.6zM387.3 65.2h0.6v0.6h-0.6zM412.9 40.1h0.6v0.6h-0.6zM412.6 39.3h0.6v0.6h-0.6zM413.3 40.1h0.6v0.6h-0.6zM410.0 37.6h0.6v0.6h-0.6zM411.0 75.0h0.6v0.6h-0.6zM387.4 66.2h0.6v0.6h-0.6zM410.5 80.4h0.6v0.6h-0.6zM408.8 85.4h0.6v0.6h-0.6zM418.6 57.8h0.6v0.6h-0.6zM394.3 92.9h0.6v0.6h-0.6zM402.3 37.3h0.6v0.6h-0.6zM414.3 88.5h0.6v0.6h-0.6zM413.2 71.6h0.6v0.6h-0.6zM403.9 37.1h0.6v0.6h-0.6zM423.5 59.2h0.6v0.6h-0.6zM393.1 84.7h0.6v0.6h-0.6zM386.4 39.8h0.6v0.6h-0.6zM406.8 82.3h0.6v0.6h-0.6zM397.6 36.1h0.6v0.6h-0.6zM387.0 55.6h0.6v0.6h-0.6zM414.0 65.9h0.6v0.6h-0.6zM386.7 59.7h0.6v0.6h-0.6zM405.8 89.0h0.6v0.6h-0.6zM414.2 70.5h0.6v0.6h-0.6zM389.9 78.4h0.6v0.6h-0.6zM406.6 84.7h0.6v0.6h-0.6zM413.8 66.3h0.6v0.6h-0.6zM422.0 38.3h0.6v0.6h-0.6zM415.2 71.3h0.6v0.6h-0.6zM387.4 73.4h0.6v0.6h-0.6zM404.7 36.8h0.6v0.6h-0.6zM421.7 38.7h0.6v0.6h-0.6zM405.4 85.7h0.6v0.6h-0.6zM418.3 58.3h0.6v0.6h-0.6zM393.3 86.2h0.6v0.6h-0.6zM428.6 36.3h0.6v0.6h-0.6zM387.6 71.3h0.6v0.6h-0.6zM411.2 76.7h0.6v0.6h-0.6zM405.8 89.6h0.6v0.6h-0.6zM386.0 49.6h0.6v0.6h-0.6zM408.4 85.4h0.6v0.6h-0.6zM421.2 56.9h0.6v0.6h-0.6zM414.6 89.9h0.6v0.6h-0.6zM398.2 87.6h0.6v0.6h-0.6zM387.1 57.6h0.6v0.6h-0.6zM386.9 45.0h0.6v0.6h-0.6zM413.5 89.9h0.6v0.6h-0.6zM410.8 84.1h0.6v0.6h-0.6zM409.9 78.2h0.6v0.6h-0.6zM415.4 60.3h0.6v0.6h-0.6zM408.0 37.3h0.6v0.6h-0.6zM390.7 82.2h0.6v0.6h-0.6zM397.6 89.1h0.6v0.6h-0.6zM388.5 36.5h0.6v0.6h-0.6zM411.0 75.7h0.6v0.6h-0.6zM423.8 37.7h0.6v0.6h-0.6zM415.9 39.7h0.6v0.6h-0.6zM416.1 68.8h0.6v0.6h-0.6zM414.8 89.7h0.6v0.6h-0.6zM427.2 54.1h0.6v0.6h-0.6zM390.9 83.0h0.6v0.6h-0.6zM419.5 57.9h0.6v0.6h-0.6zM411.9 72.9h0.6v0.6h-0.6zM387.6 79.1h0.6v0.6h-0.6zM433.0 47.2h0.6v0.6h-0.6zM386.8 44.4h0.6v0.6h-0.6zM405.4 87.0h0.6v0.6h-0.6zM416.4 65.9h0.6v0.6h-0.6zM390.0 82.0h0.6v0.6h-0.6zM420.3 67.8h0.6v0.6h-0.6zM415.6 69.4h0.6v0.6h-0.6zM404.8 91.3h0.6v0.6h-0.6zM386.5 52.8h0.6v0.6h-0.6zM427.5 54.5h0.6v0.6h-0.6zM391.7 83.3h0.6v0.6h-0.6zM387.4 36.1h0.6v0.6h-0.6zM395.5 37.2h0.6v0.6h-0.6zM402.0 37.6h0.6v0.6h-0.6zM387.8 69.0h0.6v0.6h-0.6zM415.5 71.1h0.6v0.6h-0.6zM385.8 63.7h0.6v0.6h-0.6zM395.1 87.0h0.6v0.6h-0.6zM388.6 59.0h0.6v0.6h-0.6zM387.2 57.0h0.6v0.6h-0.6zM412.4 82.6h0.6v0.6h-0.6zM414.1 37.6h0.6v0.6h-0.6zM430.1 51.1h0.6v0.6h-0.6zM386.8 62.5h0.6v0.6h-0.6zM413.7 67.7h0.6v0.6h-0.6zM418.6 38.7h0.6v0.6h-0.6zM432.3 40.6h0.6v0.6h-0.6zM435.3 41.5h0.6v0.6h-0.6zM420.5 36.9h0.6v0.6h-0.6zM411.3 88.2h0.6v0.6h-0.6zM417.0 39.7h0.6v0.6h-0.6zM390.4 94.1h0.6v0.6h-0.6zM413.0 70.3h0.6v0.6h-0.6zM417.2 62.0h0.6v0.6h-0.6zM429.9 36.8h0.6v0.6h-0.6zM410.3 89.0h0.6v0.6h-0.6zM411.8 74.1h0.6v0.6h-0.6zM396.0 88.0h0.6v0.6h-0.6zM434.4 40.2h0.6v0.6h-0.6zM432.5 39.4h0.6v0.6h-0.6zM434.8 41.4h0.6v0.6h-0.6zM405.6 91.6h0.6v0.6h-0.6zM389.0 35.6h0.6v0.6h-0.6zM389.7 73.7h0.6v0.6h-0.6zM386.6 37.1h0.6v0.6h-0.6zM411.7 88.8h0.6v0.6h-0.6zM423.5 38.3h0.6v0.6h-0.6zM413.8 38.8h0.6v0.6h-0.6zM415.0 63.2h0.6v0.6h-0.6zM427.9 56.3h0.6v0.6h-0.6zM409.0 35.6h0.6v0.6h-0.6zM416.5 59.5h0.6v0.6h-0.6zM405.8 91.1h0.6v0.6h-0.6zM413.3 63.4h0.6v0.6h-0.6zM388.4 35.6h0.6v0.6h-0.6zM429.4 52.7h0.6v0.6h-0.6zM413.0 76.4h0.6v0.6h-0.6zM396.6 87.5h0.6v0.6h-0.6zM404.5 92.1h0.6v0.6h-0.6zM405.0 90.9h0.6v0.6h-0.6zM386.6 36.6h0.6v0.6h-0.6zM400.7 90.0h0.6v0.6h-0.6zM429.9 55.4h0.6v0.6h-0.6zM387.2 49.9h0.6v0.6h-0.6zM387.0 45.6h0.6v0.6h-0.6zM435.1 41.3h0.6v0.6h-0.6zM412.7 73.2h0.6v0.6h-0.6zM433.9 45.7h0.6v0.6h-0.6zM405.9 86.1h0.6v0.6h-0.6zM422.2 56.8h0.6v0.6h-0.6zM387.4 59.0h0.6v0.6h-0.6zM387.0 43.4h0.6v0.6h-0.6zM406.3 83.8h0.6v0.6h-0.6zM410.5 81.2h0.6v0.6h-0.6zM390.4 78.8h0.6v0.6h-0.6zM425.0 38.6h0.6v0.6h-0.6zM417.8 40.6h0.6v0.6h-0.6zM387.4 46.6h0.6v0.6h-0.6zM419.2 58.8h0.6v0.6h-0.6zM387.0 55.3h0.6v0.6h-0.6zM413.6 88.9h0.6v0.6h-0.6zM386.0 56.8h0.6v0.6h-0.6zM396.0 86.7h0.6v0.6h-0.6zM386.2 62.5h0.6v0.6h-0.6zM414.0 74.8h0.6v0.6h-0.6zM396.8 94.1h0.6v0.6h-0.6zM431.9 38.5h0.6v0.6h-0.6zM391.0 35.8h0.6v0.6h-0.6zM395.9 94.1h0.6v0.6h-0.6zM400.0 86.4h0.6v0.6h-0.6zM387.3 51.9h0.6v0.6h-0.6zM386.9 47.2h0.6v0.6h-0.6zM409.3 37.5h0.6v0.6h-0.6zM413.8 66.9h0.6v0.6h-0.6zM415.5 61.0h0.6v0.6h-0.6zM410.1 81.8h0.6v0.6h-0.6zM418.1 84.6h0.6v0.6h-0.6zM410.5 79.3h0.6v0.6h-0.6zM437.5 45.0h0.6v0.6h-0.6zM404.1 88.8h0.6v0.6h-0.6zM413.2 74.8h0.6v0.6h-0.6zM415.3 79.0h0.6v0.6h-0.6zM433.1 45.1h0.6v0.6h-0.6zM418.2 60.9h0.6v0.6h-0.6zM434.0 52.2h0.6v0.6h-0.6zM406.7 87.8h0.6v0.6h-0.6zM411.6 92.7h0.6v0.6h-0.6zM410.6 82.5h0.6v0.6h-0.6zM398.5 93.2h0.6v0.6h-0.6zM429.1 39.9h0.6v0.6h-0.6zM387.3 62.8h0.6v0.6h-0.6zM398.7 87.5h0.6v0.6h-0.6zM387.0 42.4h0.6v0.6h-0.6zM389.0 73.3h0.6v0.6h-0.6zM401.0 91.4h0.6v0.6h-0.6zM414.3 40.0h0.6v0.6h-0.6zM387.4 62.8h0.6v0.6h-0.6zM390.7 76.0h0.6v0.6h-0.6zM400.6 85.3h0.6v0.6h-0.6zM392.8 85.6h0.6v0.6h-0.6zM422.7 39.1h0.6v0.6h-0.6zM387.1 49.5h0.6v0.6h-0.6zM418.2 39.5h0.6v0.6h-0.6zM407.1 95.0h0.6v0.6h-0.6zM393.2 84.3h0.6v0.6h-0.6zM406.7 86.0h0.6v0.6h-0.6zM430.6 39.5h0.6v0.6h-0.6zM389.8 83.3h0.6v0.6h-0.6zM413.3 41.7h0.6v0.6h-0.6zM411.7 76.9h0.6v0.6h-0.6zM399.2 90.2h0.6v0.6h-0.6zM416.4 82.1h0.6v0.6h-0.6zM404.4 36.8h0.6v0.6h-0.6zM387.4 53.9h0.6v0.6h-0.6zM407.4 35.7h0.6v0.6h-0.6zM417.4 37.8h0.6v0.6h-0.6zM387.9 63.6h0.6v0.6h-0.6zM415.7 84.9h0.6v0.6h-0.6zM386.8 51.7h0.6v0.6h-0.6zM396.3 36.9h0.6v0.6h-0.6zM398.1 88.7h0.6v0.6h-0.6zM413.3 64.1h0.6v0.6h-0.6zM388.9 37.0h0.6v0.6h-0.6zM404.5 34.6h0.6v0.6h-0.6zM414.8 68.4h0.6v0.6h-0.6zM390.7 83.6h0.6v0.6h-0.6zM416.3 36.9h0.6v0.6h-0.6zM419.5 38.6h0.6v0.6h-0.6zM411.2 74.4h0.6v0.6h-0.6zM409.9 37.8h0.6v0.6h-0.6zM389.2 72.3h0.6v0.6h-0.6zM387.2 71.0h0.6v0.6h-0.6zM408.5 83.3h0.6v0.6h-0.6zM399.3 93.7h0.6v0.6h-0.6zM419.6 66.3h0.6v0.6h-0.6zM414.9 90.5h0.6v0.6h-0.6zM414.8 63.3h0.6v0.6h-0.6zM428.0 52.9h0.6v0.6h-0.6zM417.0 61.5h0.6v0.6h-0.6zM398.0 90.6h0.6v0.6h-0.6zM418.4 57.9h0.6v0.6h-0.6zM433.9 43.3h0.6v0.6h-0.6zM387.1 51.8h0.6v0.6h-0.6zM405.7 94.3h0.6v0.6h-0.6zM396.0 36.0h0.6v0.6h-0.6zM386.9 68.6h0.6v0.6h-0.6zM429.7 53.0h0.6v0.6h-0.6zM431.5 50.5h0.6v0.6h-0.6zM421.9 55.8h0.6v0.6h-0.6zM405.9 38.1h0.6v0.6h-0.6zM400.8 37.5h0.6v0.6h-0.6zM398.1 35.6h0.6v0.6h-0.6zM404.1 92.8h0.6v0.6h-0.6zM405.0 36.7h0.6v0.6h-0.6zM408.7 81.3h0.6v0.6h-0.6zM395.1 85.5h0.6v0.6h-0.6zM418.1 39.8h0.6v0.6h-0.6zM405.9 85.0h0.6v0.6h-0.6zM391.1 35.1h0.6v0.6h-0.6zM397.0 89.0h0.6v0.6h-0.6zM400.3 85.6h0.6v0.6h-0.6zM434.3 39.8h0.6v0.6h-0.6zM395.0 94.5h0.6v0.6h-0.6zM389.0 73.1h0.6v0.6h-0.6zM390.4 76.0h0.6v0.6h-0.6zM414.9 71.6h0.6v0.6h-0.6zM412.2 85.6h0.6v0.6h-0.6zM419.2 39.3h0.6v0.6h-0.6zM386.3 62.2h0.6v0.6h-0.6zM418.4 74.4h0.6v0.6h-0.6zM400.9 94.5h0.6v0.6h-0.6zM387.3 48.5h0.6v0.6h-0.6zM390.7 82.8h0.6v0.6h-0.6zM434.5 48.3h0.6v0.6h-0.6zM419.2 58.0h0.6v0.6h-0.6zM386.8 58.1h0.6v0.6h-0.6zM415.3 73.4h0.6v0.6h-0.6zM410.6 74.9h0.6v0.6h-0.6zM422.4 38.9h0.6v0.6h-0.6zM430.9 51.1h0.6v0.6h-0.6zM414.8 76.3h0.6v0.6h-0.6zM435.2 50.1h0.6v0.6h-0.6zM414.9 61.2h0.6v0.6h-0.6zM415.4 65.8h0.6v0.6h-0.6zM412.8 41.3h0.6v0.6h-0.6zM432.7 49.9h0.6v0.6h-0.6zM386.2 55.0h0.6v0.6h-0.6zM420.1 57.1h0.6v0.6h-0.6zM433.8 41.2h0.6v0.6h-0.6zM430.7 37.4h0.6v0.6h-0.6zM430.0 40.1h0.6v0.6h-0.6zM407.5 86.2h0.6v0.6h-0.6zM419.4 57.6h0.6v0.6h-0.6zM409.8 84.4h0.6v0.6h-0.6zM420.4 61.3h0.6v0.6h-0.6zM435.4 48.1h0.6v0.6h-0.6zM418.6 59.0h0.6v0.6h-0.6zM399.6 87.1h0.6v0.6h-0.6zM403.4 37.6h0.6v0.6h-0.6zM416.8 59.2h0.6v0.6h-0.6zM430.8 39.2h0.6v0.6h-0.6zM411.8 79.0h0.6v0.6h-0.6zM398.4 90.5h0.6v0.6h-0.6zM421.9 56.5h0.6v0.6h-0.6zM416.2 63.5h0.6v0.6h-0.6zM385.8 42.3h0.6v0.6h-0.6zM396.2 86.7h0.6v0.6h-0.6zM413.9 74.4h0.6v0.6h-0.6zM412.0 74.3h0.6v0.6h-0.6zM386.0 43.0h0.6v0.6h-0.6zM405.0 87.8h0.6v0.6h-0.6zM416.0 64.6h0.6v0.6h-0.6zM417.6 38.8h0.6v0.6h-0.6zM400.7 91.2h0.6v0.6h-0.6zM405.9 88.5h0.6v0.6h-0.6zM386.3 38.1h0.6v0.6h-0.6zM429.2 37.9h0.6v0.6h-0.6zM411.4 80.6h0.6v0.6h-0.6zM408.8 80.6h0.6v0.6h-0.6zM393.8 85.0h0.6v0.6h-0.6zM406.7 88.5h0.6v0.6h-0.6zM417.4 39.4h0.6v0.6h-0.6zM431.7 50.4h0.6v0.6h-0.6zM405.4 37.9h0.6v0.6h-0.6zM397.7 36.6h0.6v0.6h-0.6zM415.1 39.8h0.6v0.6h-0.6zM385.9 43.5h0.6v0.6h-0.6zM404.9 35.8h0.6v0.6h-0.6zM411.5 81.5h0.6v0.6h-0.6zM419.5 63.2h0.6v0.6h-0.6zM386.8 49.9h0.6v0.6h-0.6zM399.6 37.0h0.6v0.6h-0.6zM426.8 39.2h0.6v0.6h-0.6zM410.6 78.9h0.6v0.6h-0.6zM416.7 68.3h0.6v0.6h-0.6zM386.9 59.3h0.6v0.6h-0.6zM411.2 78.8h0.6v0.6h-0.6zM407.0 82.5h0.6v0.6h-0.6zM392.1 37.2h0.6v0.6h-0.6zM411.3 38.4h0.6v0.6h-0.6zM386.7 49.3h0.6v0.6h-0.6zM388.3 60.0h0.6v0.6h-0.6zM405.7 85.5h0.6v0.6h-0.6zM392.9 89.6h0.6v0.6h-0.6zM387.6 61.0h0.6v0.6h-0.6zM417.4 39.7h0.6v0.6h-0.6zM427.0 54.7h0.6v0.6h-0.6zM401.6 36.1h0.6v0.6h-0.6zM418.2 63.2h0.6v0.6h-0.6zM420.5 71.6h0.6v0.6h-0.6zM432.3 48.4h0.6v0.6h-0.6zM401.6 36.6h0.6v0.6h-0.6zM413.1 41.6h0.6v0.6h-0.6zM404.8 37.9h0.6v0.6h-0.6zM425.7 54.7h0.6v0.6h-0.6zM388.1 71.4h0.6v0.6h-0.6zM416.8 60.0h0.6v0.6h-0.6zM389.3 74.2h0.6v0.6h-0.6zM411.0 75.8h0.6v0.6h-0.6zM411.6 78.2h0.6v0.6h-0.6zM398.7 35.1h0.6v0.6h-0.6zM389.2 71.2h0.6v0.6h-0.6zM412.6 39.3h0.6v0.6h-0.6zM386.4 37.9h0.6v0.6h-0.6zM423.1 56.0h0.6v0.6h-0.6zM404.0 87.4h0.6v0.6h-0.6zM419.5 65.7h0.6v0.6h-0.6zM407.7 87.1h0.6v0.6h-0.6zM434.4 39.1h0.6v0.6h-0.6zM413.6 67.4h0.6v0.6h-0.6zM387.2 58.3h0.6v0.6h-0.6zM389.1 35.9h0.6v0.6h-0.6zM417.8 40.1h0.6v0.6h-0.6zM405.9 90.1h0.6v0.6h-0.6zM386.7 41.7h0.6v0.6h-0.6zM409.5 94.8h0.6v0.6h-0.6zM408.7 86.3h0.6v0.6h-0.6zM423.5 38.7h0.6v0.6h-0.6zM414.6 64.3h0.6v0.6h-0.6zM411.6 72.4h0.6v0.6h-0.6zM427.1 55.6h0.6v0.6h-0.6zM396.3 93.9h0.6v0.6h-0.6zM386.1 47.2h0.6v0.6h-0.6zM403.2 94.6h0.6v0.6h-0.6zM429.6 52.2h0.6v0.6h-0.6zM404.5 86.9h0.6v0.6h-0.6zM391.1 81.5h0.6v0.6h-0.6zM433.0 52.4h0.6v0.6h-0.6zM432.3 37.4h0.6v0.6h-0.6zM414.6 65.3h0.6v0.6h-0.6zM428.8 38.8h0.6v0.6h-0.6zM416.2 64.0h0.6v0.6h-0.6zM385.8 41.2h0.6v0.6h-0.6zM417.2 59.7h0.6v0.6h-0.6zM429.5 54.3h0.6v0.6h-0.6zM418.9 58.9h0.6v0.6h-0.6zM399.1 36.1h0.6v0.6h-0.6zM405.2 91.1h0.6v0.6h-0.6zM386.2 44.9h0.6v0.6h-0.6zM415.4 67.4h0.6v0.6h-0.6zM387.3 63.0h0.6v0.6h-0.6zM434.4 43.6h0.6v0.6h-0.6zM396.1 89.1h0.6v0.6h-0.6zM387.4 36.9h0.6v0.6h-0.6zM415.4 71.1h0.6v0.6h-0.6zM386.8 53.7h0.6v0.6h-0.6zM393.9 85.2h0.6v0.6h-0.6zM403.6 89.7h0.6v0.6h-0.6zM436.2 45.1h0.6v0.6h-0.6zM389.2 73.1h0.6v0.6h-0.6zM403.0 87.6h0.6v0.6h-0.6zM426.5 38.5h0.6v0.6h-0.6zM425.1 56.3h0.6v0.6h-0.6zM416.0 61.8h0.6v0.6h-0.6zM410.1 89.8h0.6v0.6h-0.6zM416.6 67.9h0.6v0.6h-0.6zM402.0 85.8h0.6v0.6h-0.6zM386.3 65.0h0.6v0.6h-0.6zM408.1 85.6h0.6v0.6h-0.6zM432.3 49.6h0.6v0.6h-0.6zM414.8 91.9h0.6v0.6h-0.6zM396.8 88.1h0.6v0.6h-0.6zM424.5 38.9h0.6v0.6h-0.6zM415.7 60.1h0.6v0.6h-0.6zM389.6 81.3h0.6v0.6h-0.6zM390.4 78.5h0.6v0.6h-0.6zM415.9 91.0h0.6v0.6h-0.6zM387.2 43.4h0.6v0.6h-0.6zM399.5 92.0h0.6v0.6h-0.6zM412.9 81.5h0.6v0.6h-0.6zM433.1 40.5h0.6v0.6h-0.6zM399.2 87.0h0.6v0.6h-0.6zM388.4 81.0h0.6v0.6h-0.6zM406.7 86.1h0.6v0.6h-0.6zM431.2 50.1h0.6v0.6h-0.6zM418.4 83.6h0.6v0.6h-0.6zM424.7 57.5h0.6v0.6h-0.6zM413.6 39.3h0.6v0.6h-0.6zM422.7 55.8h0.6v0.6h-0.6zM403.2 87.7h0.6v0.6h-0.6zM410.0 83.8h0.6v0.6h-0.6zM406.9 86.3h0.6v0.6h-0.6zM389.9 35.5h0.6v0.6h-0.6zM414.2 67.2h0.6v0.6h-0.6zM387.5 45.9h0.6v0.6h-0.6zM423.8 55.0h0.6v0.6h-0.6zM389.4 35.2h0.6v0.6h-0.6zM419.7 79.8h0.6v0.6h-0.6zM434.2 52.3h0.6v0.6h-0.6zM418.0 78.1h0.6v0.6h-0.6zM389.4 35.8h0.6v0.6h-0.6zM435.3 41.3h0.6v0.6h-0.6zM411.7 71.9h0.6v0.6h-0.6zM430.7 51.4h0.6v0.6h-0.6zM416.2 59.2h0.6v0.6h-0.6zM418.9 59.4h0.6v0.6h-0.6zM385.9 50.1h0.6v0.6h-0.6zM410.1 76.5h0.6v0.6h-0.6zM387.1 63.7h0.6v0.6h-0.6zM413.0 65.3h0.6v0.6h-0.6zM391.2 35.9h0.6v0.6h-0.6zM392.3 36.2h0.6v0.6h-0.6zM432.3 52.6h0.6v0.6h-0.6zM413.2 68.9h0.6v0.6h-0.6zM393.1 35.8h0.6v0.6h-0.6zM437.5 42.9h0.6v0.6h-0.6zM390.5 78.1h0.6v0.6h-0.6zM410.1 79.7h0.6v0.6h-0.6zM412.2 74.3h0.6v0.6h-0.6zM386.4 64.8h0.6v0.6h-0.6zM408.8 86.1h0.6v0.6h-0.6zM408.2 90.1h0.6v0.6h-0.6zM436.2 43.5h0.6v0.6h-0.6zM437.7 41.6h0.6v0.6h-0.6zM387.6 48.2h0.6v0.6h-0.6zM415.7 60.1h0.6v0.6h-0.6zM426.9 38.9h0.6v0.6h-0.6zM409.8 35.1h0.6v0.6h-0.6zM387.2 67.5h0.6v0.6h-0.6zM413.5 95.7h0.6v0.6h-0.6zM409.2 81.6h0.6v0.6h-0.6zM393.5 36.5h0.6v0.6h-0.6zM413.0 92.4h0.6v0.6h-0.6zM413.7 86.3h0.6v0.6h-0.6zM387.7 64.4h0.6v0.6h-0.6zM389.4 34.3h0.6v0.6h-0.6zM434.0 47.8h0.6v0.6h-0.6zM402.9 86.5h0.6v0.6h-0.6zM428.0 53.1h0.6v0.6h-0.6zM389.7 35.9h0.6v0.6h-0.6zM397.8 92.3h0.6v0.6h-0.6zM412.9 68.7h0.6v0.6h-0.6zM394.6 36.8h0.6v0.6h-0.6zM412.3 75.6h0.6v0.6h-0.6zM422.2 56.1h0.6v0.6h-0.6zM425.3 55.2h0.6v0.6h-0.6zM411.6 74.5h0.6v0.6h-0.6zM404.9 90.3h0.6v0.6h-0.6zM405.0 87.7h0.6v0.6h-0.6zM414.5 75.6h0.6v0.6h-0.6zM413.2 74.7h0.6v0.6h-0.6zM389.0 71.0h0.6v0.6h-0.6zM414.0 65.3h0.6v0.6h-0.6zM389.1 70.8h0.6v0.6h-0.6zM397.8 90.5h0.6v0.6h-0.6zM386.3 65.6h0.6v0.6h-0.6zM386.5 45.1h0.6v0.6h-0.6zM401.5 37.3h0.6v0.6h-0.6zM433.9 48.0h0.6v0.6h-0.6zM386.7 49.7h0.6v0.6h-0.6zM433.2 47.4h0.6v0.6h-0.6zM426.8 38.0h0.6v0.6h-0.6zM431.4 39.2h0.6v0.6h-0.6zM429.8 53.8h0.6v0.6h-0.6zM415.5 65.9h0.6v0.6h-0.6zM401.1 85.7h0.6v0.6h-0.6zM411.0 35.6h0.6v0.6h-0.6zM412.5 41.1h0.6v0.6h-0.6zM405.6 88.0h0.6v0.6h-0.6zM397.8 90.9h0.6v0.6h-0.6zM386.5 52.1h0.6v0.6h-0.6zM412.6 68.9h0.6v0.6h-0.6zM421.8 39.0h0.6v0.6h-0.6zM424.3 54.9h0.6v0.6h-0.6zM415.2 79.1h0.6v0.6h-0.6zM415.3 92.3h0.6v0.6h-0.6zM391.3 36.0h0.6v0.6h-0.6zM434.0 44.1h0.6v0.6h-0.6zM396.1 93.2h0.6v0.6h-0.6zM390.5 76.4h0.6v0.6h-0.6zM411.5 91.2h0.6v0.6h-0.6zM418.9 37.7h0.6v0.6h-0.6zM387.0 50.5h0.6v0.6h-0.6zM412.2 82.3h0.6v0.6h-0.6zM403.7 87.5h0.6v0.6h-0.6zM387.7 46.9h0.6v0.6h-0.6zM409.8 77.4h0.6v0.6h-0.6zM397.5 93.2h0.6v0.6h-0.6zM413.2 77.4h0.6v0.6h-0.6zM394.1 89.7h0.6v0.6h-0.6zM400.2 86.0h0.6v0.6h-0.6zM422.9 58.5h0.6v0.6h-0.6zM410.8 83.7h0.6v0.6h-0.6zM418.1 63.5h0.6v0.6h-0.6zM407.2 38.0h0.6v0.6h-0.6zM399.0 34.8h0.6v0.6h-0.6zM411.6 76.4h0.6v0.6h-0.6zM390.9 36.1h0.6v0.6h-0.6zM415.2 62.5h0.6v0.6h-0.6zM411.4 78.9h0.6v0.6h-0.6zM406.0 93.4h0.6v0.6h-0.6zM418.5 59.5h0.6v0.6h-0.6zM403.1 88.3h0.6v0.6h-0.6zM415.9 66.0h0.6v0.6h-0.6zM405.9 33.3h0.6v0.6h-0.6zM396.2 87.4h0.6v0.6h-0.6zM426.1 38.7h0.6v0.6h-0.6zM402.1 93.4h0.6v0.6h-0.6zM394.7 87.9h0.6v0.6h-0.6zM407.4 36.2h0.6v0.6h-0.6zM392.2 84.3h0.6v0.6h-0.6zM415.9 73.2h0.6v0.6h-0.6zM418.5 39.6h0.6v0.6h-0.6zM418.4 68.0h0.6v0.6h-0.6zM386.0 57.6h0.6v0.6h-0.6zM386.8 44.4h0.6v0.6h-0.6zM407.3 82.4h0.6v0.6h-0.6zM402.7 87.5h0.6v0.6h-0.6zM416.1 66.9h0.6v0.6h-0.6zM417.8 67.2h0.6v0.6h-0.6zM386.0 42.5h0.6v0.6h-0.6zM387.6 62.9h0.6v0.6h-0.6zM407.2 84.2h0.6v0.6h-0.6zM386.8 70.5h0.6v0.6h-0.6zM415.2 66.7h0.6v0.6h-0.6zM399.9 35.1h0.6v0.6h-0.6zM417.0 71.5h0.6v0.6h-0.6zM395.4 87.2h0.6v0.6h-0.6zM386.0 55.9h0.6v0.6h-0.6zM398.4 36.3h0.6v0.6h-0.6zM414.6 64.9h0.6v0.6h-0.6zM403.4 91.2h0.6v0.6h-0.6zM403.6 93.2h0.6v0.6h-0.6zM389.2 74.6h0.6v0.6h-0.6zM430.3 50.9h0.6v0.6h-0.6zM412.7 41.1h0.6v0.6h-0.6zM401.6 93.7h0.6v0.6h-0.6zM417.7 40.1h0.6v0.6h-0.6zM408.0 82.5h0.6v0.6h-0.6zM428.0 39.4h0.6v0.6h-0.6zM413.5 64.4h0.6v0.6h-0.6zM400.5 94.8h0.6v0.6h-0.6zM433.3 38.5h0.6v0.6h-0.6zM415.6 61.7h0.6v0.6h-0.6zM413.3 68.2h0.6v0.6h-0.6zM416.1 84.8h0.6v0.6h-0.6zM399.1 89.4h0.6v0.6h-0.6zM390.4 83.6h0.6v0.6h-0.6zM388.7 35.8h0.6v0.6h-0.6zM400.3 85.7h0.6v0.6h-0.6zM386.6 54.4h0.6v0.6h-0.6zM407.5 37.1h0.6v0.6h-0.6zM390.4 82.5h0.6v0.6h-0.6zM389.4 73.7h0.6v0.6h-0.6zM386.8 66.0h0.6v0.6h-0.6zM396.1 87.7h0.6v0.6h-0.6zM405.9 85.2h0.6v0.6h-0.6zM402.2 91.2h0.6v0.6h-0.6zM436.1 40.1h0.6v0.6h-0.6zM401.8 92.1h0.6v0.6h-0.6zM414.9 38.8h0.6v0.6h-0.6zM425.5 54.2h0.6v0.6h-0.6zM392.3 84.9h0.6v0.6h-0.6zM417.0 59.2h0.6v0.6h-0.6zM387.8 73.9h0.6v0.6h-0.6zM416.6 92.2h0.6v0.6h-0.6zM414.8 63.5h0.6v0.6h-0.6zM386.1 44.9h0.6v0.6h-0.6zM395.4 36.7h0.6v0.6h-0.6zM405.2 87.0h0.6v0.6h-0.6zM416.0 63.3h0.6v0.6h-0.6zM418.2 75.8h0.6v0.6h-0.6zM418.9 38.6h0.6v0.6h-0.6zM414.1 62.2h0.6v0.6h-0.6zM385.8 59.4h0.6v0.6h-0.6zM414.2 67.4h0.6v0.6h-0.6zM402.4 95.1h0.6v0.6h-0.6zM407.4 83.5h0.6v0.6h-0.6zM386.4 63.1h0.6v0.6h-0.6zM428.6 53.5h0.6v0.6h-0.6zM434.0 44.0h0.6v0.6h-0.6zM428.2 56.7h0.6v0.6h-0.6zM419.3 39.3h0.6v0.6h-0.6zM410.6 74.4h0.6v0.6h-0.6zM400.7 37.4h0.6v0.6h-0.6zM398.6 95.7h0.6v0.6h-0.6zM417.4 78.7h0.6v0.6h-0.6zM392.6 84.0h0.6v0.6h-0.6zM390.3 79.8h0.6v0.6h-0.6zM429.4 52.7h0.6v0.6h-0.6zM428.6 39.3h0.6v0.6h-0.6zM404.5 94.1h0.6v0.6h-0.6zM407.7 82.9h0.6v0.6h-0.6zM436.4 47.1h0.6v0.6h-0.6zM426.8 39.0h0.6v0.6h-0.6zM407.9 84.2h0.6v0.6h-0.6zM410.1 77.6h0.6v0.6h-0.6zM390.7 78.1h0.6v0.6h-0.6zM406.5 37.1h0.6v0.6h-0.6zM412.7 87.3h0.6v0.6h-0.6zM389.0 78.6h0.6v0.6h-0.6zM386.9 70.5h0.6v0.6h-0.6zM419.6 72.0h0.6v0.6h-0.6zM412.2 37.1h0.6v0.6h-0.6zM386.6 60.1h0.6v0.6h-0.6zM419.5 58.2h0.6v0.6h-0.6zM411.9 92.3h0.6v0.6h-0.6zM402.3 87.8h0.6v0.6h-0.6zM417.1 82.8h0.6v0.6h-0.6zM387.2 57.4h0.6v0.6h-0.6zM419.6 58.0h0.6v0.6h-0.6zM401.2 36.7h0.6v0.6h-0.6zM413.1 68.9h0.6v0.6h-0.6zM421.9 38.8h0.6v0.6h-0.6zM423.9 55.6h0.6v0.6h-0.6zM412.0 70.8h0.6v0.6h-0.6zM414.1 62.0h0.6v0.6h-0.6zM399.2 86.6h0.6v0.6h-0.6zM414.2 72.0h0.6v0.6h-0.6zM408.2 92.1h0.6v0.6h-0.6zM413.4 67.2h0.6v0.6h-0.6zM412.6 39.7h0.6v0.6h-0.6zM387.1 70.3h0.6v0.6h-0.6zM421.7 57.2h0.6v0.6h-0.6zM419.8 56.9h0.6v0.6h-0.6zM400.0 37.0h0.6v0.6h-0.6zM411.3 80.3h0.6v0.6h-0.6zM433.8 49.4h0.6v0.6h-0.6zM389.8 74.6h0.6v0.6h-0.6zM388.3 36.3h0.6v0.6h-0.6zM412.9 78.3h0.6v0.6h-0.6zM411.0 87.2h0.6v0.6h-0.6zM387.1 43.0h0.6v0.6h-0.6zM432.2 49.6h0.6v0.6h-0.6zM395.3 86.0h0.6v0.6h-0.6zM417.0 68.1h0.6v0.6h-0.6zM410.6 81.4h0.6v0.6h-0.6zM413.5 40.8h0.6v0.6h-0.6zM403.9 92.6h0.6v0.6h-0.6zM400.9 85.5h0.6v0.6h-0.6zM423.0 38.7h0.6v0.6h-0.6zM430.7 52.1h0.6v0.6h-0.6zM407.3 36.8h0.6v0.6h-0.6zM389.9 37.7h0.6v0.6h-0.6zM407.0 38.1h0.6v0.6h-0.6zM428.2 54.5h0.6v0.6h-0.6zM387.7 65.1h0.6v0.6h-0.6zM429.9 39.5h0.6v0.6h-0.6zM422.2 39.1h0.6v0.6h-0.6zM416.9 73.3h0.6v0.6h-0.6zM414.9 72.0h0.6v0.6h-0.6zM395.2 88.8h0.6v0.6h-0.6zM411.9 75.1h0.6v0.6h-0.6zM417.4 59.2h0.6v0.6h-0.6zM411.6 88.7h0.6v0.6h-0.6zM413.0 76.6h0.6v0.6h-0.6zM434.7 47.3h0.6v0.6h-0.6zM397.1 37.0h0.6v0.6h-0.6zM412.0 75.1h0.6v0.6h-0.6zM402.4 92.4h0.6v0.6h-0.6zM387.6 36.4h0.6v0.6h-0.6zM399.7 95.7h0.6v0.6h-0.6zM387.7 64.5h0.6v0.6h-0.6zM397.0 36.0h0.6v0.6h-0.6zM412.0 70.2h0.6v0.6h-0.6zM386.8 44.4h0.6v0.6h-0.6zM415.7 39.9h0.6v0.6h-0.6zM387.1 61.8h0.6v0.6h-0.6zM385.9 64.8h0.6v0.6h-0.6zM397.0 89.0h0.6v0.6h-0.6zM429.5 52.4h0.6v0.6h-0.6zM407.6 83.1h0.6v0.6h-0.6zM423.9 57.7h0.6v0.6h-0.6zM411.9 37.7h0.6v0.6h-0.6zM406.2 90.7h0.6v0.6h-0.6zM405.8 33.3h0.6v0.6h-0.6zM386.2 42.6h0.6v0.6h-0.6zM386.6 40.7h0.6v0.6h-0.6zM396.7 90.8h0.6v0.6h-0.6zM391.5 34.6h0.6v0.6h-0.6zM404.6 87.1h0.6v0.6h-0.6zM388.6 82.6h0.6v0.6h-0.6zM388.1 37.5h0.6v0.6h-0.6zM388.1 60.4h0.6v0.6h-0.6zM418.0 39.0h0.6v0.6h-0.6zM417.0 72.7h0.6v0.6h-0.6zM387.8 37.6h0.6v0.6h-0.6zM419.0 39.8h0.6v0.6h-0.6zM402.8 37.7h0.6v0.6h-0.6zM397.7 36.9h0.6v0.6h-0.6zM403.5 37.7h0.6v0.6h-0.6zM397.0 37.2h0.6v0.6h-0.6zM412.6 76.7h0.6v0.6h-0.6zM412.7 68.5h0.6v0.6h-0.6zM403.0 86.6h0.6v0.6h-0.6zM389.6 37.6h0.6v0.6h-0.6zM404.1 87.4h0.6v0.6h-0.6zM395.9 91.9h0.6v0.6h-0.6zM423.6 55.0h0.6v0.6h-0.6zM414.3 37.9h0.6v0.6h-0.6zM433.6 44.9h0.6v0.6h-0.6zM416.4 63.5h0.6v0.6h-0.6zM418.2 58.9h0.6v0.6h-0.6zM412.3 90.4h0.6v0.6h-0.6zM413.6 73.4h0.6v0.6h-0.6zM418.0 82.4h0.6v0.6h-0.6zM430.9 50.3h0.6v0.6h-0.6zM386.9 41.9h0.6v0.6h-0.6zM407.0 38.1h0.6v0.6h-0.6zM431.1 49.8h0.6v0.6h-0.6zM436.6 44.5h0.6v0.6h-0.6zM431.6 38.4h0.6v0.6h-0.6zM387.0 50.8h0.6v0.6h-0.6zM416.1 78.6h0.6v0.6h-0.6zM419.7 38.6h0.6v0.6h-0.6zM433.2 49.3h0.6v0.6h-0.6zM434.1 44.9h0.6v0.6h-0.6zM386.4 60.6h0.6v0.6h-0.6zM411.9 71.1h0.6v0.6h-0.6zM400.7 94.4h0.6v0.6h-0.6zM418.8 57.4h0.6v0.6h-0.6zM387.6 64.2h0.6v0.6h-0.6zM416.4 67.1h0.6v0.6h-0.6zM407.8 37.7h0.6v0.6h-0.6zM409.3 84.6h0.6v0.6h-0.6zM385.8 50.9h0.6v0.6h-0.6zM415.2 60.3h0.6v0.6h-0.6zM417.6 84.5h0.6v0.6h-0.6zM412.2 72.1h0.6v0.6h-0.6zM435.0 41.6h0.6v0.6h-0.6zM410.2 78.8h0.6v0.6h-0.6zM415.5 71.7h0.6v0.6h-0.6zM392.3 85.1h0.6v0.6h-0.6zM409.7 85.4h0.6v0.6h-0.6zM410.0 38.0h0.6v0.6h-0.6zM418.7 82.6h0.6v0.6h-0.6zM411.8 88.0h0.6v0.6h-0.6zM435.6 40.2h0.6v0.6h-0.6zM408.8 92.3h0.6v0.6h-0.6zM388.4 61.3h0.6v0.6h-0.6zM392.5 83.8h0.6v0.6h-0.6zM432.4 53.0h0.6v0.6h-0.6zM432.0 39.7h0.6v0.6h-0.6zM409.0 81.9h0.6v0.6h-0.6zM433.0 46.9h0.6v0.6h-0.6zM407.4 90.5h0.6v0.6h-0.6zM416.6 90.8h0.6v0.6h-0.6zM391.9 94.2h0.6v0.6h-0.6zM418.4 73.1h0.6v0.6h-0.6zM414.6 63.8h0.6v0.6h-0.6zM389.1 71.2h0.6v0.6h-0.6zM394.8 34.6h0.6v0.6h-0.6zM406.9 84.7h0.6v0.6h-0.6zM422.1 56.2h0.6v0.6h-0.6zM390.9 80.9h0.6v0.6h-0.6zM414.5 39.8h0.6v0.6h-0.6zM387.4 46.7h0.6v0.6h-0.6zM387.1 49.4h0.6v0.6h-0.6zM389.4 34.4h0.6v0.6h-0.6zM392.2 83.7h0.6v0.6h-0.6zM401.7 87.6h0.6v0.6h-0.6zM386.1 48.4h0.6v0.6h-0.6zM422.8 55.7h0.6v0.6h-0.6zM416.6 39.5h0.6v0.6h-0.6zM423.9 39.0h0.6v0.6h-0.6zM432.2 49.0h0.6v0.6h-0.6zM405.5 85.6h0.6v0.6h-0.6zM389.2 75.8h0.6v0.6h-0.6zM406.2 37.3h0.6v0.6h-0.6zM390.8 93.9h0.6v0.6h-0.6zM434.2 38.1h0.6v0.6h-0.6zM393.8 36.1h0.6v0.6h-0.6zM418.7 62.6h0.6v0.6h-0.6zM387.7 66.1h0.6v0.6h-0.6zM387.6 47.1h0.6v0.6h-0.6zM401.0 86.6h0.6v0.6h-0.6zM414.6 70.9h0.6v0.6h-0.6zM433.8 39.2h0.6v0.6h-0.6zM412.2 95.2h0.6v0.6h-0.6zM414.6 66.2h0.6v0.6h-0.6zM390.2 37.0h0.6v0.6h-0.6zM418.6 75.9h0.6v0.6h-0.6zM389.6 76.3h0.6v0.6h-0.6zM396.6 91.1h0.6v0.6h-0.6zM419.0 37.7h0.6v0.6h-0.6zM386.9 35.3h0.6v0.6h-0.6zM413.8 39.8h0.6v0.6h-0.6zM387.7 36.6h0.6v0.6h-0.6zM394.6 36.1h0.6v0.6h-0.6zM388.6 60.3h0.6v0.6h-0.6zM413.5 64.0h0.6v0.6h-0.6zM415.2 70.0h0.6v0.6h-0.6zM418.1 58.9h0.6v0.6h-0.6zM391.3 82.5h0.6v0.6h-0.6zM413.2 72.0h0.6v0.6h-0.6zM414.8 64.9h0.6v0.6h-0.6zM405.7 87.8h0.6v0.6h-0.6zM415.4 91.9h0.6v0.6h-0.6zM421.3 59.8h0.6v0.6h-0.6zM414.3 69.4h0.6v0.6h-0.6zM412.7 40.7h0.6v0.6h-0.6zM432.3 50.9h0.6v0.6h-0.6zM420.4 62.0h0.6v0.6h-0.6zM400.0 86.6h0.6v0.6h-0.6zM415.0 71.3h0.6v0.6h-0.6zM400.2 93.3h0.6v0.6h-0.6zM407.9 34.0h0.6v0.6h-0.6zM433.7 48.8h0.6v0.6h-0.6zM395.5 36.4h0.6v0.6h-0.6zM404.6 37.3h0.6v0.6h-0.6zM406.9 87.3h0.6v0.6h-0.6zM431.8 50.6h0.6v0.6h-0.6zM421.5 36.4h0.6v0.6h-0.6zM413.6 79.4h0.6v0.6h-0.6zM411.8 87.3h0.6v0.6h-0.6zM418.3 58.1h0.6v0.6h-0.6zM431.3 40.2h0.6v0.6h-0.6zM436.1 42.3h0.6v0.6h-0.6zM408.2 85.2h0.6v0.6h-0.6zM413.5 69.5h0.6v0.6h-0.6zM387.4 71.4h0.6v0.6h-0.6zM406.4 38.2h0.6v0.6h-0.6zM396.0 93.8h0.6v0.6h-0.6zM426.3 38.0h0.6v0.6h-0.6zM431.9 40.2h0.6v0.6h-0.6zM399.8 91.1h0.6v0.6h-0.6zM386.5 45.5h0.6v0.6h-0.6zM387.8 36.0h0.6v0.6h-0.6zM427.8 53.2h0.6v0.6h-0.6zM427.8 39.0h0.6v0.6h-0.6zM386.9 47.4h0.6v0.6h-0.6zM406.2 86.7h0.6v0.6h-0.6zM433.6 50.0h0.6v0.6h-0.6zM412.3 86.9h0.6v0.6h-0.6zM423.3 54.9h0.6v0.6h-0.6zM408.2 37.7h0.6v0.6h-0.6zM416.1 64.7h0.6v0.6h-0.6zM387.9 66.5h0.6v0.6h-0.6zM426.3 38.4h0.6v0.6h-0.6zM408.6 81.0h0.6v0.6h-0.6zM391.1 85.1h0.6v0.6h-0.6zM396.5 89.0h0.6v0.6h-0.6zM410.6 37.8h0.6v0.6h-0.6zM386.7 37.1h0.6v0.6h-0.6zM397.7 37.0h0.6v0.6h-0.6zM419.1 38.1h0.6v0.6h-0.6zM414.4 66.5h0.6v0.6h-0.6zM386.3 57.7h0.6v0.6h-0.6zM435.9 42.7h0.6v0.6h-0.6zM407.1 84.2h0.6v0.6h-0.6zM424.4 38.4h0.6v0.6h-0.6zM435.3 44.5h0.6v0.6h-0.6zM388.7 59.1h0.6v0.6h-0.6zM396.7 92.3h0.6v0.6h-0.6zM413.1 79.7h0.6v0.6h-0.6zM410.9 75.6h0.6v0.6h-0.6zM410.6 78.3h0.6v0.6h-0.6zM423.9 38.2h0.6v0.6h-0.6zM432.8 39.9h0.6v0.6h-0.6zM388.7 35.8h0.6v0.6h-0.6zM424.7 54.9h0.6v0.6h-0.6zM412.5 69.7h0.6v0.6h-0.6zM396.2 95.4h0.6v0.6h-0.6zM435.1 46.9h0.6v0.6h-0.6zM434.3 42.3h0.6v0.6h-0.6zM430.9 51.1h0.6v0.6h-0.6zM404.9 91.6h0.6v0.6h-0.6zM416.0 60.9h0.6v0.6h-0.6zM412.3 72.2h0.6v0.6h-0.6zM388.2 67.5h0.6v0.6h-0.6zM413.3 89.2h0.6v0.6h-0.6zM416.0 61.0h0.6v0.6h-0.6zM419.0 76.2h0.6v0.6h-0.6zM400.1 85.3h0.6v0.6h-0.6zM388.8 78.9h0.6v0.6h-0.6zM420.5 73.4h0.6v0.6h-0.6zM413.8 69.9h0.6v0.6h-0.6zM415.1 64.7h0.6v0.6h-0.6zM417.3 58.4h0.6v0.6h-0.6zM404.3 36.5h0.6v0.6h-0.6zM417.1 69.3h0.6v0.6h-0.6zM387.1 44.8h0.6v0.6h-0.6zM403.6 36.8h0.6v0.6h-0.6zM417.9 81.5h0.6v0.6h-0.6zM412.3 39.2h0.6v0.6h-0.6zM403.9 91.8h0.6v0.6h-0.6zM403.1 94.1h0.6v0.6h-0.6zM398.4 88.0h0.6v0.6h-0.6zM386.3 67.7h0.6v0.6h-0.6zM389.7 74.6h0.6v0.6h-0.6zM397.6 35.4h0.6v0.6h-0.6zM432.0 48.8h0.6v0.6h-0.6zM404.0 91.6h0.6v0.6h-0.6zM412.6 76.3h0.6v0.6h-0.6zM392.2 84.3h0.6v0.6h-0.6zM403.1 86.5h0.6v0.6h-0.6zM413.4 70.2h0.6v0.6h-0.6zM390.8 81.6h0.6v0.6h-0.6zM410.3 79.1h0.6v0.6h-0.6zM391.7 91.7h0.6v0.6h-0.6zM414.9 74.0h0.6v0.6h-0.6zM411.9 93.0h0.6v0.6h-0.6zM414.1 65.0h0.6v0.6h-0.6zM403.8 87.5h0.6v0.6h-0.6zM394.3 85.0h0.6v0.6h-0.6zM406.9 82.6h0.6v0.6h-0.6zM391.7 35.8h0.6v0.6h-0.6zM409.1 82.1h0.6v0.6h-0.6zM436.6 44.4h0.6v0.6h-0.6zM404.0 92.4h0.6v0.6h-0.6zM413.3 63.6h0.6v0.6h-0.6zM415.9 66.3h0.6v0.6h-0.6zM387.1 51.0h0.6v0.6h-0.6zM432.2 49.2h0.6v0.6h-0.6zM415.8 75.5h0.6v0.6h-0.6zM385.8 65.1h0.6v0.6h-0.6zM401.3 86.1h0.6v0.6h-0.6zM430.2 51.1h0.6v0.6h-0.6zM398.4 35.9h0.6v0.6h-0.6zM386.9 56.3h0.6v0.6h-0.6zM390.4 76.5h0.6v0.6h-0.6zM389.5 76.2h0.6v0.6h-0.6zM419.3 73.3h0.6v0.6h-0.6zM431.5 37.0h0.6v0.6h-0.6zM415.6 83.6h0.6v0.6h-0.6zM434.4 49.1h0.6v0.6h-0.6zM419.3 58.8h0.6v0.6h-0.6zM420.8 56.9h0.6v0.6h-0.6zM386.9 43.8h0.6v0.6h-0.6zM388.7 60.5h0.6v0.6h-0.6zM415.9 79.1h0.6v0.6h-0.6zM436.7 43.4h0.6v0.6h-0.6zM415.7 40.0h0.6v0.6h-0.6zM412.6 68.8h0.6v0.6h-0.6zM430.4 38.8h0.6v0.6h-0.6zM387.4 48.3h0.6v0.6h-0.6zM399.9 35.6h0.6v0.6h-0.6zM398.6 36.9h0.6v0.6h-0.6zM411.8 74.3h0.6v0.6h-0.6zM392.9 92.8h0.6v0.6h-0.6zM434.4 47.3h0.6v0.6h-0.6zM435.1 39.4h0.6v0.6h-0.6zM412.9 68.4h0.6v0.6h-0.6zM389.8 75.3h0.6v0.6h-0.6zM403.8 36.5h0.6v0.6h-0.6zM409.5 80.5h0.6v0.6h-0.6zM394.6 86.1h0.6v0.6h-0.6zM399.4 87.6h0.6v0.6h-0.6zM421.6 38.8h0.6v0.6h-0.6zM414.3 72.8h0.6v0.6h-0.6zM389.6 79.2h0.6v0.6h-0.6zM386.9 43.1h0.6v0.6h-0.6zM407.8 37.6h0.6v0.6h-0.6zM414.3 71.6h0.6v0.6h-0.6zM394.1 85.0h0.6v0.6h-0.6zM415.2 89.9h0.6v0.6h-0.6zM416.0 39.6h0.6v0.6h-0.6zM400.9 35.8h0.6v0.6h-0.6zM387.9 66.9h0.6v0.6h-0.6zM412.4 71.2h0.6v0.6h-0.6z" fill="#222"/>
<path d="M420.8 73.0h0.6v0.6h-0.6zM433.7 68.2h0.6v0.6h-0.6zM423.3 83.3h0.6v0.6h-0.6zM422.1 33.1h0.6v0.6h-0.6zM390.0 32.8h0.6v0.6h-0.6zM390.3 89.0h0.6v0.6h-0.6zM418.7 90.5h0.6v0.6h-0.6zM424.3 72.9h0.6v0.6h-0.6zM416.9 94.8h0.6v0.6h-0.6zM421.6 82.4h0.6v0.6h-0.6zM407.7 31.3h0.6v0.6h-0.6zM427.2 69.9h0.6v0.6h-0.6zM396.8 32.5h0.6v0.6h-0.6zM434.0 52.9h0.6v0.6h-0.6zM422.5 35.2h0.6v0.6h-0.6zM386.7 77.0h0.6v0.6h-0.6zM424.9 64.3h0.6v0.6h-0.6zM423.1 69.7h0.6v0.6h-0.6zM418.6 94.8h0.6v0.6h-0.6zM427.1 67.2h0.6v0.6h-0.6zM439.9 42.3h0.6v0.6h-0.6zM390.2 92.0h0.6v0.6h-0.6zM425.0 86.6h0.6v0.6h-0.6zM420.6 34.3h0.6v0.6h-0.6zM421.2 87.9h0.6v0.6h-0.6zM433.9 52.8h0.6v0.6h-0.6zM425.5 63.9h0.6v0.6h-0.6zM420.2 90.8h0.6v0.6h-0.6zM425.5 76.4h0.6v0.6h-0.6zM437.8 43.2h0.6v0.6h-0.6zM385.8 81.9h0.6v0.6h-0.6zM437.4 50.7h0.6v0.6h-0.6zM435.4 37.2h0.6v0.6h-0.6zM441.8 44.1h0.6v0.6h-0.6zM420.3 79.4h0.6v0.6h-0.6zM417.7 87.9h0.6v0.6h-0.6zM431.1 55.4h0.6v0.6h-0.6zM424.5 35.9h0.6v0.6h-0.6zM399.3 33.6h0.6v0.6h-0.6zM391.8 89.8h0.6v0.6h-0.6zM421.6 63.2h0.6v0.6h-0.6zM437.2 57.3h0.6v0.6h-0.6zM423.8 36.2h0.6v0.6h-0.6zM421.8 74.8h0.6v0.6h-0.6zM399.6 29.6h0.6v0.6h-0.6zM437.5 38.7h0.6v0.6h-0.6zM430.1 57.3h0.6v0.6h-0.6zM421.6 63.7h0.6v0.6h-0.6zM427.8 58.8h0.6v0.6h-0.6zM418.7 84.3h0.6v0.6h-0.6zM389.4 88.9h0.6v0.6h-0.6zM423.4 31.5h0.6v0.6h-0.6zM421.6 78.3h0.6v0.6h-0.6zM426.7 78.8h0.6v0.6h-0.6zM419.6 32.3h0.6v0.6h-0.6zM421.4 86.5h0.6v0.6h-0.6zM425.6 83.5h0.6v0.6h-0.6zM386.8 91.5h0.6v0.6h-0.6zM421.5 76.8h0.6v0.6h-0.6zM402.0 33.0h0.6v0.6h-0.6zM387.0 92.6h0.6v0.6h-0.6zM423.2 70.3h0.6v0.6h-0.6zM426.4 81.5h0.6v0.6h-0.6zM431.6 56.4h0.6v0.6h-0.6zM430.9 61.1h0.6v0.6h-0.6zM425.2 90.2h0.6v0.6h-0.6zM421.1 70.8h0.6v0.6h-0.6zM421.1 72.1h0.6v0.6h-0.6zM427.5 36.2h0.6v0.6h-0.6zM423.6 78.0h0.6v0.6h-0.6zM387.2 74.4h0.6v0.6h-0.6zM432.7 61.7h0.6v0.6h-0.6zM432.1 55.6h0.6v0.6h-0.6zM421.7 76.8h0.6v0.6h-0.6zM424.1 36.2h0.6v0.6h-0.6zM423.0 72.3h0.6v0.6h-0.6zM424.0 95.1h0.6v0.6h-0.6zM422.6 87.2h0.6v0.6h-0.6zM432.3 54.3h0.6v0.6h-0.6zM388.1 92.0h0.6v0.6h-0.6zM426.3 58.8h0.6v0.6h-0.6zM422.3 70.7h0.6v0.6h-0.6zM420.6 36.2h0.6v0.6h-0.6zM390.4 91.5h0.6v0.6h-0.6zM421.0 89.1h0.6v0.6h-0.6zM421.8 79.7h0.6v0.6h-0.6zM418.0 94.3h0.6v0.6h-0.6zM405.8 31.7h0.6v0.6h-0.6zM425.0 69.1h0.6v0.6h-0.6zM420.0 80.7h0.6v0.6h-0.6zM391.5 87.2h0.6v0.6h-0.6zM394.1 32.5h0.6v0.6h-0.6zM386.9 78.2h0.6v0.6h-0.6zM423.4 80.7h0.6v0.6h-0.6zM425.4 34.1h0.6v0.6h-0.6zM422.8 66.5h0.6v0.6h-0.6zM390.1 87.5h0.6v0.6h-0.6zM419.9 91.5h0.6v0.6h-0.6zM437.8 45.7h0.6v0.6h-0.6zM408.5 33.4h0.6v0.6h-0.6zM437.0 51.0h0.6v0.6h-0.6zM432.8 77.8h0.6v0.6h-0.6zM423.5 89.2h0.6v0.6h-0.6zM420.7 66.4h0.6v0.6h-0.6zM425.0 83.4h0.6v0.6h-0.6zM434.0 35.2h0.6v0.6h-0.6zM423.7 90.8h0.6v0.6h-0.6zM425.9 59.3h0.6v0.6h-0.6zM437.3 47.1h0.6v0.6h-0.6zM422.7 87.0h0.6v0.6h-0.6zM404.0 34.4h0.6v0.6h-0.6zM390.5 95.4h0.6v0.6h-0.6zM425.7 84.0h0.6v0.6h-0.6zM390.6 90.5h0.6v0.6h-0.6zM408.5 32.2h0.6v0.6h-0.6zM420.5 66.9h0.6v0.6h-0.6zM432.5 66.7h0.6v0.6h-0.6zM389.0 94.7h0.6v0.6h-0.6zM423.7 36.2h0.6v0.6h-0.6zM389.5 88.0h0.6v0.6h-0.6zM435.9 50.2h0.6v0.6h-0.6zM423.5 78.1h0.6v0.6h-0.6zM422.3 92.4h0.6v0.6h-0.6zM430.8 59.0h0.6v0.6h-0.6zM423.1 77.7h0.6v0.6h-0.6zM400.4 33.7h0.6v0.6h-0.6zM420.0 90.9h0.6v0.6h-0.6zM428.9 68.6h0.6v0.6h-0.6zM417.9 89.2h0.6v0.6h-0.6zM421.4 88.3h0.6v0.6h-0.6zM434.8 73.8h0.6v0.6h-0.6zM421.9 92.6h0.6v0.6h-0.6zM421.7 71.1h0.6v0.6h-0.6zM425.7 64.9h0.6v0.6h-0.6zM422.8 86.0h0.6v0.6h-0.6zM392.2 33.9h0.6v0.6h-0.6zM421.0 87.6h0.6v0.6h-0.6zM422.2 95.4h0.6v0.6h-0.6zM420.4 76.4h0.6v0.6h-0.6zM427.8 57.4h0.6v0.6h-0.6zM433.3 74.9h0.6v0.6h-0.6zM418.3 87.2h0.6v0.6h-0.6zM417.3 87.7h0.6v0.6h-0.6zM422.4 74.5h0.6v0.6h-0.6zM386.1 81.5h0.6v0.6h-0.6zM425.3 80.0h0.6v0.6h-0.6zM425.8 76.9h0.6v0.6h-0.6zM386.9 82.5h0.6v0.6h-0.6zM421.0 65.2h0.6v0.6h-0.6zM417.6 87.9h0.6v0.6h-0.6zM434.1 53.1h0.6v0.6h-0.6zM421.3 81.5h0.6v0.6h-0.6zM421.7 94.7h0.6v0.6h-0.6zM439.9 46.6h0.6v0.6h-0.6zM420.1 91.0h0.6v0.6h-0.6zM387.9 89.1h0.6v0.6h-0.6zM412.5 31.5h0.6v0.6h-0.6zM420.9 84.3h0.6v0.6h-0.6zM425.4 89.2h0.6v0.6h-0.6zM424.1 66.5h0.6v0.6h-0.6zM411.5 34.2h0.6v0.6h-0.6zM437.7 37.0h0.6v0.6h-0.6zM426.5 36.6h0.6v0.6h-0.6zM396.2 33.6h0.6v0.6h-0.6zM386.3 79.0h0.6v0.6h-0.6zM437.6 36.2h0.6v0.6h-0.6zM416.8 95.5h0.6v0.6h-0.6zM427.4 61.0h0.6v0.6h-0.6zM422.5 64.8h0.6v0.6h-0.6zM403.9 32.8h0.6v0.6h-0.6zM423.8 30.0h0.6v0.6h-0.6zM418.3 87.3h0.6v0.6h-0.6zM424.0 34.8h0.6v0.6h-0.6zM386.2 81.3h0.6v0.6h-0.6zM419.1 84.2h0.6v0.6h-0.6zM387.2 82.4h0.6v0.6h-0.6zM405.8 32.8h0.6v0.6h-0.6zM429.8 64.1h0.6v0.6h-0.6zM422.1 83.7h0.6v0.6h-0.6zM388.7 94.4h0.6v0.6h-0.6zM422.6 62.6h0.6v0.6h-0.6zM388.2 93.7h0.6v0.6h-0.6zM426.6 67.0h0.6v0.6h-0.6zM420.3 35.0h0.6v0.6h-0.6zM386.3 74.9h0.6v0.6h-0.6zM418.2 95.1h0.6v0.6h-0.6zM389.9 90.2h0.6v0.6h-0.6zM425.4 77.3h0.6v0.6h-0.6zM418.1 93.5h0.6v0.6h-0.6zM438.6 45.1h0.6v0.6h-0.6zM428.3 36.0h0.6v0.6h-0.6zM431.6 71.8h0.6v0.6h-0.6zM420.1 87.7h0.6v0.6h-0.6zM437.6 46.3h0.6v0.6h-0.6zM388.4 92.8h0.6v0.6h-0.6zM434.3 36.2h0.6v0.6h-0.6zM425.2 86.6h0.6v0.6h-0.6zM417.7 87.1h0.6v0.6h-0.6zM387.1 33.5h0.6v0.6h-0.6zM425.9 65.5h0.6v0.6h-0.6zM423.3 63.4h0.6v0.6h-0.6zM389.3 89.8h0.6v0.6h-0.6zM412.0 35.0h0.6v0.6h-0.6zM389.1 33.1h0.6v0.6h-0.6zM428.0 36.6h0.6v0.6h-0.6zM421.0 92.7h0.6v0.6h-0.6zM420.2 87.1h0.6v0.6h-0.6zM421.6 87.1h0.6v0.6h-0.6zM422.0 62.9h0.6v0.6h-0.6zM425.1 69.4h0.6v0.6h-0.6zM420.0 83.9h0.6v0.6h-0.6zM433.3 55.9h0.6v0.6h-0.6zM423.6 88.4h0.6v0.6h-0.6zM386.5 78.4h0.6v0.6h-0.6zM386.7 89.0h0.6v0.6h-0.6zM426.1 36.1h0.6v0.6h-0.6zM422.0 94.6h0.6v0.6h-0.6zM427.7 71.9h0.6v0.6h-0.6zM387.3 82.0h0.6v0.6h-0.6zM421.2 79.8h0.6v0.6h-0.6zM395.3 32.0h0.6v0.6h-0.6zM422.1 84.7h0.6v0.6h-0.6zM386.0 78.6h0.6v0.6h-0.6zM424.3 95.2h0.6v0.6h-0.6zM386.6 86.7h0.6v0.6h-0.6zM429.8 35.5h0.6v0.6h-0.6zM406.1 33.1h0.6v0.6h-0.6zM420.0 83.2h0.6v0.6h-0.6zM425.6 93.1h0.6v0.6h-0.6zM437.8 42.1h0.6v0.6h-0.6zM438.1 43.9h0.6v0.6h-0.6zM426.4 90.6h0.6v0.6h-0.6zM426.4 36.1h0.6v0.6h-0.6zM421.2 66.9h0.6v0.6h-0.6zM438.5 51.6h0.6v0.6h-0.6zM431.8 35.1h0.6v0.6h-0.6zM436.9 51.0h0.6v0.6h-0.6zM422.2 74.0h0.6v0.6h-0.6zM428.4 35.4h0.6v0.6h-0.6zM421.7 36.2h0.6v0.6h-0.6zM390.3 89.4h0.6v0.6h-0.6zM390.6 91.1h0.6v0.6h-0.6zM421.1 68.7h0.6v0.6h-0.6zM437.5 46.8h0.6v0.6h-0.6zM392.0 87.9h0.6v0.6h-0.6zM438.6 40.9h0.6v0.6h-0.6zM438.5 36.2h0.6v0.6h-0.6zM437.9 42.7h0.6v0.6h-0.6zM386.3 88.2h0.6v0.6h-0.6zM426.7 58.8h0.6v0.6h-0.6z" fill="#666"/>
<path d="M398.5 84.8 398.0 84.9 396.0 83.3 395.5 83.4 394.0 82.8 392.9 81.5 393.1 80.0 392.7 79.5 393.0 78.0 392.5 77.5 392.6 75.5 392.0 75.0 391.9 73.0 391.3 72.5 391.3 71.0 390.7 70.5 390.8 67.0 390.2 66.5 390.1 65.0 390.5 62.5 390.3 62.0 390.7 60.5 390.8 59.5 390.5 58.5 389.5 57.7 389.1 56.0 389.2 54.5 389.9 51.0 389.4 50.0 389.5 47.5 388.9 43.0 388.8 40.0 389.0 39.8 390.5 39.9 391.0 39.4 393.5 39.8 398.0 39.1 402.5 39.5 405.0 39.9 408.0 39.5 408.5 39.9 410.0 39.9 410.1 40.5 410.6 41.0 410.6 41.5 411.1 42.0 411.1 42.5 411.5 43.0 411.5 43.5 412.2 44.5 412.5 44.6 413.5 43.6 416.0 42.3 417.5 42.4 418.5 42.3 419.5 42.0 420.5 41.1 421.0 41.0 423.5 41.2 425.5 40.8 426.5 40.7 427.7 41.0 430.0 42.1 432.0 42.6 432.5 43.0 431.8 44.0 431.6 45.0 429.9 47.5 429.5 48.5 427.8 50.5 427.7 51.0 427.5 51.2 427.0 51.2 426.5 51.7 426.0 51.6 425.5 52.1 425.0 52.0 424.0 52.6 423.0 52.9 422.0 53.4 421.0 54.4 420.3 54.5 420.0 55.0 419.0 55.1 418.5 55.8 418.0 55.9 417.5 56.5 416.0 57.0 415.5 57.0 414.3 58.0 414.2 58.5 413.5 59.1 411.7 60.0 411.2 61.5 411.2 63.0 411.0 63.5 411.0 64.5 410.8 65.0 410.4 65.5 410.2 66.5 409.7 67.5 409.9 69.0 409.5 69.5 409.6 71.0 409.1 71.5 409.0 72.8 408.4 73.5 408.5 75.0 408.1 75.5 408.3 77.0 407.9 77.5 407.9 78.5 406.8 79.5 406.7 80.0 406.2 80.5 406.1 81.0 405.1 82.0 405.0 82.5 404.0 83.5 404.0 83.9 402.5 83.8 401.5 84.0 399.5 84.0 398.5 84.8ZM432.5 42.6 432.5 42.6Z" fill="#fff" fill-rule="evenodd"/>
<path d="M398.5 84.8 398.0 84.9 396.0 83.3 395.5 83.4 394.0 82.7 393.0 81.5 393.1 80.0 392.7 79.5 393.0 78.0 392.5 77.5 392.7 75.5 392.2 75.0 392.0 74.5 391.9 73.0 391.4 72.5 391.3 71.0 390.8 70.5 390.9 67.0 390.3 66.5 390.3 64.0 390.6 62.5 390.6 61.5 391.0 60.0 390.7 58.5 389.7 57.5 389.3 56.0 389.3 54.5 389.8 52.0 389.8 51.0 389.3 50.0 389.4 48.0 388.9 43.0 388.9 40.0 390.5 39.9 391.0 39.6 393.5 39.8 398.0 39.1 402.5 39.5 405.0 39.9 407.5 39.7 408.5 40.0 410.0 40.0 410.0 40.5 410.5 41.0 410.5 41.5 411.0 42.0 411.0 42.5 411.4 43.0 411.5 43.7 412.0 44.5 412.5 44.7 414.0 43.6 416.0 42.5 418.5 42.5 419.5 42.1 420.5 41.3 421.0 41.2 424.0 41.4 425.5 40.9 426.5 40.8 427.4 41.0 430.0 42.1 432.0 42.7 432.3 43.0 431.8 44.0 431.6 45.0 430.0 47.5 429.6 48.5 427.8 50.5 427.8 51.0 427.5 51.3 427.0 51.3 426.5 51.7 426.0 51.7 425.5 52.1 425.0 52.0 422.0 53.3 421.0 54.1 420.5 54.2 419.0 54.9 418.5 55.6 418.0 55.7 417.5 56.3 416.5 56.4 416.0 56.8 415.5 56.8 414.0 58.0 413.7 58.5 411.5 59.5 411.2 60.0 410.9 61.5 411.0 62.5 410.7 64.5 410.1 65.5 409.5 67.5 409.7 68.5 409.4 69.5 409.5 71.0 409.0 71.5 408.9 72.5 408.3 73.5 408.3 74.5 408.0 75.5 408.2 77.0 407.8 77.5 407.7 78.5 406.7 79.5 406.6 80.0 406.1 80.5 406.0 81.0 403.5 83.8 402.5 83.7 401.5 83.9 399.5 84.0 398.5 84.8Z" fill="none" stroke="#5c5c5c" stroke-width="0.45" stroke-opacity="1.0"/>
<path d="M398.5 84.0 396.5 83.0 395.5 83.0 393.4 81.0 393.4 79.0 394.0 77.5 393.6 76.5 393.5 75.5 392.9 74.5 392.6 72.5 392.3 72.0 392.1 70.5 391.7 70.0 391.8 67.0 391.2 66.0 391.1 65.5 391.2 64.0 391.7 62.0 391.9 60.0 391.4 58.0 390.8 57.0 390.4 55.0 390.5 51.5 389.9 49.5 389.6 46.0 389.5 42.5 389.7 41.0 390.0 40.7 391.5 40.5 394.0 40.4 398.0 39.5 400.6 40.0 407.4 40.5 408.0 40.8 409.0 40.9 409.5 41.3 410.2 42.5 411.0 44.5 411.8 45.5 412.5 45.7 413.0 45.6 414.5 44.5 416.5 43.5 419.0 43.1 421.0 42.2 424.0 42.2 426.5 41.7 430.7 43.0 431.1 43.5 431.0 45.0 429.7 47.0 428.5 49.5 427.5 50.6 424.5 51.6 421.0 53.2 418.5 53.6 416.8 55.0 412.6 57.0 411.0 58.0 410.5 58.5 409.9 60.0 409.7 64.0 408.6 67.0 408.3 70.0 407.7 72.0 407.3 73.0 407.0 75.0 407.1 76.5 406.8 78.0 406.0 78.9 405.2 80.5 404.0 82.0 403.0 82.8 399.5 83.4 398.5 84.0Z" fill="none" stroke="#5c5c5c" stroke-width="0.45" stroke-opacity="1.0"/>
<path d="M398.5 82.6 396.0 81.4 395.1 80.5 395.0 80.0 395.0 77.0 393.9 74.0 393.8 70.5 393.3 67.5 393.1 66.5 392.6 65.5 392.4 64.5 392.5 63.5 393.2 61.0 393.2 59.5 392.1 56.5 391.7 52.0 391.3 51.0 390.5 49.5 390.1 47.0 390.2 44.5 391.0 42.2 392.0 41.7 398.0 40.7 400.5 41.1 403.5 41.1 406.0 41.5 407.0 41.8 408.3 42.5 410.8 46.5 411.5 47.1 412.5 47.5 414.0 47.1 417.0 44.8 421.5 43.5 424.5 43.4 427.0 43.1 428.5 43.2 429.5 43.6 429.9 44.0 430.0 44.5 429.7 45.5 428.5 48.5 428.0 49.2 427.0 50.1 420.5 52.1 418.0 52.0 417.5 52.2 415.0 53.9 411.5 55.4 410.0 57.0 409.1 58.5 408.7 59.5 408.5 63.5 407.3 66.5 406.8 70.0 405.3 74.5 405.0 77.0 403.7 80.0 403.0 81.1 402.5 81.6 398.5 82.6Z" fill="none" stroke="#5c5c5c" stroke-width="0.45" stroke-opacity="1.0"/>
<path d="M400.0 80.5 399.0 80.7 397.5 80.1 396.9 79.5 395.5 73.5 395.5 72.0 395.0 68.0 394.6 66.5 393.9 65.0 393.7 64.0 393.9 63.0 394.7 61.0 394.8 59.0 394.5 58.0 393.6 56.5 392.9 51.5 392.6 50.5 391.5 48.5 391.0 46.5 391.2 45.5 392.5 43.4 393.0 43.1 397.5 42.3 400.0 42.5 403.0 42.4 405.5 42.9 406.5 43.2 407.5 44.0 408.9 46.5 410.2 48.0 411.5 48.9 412.5 49.1 413.5 48.9 415.5 48.1 417.5 46.2 418.0 46.0 423.0 44.9 428.1 44.5 428.1 45.0 427.5 47.5 427.0 48.4 426.2 49.0 421.5 50.7 420.0 50.7 418.5 50.2 417.5 50.3 415.0 52.4 412.0 53.5 410.5 54.4 410.0 55.0 408.0 58.0 407.2 60.0 406.9 63.5 405.9 66.5 405.6 69.5 404.3 72.5 403.3 76.5 401.2 80.0 400.0 80.5Z" fill="none" stroke="#5c5c5c" stroke-width="0.45" stroke-opacity="1.0"/>
<path d="M400.0 78.7 398.4 78.5 398.0 78.0 397.3 75.5 397.4 72.0 396.8 70.5 396.2 67.0 395.4 64.5 396.4 61.0 396.4 58.5 396.0 57.5 394.9 56.0 394.7 55.5 394.2 51.0 393.4 48.0 393.5 47.0 394.0 44.9 394.5 44.5 398.0 43.7 401.5 44.0 404.0 44.7 406.0 44.7 406.5 45.1 407.5 47.0 408.5 48.3 410.5 50.0 412.0 50.4 415.0 49.9 415.5 50.0 414.3 51.0 412.0 51.8 410.0 53.0 409.4 53.5 408.3 55.5 406.3 58.0 405.7 59.5 405.3 63.0 404.6 66.0 404.3 69.0 402.9 72.0 402.2 75.5 400.0 78.7ZM422.0 48.5 421.0 48.9 418.5 48.3 418.4 48.0 422.0 46.5 423.5 46.2 424.5 46.1 424.8 46.5 424.7 47.0 424.4 47.5 422.0 48.5Z" fill="none" stroke="#5c5c5c" stroke-width="0.45" stroke-opacity="1.0"/>
<path d="M400.0 76.5 399.1 75.5 399.1 75.0 400.4 72.0 399.7 71.0 398.7 70.0 398.1 68.5 398.1 66.5 397.3 64.5 398.0 61.5 398.1 58.5 397.8 57.5 396.4 55.5 396.1 54.5 396.0 52.5 396.1 50.0 395.7 48.0 395.7 46.5 396.0 46.1 397.5 45.4 398.5 45.1 399.5 45.1 400.5 45.5 403.0 47.0 403.5 47.2 405.0 47.0 405.7 48.0 409.3 51.5 408.4 52.5 407.4 54.5 405.0 56.5 404.0 57.9 403.8 59.0 403.9 63.0 402.2 68.5 400.6 71.5 400.5 72.0 400.8 75.0 400.0 76.5Z" fill="none" stroke="#5c5c5c" stroke-width="0.45" stroke-opacity="1.0"/>
<path d="M400.5 67.2 400.1 65.5 399.3 64.0 399.5 61.5 399.5 57.0 398.9 55.5 398.2 52.0 398.0 49.5 397.4 48.0 398.0 47.4 399.0 47.0 400.5 47.6 402.5 49.5 404.0 50.5 406.0 51.0 407.1 52.0 406.2 53.5 403.0 56.3 402.5 57.0 402.3 62.5 400.5 67.2Z" fill="none" stroke="#5c5c5c" stroke-width="0.45" stroke-opacity="1.0"/>
<path d="M401.5 55.3 401.1 54.5 400.8 53.0 399.8 50.5 399.7 50.0 400.0 49.7 401.8 51.0 404.0 52.0 404.4 52.5 403.4 54.0 401.5 55.3Z" fill="none" stroke="#5c5c5c" stroke-width="0.45" stroke-opacity="1.0"/>
</g>
<path d="M386.5 36.8 L411 36.5 L411 40 L388 40.5 Z" fill="#000"/>
<ellipse cx="425.8" cy="35.5" rx="6.5" ry="4.2" transform="rotate(0 425.8 35.5)" fill="none" stroke="#666" stroke-width="0.8"/>
<ellipse cx="429.6" cy="49.5" rx="6.5" ry="7.5" transform="rotate(0 429.6 49.5)" fill="none" stroke="#666" stroke-width="0.8"/>
<clipPath id="ca3"><rect x="72" y="115.4" width="83.00" height="82.70"/></clipPath>
<g clip-path="url(#ca3)">
<path d="M99.0 164.5h0.6v0.6h-0.6zM117.2 169.2h0.6v0.6h-0.6zM96.9 143.4h0.6v0.6h-0.6zM97.3 168.7h0.6v0.6h-0.6zM147.2 146.5h0.6v0.6h-0.6zM85.4 142.4h0.6v0.6h-0.6zM96.2 165.1h0.6v0.6h-0.6zM125.7 170.3h0.6v0.6h-0.6zM118.5 147.5h0.6v0.6h-0.6zM133.9 146.8h0.6v0.6h-0.6zM151.6 148.5h0.6v0.6h-0.6zM132.6 147.1h0.6v0.6h-0.6zM140.2 146.4h0.6v0.6h-0.6zM79.1 155.3h0.6v0.6h-0.6zM77.8 160.8h0.6v0.6h-0.6zM82.3 145.8h0.6v0.6h-0.6zM150.4 167.2h0.6v0.6h-0.6zM107.0 148.7h0.6v0.6h-0.6zM133.9 170.1h0.6v0.6h-0.6zM89.4 170.3h0.6v0.6h-0.6zM117.0 169.6h0.6v0.6h-0.6zM79.1 158.6h0.6v0.6h-0.6zM154.4 151.1h0.6v0.6h-0.6zM138.1 169.4h0.6v0.6h-0.6zM90.1 142.9h0.6v0.6h-0.6zM112.4 149.1h0.6v0.6h-0.6zM143.1 146.2h0.6v0.6h-0.6zM144.7 145.7h0.6v0.6h-0.6zM114.3 168.8h0.6v0.6h-0.6zM144.8 146.5h0.6v0.6h-0.6zM78.0 164.4h0.6v0.6h-0.6zM128.1 146.9h0.6v0.6h-0.6zM127.1 170.9h0.6v0.6h-0.6zM152.5 148.8h0.6v0.6h-0.6zM89.7 141.7h0.6v0.6h-0.6zM97.6 142.7h0.6v0.6h-0.6zM123.0 170.2h0.6v0.6h-0.6zM82.7 166.7h0.6v0.6h-0.6zM82.7 146.4h0.6v0.6h-0.6zM78.8 154.9h0.6v0.6h-0.6zM121.8 147.5h0.6v0.6h-0.6zM140.4 145.4h0.6v0.6h-0.6zM86.0 144.5h0.6v0.6h-0.6zM106.1 167.9h0.6v0.6h-0.6zM112.5 148.5h0.6v0.6h-0.6zM109.1 148.3h0.6v0.6h-0.6zM120.6 147.4h0.6v0.6h-0.6zM119.4 170.9h0.6v0.6h-0.6zM98.4 145.2h0.6v0.6h-0.6zM123.6 170.4h0.6v0.6h-0.6zM78.8 152.3h0.6v0.6h-0.6zM101.4 147.5h0.6v0.6h-0.6zM154.3 150.8h0.6v0.6h-0.6zM78.5 157.2h0.6v0.6h-0.6zM153.3 166.7h0.6v0.6h-0.6zM128.3 169.5h0.6v0.6h-0.6zM115.4 145.4h0.6v0.6h-0.6zM129.1 169.5h0.6v0.6h-0.6zM84.4 168.0h0.6v0.6h-0.6zM108.8 148.6h0.6v0.6h-0.6zM78.6 157.4h0.6v0.6h-0.6zM131.2 147.1h0.6v0.6h-0.6zM143.5 146.8h0.6v0.6h-0.6zM105.9 148.4h0.6v0.6h-0.6zM94.9 165.8h0.6v0.6h-0.6zM113.7 149.1h0.6v0.6h-0.6zM103.0 149.8h0.6v0.6h-0.6zM100.3 147.7h0.6v0.6h-0.6zM108.5 148.9h0.6v0.6h-0.6zM80.0 164.6h0.6v0.6h-0.6zM120.5 147.6h0.6v0.6h-0.6zM99.9 149.1h0.6v0.6h-0.6zM117.7 171.0h0.6v0.6h-0.6zM153.6 167.3h0.6v0.6h-0.6zM79.3 152.9h0.6v0.6h-0.6zM93.1 167.0h0.6v0.6h-0.6zM85.7 143.4h0.6v0.6h-0.6zM109.5 149.2h0.6v0.6h-0.6zM119.0 147.1h0.6v0.6h-0.6zM88.0 168.0h0.6v0.6h-0.6zM93.0 140.6h0.6v0.6h-0.6zM111.6 169.1h0.6v0.6h-0.6zM78.1 162.1h0.6v0.6h-0.6zM118.5 169.5h0.6v0.6h-0.6zM124.7 169.9h0.6v0.6h-0.6zM121.0 169.8h0.6v0.6h-0.6zM151.3 149.4h0.6v0.6h-0.6zM100.6 149.0h0.6v0.6h-0.6zM122.1 170.1h0.6v0.6h-0.6zM107.2 146.9h0.6v0.6h-0.6zM83.2 169.3h0.6v0.6h-0.6zM125.4 169.8h0.6v0.6h-0.6zM79.1 160.4h0.6v0.6h-0.6zM93.4 166.5h0.6v0.6h-0.6zM95.8 168.1h0.6v0.6h-0.6zM82.6 147.6h0.6v0.6h-0.6zM108.8 148.6h0.6v0.6h-0.6zM154.2 167.4h0.6v0.6h-0.6zM89.2 141.7h0.6v0.6h-0.6zM93.6 168.1h0.6v0.6h-0.6zM84.8 143.6h0.6v0.6h-0.6zM125.3 169.8h0.6v0.6h-0.6zM80.3 151.2h0.6v0.6h-0.6zM115.7 147.8h0.6v0.6h-0.6zM143.0 168.3h0.6v0.6h-0.6zM78.1 157.7h0.6v0.6h-0.6zM81.2 166.1h0.6v0.6h-0.6zM108.5 147.1h0.6v0.6h-0.6zM130.0 169.3h0.6v0.6h-0.6zM100.3 149.1h0.6v0.6h-0.6zM128.1 170.5h0.6v0.6h-0.6zM106.9 147.8h0.6v0.6h-0.6zM135.4 147.6h0.6v0.6h-0.6zM112.7 148.7h0.6v0.6h-0.6zM79.7 153.7h0.6v0.6h-0.6zM111.6 148.9h0.6v0.6h-0.6zM126.7 147.6h0.6v0.6h-0.6zM92.0 169.2h0.6v0.6h-0.6zM87.4 168.6h0.6v0.6h-0.6zM78.4 159.3h0.6v0.6h-0.6zM117.4 147.8h0.6v0.6h-0.6zM147.3 168.3h0.6v0.6h-0.6zM104.4 148.6h0.6v0.6h-0.6zM96.5 143.9h0.6v0.6h-0.6zM78.6 151.0h0.6v0.6h-0.6zM89.9 169.7h0.6v0.6h-0.6zM107.5 168.2h0.6v0.6h-0.6zM96.1 164.7h0.6v0.6h-0.6zM146.4 168.2h0.6v0.6h-0.6zM120.4 147.4h0.6v0.6h-0.6zM86.9 168.6h0.6v0.6h-0.6zM94.6 143.1h0.6v0.6h-0.6zM100.2 167.8h0.6v0.6h-0.6zM92.9 140.2h0.6v0.6h-0.6zM92.0 166.8h0.6v0.6h-0.6zM114.0 148.1h0.6v0.6h-0.6zM134.8 146.8h0.6v0.6h-0.6zM105.8 149.0h0.6v0.6h-0.6zM111.8 169.5h0.6v0.6h-0.6zM79.3 154.4h0.6v0.6h-0.6zM108.1 168.3h0.6v0.6h-0.6zM100.4 167.8h0.6v0.6h-0.6zM126.9 170.0h0.6v0.6h-0.6zM119.5 146.3h0.6v0.6h-0.6zM141.3 146.1h0.6v0.6h-0.6zM92.6 168.8h0.6v0.6h-0.6zM146.5 145.1h0.6v0.6h-0.6zM116.3 147.7h0.6v0.6h-0.6zM119.5 146.6h0.6v0.6h-0.6zM119.6 147.6h0.6v0.6h-0.6z" fill="#999"/>
<path d="M90.0 166.4 87.5 166.8 85.5 166.5 83.5 165.3 81.9 163.9 80.8 161.9 80.3 159.9 80.3 158.4 80.6 153.9 81.2 151.9 82.2 149.9 83.0 148.6 84.0 147.6 86.5 146.2 90.0 144.7 91.5 144.2 93.0 144.2 94.5 144.7 95.5 145.3 96.2 145.9 96.9 146.9 98.4 151.4 98.5 152.9 98.4 154.4 97.3 158.4 94.8 163.9 94.0 164.7 93.0 165.3 90.0 166.4Z" fill="#161616" fill-rule="evenodd"/>
<path d="M88.5 164.4 87.0 164.3 85.5 163.6 84.0 162.7 83.0 161.4 82.5 159.9 82.3 158.4 82.6 154.4 83.0 152.4 83.9 150.4 84.5 149.7 85.5 149.1 87.0 148.6 91.5 147.7 93.5 147.8 94.5 148.4 95.0 149.0 96.2 151.9 96.4 153.9 95.9 156.4 93.4 161.9 92.7 162.9 91.0 163.8 88.5 164.4Z" fill="#505050" fill-rule="evenodd"/>
<path d="M88.5 161.5 87.0 161.7 86.0 161.5 85.0 160.8 84.4 159.9 84.1 158.9 84.1 157.4 84.8 152.4 85.5 151.3 87.0 150.5 91.5 150.0 93.0 150.2 94.0 151.2 94.6 152.9 94.7 154.4 94.3 155.9 93.4 157.4 91.0 160.2 90.0 160.9 88.5 161.5Z" fill="#888" fill-rule="evenodd"/>
<path d="M89.5 158.9 87.5 159.3 86.5 159.0 86.0 158.5 85.7 157.9 85.7 156.4 86.3 153.4 86.9 152.4 88.0 151.8 90.5 151.4 92.0 151.6 92.6 151.9 93.2 152.9 93.4 153.9 93.1 155.4 92.5 156.4 91.5 157.5 89.5 158.9Z" fill="#bbb" fill-rule="evenodd"/>
<path d="M90.0 157.4 88.5 157.8 87.5 157.5 86.9 156.4 87.0 154.9 87.5 153.6 88.3 152.9 89.5 152.4 91.0 152.4 92.0 152.9 92.3 153.4 92.4 154.4 91.8 155.9 90.0 157.4Z" fill="#eee" fill-rule="evenodd"/>
<path d="M124.5 167.4 122.5 167.5 121.0 167.1 118.5 165.8 115.0 164.8 114.0 164.1 113.8 163.4 114.5 162.4 115.3 161.9 118.0 160.9 119.5 160.8 123.5 161.3 128.0 160.2 134.5 159.7 141.5 160.0 145.0 160.5 148.5 160.6 151.0 161.4 152.0 161.9 152.3 162.4 152.2 162.9 151.3 163.9 150.0 164.7 149.0 165.1 145.5 165.0 141.5 166.0 137.0 165.9 132.5 166.8 128.0 167.0 124.5 167.4Z" fill="#666" fill-rule="evenodd"/>
<path d="M133.0 165.4 131.0 165.7 127.6 165.4 125.6 164.9 125.2 164.4 125.9 163.4 127.5 162.2 133.0 161.0 135.0 161.0 139.8 161.9 140.8 162.4 141.0 162.9 140.2 163.4 137.5 163.8 133.0 165.4Z" fill="#262626" fill-rule="evenodd"/>
<path d="M127.5 169.4 125.0 169.8 122.5 169.8 120.5 169.6 115.5 168.7 112.0 168.8 110.5 168.7 103.5 167.1 101.3 165.9 99.0 164.0 98.0 163.6 97.0 164.0 95.2 165.4 94.0 166.1 90.0 167.5 87.0 167.9 84.5 167.6 83.0 166.7 81.3 164.9 80.3 163.4 79.5 161.4 79.2 158.9 79.8 153.9 80.2 152.4 81.8 148.9 83.5 146.8 85.0 145.7 87.0 144.6 90.5 143.1 92.0 142.9 94.0 143.1 96.0 144.0 97.5 145.4 99.5 148.9 100.5 149.5 102.0 149.9 105.5 150.2 111.5 149.6 112.8 149.4 116.5 148.2 120.0 148.0 124.5 147.5 128.5 147.4 132.0 147.1 138.5 147.7 143.5 147.3 146.0 147.8 150.0 149.2 153.5 150.9 154.3 151.4 155.0 152.2 155.4 161.9 155.3 164.9 155.0 166.4 149.0 167.6 143.5 168.3 136.5 168.7 133.0 169.2 127.5 169.4Z" fill="none" stroke="#111" stroke-width="0.45" stroke-opacity="1.0"/>
<path d="M124.5 169.4 121.0 169.3 115.5 168.2 111.0 168.2 108.0 167.4 104.5 166.7 103.0 166.1 102.0 165.4 99.5 162.6 98.5 162.1 97.5 162.3 94.9 164.9 92.5 166.1 88.5 167.2 86.5 167.2 85.0 166.9 83.5 166.1 82.0 164.7 80.8 162.9 80.2 161.4 79.8 159.9 79.8 158.4 80.3 153.9 80.9 151.9 82.3 148.9 84.0 147.1 86.5 145.6 90.0 144.1 91.5 143.6 92.5 143.6 94.5 144.1 95.5 144.6 96.5 145.4 97.2 146.4 98.5 148.9 99.5 150.0 100.5 150.4 102.5 150.8 105.0 151.0 112.0 150.3 116.5 148.9 120.0 148.7 124.5 148.0 128.5 148.0 132.0 147.7 138.5 148.4 143.5 148.1 145.5 148.4 150.0 150.1 152.2 151.4 153.0 152.1 153.6 152.9 154.2 155.4 155.0 156.6 155.1 157.4 155.3 162.4 155.3 164.4 155.0 165.9 153.0 166.2 149.0 167.2 142.5 168.0 136.5 168.3 132.5 168.8 129.0 168.8 124.5 169.4Z" fill="none" stroke="#111" stroke-width="0.45" stroke-opacity="1.0"/>
<path d="M125.0 168.9 122.0 169.0 116.0 167.7 111.0 167.5 108.0 166.6 104.8 165.9 103.7 165.4 102.6 164.4 102.1 163.4 102.0 161.4 100.9 160.9 99.0 160.5 98.0 160.6 97.0 161.1 95.0 163.9 94.0 164.8 93.0 165.3 88.5 166.6 87.0 166.6 85.5 166.2 84.0 165.4 82.5 164.3 81.5 162.9 80.8 161.4 80.5 159.9 80.4 158.4 80.7 154.4 81.2 152.4 82.6 149.4 83.5 148.3 84.5 147.5 87.0 146.2 89.5 145.2 91.0 144.6 92.5 144.4 94.5 145.0 95.9 145.9 96.7 146.9 98.0 149.6 99.2 150.9 100.5 151.5 103.0 152.1 104.5 152.1 109.0 151.3 112.5 151.0 116.5 149.7 119.5 149.5 124.5 148.6 128.5 148.7 132.5 148.3 138.5 149.2 143.0 149.0 144.5 149.1 149.0 150.8 151.0 151.9 152.2 153.4 152.6 155.9 153.0 156.8 153.7 157.4 155.0 158.2 155.3 161.9 155.0 165.3 153.0 165.6 149.5 166.6 142.5 167.6 136.5 167.7 132.5 168.3 128.6 168.4 125.0 168.9Z" fill="none" stroke="#111" stroke-width="0.45" stroke-opacity="1.0"/>
<path d="M125.0 168.4 122.0 168.5 116.5 167.1 111.5 166.7 106.2 164.9 105.5 164.4 105.2 163.9 106.0 161.9 106.1 160.9 106.1 159.9 105.7 158.9 104.5 157.7 103.5 157.2 102.5 157.0 101.5 157.2 97.5 159.2 96.0 160.8 94.5 163.5 93.0 164.7 89.0 165.9 87.5 165.9 86.0 165.6 84.0 164.5 82.6 163.4 81.9 162.4 81.3 160.9 81.1 159.4 81.1 157.9 81.3 154.4 81.7 152.4 82.9 149.9 83.7 148.9 84.5 148.2 88.0 146.6 91.0 145.6 92.5 145.4 94.0 145.7 95.5 146.7 96.3 147.9 97.5 150.3 98.5 151.7 101.5 154.3 102.5 154.7 103.5 154.4 106.0 153.1 107.5 152.6 112.5 152.0 116.5 150.6 119.5 150.4 122.5 149.5 124.0 149.3 125.5 149.2 128.5 149.6 132.5 149.1 139.0 150.2 143.5 150.0 145.5 150.6 149.8 152.9 150.5 153.9 150.4 156.4 150.9 157.4 152.3 158.4 155.0 159.6 155.2 161.9 155.0 164.4 153.0 164.9 150.0 166.0 142.0 167.1 136.5 167.1 132.5 167.8 128.9 167.9 125.0 168.4Z" fill="none" stroke="#111" stroke-width="0.45" stroke-opacity="1.0"/>
<path d="M90.0 165.0 88.0 165.3 86.5 164.9 84.0 163.6 82.7 162.4 82.2 161.4 81.7 159.4 82.0 153.9 82.3 152.4 82.9 150.9 83.5 149.9 84.5 148.9 86.0 148.1 87.5 147.6 91.5 146.6 93.0 146.5 94.5 147.1 95.7 148.4 98.2 153.4 98.4 154.4 98.4 155.4 97.8 156.9 95.5 159.9 94.3 162.4 93.6 163.4 92.5 164.1 90.0 165.0ZM124.5 167.9 123.0 168.0 121.5 167.9 117.5 166.5 111.5 165.6 109.5 164.8 108.2 163.9 107.9 163.4 107.8 162.4 108.3 159.9 109.0 159.0 110.5 158.0 111.0 157.4 111.4 154.9 112.2 153.9 116.0 152.0 119.5 151.6 122.0 150.5 124.0 150.0 125.5 150.0 129.0 150.7 132.0 150.2 133.0 150.2 139.5 151.4 143.0 151.2 144.0 151.3 145.0 151.7 146.0 152.4 147.3 153.9 147.5 154.9 147.2 156.4 147.7 157.4 150.5 159.2 154.0 160.7 154.6 161.4 154.8 161.9 154.8 162.4 154.5 162.9 153.8 163.4 150.5 165.1 149.0 165.6 145.5 165.7 141.5 166.5 136.5 166.5 132.5 167.2 128.5 167.4 124.5 167.9Z" fill="none" stroke="#111" stroke-width="0.45" stroke-opacity="1.0"/>
<path d="M88.5 164.4 86.5 164.1 84.5 163.0 83.5 162.2 82.7 160.9 82.4 159.4 82.4 157.9 82.7 153.9 83.0 152.4 83.9 150.4 84.5 149.8 85.5 149.1 87.0 148.6 91.5 147.7 93.5 147.8 94.5 148.4 95.0 149.0 96.4 151.9 97.0 153.9 96.7 155.9 96.0 157.4 94.4 159.9 93.2 162.4 92.8 162.9 91.5 163.6 88.5 164.4ZM127.0 166.9 123.5 167.3 122.0 167.2 118.5 165.8 113.7 164.9 112.4 164.4 110.8 163.4 110.4 162.9 110.3 162.4 110.4 161.9 113.9 157.9 115.5 154.9 116.5 154.3 118.5 154.2 119.5 153.6 122.3 151.4 123.5 151.0 124.5 150.9 125.5 151.0 128.0 151.9 129.5 152.2 133.5 151.8 139.5 153.2 142.5 152.7 143.9 152.9 144.6 153.4 145.0 154.4 144.7 155.4 143.6 156.9 143.5 157.4 143.7 157.9 145.0 158.9 148.0 159.7 149.4 160.4 150.9 161.4 151.4 161.9 151.5 162.4 151.4 162.9 150.6 163.9 149.0 164.7 145.5 164.5 141.5 165.7 137.5 165.6 132.0 166.7 127.0 166.9Z" fill="none" stroke="#111" stroke-width="0.45" stroke-opacity="1.0"/>
<path d="M90.0 162.9 88.5 163.4 87.0 163.2 85.0 162.3 83.7 160.9 83.3 159.9 83.1 158.4 83.7 152.9 84.5 150.9 85.0 150.3 86.0 149.7 91.5 148.8 93.0 148.9 94.0 149.4 94.5 149.9 95.3 151.4 95.9 153.4 95.7 155.4 95.1 156.9 93.4 159.4 92.0 161.8 91.2 162.4 90.0 162.9ZM132.5 166.0 122.5 166.3 119.0 164.9 116.0 164.4 114.5 163.9 113.3 162.9 113.2 161.9 114.0 160.4 115.5 158.8 117.0 157.8 120.0 156.8 120.5 156.4 121.7 153.9 122.5 152.9 123.5 152.3 124.5 152.2 125.5 152.4 127.7 153.4 129.3 154.4 129.7 155.4 129.3 157.4 129.5 157.9 130.1 158.4 131.5 158.8 134.5 158.4 136.5 158.6 142.0 160.1 143.0 160.7 143.5 161.4 143.6 161.9 143.4 162.9 142.6 163.9 142.0 164.3 141.0 164.6 137.5 164.6 132.5 166.0ZM124.5 158.4 124.5 158.4Z" fill="none" stroke="#111" stroke-width="0.45" stroke-opacity="1.0"/>
<path d="M89.0 161.4 87.5 161.8 86.5 161.7 85.0 160.9 84.3 159.9 84.1 158.9 84.0 157.4 84.8 152.4 85.5 151.2 86.5 150.6 90.5 150.0 92.5 150.0 93.5 150.5 94.5 151.9 94.9 153.4 94.7 155.4 94.0 156.9 91.5 159.8 90.5 160.7 89.0 161.4ZM120.0 163.5 117.8 163.4 116.1 162.9 115.5 162.4 115.4 161.9 115.7 160.9 116.6 159.9 117.5 159.3 118.5 159.1 119.7 159.4 120.6 160.4 121.1 161.9 121.0 162.9 120.5 163.4 120.0 163.5ZM133.0 165.0 130.5 165.3 127.0 164.6 126.1 163.9 126.0 163.4 126.2 162.4 127.0 161.2 128.0 160.7 130.5 160.5 133.5 160.0 135.0 160.1 137.5 160.8 139.0 161.4 139.6 161.9 139.5 162.4 139.0 162.6 133.0 165.0Z" fill="none" stroke="#111" stroke-width="0.45" stroke-opacity="1.0"/>
<path d="M88.0 159.9 87.0 160.0 86.0 159.7 85.5 159.1 85.2 158.4 85.3 155.9 85.6 153.9 86.0 152.7 86.7 151.9 88.0 151.4 91.0 150.9 92.5 151.2 93.3 151.9 93.9 153.4 93.8 154.9 93.4 155.9 92.5 157.1 90.5 159.0 89.5 159.5 88.0 159.9ZM132.0 163.9 131.4 163.9 130.7 163.4 130.7 162.9 131.1 162.4 132.5 161.7 133.5 161.7 134.1 161.9 134.4 162.4 134.2 162.9 133.5 163.5 132.0 163.9Z" fill="none" stroke="#111" stroke-width="0.45" stroke-opacity="1.0"/>
<path d="M89.5 158.0 88.0 158.2 87.0 157.8 86.5 156.4 86.7 154.4 87.5 153.0 88.5 152.4 90.0 152.1 91.5 152.2 92.0 152.4 92.7 153.4 92.7 154.9 92.2 155.9 91.5 156.7 90.5 157.5 89.5 158.0Z" fill="none" stroke="#111" stroke-width="0.45" stroke-opacity="1.0"/>
</g>
<clipPath id="ca4"><rect x="159.3" y="115.4" width="82.50" height="82.60"/></clipPath>
<g clip-path="url(#ca4)">
<path d="M218.5 175.5h0.6v0.6h-0.6zM204.9 141.2h0.6v0.6h-0.6zM227.7 160.5h0.6v0.6h-0.6zM174.9 169.6h0.6v0.6h-0.6zM196.0 146.6h0.6v0.6h-0.6zM189.5 145.9h0.6v0.6h-0.6zM223.6 155.1h0.6v0.6h-0.6zM193.4 166.5h0.6v0.6h-0.6zM223.9 162.2h0.6v0.6h-0.6zM196.5 171.6h0.6v0.6h-0.6zM172.6 143.1h0.6v0.6h-0.6zM215.4 145.1h0.6v0.6h-0.6zM165.8 158.9h0.6v0.6h-0.6zM224.2 155.4h0.6v0.6h-0.6zM170.1 169.4h0.6v0.6h-0.6zM214.7 146.5h0.6v0.6h-0.6zM197.5 143.7h0.6v0.6h-0.6zM201.3 171.8h0.6v0.6h-0.6zM166.0 154.5h0.6v0.6h-0.6zM178.1 142.2h0.6v0.6h-0.6zM197.5 172.5h0.6v0.6h-0.6zM210.7 145.1h0.6v0.6h-0.6zM189.9 164.0h0.6v0.6h-0.6zM193.1 165.7h0.6v0.6h-0.6zM199.5 141.8h0.6v0.6h-0.6zM213.6 146.7h0.6v0.6h-0.6zM217.9 149.4h0.6v0.6h-0.6zM202.0 172.5h0.6v0.6h-0.6zM171.4 146.6h0.6v0.6h-0.6zM197.6 145.6h0.6v0.6h-0.6zM222.9 166.1h0.6v0.6h-0.6zM212.7 174.0h0.6v0.6h-0.6zM167.8 151.5h0.6v0.6h-0.6zM217.3 147.2h0.6v0.6h-0.6zM191.1 169.6h0.6v0.6h-0.6zM193.5 142.3h0.6v0.6h-0.6zM220.1 167.8h0.6v0.6h-0.6zM180.4 141.7h0.6v0.6h-0.6zM196.3 169.1h0.6v0.6h-0.6zM222.3 163.9h0.6v0.6h-0.6zM211.6 172.2h0.6v0.6h-0.6zM213.0 144.4h0.6v0.6h-0.6zM220.1 168.7h0.6v0.6h-0.6zM169.6 169.8h0.6v0.6h-0.6zM199.0 144.4h0.6v0.6h-0.6zM194.8 145.4h0.6v0.6h-0.6zM220.6 166.6h0.6v0.6h-0.6zM223.6 163.6h0.6v0.6h-0.6zM172.6 168.9h0.6v0.6h-0.6zM203.4 145.0h0.6v0.6h-0.6zM209.9 144.1h0.6v0.6h-0.6zM216.0 145.1h0.6v0.6h-0.6zM195.8 170.5h0.6v0.6h-0.6zM188.4 162.6h0.6v0.6h-0.6zM210.6 144.8h0.6v0.6h-0.6zM213.1 172.7h0.6v0.6h-0.6zM199.8 175.6h0.6v0.6h-0.6zM188.9 163.7h0.6v0.6h-0.6zM193.4 145.3h0.6v0.6h-0.6zM178.7 167.4h0.6v0.6h-0.6zM216.1 171.7h0.6v0.6h-0.6zM183.8 143.4h0.6v0.6h-0.6zM221.1 149.9h0.6v0.6h-0.6zM217.7 151.0h0.6v0.6h-0.6zM220.2 154.2h0.6v0.6h-0.6zM204.2 142.2h0.6v0.6h-0.6zM199.5 143.2h0.6v0.6h-0.6zM181.4 144.9h0.6v0.6h-0.6zM197.1 171.3h0.6v0.6h-0.6zM168.2 167.2h0.6v0.6h-0.6zM190.8 166.7h0.6v0.6h-0.6zM191.7 147.3h0.6v0.6h-0.6zM182.6 164.4h0.6v0.6h-0.6zM226.5 160.2h0.6v0.6h-0.6zM197.2 144.7h0.6v0.6h-0.6zM194.8 144.1h0.6v0.6h-0.6zM214.4 147.4h0.6v0.6h-0.6zM221.3 167.6h0.6v0.6h-0.6zM205.2 145.9h0.6v0.6h-0.6zM208.1 174.6h0.6v0.6h-0.6zM197.7 170.6h0.6v0.6h-0.6zM165.6 166.9h0.6v0.6h-0.6zM191.7 164.8h0.6v0.6h-0.6zM185.3 166.0h0.6v0.6h-0.6zM190.2 147.9h0.6v0.6h-0.6zM223.3 165.9h0.6v0.6h-0.6zM204.8 146.1h0.6v0.6h-0.6zM224.3 156.3h0.6v0.6h-0.6zM186.7 151.6h0.6v0.6h-0.6zM205.5 144.7h0.6v0.6h-0.6zM200.6 144.0h0.6v0.6h-0.6zM199.8 172.6h0.6v0.6h-0.6zM181.6 164.5h0.6v0.6h-0.6zM184.3 162.6h0.6v0.6h-0.6zM170.5 146.2h0.6v0.6h-0.6zM221.3 165.2h0.6v0.6h-0.6zM190.2 165.4h0.6v0.6h-0.6zM220.7 153.0h0.6v0.6h-0.6zM212.1 172.3h0.6v0.6h-0.6zM196.9 169.5h0.6v0.6h-0.6zM192.0 150.0h0.6v0.6h-0.6zM185.1 146.7h0.6v0.6h-0.6zM215.0 171.3h0.6v0.6h-0.6zM215.4 172.4h0.6v0.6h-0.6zM223.5 161.8h0.6v0.6h-0.6zM216.6 173.6h0.6v0.6h-0.6zM208.2 177.5h0.6v0.6h-0.6zM183.3 164.7h0.6v0.6h-0.6zM218.9 169.7h0.6v0.6h-0.6zM203.0 145.5h0.6v0.6h-0.6zM184.0 147.7h0.6v0.6h-0.6zM222.4 158.6h0.6v0.6h-0.6zM177.9 144.0h0.6v0.6h-0.6zM189.6 151.3h0.6v0.6h-0.6zM218.2 172.6h0.6v0.6h-0.6zM165.6 162.4h0.6v0.6h-0.6zM210.8 146.6h0.6v0.6h-0.6zM206.6 176.7h0.6v0.6h-0.6zM222.8 162.5h0.6v0.6h-0.6zM191.9 148.0h0.6v0.6h-0.6zM209.2 172.6h0.6v0.6h-0.6zM217.2 173.8h0.6v0.6h-0.6zM203.9 144.1h0.6v0.6h-0.6zM210.2 145.2h0.6v0.6h-0.6zM218.6 170.8h0.6v0.6h-0.6zM223.5 159.1h0.6v0.6h-0.6zM167.6 167.7h0.6v0.6h-0.6zM167.4 165.3h0.6v0.6h-0.6zM172.7 170.3h0.6v0.6h-0.6zM222.0 167.1h0.6v0.6h-0.6zM184.9 162.0h0.6v0.6h-0.6zM215.9 145.4h0.6v0.6h-0.6zM186.8 163.4h0.6v0.6h-0.6zM198.7 171.1h0.6v0.6h-0.6zM224.5 161.9h0.6v0.6h-0.6zM212.4 145.3h0.6v0.6h-0.6zM204.7 144.8h0.6v0.6h-0.6zM195.7 144.5h0.6v0.6h-0.6zM200.5 144.7h0.6v0.6h-0.6zM185.0 148.6h0.6v0.6h-0.6zM188.7 167.2h0.6v0.6h-0.6zM193.2 166.4h0.6v0.6h-0.6zM213.6 171.7h0.6v0.6h-0.6zM219.7 172.0h0.6v0.6h-0.6zM208.9 145.8h0.6v0.6h-0.6zM194.8 147.5h0.6v0.6h-0.6zM215.5 147.3h0.6v0.6h-0.6zM177.1 169.7h0.6v0.6h-0.6zM193.4 172.2h0.6v0.6h-0.6zM198.2 173.9h0.6v0.6h-0.6z" fill="#aaa"/>
<path d="M174.3 167.4 172.8 167.6 171.3 167.3 169.8 166.4 168.5 164.9 167.5 162.9 167.1 161.4 167.0 159.4 167.1 156.9 167.6 154.9 168.6 152.4 169.9 150.4 172.0 147.9 173.3 146.8 175.3 145.7 176.8 145.4 178.3 145.4 179.8 146.0 180.8 146.7 181.8 147.8 182.5 148.9 183.1 150.4 183.7 152.4 183.9 154.4 183.7 156.4 183.1 158.4 182.4 159.9 180.1 163.4 178.8 164.8 177.3 166.0 175.8 166.9 174.3 167.4Z" fill="#161616" fill-rule="evenodd"/>
<path d="M174.3 164.9 172.8 164.9 171.8 164.5 170.8 163.8 169.8 162.5 169.3 161.4 168.9 159.9 168.8 158.4 169.0 156.4 169.4 154.9 170.1 153.4 171.3 151.8 172.8 150.3 175.3 148.6 176.8 148.2 177.8 148.3 178.8 148.7 179.6 149.4 181.1 151.4 181.9 153.9 181.8 156.4 180.6 159.4 178.8 162.1 176.8 163.9 175.3 164.6 174.3 164.9Z" fill="#505050" fill-rule="evenodd"/>
<path d="M174.8 162.6 173.8 162.7 172.8 162.5 171.8 161.9 171.3 161.4 170.7 160.4 170.4 159.4 170.3 157.9 170.5 156.4 171.1 154.9 171.7 153.9 173.3 152.2 175.3 151.0 176.3 150.8 177.3 150.8 178.8 151.7 179.7 152.9 180.2 154.4 180.0 156.4 179.3 158.4 178.0 160.4 176.3 161.9 174.8 162.6Z" fill="#888" fill-rule="evenodd"/>
<path d="M175.3 160.4 173.8 160.7 172.8 160.4 172.3 160.0 171.7 158.4 171.7 156.9 172.6 154.9 173.8 153.7 175.3 152.9 176.8 152.8 177.8 153.4 178.3 154.2 178.5 155.4 178.4 156.4 177.9 157.9 177.3 158.9 176.3 159.9 175.3 160.4Z" fill="#bbb" fill-rule="evenodd"/>
<path d="M175.3 158.6 174.3 158.8 173.8 158.7 173.2 157.9 173.2 156.9 173.7 155.9 174.3 155.2 174.8 154.9 175.8 154.7 176.3 154.9 176.6 155.4 176.8 156.4 176.3 157.6 175.3 158.6Z" fill="#eee" fill-rule="evenodd"/>
<path d="M211.8 165.9 208.3 166.3 205.8 166.1 204.1 165.4 203.6 164.9 203.4 164.4 203.8 163.7 204.8 163.1 207.8 162.6 211.8 162.9 213.3 163.3 214.1 163.9 214.3 164.4 214.2 164.9 213.5 165.4 211.8 165.9Z" fill="#777" fill-rule="evenodd"/>
<path d="M208.8 172.5 206.8 172.6 204.8 172.5 203.3 172.1 201.3 171.3 198.3 169.7 195.8 168.0 194.0 166.4 191.6 163.9 190.3 162.9 188.8 162.3 186.3 162.0 184.3 161.9 182.8 162.5 178.3 166.5 176.8 167.6 175.3 168.3 174.3 168.7 172.8 168.9 171.3 168.7 170.3 168.3 168.8 167.3 167.7 165.9 166.7 163.9 166.1 161.9 166.0 159.9 166.1 157.4 166.7 154.9 167.6 152.4 169.7 148.9 172.3 146.0 174.3 144.8 176.8 144.1 178.3 144.1 179.3 144.3 180.3 144.7 181.8 145.7 182.8 146.8 183.5 147.9 185.3 152.1 186.3 153.1 187.3 153.5 188.8 153.4 189.8 153.0 190.8 152.1 192.5 149.9 193.8 148.7 196.8 146.8 199.3 145.8 201.8 145.7 207.3 146.2 211.3 147.1 213.8 148.0 215.8 149.3 217.4 150.9 218.9 152.9 221.3 156.9 221.9 158.4 222.1 159.4 222.1 160.9 221.7 163.4 221.1 165.4 220.3 167.4 219.3 168.9 218.2 169.9 216.8 170.7 215.3 171.3 208.8 172.5Z" fill="none" stroke="#111" stroke-width="0.45" stroke-opacity="1.0"/>
<path d="M209.3 171.5 207.3 171.7 205.3 171.7 203.3 171.3 201.8 170.7 199.3 169.3 196.6 167.4 191.3 162.3 189.8 161.5 187.8 161.2 184.8 161.1 183.3 161.5 182.3 162.2 178.3 166.0 176.8 167.1 175.3 167.9 174.3 168.2 172.8 168.4 170.8 168.0 169.3 167.0 167.9 165.4 167.1 163.9 166.6 161.9 166.4 159.9 166.5 157.4 167.0 154.9 168.0 152.4 169.5 149.9 172.3 146.6 174.3 145.3 176.8 144.6 178.3 144.6 179.3 144.8 180.8 145.6 181.8 146.4 183.2 148.4 185.3 153.3 186.3 154.1 187.3 154.4 189.3 154.4 190.5 153.9 191.3 153.2 193.3 150.6 194.6 149.4 197.3 147.7 199.8 146.8 202.3 146.6 207.3 147.0 210.3 147.6 212.8 148.5 214.4 149.4 216.3 151.0 217.5 152.4 218.7 154.4 220.1 157.4 220.6 158.9 220.8 160.9 220.6 163.4 220.1 165.4 219.5 166.9 218.4 168.4 217.3 169.4 215.8 170.1 214.3 170.6 209.3 171.5Z" fill="none" stroke="#111" stroke-width="0.45" stroke-opacity="1.0"/>
<path d="M209.3 170.5 207.3 170.8 205.3 170.8 203.8 170.6 201.8 169.8 199.8 168.6 197.3 166.7 191.8 161.2 190.3 160.3 188.3 160.0 185.3 160.0 184.3 160.3 183.3 160.7 182.3 161.5 178.8 165.1 177.3 166.3 175.8 167.1 174.3 167.7 173.3 167.9 171.3 167.6 169.8 166.7 168.6 165.4 167.7 163.9 167.0 161.9 166.8 159.9 166.9 157.4 167.4 154.9 167.9 153.4 169.6 150.4 172.3 147.3 174.3 145.8 176.8 145.1 178.3 145.1 179.3 145.4 180.3 145.9 181.3 146.7 182.6 148.4 184.8 153.8 185.3 154.5 186.3 155.2 187.8 155.6 189.8 155.6 191.3 155.0 192.3 153.9 194.1 151.4 195.1 150.4 197.3 149.0 199.8 148.0 202.3 147.7 206.3 147.8 209.3 148.2 211.8 149.0 213.4 149.9 215.2 151.4 216.6 152.9 217.6 154.4 218.4 156.4 219.2 158.9 219.6 161.4 219.6 163.4 219.3 164.9 218.7 166.4 217.8 167.6 216.8 168.4 214.3 169.6 209.3 170.5Z" fill="none" stroke="#111" stroke-width="0.45" stroke-opacity="1.0"/>
<path d="M174.8 167.0 173.3 167.3 171.8 167.2 170.3 166.4 168.9 164.9 168.0 163.4 167.4 161.4 167.2 159.4 167.4 156.9 168.0 154.4 168.6 152.9 169.8 150.9 171.8 148.5 173.3 147.1 174.8 146.2 176.3 145.7 177.8 145.7 179.8 146.3 181.5 147.9 182.9 150.4 184.8 155.4 186.1 157.4 186.0 157.9 182.8 160.3 178.3 165.0 176.8 166.1 174.8 167.0ZM206.3 169.9 204.3 169.8 202.8 169.3 200.8 168.2 199.3 167.1 197.4 165.4 194.7 162.4 191.5 158.4 191.5 157.4 194.8 152.3 196.3 150.9 198.8 149.7 201.3 149.0 204.8 148.7 207.8 148.8 210.3 149.4 212.3 150.4 214.3 151.9 216.0 153.9 217.1 155.9 218.1 159.4 218.6 162.4 218.4 164.4 218.0 165.4 217.4 166.4 215.8 167.8 214.3 168.4 206.3 169.9Z" fill="none" stroke="#111" stroke-width="0.45" stroke-opacity="1.0"/>
<path d="M174.8 166.4 173.3 166.7 171.8 166.5 170.3 165.6 169.3 164.5 168.4 162.9 167.9 161.4 167.6 159.4 167.7 157.4 168.1 155.4 169.0 152.9 170.0 151.4 171.8 149.2 173.3 147.8 174.8 146.8 176.3 146.4 177.8 146.3 178.8 146.6 179.8 147.1 180.8 148.0 181.8 149.4 183.1 152.4 183.9 155.4 184.0 156.9 183.7 157.9 183.1 158.9 179.4 163.4 177.3 165.2 174.8 166.4ZM208.8 168.4 206.8 168.8 205.3 168.9 203.8 168.6 201.8 167.7 198.9 165.4 195.1 160.9 193.9 158.9 193.8 157.9 193.8 156.9 194.4 155.4 195.2 153.9 196.8 152.1 198.8 151.1 201.8 150.3 204.8 149.8 207.3 149.7 209.3 150.1 211.3 151.0 213.2 152.4 214.8 154.1 216.0 156.4 217.2 160.4 217.6 162.4 217.3 164.4 216.3 165.9 214.8 167.0 212.8 167.6 208.8 168.4Z" fill="none" stroke="#111" stroke-width="0.45" stroke-opacity="1.0"/>
<path d="M174.3 166.0 172.8 166.1 171.8 165.8 170.8 165.2 169.6 163.9 168.7 162.4 168.2 160.4 168.0 158.9 168.2 156.9 168.7 154.9 169.6 152.9 171.8 150.0 173.3 148.6 174.8 147.6 176.3 147.0 177.8 147.0 178.8 147.3 179.8 148.0 180.8 149.0 181.7 150.4 182.6 152.4 183.0 153.9 183.2 155.4 183.1 156.9 182.5 158.4 181.9 159.4 179.2 162.9 176.8 164.9 175.3 165.7 174.3 166.0ZM208.3 167.5 205.8 167.8 203.3 167.2 200.8 165.8 199.0 163.9 196.1 159.9 195.6 158.9 195.4 157.9 195.4 156.9 195.9 155.4 196.5 154.4 197.4 153.4 198.8 152.6 201.8 151.7 205.3 150.9 207.3 150.8 208.8 151.1 210.6 151.9 211.9 152.9 213.4 154.4 214.6 156.4 216.1 160.4 216.4 162.4 216.2 163.9 215.3 165.1 213.8 166.0 208.3 167.5Z" fill="none" stroke="#111" stroke-width="0.45" stroke-opacity="1.0"/>
<path d="M175.3 165.0 173.8 165.4 172.3 165.2 171.3 164.7 170.3 163.8 169.3 162.4 168.8 160.9 168.5 159.4 168.6 157.4 169.0 155.4 169.6 153.9 171.3 151.4 174.3 148.6 175.8 147.9 177.3 147.7 178.3 148.0 179.3 148.5 181.0 150.4 182.1 152.9 182.5 154.4 182.5 155.9 182.0 157.9 179.8 161.4 177.8 163.5 175.3 165.0ZM207.8 166.4 205.8 166.6 203.8 166.2 201.8 165.2 200.3 163.7 197.8 159.4 197.3 157.9 197.3 156.9 197.7 155.9 198.8 154.7 200.1 153.9 201.8 153.3 205.7 152.4 207.3 152.3 208.8 152.6 209.8 153.1 211.6 154.9 214.6 159.9 215.0 161.4 215.0 162.9 214.3 164.1 213.1 164.9 211.3 165.6 207.8 166.4Z" fill="none" stroke="#111" stroke-width="0.45" stroke-opacity="1.0"/>
<path d="M174.8 164.5 173.3 164.6 172.3 164.4 171.3 163.8 170.3 162.8 169.5 161.4 169.1 159.9 169.1 156.9 169.5 155.4 170.1 153.9 171.8 151.6 173.3 150.3 174.8 149.2 176.3 148.6 177.3 148.6 178.3 148.9 179.3 149.5 180.8 151.4 181.8 153.9 181.8 156.4 181.5 157.4 180.5 159.4 178.8 161.8 176.8 163.6 174.8 164.5ZM208.3 165.0 206.3 165.3 204.8 165.2 203.3 164.6 201.8 163.4 200.9 161.9 200.5 159.4 200.7 157.9 201.5 156.9 203.1 155.9 206.3 154.7 207.8 154.8 209.3 155.8 212.8 160.2 213.2 160.9 213.4 161.9 213.0 162.9 212.3 163.5 210.8 164.3 208.3 165.0Z" fill="none" stroke="#111" stroke-width="0.45" stroke-opacity="1.0"/>
<path d="M175.3 163.5 173.8 163.8 172.8 163.7 171.8 163.2 170.9 162.4 170.2 161.4 169.7 159.9 169.6 158.4 169.7 156.9 170.5 154.4 171.3 153.1 172.3 152.0 174.8 150.1 176.3 149.5 177.3 149.5 178.8 150.2 180.3 151.9 181.1 153.9 181.1 155.9 180.6 157.9 178.8 160.8 177.3 162.4 175.3 163.5ZM206.8 163.5 205.3 163.5 204.3 163.1 203.6 162.4 203.4 161.4 203.8 160.6 204.3 160.1 205.3 159.6 206.8 159.2 207.8 159.4 208.8 159.9 209.8 160.7 210.1 161.4 210.1 161.9 209.6 162.4 208.7 162.9 206.8 163.5Z" fill="none" stroke="#111" stroke-width="0.45" stroke-opacity="1.0"/>
<path d="M175.3 162.6 174.3 162.9 173.3 162.9 172.3 162.5 171.3 161.7 170.5 160.4 170.3 159.4 170.3 156.9 171.2 154.4 172.8 152.5 175.3 150.8 176.3 150.5 177.3 150.6 178.8 151.4 179.8 152.6 180.4 154.4 180.4 155.9 179.8 157.9 178.6 159.9 177.3 161.4 175.3 162.6Z" fill="none" stroke="#111" stroke-width="0.45" stroke-opacity="1.0"/>
<path d="M175.3 161.6 174.3 161.8 173.3 161.8 172.3 161.3 171.8 160.9 171.2 159.9 170.9 158.9 171.0 156.9 171.7 154.9 172.9 153.4 174.8 152.1 175.8 151.7 176.8 151.6 177.8 152.0 178.8 152.9 179.5 154.4 179.5 155.9 178.9 157.9 178.0 159.4 176.8 160.7 175.3 161.6Z" fill="none" stroke="#111" stroke-width="0.45" stroke-opacity="1.0"/>
<path d="M174.8 160.5 173.3 160.5 172.3 159.7 171.8 158.4 171.9 156.9 172.4 155.4 173.8 153.9 175.3 153.1 176.8 153.0 177.8 153.7 178.2 154.4 178.4 155.4 178.3 156.4 177.8 157.8 177.1 158.9 176.0 159.9 174.8 160.5Z" fill="none" stroke="#111" stroke-width="0.45" stroke-opacity="1.0"/>
<path d="M175.3 158.5 174.3 158.8 173.8 158.6 173.3 157.9 173.3 156.9 173.7 155.9 174.3 155.3 175.0 154.9 175.8 154.8 176.6 155.4 176.7 156.4 176.3 157.5 175.3 158.5Z" fill="none" stroke="#111" stroke-width="0.45" stroke-opacity="1.0"/>
</g>
<clipPath id="cc3"><rect x="294.3" y="114.5" width="82.90" height="83.10"/></clipPath>
<g clip-path="url(#cc3)">
<path d="M329.2 171.6h0.6v0.6h-0.6zM329.6 171.5h0.6v0.6h-0.6zM319.6 176.7h0.6v0.6h-0.6zM325.4 137.6h0.6v0.6h-0.6zM301.4 169.6h0.6v0.6h-0.6zM347.1 143.1h0.6v0.6h-0.6zM359.2 173.6h0.6v0.6h-0.6zM303.7 140.7h0.6v0.6h-0.6zM353.3 143.1h0.6v0.6h-0.6zM360.1 140.4h0.6v0.6h-0.6zM370.0 173.4h0.6v0.6h-0.6zM317.4 172.7h0.6v0.6h-0.6zM299.7 148.2h0.6v0.6h-0.6zM300.8 146.3h0.6v0.6h-0.6zM323.0 174.7h0.6v0.6h-0.6zM298.2 168.5h0.6v0.6h-0.6zM317.0 142.3h0.6v0.6h-0.6zM324.0 142.7h0.6v0.6h-0.6zM361.3 143.2h0.6v0.6h-0.6zM319.1 139.9h0.6v0.6h-0.6zM296.0 165.2h0.6v0.6h-0.6zM330.2 142.6h0.6v0.6h-0.6zM354.1 143.6h0.6v0.6h-0.6zM360.2 144.0h0.6v0.6h-0.6zM367.6 169.5h0.6v0.6h-0.6zM295.1 160.9h0.6v0.6h-0.6zM330.3 145.4h0.6v0.6h-0.6zM351.1 171.2h0.6v0.6h-0.6zM298.2 168.5h0.6v0.6h-0.6zM326.4 144.6h0.6v0.6h-0.6zM306.4 174.8h0.6v0.6h-0.6zM347.4 170.7h0.6v0.6h-0.6zM326.0 140.5h0.6v0.6h-0.6zM294.2 152.5h0.6v0.6h-0.6zM363.8 141.9h0.6v0.6h-0.6zM331.2 145.7h0.6v0.6h-0.6zM294.3 143.9h0.6v0.6h-0.6zM350.8 138.7h0.6v0.6h-0.6zM375.1 142.9h0.6v0.6h-0.6zM337.4 171.8h0.6v0.6h-0.6zM353.3 142.5h0.6v0.6h-0.6zM320.6 142.2h0.6v0.6h-0.6zM339.0 139.2h0.6v0.6h-0.6zM294.2 143.8h0.6v0.6h-0.6zM336.1 140.1h0.6v0.6h-0.6zM327.7 175.6h0.6v0.6h-0.6zM336.2 171.4h0.6v0.6h-0.6zM298.8 147.2h0.6v0.6h-0.6zM327.9 171.8h0.6v0.6h-0.6zM295.7 140.1h0.6v0.6h-0.6zM322.4 142.1h0.6v0.6h-0.6zM345.0 171.4h0.6v0.6h-0.6zM303.5 145.7h0.6v0.6h-0.6zM306.2 138.8h0.6v0.6h-0.6zM346.0 142.9h0.6v0.6h-0.6zM316.4 175.0h0.6v0.6h-0.6zM301.2 169.6h0.6v0.6h-0.6zM335.2 144.6h0.6v0.6h-0.6zM342.7 142.7h0.6v0.6h-0.6zM341.6 175.4h0.6v0.6h-0.6zM335.1 144.7h0.6v0.6h-0.6zM357.6 138.5h0.6v0.6h-0.6zM344.6 171.6h0.6v0.6h-0.6zM312.8 171.5h0.6v0.6h-0.6zM318.1 141.4h0.6v0.6h-0.6zM296.0 161.9h0.6v0.6h-0.6zM310.0 143.4h0.6v0.6h-0.6zM317.0 142.8h0.6v0.6h-0.6zM326.5 172.1h0.6v0.6h-0.6zM306.9 139.5h0.6v0.6h-0.6zM327.6 171.3h0.6v0.6h-0.6zM311.8 143.3h0.6v0.6h-0.6zM314.9 143.2h0.6v0.6h-0.6zM355.0 172.4h0.6v0.6h-0.6zM294.5 150.5h0.6v0.6h-0.6zM298.0 143.6h0.6v0.6h-0.6zM347.1 173.1h0.6v0.6h-0.6zM323.0 144.6h0.6v0.6h-0.6zM316.7 141.3h0.6v0.6h-0.6zM297.6 150.6h0.6v0.6h-0.6zM320.7 141.6h0.6v0.6h-0.6zM371.0 141.8h0.6v0.6h-0.6zM340.4 171.9h0.6v0.6h-0.6zM313.1 143.6h0.6v0.6h-0.6zM321.9 171.5h0.6v0.6h-0.6zM302.0 139.5h0.6v0.6h-0.6zM297.3 152.7h0.6v0.6h-0.6zM353.7 139.4h0.6v0.6h-0.6zM312.2 140.8h0.6v0.6h-0.6zM331.7 143.2h0.6v0.6h-0.6zM305.8 137.8h0.6v0.6h-0.6zM303.4 145.7h0.6v0.6h-0.6zM317.5 138.5h0.6v0.6h-0.6zM326.7 170.8h0.6v0.6h-0.6zM356.0 137.1h0.6v0.6h-0.6zM311.9 143.4h0.6v0.6h-0.6zM317.7 171.0h0.6v0.6h-0.6zM294.3 149.8h0.6v0.6h-0.6zM302.3 147.7h0.6v0.6h-0.6zM325.5 172.2h0.6v0.6h-0.6zM300.6 172.4h0.6v0.6h-0.6zM301.7 170.8h0.6v0.6h-0.6zM310.8 141.7h0.6v0.6h-0.6zM348.0 172.0h0.6v0.6h-0.6zM352.0 143.7h0.6v0.6h-0.6zM323.8 175.3h0.6v0.6h-0.6zM362.0 143.1h0.6v0.6h-0.6zM356.2 172.9h0.6v0.6h-0.6zM301.1 144.4h0.6v0.6h-0.6zM329.7 173.7h0.6v0.6h-0.6zM299.7 171.8h0.6v0.6h-0.6zM325.2 172.0h0.6v0.6h-0.6zM358.3 138.6h0.6v0.6h-0.6zM336.7 172.3h0.6v0.6h-0.6zM337.3 143.7h0.6v0.6h-0.6zM342.9 143.2h0.6v0.6h-0.6zM370.5 143.2h0.6v0.6h-0.6zM312.8 174.2h0.6v0.6h-0.6zM297.5 175.1h0.6v0.6h-0.6zM315.9 139.0h0.6v0.6h-0.6zM375.0 169.9h0.6v0.6h-0.6zM353.4 171.3h0.6v0.6h-0.6zM341.4 171.3h0.6v0.6h-0.6zM320.6 136.8h0.6v0.6h-0.6zM321.9 143.4h0.6v0.6h-0.6zM295.2 166.8h0.6v0.6h-0.6zM316.6 142.5h0.6v0.6h-0.6zM314.0 139.5h0.6v0.6h-0.6zM299.4 147.8h0.6v0.6h-0.6zM353.4 139.2h0.6v0.6h-0.6zM347.5 142.3h0.6v0.6h-0.6zM334.7 140.5h0.6v0.6h-0.6zM303.1 169.6h0.6v0.6h-0.6zM359.6 140.2h0.6v0.6h-0.6zM332.4 174.1h0.6v0.6h-0.6zM366.9 143.2h0.6v0.6h-0.6zM357.6 171.5h0.6v0.6h-0.6zM301.1 142.5h0.6v0.6h-0.6zM310.4 138.7h0.6v0.6h-0.6zM312.8 171.1h0.6v0.6h-0.6zM298.7 150.2h0.6v0.6h-0.6zM322.3 175.8h0.6v0.6h-0.6zM312.9 142.4h0.6v0.6h-0.6zM366.1 172.4h0.6v0.6h-0.6zM334.3 142.4h0.6v0.6h-0.6zM301.0 149.1h0.6v0.6h-0.6zM328.1 142.2h0.6v0.6h-0.6zM343.0 174.6h0.6v0.6h-0.6zM294.1 160.2h0.6v0.6h-0.6zM327.3 144.5h0.6v0.6h-0.6zM298.0 150.1h0.6v0.6h-0.6zM314.1 173.2h0.6v0.6h-0.6zM299.5 171.1h0.6v0.6h-0.6zM332.2 145.5h0.6v0.6h-0.6zM367.3 170.5h0.6v0.6h-0.6zM340.9 140.5h0.6v0.6h-0.6zM304.5 144.3h0.6v0.6h-0.6zM302.1 143.6h0.6v0.6h-0.6zM367.6 142.9h0.6v0.6h-0.6zM350.8 173.6h0.6v0.6h-0.6zM300.2 148.9h0.6v0.6h-0.6zM351.1 176.4h0.6v0.6h-0.6zM316.8 143.0h0.6v0.6h-0.6zM332.0 145.0h0.6v0.6h-0.6zM334.0 172.4h0.6v0.6h-0.6zM342.0 173.6h0.6v0.6h-0.6zM296.4 170.5h0.6v0.6h-0.6zM333.8 143.6h0.6v0.6h-0.6zM317.6 171.0h0.6v0.6h-0.6zM315.9 171.9h0.6v0.6h-0.6zM294.8 168.1h0.6v0.6h-0.6zM324.0 171.7h0.6v0.6h-0.6zM351.3 170.9h0.6v0.6h-0.6zM372.8 142.1h0.6v0.6h-0.6zM353.4 142.3h0.6v0.6h-0.6zM320.6 139.7h0.6v0.6h-0.6zM335.0 175.1h0.6v0.6h-0.6zM360.4 139.5h0.6v0.6h-0.6zM321.7 171.4h0.6v0.6h-0.6zM299.5 147.1h0.6v0.6h-0.6zM330.6 173.9h0.6v0.6h-0.6zM368.5 142.4h0.6v0.6h-0.6zM317.7 174.9h0.6v0.6h-0.6zM355.8 140.8h0.6v0.6h-0.6zM315.7 140.9h0.6v0.6h-0.6zM300.1 149.0h0.6v0.6h-0.6zM331.8 142.0h0.6v0.6h-0.6zM362.2 143.2h0.6v0.6h-0.6zM335.4 144.8h0.6v0.6h-0.6zM295.6 167.5h0.6v0.6h-0.6zM298.1 150.0h0.6v0.6h-0.6zM337.8 172.3h0.6v0.6h-0.6zM348.5 137.1h0.6v0.6h-0.6zM310.1 172.3h0.6v0.6h-0.6zM370.6 140.1h0.6v0.6h-0.6zM297.4 142.1h0.6v0.6h-0.6zM350.4 140.1h0.6v0.6h-0.6zM318.0 143.9h0.6v0.6h-0.6zM358.9 170.7h0.6v0.6h-0.6zM323.0 138.3h0.6v0.6h-0.6z" fill="#aaa"/>
<path d="M312.3 167.5 310.8 167.8 309.3 167.7 307.8 167.2 306.3 166.1 304.9 164.5 304.1 163.0 303.7 161.5 303.4 159.5 303.5 157.5 304.6 153.5 305.2 152.0 307.6 149.0 308.8 147.8 309.8 147.1 311.3 146.7 312.8 146.8 314.8 147.2 316.8 148.2 318.3 149.2 319.5 150.5 320.1 151.5 320.7 154.5 320.6 156.5 319.6 160.5 318.0 164.0 316.8 165.5 315.8 166.2 312.3 167.5Z" fill="#161616" fill-rule="evenodd"/>
<path d="M312.3 165.1 309.8 165.2 308.3 164.8 307.3 164.1 305.9 162.5 305.6 161.5 305.3 160.0 305.5 158.0 306.5 155.5 307.0 153.5 307.7 152.0 309.3 149.8 310.3 149.2 311.3 148.9 314.3 149.4 316.6 150.5 318.1 152.0 318.5 153.0 318.7 154.0 318.6 155.5 317.8 159.5 316.4 162.5 315.7 163.5 314.8 164.2 312.3 165.1Z" fill="#505050" fill-rule="evenodd"/>
<path d="M312.3 163.0 310.3 163.2 308.8 162.8 307.8 162.1 307.4 161.5 306.9 160.0 307.1 158.5 308.4 156.0 309.0 153.0 309.5 152.0 310.3 151.0 311.8 150.5 313.8 150.9 315.3 151.8 316.4 153.0 316.8 154.5 316.6 157.5 316.0 159.5 315.3 160.7 314.3 161.9 313.3 162.6 312.3 163.0Z" fill="#888" fill-rule="evenodd"/>
<path d="M310.8 161.5 309.8 161.3 308.8 160.5 308.6 160.0 308.6 159.0 310.0 156.0 310.8 152.8 311.3 152.3 311.8 152.1 312.8 152.1 313.8 152.6 314.9 154.0 315.4 155.5 315.4 157.5 314.8 159.0 313.8 160.2 312.3 161.2 310.8 161.5Z" fill="#bbb" fill-rule="evenodd"/>
<path d="M312.3 159.6 311.3 159.9 310.8 159.8 310.3 159.5 310.2 159.0 310.4 158.0 311.8 155.2 312.3 154.5 312.8 154.3 313.3 154.5 313.8 155.1 314.1 156.0 314.2 157.0 313.7 158.5 312.3 159.6Z" fill="#eee" fill-rule="evenodd"/>
<path d="M360.8 167.1 358.3 167.3 354.8 166.9 350.8 167.4 347.3 166.5 345.8 166.4 341.3 167.2 336.3 166.1 332.8 166.4 327.8 165.0 327.0 164.5 326.7 164.0 326.7 163.5 327.1 162.5 328.3 161.7 329.3 161.5 331.8 161.5 333.3 161.3 336.3 160.6 339.6 160.0 342.3 159.0 343.3 158.8 347.8 158.8 352.3 159.1 357.8 158.4 363.3 158.8 367.3 158.0 372.8 158.8 376.8 158.8 377.1 161.5 376.8 164.7 372.8 165.5 367.8 165.7 363.8 166.7 360.8 167.1Z" fill="#707070" fill-rule="evenodd"/>
<path d="M362.3 165.1 359.8 165.4 358.3 165.4 355.3 164.4 354.3 164.2 351.8 165.2 350.3 165.1 349.0 164.5 347.1 163.0 346.8 162.5 346.9 162.0 347.8 161.2 349.3 160.8 350.8 160.8 353.3 161.3 354.3 161.4 356.8 160.5 358.8 160.2 363.3 160.8 366.9 161.5 366.8 162.0 364.7 164.0 363.8 164.6 362.3 165.1ZM341.8 164.1 340.8 164.2 340.3 164.0 340.1 163.5 340.5 163.0 341.3 162.7 342.3 162.7 342.8 163.0 342.7 163.5 341.8 164.1Z" fill="#333" fill-rule="evenodd"/>
<path d="M338.3 171.1 332.8 171.4 329.3 170.4 327.8 170.3 322.8 171.2 320.3 171.3 315.8 170.5 313.9 170.5 309.3 171.0 307.3 170.8 305.8 170.3 303.3 169.0 297.3 166.3 296.2 165.5 296.0 165.0 295.8 161.5 295.3 160.3 294.3 159.2 294.3 153.4 296.8 153.7 297.8 153.7 298.8 153.2 299.8 152.0 301.1 149.0 304.3 145.9 305.3 145.3 309.3 143.9 310.3 143.7 316.8 144.0 321.3 144.9 324.8 144.4 325.8 144.4 328.8 145.6 330.3 145.9 335.8 145.4 339.9 144.5 342.8 143.4 344.3 143.1 347.8 143.7 351.3 145.1 352.3 145.2 353.3 145.0 355.8 143.9 356.8 143.8 362.3 144.3 366.3 143.8 369.8 143.9 372.8 143.2 376.8 144.0 377.2 148.0 377.3 161.0 377.2 166.5 376.8 168.7 375.3 168.8 371.3 168.7 366.8 169.5 360.3 170.1 356.8 170.1 352.3 170.7 350.3 170.7 345.8 170.1 338.3 171.1Z" fill="none" stroke="#111" stroke-width="0.45" stroke-opacity="1.0"/>
<path d="M335.3 170.5 332.8 170.6 328.3 169.5 323.3 170.2 319.3 169.7 314.8 169.7 309.8 170.2 308.3 170.1 306.8 169.8 305.2 169.0 301.9 166.5 299.3 165.0 298.3 164.2 297.8 163.0 297.6 161.0 297.6 159.5 297.8 158.5 298.3 157.5 300.4 155.0 301.4 151.5 302.3 149.9 307.2 146.0 308.8 145.0 310.3 144.5 312.3 144.5 315.8 145.1 318.8 146.6 320.3 146.9 325.8 145.7 329.8 146.6 335.3 146.3 340.3 145.3 342.8 144.3 344.3 144.0 347.8 144.6 351.3 146.0 352.3 146.1 353.3 146.0 355.8 144.8 356.8 144.6 360.8 145.1 366.3 144.7 369.8 145.0 372.8 144.4 376.8 145.0 377.1 148.5 377.3 161.0 377.2 165.5 376.8 168.1 375.3 168.3 371.3 168.2 366.8 168.9 352.3 170.1 350.8 170.1 345.8 169.6 340.3 170.2 335.3 170.5Z" fill="none" stroke="#111" stroke-width="0.45" stroke-opacity="1.0"/>
<path d="M352.3 169.5 350.3 169.5 345.8 169.0 340.8 169.5 333.8 169.8 332.3 169.7 328.8 168.9 327.3 168.9 323.3 169.5 319.3 168.7 314.3 169.0 310.8 169.4 308.3 169.2 306.8 168.7 305.6 168.0 301.1 163.5 300.4 162.0 300.2 160.0 300.3 158.5 301.8 155.2 302.2 152.5 302.8 151.0 305.4 149.0 308.3 146.3 309.3 145.7 310.3 145.3 311.8 145.3 314.3 145.8 315.8 146.2 318.8 147.7 320.3 147.9 325.3 146.9 329.3 147.4 335.8 147.1 340.8 146.1 343.3 145.2 344.8 145.0 347.8 145.4 350.8 146.8 351.8 147.0 352.8 146.9 355.8 145.7 356.8 145.5 360.3 145.9 366.3 145.7 370.3 146.2 376.8 145.9 377.1 149.0 377.2 161.0 377.1 165.0 376.8 167.5 374.8 167.7 370.8 167.7 366.3 168.4 352.3 169.5Z" fill="none" stroke="#111" stroke-width="0.45" stroke-opacity="1.0"/>
<path d="M359.3 168.5 351.3 168.9 345.8 168.4 340.8 168.9 336.8 168.8 333.8 169.0 328.8 168.2 323.3 168.7 320.3 167.9 319.3 167.8 311.3 168.6 308.8 168.4 307.3 167.9 306.3 167.3 303.2 164.0 302.4 162.5 302.0 161.0 301.7 159.0 301.8 158.0 302.8 155.4 303.3 152.5 303.8 151.5 306.2 149.5 308.8 146.9 309.8 146.3 310.8 146.1 312.3 146.2 314.3 146.7 315.8 147.1 318.8 148.5 320.8 148.8 325.3 148.1 328.8 148.2 335.8 147.9 341.8 147.1 344.3 146.1 345.3 146.0 347.3 146.3 350.3 147.6 351.8 147.9 353.3 147.5 355.3 146.6 356.8 146.3 360.3 146.7 365.3 146.5 370.8 147.4 374.3 147.4 376.8 146.9 377.0 149.5 377.2 161.0 377.1 164.5 376.8 166.7 374.8 167.1 370.3 167.2 365.8 167.9 359.3 168.5Z" fill="none" stroke="#111" stroke-width="0.45" stroke-opacity="1.0"/>
<path d="M358.8 168.0 354.8 168.0 351.3 168.3 345.8 167.7 341.3 168.3 336.8 167.8 333.3 168.2 328.8 167.5 323.8 168.0 322.8 167.9 319.8 167.0 311.8 167.7 309.8 167.7 308.3 167.3 307.3 166.9 305.8 165.7 304.3 164.0 303.5 162.5 303.2 161.0 302.9 159.5 302.9 158.0 303.8 155.4 304.2 153.0 304.7 152.0 308.8 147.8 309.8 147.2 310.8 146.9 312.3 147.0 314.8 147.6 319.5 149.5 321.8 150.0 327.8 149.5 332.3 148.7 335.3 148.8 339.3 148.4 342.3 148.6 343.3 148.3 344.8 147.4 345.8 147.1 347.3 147.4 349.9 148.5 351.3 148.8 352.8 148.5 355.8 147.3 356.8 147.2 360.3 147.7 363.3 147.3 364.8 147.4 369.8 148.5 374.3 148.8 375.3 148.7 376.8 148.1 377.2 161.0 376.8 165.9 374.3 166.4 368.8 166.6 364.8 167.3 358.8 168.0Z" fill="none" stroke="#111" stroke-width="0.45" stroke-opacity="1.0"/>
<path d="M352.3 167.5 350.3 167.6 346.3 166.8 341.3 167.6 336.8 166.9 333.3 167.3 328.8 166.6 326.8 166.7 323.8 167.2 319.8 166.1 316.3 166.7 311.3 166.9 309.3 166.7 307.8 166.2 306.8 165.5 304.9 163.5 304.4 162.5 304.0 161.0 303.8 159.0 303.8 158.0 304.8 155.4 305.3 153.0 305.9 152.0 308.8 148.7 309.8 148.0 310.8 147.7 312.3 147.8 315.8 148.7 319.3 150.3 321.8 151.9 322.8 152.2 328.3 151.2 331.0 150.0 332.3 149.7 335.8 149.7 338.8 149.5 342.3 150.1 343.3 150.1 344.3 149.8 345.8 148.8 346.8 148.6 347.8 148.8 350.3 149.8 351.3 149.9 352.3 149.6 354.8 148.4 356.3 148.0 357.3 148.1 360.3 148.9 363.8 148.4 365.3 148.5 367.0 149.0 369.8 150.6 370.8 150.8 372.9 150.5 374.3 151.0 374.7 151.5 374.7 152.0 374.3 153.0 373.8 153.2 372.3 153.5 372.0 154.5 372.4 155.5 373.3 155.9 374.3 155.6 375.3 155.2 376.8 155.1 377.1 161.0 376.8 165.0 373.3 165.7 367.8 165.9 364.3 166.8 360.3 167.3 357.8 167.4 354.8 167.2 352.3 167.5Z" fill="none" stroke="#111" stroke-width="0.45" stroke-opacity="1.0"/>
<path d="M361.3 166.6 358.3 166.8 354.8 166.3 350.8 166.9 346.3 165.7 344.8 165.9 342.3 166.6 340.8 166.7 336.3 165.7 332.8 166.2 329.3 165.5 326.3 165.3 323.3 165.8 320.3 164.9 319.3 164.9 316.3 165.8 309.8 166.0 307.8 165.3 306.8 164.6 305.7 163.5 305.2 162.5 304.9 161.5 304.6 160.0 304.6 158.5 304.9 157.5 305.8 155.5 306.4 153.0 306.9 152.0 308.4 150.0 309.3 149.1 310.3 148.6 311.3 148.4 314.8 149.1 317.3 150.1 319.6 151.5 321.8 153.8 323.3 154.3 324.3 154.3 326.3 153.6 329.3 153.4 330.3 153.1 330.8 152.8 331.9 151.5 332.9 151.0 338.8 150.6 343.3 151.4 344.8 151.1 346.3 150.4 347.3 150.2 348.3 150.4 350.3 151.4 351.3 151.4 352.3 150.9 354.8 149.2 356.3 148.9 357.3 149.2 358.5 150.0 359.2 151.0 360.3 153.5 361.3 154.3 361.8 153.9 363.0 151.5 363.7 150.5 364.3 150.1 365.3 150.0 366.8 150.7 368.9 152.5 369.6 153.5 370.5 156.0 371.3 157.0 372.3 157.5 373.3 157.8 376.8 157.5 377.0 161.0 376.8 164.0 371.8 164.9 367.3 165.0 363.8 166.2 361.3 166.6Z" fill="none" stroke="#111" stroke-width="0.45" stroke-opacity="1.0"/>
<path d="M312.8 165.0 309.8 165.1 307.8 164.3 306.7 163.5 306.0 162.5 305.6 161.5 305.4 160.0 305.6 158.0 306.8 155.5 307.4 153.0 307.9 152.0 309.3 150.0 310.3 149.4 311.3 149.2 312.8 149.3 314.8 149.8 317.8 151.2 318.7 152.0 319.5 153.0 320.0 154.0 320.2 155.0 320.1 155.5 319.0 157.5 318.7 161.5 318.4 162.5 317.8 163.5 317.3 164.0 316.3 164.5 312.8 165.0ZM359.8 166.0 357.8 166.0 354.8 165.3 353.8 165.4 351.8 166.0 350.8 166.1 349.8 165.8 347.3 164.7 345.8 164.5 344.3 164.8 342.3 165.6 340.8 165.8 339.3 165.4 334.8 163.8 333.8 163.8 332.3 164.3 328.3 163.8 327.5 163.5 327.0 163.0 326.5 162.0 326.1 159.0 326.3 157.0 326.8 155.9 327.3 155.5 328.3 155.2 329.8 155.2 331.8 155.7 332.8 155.5 334.9 153.5 336.3 152.8 337.8 152.3 338.8 152.2 343.8 152.7 346.8 152.5 347.8 152.7 348.6 153.5 349.8 157.5 350.8 158.2 352.3 158.4 353.1 158.0 353.6 157.5 353.9 156.5 352.6 154.5 352.5 154.0 352.8 153.0 354.3 150.9 354.9 150.5 355.8 150.3 356.5 150.5 357.2 151.5 357.3 152.5 357.0 155.0 357.2 155.5 361.3 158.0 362.8 158.3 363.6 158.0 363.9 157.5 364.5 154.0 365.3 152.9 366.3 152.7 367.3 153.0 368.3 153.9 369.4 157.0 370.3 158.0 371.3 158.5 372.8 158.9 376.8 159.2 376.8 162.7 371.3 163.9 367.3 163.8 366.3 164.1 363.3 165.5 359.8 166.0Z" fill="none" stroke="#111" stroke-width="0.45" stroke-opacity="1.0"/>
<path d="M312.3 164.1 309.8 164.1 307.8 163.3 306.7 162.0 306.2 160.0 306.3 158.5 307.8 155.7 308.3 153.0 308.7 152.0 309.8 150.6 310.3 150.2 311.3 149.9 313.3 150.1 315.8 151.1 317.7 152.5 318.4 154.0 317.4 159.5 316.3 162.0 315.8 162.6 314.8 163.4 312.3 164.1ZM361.3 165.0 358.3 165.1 355.3 164.1 354.3 163.9 351.8 164.9 350.8 165.0 349.8 164.8 347.3 163.3 345.8 162.8 344.8 162.9 341.8 164.3 340.8 164.5 339.8 164.2 338.7 163.5 338.4 163.0 338.3 162.5 338.8 162.0 340.7 161.0 341.0 160.5 341.1 159.5 340.7 158.0 340.7 157.0 341.3 155.7 342.3 155.1 342.8 155.1 343.8 155.5 346.1 157.0 347.6 158.5 348.4 159.0 351.8 160.0 353.8 160.1 356.3 158.9 357.8 158.7 358.8 158.8 361.8 159.7 363.8 160.1 365.3 160.0 366.8 159.3 367.8 159.2 369.8 160.2 372.2 161.0 372.2 161.5 371.3 161.8 368.8 161.7 366.8 162.1 365.8 162.6 363.8 164.3 362.8 164.7 361.3 165.0Z" fill="none" stroke="#111" stroke-width="0.45" stroke-opacity="1.0"/>
<path d="M311.3 163.0 309.8 162.9 308.3 162.3 307.3 161.0 307.1 159.5 307.4 158.5 308.7 156.0 309.3 153.0 309.7 152.0 310.8 151.0 312.3 150.7 314.3 151.3 315.9 152.5 316.8 154.0 316.9 155.5 316.5 158.5 315.6 160.5 313.8 162.3 312.8 162.7 311.3 163.0ZM359.8 164.0 358.3 163.9 357.3 163.4 356.6 162.5 356.6 162.0 356.8 161.5 357.8 160.8 359.3 160.7 361.8 161.3 363.0 162.0 363.2 162.5 363.0 163.0 362.4 163.5 361.3 163.8 359.8 164.0ZM351.3 163.3 350.3 163.4 349.6 163.0 348.9 162.0 349.0 161.5 349.8 161.2 350.3 161.2 351.3 161.7 351.6 162.0 351.8 162.5 351.3 163.3Z" fill="none" stroke="#111" stroke-width="0.45" stroke-opacity="1.0"/>
<path d="M311.8 161.6 310.3 161.7 309.3 161.3 308.6 160.5 308.4 159.5 308.6 158.5 309.9 156.0 310.5 153.0 311.3 152.1 312.3 151.9 313.8 152.4 314.9 153.5 315.6 155.0 315.7 157.0 315.4 158.5 314.8 159.5 313.3 160.9 311.8 161.6Z" fill="none" stroke="#111" stroke-width="0.45" stroke-opacity="1.0"/>
<path d="M312.3 159.6 311.3 159.9 310.8 159.8 310.5 159.5 310.3 159.0 310.5 158.0 311.8 155.5 312.3 154.6 312.8 154.4 313.3 154.6 313.8 155.0 314.2 156.0 314.3 157.0 313.8 158.5 312.3 159.6Z" fill="none" stroke="#111" stroke-width="0.45" stroke-opacity="1.0"/>
</g>
<clipPath id="cc4"><rect x="386.8" y="114.5" width="81.80" height="83.10"/></clipPath>
<g clip-path="url(#cc4)">
<path d="M413.1 139.7h0.6v0.6h-0.6zM414.8 165.7h0.6v0.6h-0.6zM435.1 171.0h0.6v0.6h-0.6zM408.8 168.2h0.6v0.6h-0.6zM445.7 148.2h0.6v0.6h-0.6zM449.6 147.5h0.6v0.6h-0.6zM393.9 169.6h0.6v0.6h-0.6zM404.5 144.1h0.6v0.6h-0.6zM415.5 164.4h0.6v0.6h-0.6zM464.3 158.3h0.6v0.6h-0.6zM426.7 171.6h0.6v0.6h-0.6zM414.0 143.6h0.6v0.6h-0.6zM413.7 168.8h0.6v0.6h-0.6zM462.8 152.8h0.6v0.6h-0.6zM411.8 170.6h0.6v0.6h-0.6zM465.0 158.6h0.6v0.6h-0.6zM415.2 146.4h0.6v0.6h-0.6zM407.1 142.9h0.6v0.6h-0.6zM454.4 172.8h0.6v0.6h-0.6zM407.8 144.4h0.6v0.6h-0.6zM438.7 171.1h0.6v0.6h-0.6zM430.3 146.7h0.6v0.6h-0.6zM402.7 145.1h0.6v0.6h-0.6zM423.5 170.0h0.6v0.6h-0.6zM449.9 146.4h0.6v0.6h-0.6zM411.2 147.3h0.6v0.6h-0.6zM462.5 162.0h0.6v0.6h-0.6zM392.9 146.0h0.6v0.6h-0.6zM423.3 143.4h0.6v0.6h-0.6zM418.7 143.5h0.6v0.6h-0.6zM418.7 167.3h0.6v0.6h-0.6zM394.9 171.9h0.6v0.6h-0.6zM414.5 145.1h0.6v0.6h-0.6zM427.9 146.3h0.6v0.6h-0.6zM446.3 149.3h0.6v0.6h-0.6zM453.5 156.8h0.6v0.6h-0.6zM445.7 142.6h0.6v0.6h-0.6zM468.3 150.3h0.6v0.6h-0.6zM457.6 151.7h0.6v0.6h-0.6zM434.5 145.1h0.6v0.6h-0.6zM387.5 164.6h0.6v0.6h-0.6zM464.3 163.8h0.6v0.6h-0.6zM423.3 170.4h0.6v0.6h-0.6zM440.9 170.3h0.6v0.6h-0.6zM454.7 170.4h0.6v0.6h-0.6zM453.1 172.2h0.6v0.6h-0.6zM454.0 157.5h0.6v0.6h-0.6zM428.8 171.6h0.6v0.6h-0.6zM460.4 150.9h0.6v0.6h-0.6zM428.8 146.0h0.6v0.6h-0.6zM466.5 160.0h0.6v0.6h-0.6zM455.8 172.2h0.6v0.6h-0.6zM387.0 163.8h0.6v0.6h-0.6zM451.0 171.8h0.6v0.6h-0.6zM407.9 169.4h0.6v0.6h-0.6zM398.2 145.9h0.6v0.6h-0.6zM422.7 172.8h0.6v0.6h-0.6zM405.0 172.2h0.6v0.6h-0.6zM436.5 172.8h0.6v0.6h-0.6zM450.3 148.6h0.6v0.6h-0.6zM454.5 157.1h0.6v0.6h-0.6zM398.8 143.9h0.6v0.6h-0.6zM397.3 172.8h0.6v0.6h-0.6zM387.4 160.9h0.6v0.6h-0.6zM417.4 173.0h0.6v0.6h-0.6zM465.4 152.9h0.6v0.6h-0.6zM430.4 170.1h0.6v0.6h-0.6zM398.0 145.9h0.6v0.6h-0.6zM453.4 173.0h0.6v0.6h-0.6zM460.1 169.7h0.6v0.6h-0.6zM396.7 171.4h0.6v0.6h-0.6zM411.5 144.6h0.6v0.6h-0.6zM467.9 152.3h0.6v0.6h-0.6zM444.0 171.6h0.6v0.6h-0.6zM444.5 146.1h0.6v0.6h-0.6zM459.4 155.3h0.6v0.6h-0.6zM455.3 174.8h0.6v0.6h-0.6zM439.5 143.1h0.6v0.6h-0.6zM453.4 153.9h0.6v0.6h-0.6zM413.7 148.5h0.6v0.6h-0.6zM386.9 154.3h0.6v0.6h-0.6zM463.1 162.0h0.6v0.6h-0.6zM453.9 149.5h0.6v0.6h-0.6zM417.2 165.5h0.6v0.6h-0.6zM419.8 169.6h0.6v0.6h-0.6zM442.1 170.9h0.6v0.6h-0.6zM388.2 143.9h0.6v0.6h-0.6zM393.0 169.1h0.6v0.6h-0.6zM451.8 171.8h0.6v0.6h-0.6zM430.9 173.0h0.6v0.6h-0.6zM431.6 147.5h0.6v0.6h-0.6zM452.1 173.1h0.6v0.6h-0.6zM414.9 174.1h0.6v0.6h-0.6zM428.4 170.9h0.6v0.6h-0.6zM456.1 152.4h0.6v0.6h-0.6zM461.0 153.1h0.6v0.6h-0.6zM467.2 165.0h0.6v0.6h-0.6zM409.2 146.1h0.6v0.6h-0.6zM416.1 165.3h0.6v0.6h-0.6zM460.8 167.4h0.6v0.6h-0.6zM457.7 151.7h0.6v0.6h-0.6zM462.1 156.7h0.6v0.6h-0.6zM410.8 165.0h0.6v0.6h-0.6zM389.0 167.3h0.6v0.6h-0.6zM467.1 159.4h0.6v0.6h-0.6zM412.9 165.7h0.6v0.6h-0.6zM413.4 172.0h0.6v0.6h-0.6zM413.6 146.2h0.6v0.6h-0.6zM395.1 143.5h0.6v0.6h-0.6zM457.2 156.0h0.6v0.6h-0.6zM397.1 172.4h0.6v0.6h-0.6zM421.7 143.5h0.6v0.6h-0.6zM410.4 147.0h0.6v0.6h-0.6zM402.1 143.4h0.6v0.6h-0.6zM411.6 143.8h0.6v0.6h-0.6zM387.7 163.8h0.6v0.6h-0.6zM460.3 170.6h0.6v0.6h-0.6zM466.2 158.5h0.6v0.6h-0.6zM428.5 146.8h0.6v0.6h-0.6zM429.8 146.2h0.6v0.6h-0.6zM440.5 144.8h0.6v0.6h-0.6zM426.1 143.9h0.6v0.6h-0.6zM440.4 172.8h0.6v0.6h-0.6zM448.6 172.1h0.6v0.6h-0.6zM412.4 146.5h0.6v0.6h-0.6zM414.9 168.2h0.6v0.6h-0.6zM412.9 166.2h0.6v0.6h-0.6zM444.4 149.8h0.6v0.6h-0.6zM442.7 171.0h0.6v0.6h-0.6zM400.2 171.2h0.6v0.6h-0.6zM455.8 174.7h0.6v0.6h-0.6zM443.3 145.4h0.6v0.6h-0.6zM458.1 147.7h0.6v0.6h-0.6zM418.3 170.9h0.6v0.6h-0.6zM413.8 171.1h0.6v0.6h-0.6zM437.0 146.0h0.6v0.6h-0.6zM387.0 166.3h0.6v0.6h-0.6zM411.6 148.3h0.6v0.6h-0.6zM410.7 174.8h0.6v0.6h-0.6zM447.1 171.6h0.6v0.6h-0.6zM405.6 140.6h0.6v0.6h-0.6zM398.5 172.9h0.6v0.6h-0.6zM410.0 139.8h0.6v0.6h-0.6zM388.8 165.0h0.6v0.6h-0.6zM437.6 171.2h0.6v0.6h-0.6zM442.4 149.1h0.6v0.6h-0.6zM396.1 141.5h0.6v0.6h-0.6zM454.8 153.8h0.6v0.6h-0.6zM423.8 168.7h0.6v0.6h-0.6zM450.9 151.5h0.6v0.6h-0.6z" fill="#aaa"/>
<path d="M401.3 169.0 398.8 169.0 396.3 168.4 395.3 167.9 393.6 166.5 392.1 164.5 390.9 162.0 390.5 160.0 390.5 158.0 391.1 155.5 392.2 152.5 393.0 151.0 394.0 150.0 396.3 148.7 398.8 147.7 401.8 147.2 404.3 147.2 405.8 147.7 406.8 148.4 408.3 149.8 409.2 151.0 409.6 152.0 410.2 154.5 410.4 157.0 410.4 159.0 409.7 161.5 407.8 164.2 404.3 167.7 402.8 168.6 401.3 169.0Z" fill="#333" fill-rule="evenodd"/>
<path d="M400.3 167.5 398.8 167.4 397.3 166.9 396.0 166.0 394.5 164.5 393.5 163.0 392.6 161.0 392.3 159.5 392.4 158.0 392.7 156.5 393.7 154.0 394.5 152.5 395.3 151.5 399.8 149.2 401.3 148.9 403.3 149.1 404.3 149.3 405.6 150.0 406.7 151.0 407.5 152.0 408.0 153.0 408.6 155.0 408.7 156.5 408.6 158.0 407.9 160.5 406.8 162.3 404.8 164.2 402.8 166.6 401.8 167.2 400.3 167.5Z" fill="#606060" fill-rule="evenodd"/>
<path d="M400.8 165.6 399.8 165.8 398.8 165.6 397.8 165.2 396.8 164.3 394.7 161.5 394.2 160.0 394.1 158.5 394.4 157.0 395.0 155.5 396.3 153.5 397.5 152.5 399.8 151.1 400.8 150.7 401.8 150.7 402.8 150.9 403.8 151.4 405.5 153.0 406.6 155.0 406.8 157.0 406.4 159.0 405.7 160.5 403.1 163.0 401.6 165.0 400.8 165.6Z" fill="#999" fill-rule="evenodd"/>
<path d="M400.3 163.3 399.3 163.5 398.8 163.3 397.9 162.5 396.7 160.5 396.5 159.0 397.2 156.0 398.1 154.5 399.8 153.2 401.3 152.8 402.0 153.0 402.6 153.5 404.2 155.5 404.8 156.7 404.9 158.0 404.7 159.0 404.1 160.0 400.3 163.3Z" fill="#aaa" fill-rule="evenodd"/>
<path d="M402.8 162.7 402.3 162.9 401.8 162.8 401.4 162.5 400.7 161.0 400.7 160.0 400.9 159.0 401.7 158.0 402.3 157.7 402.8 157.7 403.4 158.0 403.9 158.5 404.2 159.5 404.2 160.5 403.8 161.5 402.8 162.7Z" fill="#222" fill-rule="evenodd"/>
<path d="M450.3 171.6 449.3 171.7 448.3 171.6 444.3 170.4 437.3 170.4 433.3 169.8 429.3 168.9 424.8 168.4 422.3 167.3 418.8 164.6 417.8 164.4 415.3 164.5 412.8 163.9 411.8 164.0 410.8 164.5 406.3 168.7 404.3 169.8 400.8 170.7 399.3 170.7 395.8 170.2 394.3 169.5 391.2 167.5 390.4 166.5 388.2 163.0 387.6 161.5 387.4 160.0 387.9 156.5 389.1 153.5 390.4 151.5 392.0 149.5 393.3 148.3 394.8 147.3 395.8 146.8 397.3 146.3 399.8 146.0 403.3 145.2 404.8 145.2 406.8 145.8 411.3 148.5 412.8 148.9 414.8 148.5 418.3 146.6 419.8 146.1 421.3 146.2 424.3 146.8 427.8 147.0 434.8 148.0 438.8 149.7 442.8 150.2 448.8 151.9 449.8 152.8 453.3 157.2 456.6 159.5 458.5 161.5 459.0 162.5 459.5 165.0 459.5 166.0 459.0 167.0 457.5 168.5 455.8 169.6 450.3 171.6Z" fill="none" stroke="#111" stroke-width="0.45" stroke-opacity="1.0"/>
<path d="M449.8 171.0 448.3 171.0 444.3 169.8 436.8 169.9 429.3 168.2 424.8 167.6 423.8 167.3 422.3 166.4 419.3 163.5 417.8 163.0 412.8 163.0 411.3 163.3 410.3 164.0 405.8 168.3 404.3 169.2 402.8 169.8 400.3 170.2 396.3 169.7 394.8 169.1 392.8 167.8 391.8 167.0 391.0 166.0 389.4 163.0 388.7 161.0 388.5 159.0 388.9 156.5 389.6 154.5 391.1 151.5 392.2 150.0 393.3 149.0 396.8 147.1 402.8 145.9 404.3 145.8 406.3 146.3 407.8 147.1 411.8 150.2 412.8 150.4 413.8 150.2 418.3 147.5 419.3 147.1 420.3 147.0 427.3 147.7 430.8 148.6 434.8 148.9 438.8 150.7 441.8 151.2 446.8 152.3 448.3 153.0 450.6 155.5 452.8 158.7 455.2 160.5 456.0 161.5 457.0 163.5 457.7 165.5 457.6 166.5 457.0 167.5 456.0 168.5 454.8 169.3 451.3 170.7 449.8 171.0Z" fill="none" stroke="#111" stroke-width="0.45" stroke-opacity="1.0"/>
<path d="M449.3 170.5 448.3 170.4 445.4 169.5 444.3 169.3 438.8 169.5 436.3 169.3 429.3 167.6 424.8 166.9 423.3 166.3 422.3 165.5 419.8 162.5 418.8 162.1 417.8 161.9 412.8 162.1 411.3 162.5 409.8 163.5 405.3 167.9 402.8 169.2 400.3 169.6 396.8 169.2 395.3 168.6 393.8 167.7 392.4 166.5 391.7 165.5 390.1 162.5 389.7 161.0 389.4 159.0 389.6 157.0 390.4 154.5 391.5 152.0 392.4 150.5 393.3 149.6 394.8 148.7 396.8 147.7 398.3 147.3 401.8 146.7 404.3 146.5 405.8 146.8 406.8 147.3 409.0 149.0 411.8 152.0 412.3 152.3 412.8 152.3 413.8 151.9 416.3 149.6 417.8 148.7 418.8 148.2 420.3 147.9 427.3 148.5 430.8 149.5 434.3 149.7 435.8 150.2 439.3 151.9 443.8 152.9 446.3 153.3 447.8 153.9 449.8 156.0 451.8 159.3 453.9 161.0 454.8 162.0 455.6 163.5 456.2 165.5 456.2 166.5 455.7 167.5 454.6 168.5 453.3 169.2 450.8 170.3 449.3 170.5Z" fill="none" stroke="#111" stroke-width="0.45" stroke-opacity="1.0"/>
<path d="M450.8 169.7 448.8 169.9 445.4 169.0 443.8 168.8 438.8 169.0 436.3 168.9 429.3 167.0 425.3 166.3 423.8 165.7 422.8 165.0 422.0 164.0 420.8 162.0 420.3 161.6 419.3 161.1 417.8 160.9 413.3 161.0 411.3 161.5 409.8 162.6 404.8 167.5 402.8 168.7 400.3 169.2 397.3 168.7 395.8 168.2 394.3 167.2 393.0 166.0 392.0 164.5 391.0 162.5 390.4 161.0 390.2 159.0 390.4 157.0 391.9 152.5 393.3 150.3 394.8 149.3 397.3 148.2 398.8 147.7 401.3 147.3 404.3 147.1 405.3 147.3 406.8 148.1 409.5 150.5 410.1 151.5 411.3 154.0 411.8 154.6 412.3 154.7 413.3 154.2 414.3 153.4 416.2 151.0 417.3 150.0 418.3 149.5 419.8 149.0 422.3 148.8 426.3 149.1 427.8 149.4 430.3 150.3 434.3 150.5 435.8 151.0 438.8 153.0 439.8 153.4 442.9 154.0 446.3 154.3 447.7 155.0 448.8 156.1 449.5 157.0 451.3 160.4 453.8 162.6 454.6 164.0 455.1 165.5 455.1 166.5 454.3 167.7 452.8 168.8 450.8 169.7Z" fill="none" stroke="#111" stroke-width="0.45" stroke-opacity="1.0"/>
<path d="M401.3 168.6 399.3 168.6 396.8 168.0 395.3 167.2 394.0 166.0 392.5 164.0 391.5 162.0 391.0 160.0 390.9 158.0 391.4 156.0 392.6 152.5 393.5 151.0 394.3 150.3 397.3 148.8 399.3 148.1 401.8 147.7 404.3 147.7 406.3 148.5 407.8 149.7 408.9 151.0 409.7 152.5 411.7 158.5 411.6 159.0 411.0 160.0 408.9 162.5 404.5 167.0 402.8 168.1 401.3 168.6ZM450.8 169.1 449.8 169.4 448.8 169.4 444.3 168.3 438.8 168.5 436.3 168.4 429.5 166.5 425.3 165.6 424.3 165.2 423.3 164.4 422.7 163.5 421.8 161.1 420.8 160.2 419.8 159.7 418.3 159.4 413.8 159.0 413.1 158.5 413.1 158.0 413.6 157.0 415.4 155.0 416.9 152.0 417.8 151.1 418.8 150.6 422.8 149.8 424.3 149.8 427.3 150.1 430.3 151.1 432.8 151.0 434.3 151.2 435.9 152.0 438.3 154.1 439.3 154.8 441.3 155.2 446.3 155.5 447.3 156.0 448.3 156.9 449.1 158.0 450.3 160.9 452.8 163.4 453.9 165.5 453.9 166.5 453.3 167.5 452.3 168.3 450.8 169.1Z" fill="none" stroke="#111" stroke-width="0.45" stroke-opacity="1.0"/>
<path d="M401.3 168.1 399.8 168.1 397.8 167.7 396.3 167.1 394.8 165.9 393.2 164.0 392.2 162.0 391.6 160.0 391.6 158.0 392.1 156.0 393.2 153.0 393.7 152.0 394.5 151.0 395.8 150.2 399.3 148.7 401.3 148.3 403.8 148.3 405.3 148.8 406.3 149.4 407.6 150.5 408.4 151.5 409.1 153.0 409.6 155.0 409.9 157.0 409.9 158.5 409.2 160.5 407.9 162.5 403.5 167.0 402.3 167.8 401.3 168.1ZM450.3 168.6 448.8 168.8 444.3 167.8 438.8 168.0 436.3 167.8 425.0 164.5 424.3 164.0 423.7 163.0 423.9 159.5 423.3 156.4 422.8 155.3 421.3 153.5 421.1 153.0 422.4 151.5 423.2 151.0 424.3 150.7 426.8 150.9 429.8 152.0 433.3 151.8 434.3 152.1 435.3 152.6 437.8 155.2 439.3 156.1 441.8 156.7 445.3 156.7 446.8 157.1 447.8 157.9 448.2 158.5 449.5 162.0 451.7 164.5 452.4 165.5 452.5 166.5 452.3 167.0 451.3 168.0 450.3 168.6Z" fill="none" stroke="#111" stroke-width="0.45" stroke-opacity="1.0"/>
<path d="M400.8 167.6 399.3 167.5 397.8 167.2 396.3 166.4 395.3 165.5 393.6 163.5 392.8 162.0 392.2 160.0 392.2 158.5 392.6 156.5 393.5 154.0 394.3 152.5 395.1 151.5 396.3 150.7 399.8 149.1 401.3 148.8 402.8 148.9 404.3 149.1 405.3 149.6 406.6 150.5 407.5 151.5 408.1 152.5 408.7 154.0 409.1 156.0 409.1 157.5 408.5 160.0 407.3 162.0 404.8 164.4 402.8 166.7 401.8 167.3 400.8 167.6ZM450.3 167.5 448.8 167.9 444.3 167.2 438.8 167.4 436.3 167.2 434.3 166.7 426.7 164.0 425.9 163.5 425.4 162.5 425.5 159.5 424.8 155.6 424.2 153.5 424.4 152.5 425.2 152.0 425.8 151.9 426.8 152.0 429.8 152.9 433.3 152.7 434.8 153.4 437.3 156.2 439.3 157.4 442.3 158.6 443.3 158.6 445.3 158.3 446.4 158.5 447.3 159.5 448.1 162.5 450.8 166.0 450.8 167.0 450.3 167.5Z" fill="none" stroke="#111" stroke-width="0.45" stroke-opacity="1.0"/>
<path d="M400.3 167.0 398.8 166.9 397.3 166.3 396.2 165.5 394.8 164.0 393.8 162.5 393.1 161.0 392.8 159.5 392.9 158.0 394.1 154.5 394.9 153.0 395.8 152.0 399.8 149.7 401.3 149.4 402.3 149.4 403.8 149.7 404.8 150.2 405.9 151.0 406.9 152.0 407.5 153.0 408.1 154.5 408.3 157.0 407.6 160.0 406.7 161.5 404.3 163.8 402.3 166.3 401.3 166.9 400.3 167.0ZM441.3 166.5 437.3 166.5 435.3 166.2 430.6 164.5 428.4 163.5 427.7 163.0 427.1 162.0 426.4 157.5 426.4 155.5 426.8 154.2 427.8 153.9 432.3 153.7 433.3 153.9 434.1 154.5 437.3 158.0 439.8 159.3 441.8 160.7 444.8 161.4 445.3 161.8 447.5 164.5 448.1 165.5 448.1 166.0 447.3 166.4 441.3 166.5Z" fill="none" stroke="#111" stroke-width="0.45" stroke-opacity="1.0"/>
<path d="M401.3 166.1 400.3 166.4 398.8 166.2 397.8 165.8 396.6 165.0 394.3 162.0 393.6 160.5 393.4 159.0 393.6 157.5 394.1 156.0 395.1 154.0 395.9 153.0 396.8 152.2 399.3 150.7 400.3 150.2 401.8 150.1 403.8 150.6 405.8 152.1 407.1 154.0 407.5 155.5 407.6 156.5 407.1 159.0 406.4 160.5 405.6 161.5 403.8 163.1 402.0 165.5 401.3 166.1ZM441.8 165.1 439.8 165.3 436.8 164.7 434.3 164.5 432.3 164.0 430.4 163.0 429.2 162.0 428.8 161.0 428.0 157.5 428.1 156.5 428.4 156.0 429.0 155.5 429.8 155.3 431.3 155.2 432.3 155.5 433.8 156.8 434.8 158.0 435.4 159.5 435.8 162.0 436.3 162.7 436.8 162.8 438.8 162.0 439.8 162.2 442.3 163.5 442.9 164.0 443.0 164.5 441.8 165.1Z" fill="none" stroke="#111" stroke-width="0.45" stroke-opacity="1.0"/>
<path d="M400.3 165.6 399.3 165.6 398.3 165.3 396.7 164.0 395.3 162.2 394.6 161.0 394.3 160.0 394.2 158.5 394.6 157.0 395.2 155.5 396.5 153.5 397.7 152.5 399.8 151.2 400.8 150.9 401.8 150.8 402.8 151.0 403.7 151.5 405.3 153.1 406.5 155.0 406.7 157.0 406.3 159.0 405.5 160.5 403.3 162.5 401.4 165.0 400.3 165.6ZM433.3 161.5 432.8 161.9 432.3 161.9 431.8 161.6 431.4 161.0 431.3 159.8 431.8 158.9 432.3 158.7 432.8 158.9 433.4 159.5 433.6 160.5 433.3 161.5Z" fill="none" stroke="#111" stroke-width="0.45" stroke-opacity="1.0"/>
<path d="M400.3 164.6 399.8 164.7 398.8 164.5 397.3 163.3 395.5 160.5 395.2 159.5 395.2 158.5 396.0 156.0 397.2 154.0 399.8 152.2 400.8 151.8 401.8 151.7 403.3 152.5 404.9 154.5 405.7 156.0 405.7 158.0 405.5 159.0 404.8 160.2 400.3 164.6Z" fill="none" stroke="#111" stroke-width="0.45" stroke-opacity="1.0"/>
<path d="M399.8 163.2 398.8 163.0 397.8 161.9 397.0 160.5 396.8 159.0 397.8 155.5 398.3 154.7 399.8 153.5 401.3 153.1 402.3 153.6 404.3 156.0 404.7 157.0 404.7 158.5 404.3 159.5 403.8 160.1 400.8 162.6 399.8 163.2Z" fill="none" stroke="#111" stroke-width="0.45" stroke-opacity="1.0"/>
<path d="M400.3 161.1 399.6 161.0 399.1 160.5 398.9 160.0 398.9 159.0 399.6 157.5 400.3 156.4 400.8 156.1 401.8 156.2 403.0 157.0 403.4 157.5 403.5 158.5 403.3 159.1 402.5 160.0 401.3 160.8 400.3 161.1Z" fill="none" stroke="#111" stroke-width="0.45" stroke-opacity="1.0"/>
</g>
<rect x="72.00" y="12.70" width="83.20" height="83.30" fill="none" stroke="#777" stroke-width="1"/>
<path d="M72.0 96.0v2M72.0 96.0h-2M92.8 96.0v2M72.0 75.2h-2M113.6 96.0v2M72.0 54.4h-2M134.4 96.0v2M72.0 33.5h-2M155.2 96.0v2M72.0 12.7h-2M72.0 96.0v1M76.2 96.0v1M80.3 96.0v1M84.5 96.0v1M88.6 96.0v1M92.8 96.0v1M97.0 96.0v1M101.1 96.0v1M105.3 96.0v1M109.4 96.0v1M113.6 96.0v1M117.8 96.0v1M121.9 96.0v1M126.1 96.0v1M130.2 96.0v1M134.4 96.0v1M138.6 96.0v1M142.7 96.0v1M146.9 96.0v1M151.0 96.0v1" stroke="#999" stroke-width="0.6" fill="none"/>
<rect x="159.30" y="12.70" width="83.50" height="83.30" fill="none" stroke="#777" stroke-width="1"/>
<path d="M159.3 96.0v2M159.3 96.0h-2M180.2 96.0v2M159.3 75.2h-2M201.1 96.0v2M159.3 54.4h-2M221.9 96.0v2M159.3 33.5h-2M242.8 96.0v2M159.3 12.7h-2M159.3 96.0v1M163.5 96.0v1M167.7 96.0v1M171.8 96.0v1M176.0 96.0v1M180.2 96.0v1M184.4 96.0v1M188.5 96.0v1M192.7 96.0v1M196.9 96.0v1M201.1 96.0v1M205.2 96.0v1M209.4 96.0v1M213.6 96.0v1M217.8 96.0v1M221.9 96.0v1M226.1 96.0v1M230.3 96.0v1M234.5 96.0v1M238.6 96.0v1" stroke="#999" stroke-width="0.6" fill="none"/>
<rect x="293.20" y="12.50" width="83.20" height="83.10" fill="none" stroke="#777" stroke-width="1"/>
<path d="M293.2 95.6v2M293.2 95.6h-2M314.0 95.6v2M293.2 74.8h-2M334.8 95.6v2M293.2 54.0h-2M355.6 95.6v2M293.2 33.3h-2M376.4 95.6v2M293.2 12.5h-2M293.2 95.6v1M297.4 95.6v1M301.5 95.6v1M305.7 95.6v1M309.8 95.6v1M314.0 95.6v1M318.2 95.6v1M322.3 95.6v1M326.5 95.6v1M330.6 95.6v1M334.8 95.6v1M339.0 95.6v1M343.1 95.6v1M347.3 95.6v1M351.4 95.6v1M355.6 95.6v1M359.8 95.6v1M363.9 95.6v1M368.1 95.6v1M372.2 95.6v1" stroke="#999" stroke-width="0.6" fill="none"/>
<rect x="386.00" y="12.50" width="83.30" height="83.30" fill="none" stroke="#777" stroke-width="1"/>
<path d="M386.0 95.8v2M386.0 95.8h-2M406.8 95.8v2M386.0 75.0h-2M427.6 95.8v2M386.0 54.1h-2M448.5 95.8v2M386.0 33.3h-2M469.3 95.8v2M386.0 12.5h-2M386.0 95.8v1M390.2 95.8v1M394.3 95.8v1M398.5 95.8v1M402.7 95.8v1M406.8 95.8v1M411.0 95.8v1M415.2 95.8v1M419.3 95.8v1M423.5 95.8v1M427.6 95.8v1M431.8 95.8v1M436.0 95.8v1M440.1 95.8v1M444.3 95.8v1M448.5 95.8v1M452.6 95.8v1M456.8 95.8v1M461.0 95.8v1M465.1 95.8v1" stroke="#999" stroke-width="0.6" fill="none"/>
<rect x="72.00" y="115.40" width="83.00" height="82.70" fill="none" stroke="#777" stroke-width="1"/>
<path d="M72.0 198.1v2M72.0 198.1h-2M92.8 198.1v2M72.0 177.4h-2M113.5 198.1v2M72.0 156.8h-2M134.2 198.1v2M72.0 136.1h-2M155.0 198.1v2M72.0 115.4h-2M72.0 198.1v1M76.2 198.1v1M80.3 198.1v1M84.5 198.1v1M88.6 198.1v1M92.8 198.1v1M96.9 198.1v1M101.0 198.1v1M105.2 198.1v1M109.3 198.1v1M113.5 198.1v1M117.7 198.1v1M121.8 198.1v1M126.0 198.1v1M130.1 198.1v1M134.2 198.1v1M138.4 198.1v1M142.6 198.1v1M146.7 198.1v1M150.8 198.1v1" stroke="#999" stroke-width="0.6" fill="none"/>
<rect x="159.30" y="115.40" width="82.50" height="82.60" fill="none" stroke="#777" stroke-width="1"/>
<path d="M159.3 198.0v2M159.3 198.0h-2M179.9 198.0v2M159.3 177.3h-2M200.6 198.0v2M159.3 156.7h-2M221.2 198.0v2M159.3 136.1h-2M241.8 198.0v2M159.3 115.4h-2M159.3 198.0v1M163.4 198.0v1M167.6 198.0v1M171.7 198.0v1M175.8 198.0v1M179.9 198.0v1M184.1 198.0v1M188.2 198.0v1M192.3 198.0v1M196.4 198.0v1M200.6 198.0v1M204.7 198.0v1M208.8 198.0v1M212.9 198.0v1M217.1 198.0v1M221.2 198.0v1M225.3 198.0v1M229.4 198.0v1M233.6 198.0v1M237.7 198.0v1" stroke="#999" stroke-width="0.6" fill="none"/>
<rect x="294.30" y="114.50" width="82.90" height="83.10" fill="none" stroke="#777" stroke-width="1"/>
<path d="M294.3 197.6v2M294.3 197.6h-2M315.0 197.6v2M294.3 176.8h-2M335.8 197.6v2M294.3 156.1h-2M356.5 197.6v2M294.3 135.3h-2M377.2 197.6v2M294.3 114.5h-2M294.3 197.6v1M298.4 197.6v1M302.6 197.6v1M306.7 197.6v1M310.9 197.6v1M315.0 197.6v1M319.2 197.6v1M323.3 197.6v1M327.5 197.6v1M331.6 197.6v1M335.8 197.6v1M339.9 197.6v1M344.0 197.6v1M348.2 197.6v1M352.3 197.6v1M356.5 197.6v1M360.6 197.6v1M364.8 197.6v1M368.9 197.6v1M373.1 197.6v1" stroke="#999" stroke-width="0.6" fill="none"/>
<rect x="386.80" y="114.50" width="81.80" height="83.10" fill="none" stroke="#777" stroke-width="1"/>
<path d="M386.8 197.6v2M386.8 197.6h-2M407.2 197.6v2M386.8 176.8h-2M427.7 197.6v2M386.8 156.1h-2M448.2 197.6v2M386.8 135.3h-2M468.6 197.6v2M386.8 114.5h-2M386.8 197.6v1M390.9 197.6v1M395.0 197.6v1M399.1 197.6v1M403.2 197.6v1M407.2 197.6v1M411.3 197.6v1M415.4 197.6v1M419.5 197.6v1M423.6 197.6v1M427.7 197.6v1M431.8 197.6v1M435.9 197.6v1M440.0 197.6v1M444.1 197.6v1M448.2 197.6v1M452.2 197.6v1M456.3 197.6v1M460.4 197.6v1M464.5 197.6v1" stroke="#999" stroke-width="0.6" fill="none"/>
<text x="113.40" y="10.20" font-size="11.45" text-anchor="middle" font-weight="normal" fill="#111" stroke="#111" stroke-width="0.2">Empty-GFP</text>
<text x="200.45" y="10.20" font-size="11.45" text-anchor="middle" font-weight="normal" fill="#111" stroke="#111" stroke-width="0.2">Tbet-GFP</text>
<text x="337.00" y="10.20" font-size="11.45" text-anchor="middle" font-weight="normal" fill="#111" stroke="#111" stroke-width="0.2">Empty-GFP</text>
<text x="428.30" y="10.20" font-size="11.45" text-anchor="middle" font-weight="normal" fill="#111" stroke="#111" stroke-width="0.2">Tbet-GFP</text>
<text x="159.15" y="109.50" font-size="11" text-anchor="middle" font-weight="normal" fill="#111" stroke="#111" stroke-width="0.2">Tetramer</text>
<text x="383.30" y="109.50" font-size="11" text-anchor="middle" font-weight="normal" fill="#111" stroke="#111" stroke-width="0.2">Tetramer</text>
<text x="157.60" y="211.40" font-size="11.8" text-anchor="middle" font-weight="normal" fill="#111" stroke="#111" stroke-width="0.2">GFP</text>
<text x="381.30" y="211.40" font-size="11.8" text-anchor="middle" font-weight="normal" fill="#111" stroke="#111" stroke-width="0.2">GFP</text>
<text x="63.20" y="57.00" font-size="11" text-anchor="middle" font-weight="normal" fill="#111" stroke="#111" stroke-width="0.2" transform="rotate(-90 63.2 57.0)">TcR&#160;&#946;</text>
<text x="286.50" y="57.00" font-size="11" text-anchor="middle" font-weight="normal" fill="#111" stroke="#111" stroke-width="0.2" transform="rotate(-90 286.5 57.0)">TcR&#160;&#946;</text>
<text x="64.20" y="159.75" font-size="11" text-anchor="middle" font-weight="normal" fill="#111" stroke="#111" stroke-width="0.2" transform="rotate(-90 64.2 159.75)">Tetramer</text>
<text x="287.50" y="159.00" font-size="11" text-anchor="middle" font-weight="normal" fill="#111" stroke="#111" stroke-width="0.2" transform="rotate(-90 287.5 159.0)">Tetramer</text>
<text x="135.30" y="38.60" font-size="11" text-anchor="middle" font-weight="normal" fill="#111" stroke="#111" stroke-width="0.2">3.2%</text>
<text x="224.80" y="38.60" font-size="11" text-anchor="middle" font-weight="normal" fill="#111" stroke="#111" stroke-width="0.2">6.4%</text>
<text x="358.10" y="39.00" font-size="11" text-anchor="middle" font-weight="normal" fill="#111" stroke="#111" stroke-width="0.2">5.7%</text>
<text x="451.60" y="39.00" font-size="11" text-anchor="middle" font-weight="normal" fill="#111" stroke="#111" stroke-width="0.2">6.3%</text>
<text x="134.70" y="137.20" font-size="11" text-anchor="middle" font-weight="normal" fill="#111" stroke="#111" stroke-width="0.2">15%</text>
<text x="223.85" y="137.20" font-size="11" text-anchor="middle" font-weight="normal" fill="#111" stroke="#111" stroke-width="0.2">10%</text>
<text x="356.45" y="140.00" font-size="11" text-anchor="middle" font-weight="normal" fill="#111" stroke="#111" stroke-width="0.2">21%</text>
<text x="449.80" y="140.00" font-size="11" text-anchor="middle" font-weight="normal" fill="#111" stroke="#111" stroke-width="0.2">7%</text>
<rect x="103.60" y="139.30" width="47.40" height="31.10" fill="none" stroke="#666" stroke-width="0.9"/>
<rect x="190.50" y="139.30" width="47.50" height="31.10" fill="none" stroke="#666" stroke-width="0.9"/>
<rect x="327.50" y="142.30" width="40.90" height="28.90" fill="none" stroke="#666" stroke-width="0.9"/>
<rect x="419.60" y="142.50" width="39.80" height="28.70" fill="none" stroke="#666" stroke-width="0.9"/>
<line x1="115.50" y1="64.00" x2="115.50" y2="117.50" stroke="#666" stroke-width="0.9"/>
<path d="M111.90 112.50 L119.10 112.50 L115.50 123.50 Z" fill="#000"/>
<line x1="202.50" y1="64.00" x2="202.50" y2="117.50" stroke="#666" stroke-width="0.9"/>
<path d="M198.90 112.50 L206.10 112.50 L202.50 123.50 Z" fill="#000"/>
<line x1="339.40" y1="50.00" x2="339.40" y2="117.50" stroke="#666" stroke-width="0.9"/>
<path d="M335.80 112.50 L343.00 112.50 L339.40 123.50 Z" fill="#000"/>
<line x1="426.60" y1="68.00" x2="426.60" y2="117.50" stroke="#666" stroke-width="0.9"/>
<path d="M423.00 112.50 L430.20 112.50 L426.60 123.50 Z" fill="#000"/>
</svg>
</body></html>
